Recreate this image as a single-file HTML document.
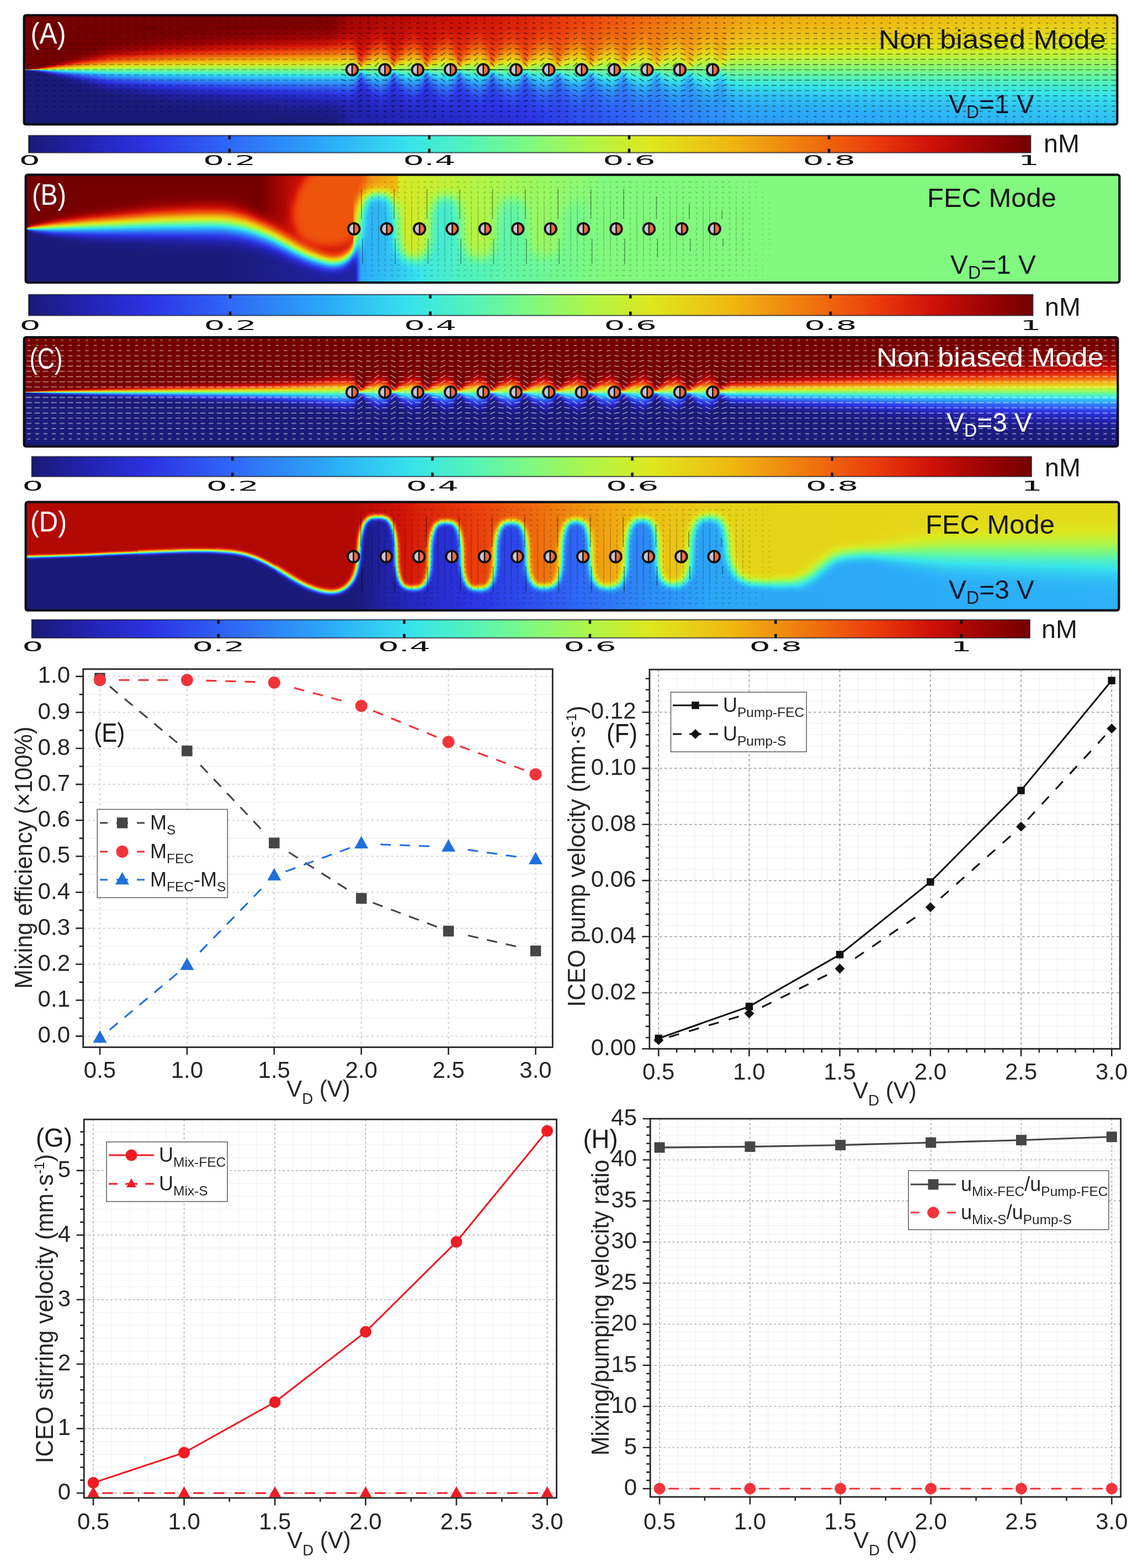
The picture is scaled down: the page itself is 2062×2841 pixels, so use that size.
<!DOCTYPE html>
<html lang="en"><head><meta charset="utf-8"><title>Figure</title>
<style>html,body{margin:0;padding:0;background:#fff}svg{display:block}text{font-family:"Liberation Sans",sans-serif}.dv{font-family:"DejaVu Sans","Liberation Sans",sans-serif}</style></head><body>
<svg width="2062" height="2841" viewBox="0 0 2062 2841">
<defs>
<filter id="jet" x="0" y="0" width="2062" height="1200" filterUnits="userSpaceOnUse" color-interpolation-filters="sRGB"><feComponentTransfer><feFuncR type="table" tableValues="0.102 0.115 0.128 0.141 0.152 0.162 0.173 0.176 0.18 0.184 0.188 0.185 0.182 0.179 0.176 0.173 0.184 0.196 0.208 0.22 0.256 0.293 0.329 0.387 0.444 0.502 0.565 0.627 0.69 0.75 0.81 0.871 0.888 0.906 0.924 0.941 0.941 0.941 0.941 0.941 0.936 0.931 0.925 0.889 0.852 0.816 0.74 0.665 0.593 0.524 0.455"/><feFuncG type="table" tableValues="0.102 0.115 0.128 0.141 0.162 0.183 0.204 0.255 0.306 0.357 0.408 0.461 0.515 0.568 0.621 0.675 0.729 0.784 0.839 0.894 0.915 0.936 0.957 0.965 0.973 0.98 0.975 0.97 0.965 0.946 0.928 0.91 0.863 0.816 0.769 0.722 0.655 0.588 0.522 0.455 0.387 0.319 0.251 0.191 0.131 0.071 0.049 0.027 0.013 0.006 0"/><feFuncB type="table" tableValues="0.471 0.549 0.627 0.706 0.769 0.831 0.894 0.912 0.929 0.947 0.965 0.966 0.968 0.969 0.971 0.973 0.961 0.949 0.937 0.925 0.858 0.79 0.722 0.648 0.575 0.502 0.429 0.356 0.282 0.227 0.173 0.118 0.106 0.094 0.082 0.071 0.067 0.063 0.059 0.055 0.052 0.05 0.047 0.042 0.037 0.031 0.025 0.019 0.013 0.006 0"/></feComponentTransfer></filter>
<linearGradient id="erf" x1="0" y1="0" x2="0" y2="1"><stop offset="0" stop-color="#ffffff"/><stop offset="0.0625" stop-color="#fefefe"/><stop offset="0.125" stop-color="#fdfdfd"/><stop offset="0.1875" stop-color="#fafafa"/><stop offset="0.25" stop-color="#f2f2f2"/><stop offset="0.3125" stop-color="#e3e3e3"/><stop offset="0.375" stop-color="#cacaca"/><stop offset="0.4375" stop-color="#a8a8a8"/><stop offset="0.5" stop-color="#808080"/><stop offset="0.5625" stop-color="#575757"/><stop offset="0.625" stop-color="#353535"/><stop offset="0.6875" stop-color="#1c1c1c"/><stop offset="0.75" stop-color="#0d0d0d"/><stop offset="0.8125" stop-color="#050505"/><stop offset="0.875" stop-color="#020202"/><stop offset="0.9375" stop-color="#010101"/><stop offset="1" stop-color="#000000"/></linearGradient>
<filter id="bx2" x="0" y="0" width="2062" height="1200" filterUnits="userSpaceOnUse" color-interpolation-filters="sRGB"><feGaussianBlur stdDeviation="2.5 0"/></filter>
<filter id="b4" x="0" y="0" width="2062" height="1200" filterUnits="userSpaceOnUse" color-interpolation-filters="sRGB"><feGaussianBlur stdDeviation="4"/></filter>
<filter id="b8" x="0" y="0" width="2062" height="1200" filterUnits="userSpaceOnUse" color-interpolation-filters="sRGB"><feGaussianBlur stdDeviation="8"/></filter>
<filter id="b20" x="0" y="0" width="2062" height="1200" filterUnits="userSpaceOnUse" color-interpolation-filters="sRGB"><feGaussianBlur stdDeviation="20"/></filter>
<clipPath id="cpA"><rect x="42" y="26" width="1984" height="201" rx="4"/></clipPath>
<linearGradient id="loA" gradientUnits="userSpaceOnUse" x1="42" x2="2026" y1="0" y2="0"><stop offset="0" stop-color="#000000"/><stop offset="0.2812" stop-color="#000000"/><stop offset="0.3014" stop-color="#0d0d0d"/><stop offset="0.4526" stop-color="#1c1c1c"/><stop offset="0.6593" stop-color="#454545"/><stop offset="1" stop-color="#525252"/></linearGradient>
<linearGradient id="hiA" gradientUnits="userSpaceOnUse" x1="42" x2="2026" y1="0" y2="0"><stop offset="0" stop-color="#ffffff"/><stop offset="0.2812" stop-color="#ffffff"/><stop offset="0.3014" stop-color="#f2f2f2"/><stop offset="0.4526" stop-color="#e3e3e3"/><stop offset="0.6593" stop-color="#bababa"/><stop offset="1" stop-color="#adadad"/></linearGradient>
<mask id="mA" maskUnits="userSpaceOnUse" x="32" y="16" width="2004" height="221"><rect x="32" y="16" width="2004" height="221" fill="#000"/><g filter="url(#bx2)"><path d="M34,16L34,127.2 h4L38,127.2 h4L42,127 h4L46,126.7 h4L50,126.2 h4L54,125.4 h4L58,124.6 h4L62,123.8 h4L66,123 h4L70,122.2 h4L74,120.6 h4L78,118.8 h4L82,117 h4L86,115.2 h4L90,113.4 h4L94,111.6 h4L98,109.8 h4L102,108 h4L106,106.2 h4L110,104.4 h4L114,102.6 h4L118,100.8 h4L122,99.1 h4L126,97.4 h4L130,95.6 h4L134,93.9 h4L138,92.2 h4L142,90.5 h4L146,88.7 h4L150,87 h4L154,85.3 h4L158,83.6 h4L162,81.8 h4L166,80.1 h4L170,78.4 h4L174,76.7 h4L178,74.9 h4L182,73.2 h4L186,71.5 h4L190,69.8 h4L194,68 h4L198,66.3 h4L202,65.5 h4L206,64.6 h4L210,63.8 h4L214,63 h4L218,62.2 h4L222,61.3 h4L226,60.5 h4L230,59.7 h4L234,58.8 h4L238,58 h4L242,57.2 h4L246,56.4 h4L250,55.5 h4L254,54.7 h4L258,53.9 h4L262,53.1 h4L266,52.2 h4L270,51.4 h4L274,50.6 h4L278,49.7 h4L282,48.9 h4L286,48.1 h4L290,47.3 h4L294,46.4 h4L298,45.6 h4L302,45 h4L306,44.5 h4L310,43.9 h4L314,43.4 h4L318,42.8 h4L322,42.3 h4L326,41.7 h4L330,41.2 h4L334,40.6 h4L338,40.1 h4L342,39.5 h4L346,39 h4L350,38.4 h4L354,37.9 h4L358,37.3 h4L362,36.8 h4L366,36.2 h4L370,35.7 h4L374,35.1 h4L378,34.6 h4L382,34 h4L386,33.5 h4L390,32.9 h4L394,32.4 h4L398,31.8 h4L402,31.3 h4L406,30.9 h4L410,30.4 h4L414,30 h4L418,29.5 h4L422,29 h4L426,28.6 h4L430,28.1 h4L434,27.7 h4L438,27.2 h4L442,26.7 h4L446,26.3 h4L450,25.8 h4L454,25.4 h4L458,24.9 h4L462,24.4 h4L466,24 h4L470,23.5 h4L474,23.1 h4L478,22.6 h4L482,22.1 h4L486,21.7 h4L490,21.2 h4L494,20.8 h4L498,20.3 h4L502,19.8 h4L506,19.4 h4L510,18.9 h4L514,18.5 h4L518,18 h4L522,18 h4L526,18 h4L530,18 h4L534,18 h4L538,18 h4L542,18 h4L546,18 h4L550,18 h4L554,18 h4L558,18 h4L562,18 h4L566,18 h4L570,18 h4L574,18 h4L578,18 h4L582,18 h4L586,18 h4L590,18 h4L594,18 h4L598,18 h4L602,18 h4L606,18 h4L610,18 h4L614,18 h4L618,18 h4L622,18 h4L626,18 h4L630,18 h4L634,18 h4L638,18 h4L642,18 h4L646,18 h4L650,18 h4L654,18 h4L658,18 h4L662,18 h4L666,18 h4L670,18 h4L674,18 h4L678,18 h4L682,18 h4L686,18 h4L690,18 h4L694,18 h4L698,18 h4L702,18 h4L706,18 h4L710,18 h4L714,18 h4L718,18 h4L722,18 h4L726,18 h4L730,18 h4L734,18 h4L738,18 h4L742,18 h4L746,18 h4L750,18 h4L754,18 h4L758,18 h4L762,18 h4L766,18 h4L770,18 h4L774,18 h4L778,18 h4L782,18 h4L786,18 h4L790,18 h4L794,18 h4L798,18 h4L802,18 h4L806,18 h4L810,18 h4L814,18 h4L818,18 h4L822,18 h4L826,18 h4L830,18 h4L834,18 h4L838,18 h4L842,18 h4L846,18 h4L850,18 h4L854,18 h4L858,18 h4L862,18 h4L866,18 h4L870,18 h4L874,18 h4L878,18 h4L882,18 h4L886,18 h4L890,18 h4L894,18 h4L898,18 h4L902,18 h4L906,18 h4L910,18 h4L914,18 h4L918,18 h4L922,18 h4L926,18 h4L930,18 h4L934,18 h4L938,18 h4L942,18 h4L946,18 h4L950,18 h4L954,18 h4L958,18 h4L962,18 h4L966,18 h4L970,18 h4L974,18 h4L978,18 h4L982,18 h4L986,18 h4L990,18 h4L994,18 h4L998,18 h4L1002,18 h4L1006,18 h4L1010,18 h4L1014,18 h4L1018,18 h4L1022,18 h4L1026,18 h4L1030,18 h4L1034,18 h4L1038,18 h4L1042,18 h4L1046,18 h4L1050,18 h4L1054,18 h4L1058,18 h4L1062,18 h4L1066,18 h4L1070,18 h4L1074,18 h4L1078,18 h4L1082,18 h4L1086,18 h4L1090,18 h4L1094,18 h4L1098,18 h4L1102,18 h4L1106,18 h4L1110,18 h4L1114,18 h4L1118,18 h4L1122,18 h4L1126,18 h4L1130,18 h4L1134,18 h4L1138,18 h4L1142,18 h4L1146,18 h4L1150,18 h4L1154,18 h4L1158,18 h4L1162,18 h4L1166,18 h4L1170,18 h4L1174,18 h4L1178,18 h4L1182,18 h4L1186,18 h4L1190,18 h4L1194,18 h4L1198,18 h4L1202,18 h4L1206,18 h4L1210,18 h4L1214,18 h4L1218,18 h4L1222,18 h4L1226,18 h4L1230,18 h4L1234,18 h4L1238,18 h4L1242,18 h4L1246,18 h4L1250,18 h4L1254,18 h4L1258,18 h4L1262,18 h4L1266,18 h4L1270,18 h4L1274,18 h4L1278,18 h4L1282,18 h4L1286,18 h4L1290,18 h4L1294,18 h4L1298,18 h4L1302,18 h4L1306,18 h4L1310,18 h4L1314,18 h4L1318,18 h4L1322,18 h4L1326,18 h4L1330,18 h4L1334,18 h4L1338,18 h4L1342,18 h4L1346,18 h4L1350,18 h4L1354,18 h4L1358,18 h4L1362,18 h4L1366,18 h4L1370,18 h4L1374,18 h4L1378,18 h4L1382,18 h4L1386,18 h4L1390,18 h4L1394,18 h4L1398,18 h4L1402,18 h4L1406,18 h4L1410,18 h4L1414,18 h4L1418,18 h4L1422,18 h4L1426,18 h4L1430,18 h4L1434,18 h4L1438,18 h4L1442,18 h4L1446,18 h4L1450,18 h4L1454,18 h4L1458,18 h4L1462,18 h4L1466,18 h4L1470,18 h4L1474,18 h4L1478,18 h4L1482,18 h4L1486,18 h4L1490,18 h4L1494,18 h4L1498,18 h4L1502,18 h4L1506,18 h4L1510,18 h4L1514,18 h4L1518,18 h4L1522,18 h4L1526,18 h4L1530,18 h4L1534,18 h4L1538,18 h4L1542,18 h4L1546,18 h4L1550,18 h4L1554,18 h4L1558,18 h4L1562,18 h4L1566,18 h4L1570,18 h4L1574,18 h4L1578,18 h4L1582,18 h4L1586,18 h4L1590,18 h4L1594,18 h4L1598,18 h4L1602,18 h4L1606,18 h4L1610,18 h4L1614,18 h4L1618,18 h4L1622,18 h4L1626,18 h4L1630,18 h4L1634,18 h4L1638,18 h4L1642,18 h4L1646,18 h4L1650,18 h4L1654,18 h4L1658,18 h4L1662,18 h4L1666,18 h4L1670,18 h4L1674,18 h4L1678,18 h4L1682,18 h4L1686,18 h4L1690,18 h4L1694,18 h4L1698,18 h4L1702,18 h4L1706,18 h4L1710,18 h4L1714,18 h4L1718,18 h4L1722,18 h4L1726,18 h4L1730,18 h4L1734,18 h4L1738,18 h4L1742,18 h4L1746,18 h4L1750,18 h4L1754,18 h4L1758,18 h4L1762,18 h4L1766,18 h4L1770,18 h4L1774,18 h4L1778,18 h4L1782,18 h4L1786,18 h4L1790,18 h4L1794,18 h4L1798,18 h4L1802,18 h4L1806,18 h4L1810,18 h4L1814,18 h4L1818,18 h4L1822,18 h4L1826,18 h4L1830,18 h4L1834,18 h4L1838,18 h4L1842,18 h4L1846,18 h4L1850,18 h4L1854,18 h4L1858,18 h4L1862,18 h4L1866,18 h4L1870,18 h4L1874,18 h4L1878,18 h4L1882,18 h4L1886,18 h4L1890,18 h4L1894,18 h4L1898,18 h4L1902,18 h4L1906,18 h4L1910,18 h4L1914,18 h4L1918,18 h4L1922,18 h4L1926,18 h4L1930,18 h4L1934,18 h4L1938,18 h4L1942,18 h4L1946,18 h4L1950,18 h4L1954,18 h4L1958,18 h4L1962,18 h4L1966,18 h4L1970,18 h4L1974,18 h4L1978,18 h4L1982,18 h4L1986,18 h4L1990,18 h4L1994,18 h4L1998,18 h4L2002,18 h4L2006,18 h4L2010,18 h4L2014,18 h4L2018,18 h4L2022,18 h4L2026,18 h4L2030,18 h4L2034,16Z" fill="#fff"/><g fill="url(#erf)"><rect x="34" y="125.2" width="4.3" height="2.3"/><rect x="38" y="125.2" width="4.3" height="2.3"/><rect x="42" y="125" width="4.3" height="2.9"/><rect x="46" y="124.7" width="4.3" height="3.4"/><rect x="50" y="124.2" width="4.3" height="4.5"/><rect x="54" y="123.4" width="4.3" height="6.1"/><rect x="58" y="122.6" width="4.3" height="7.7"/><rect x="62" y="121.8" width="4.3" height="9.3"/><rect x="66" y="121" width="4.3" height="10.9"/><rect x="70" y="120.2" width="4.3" height="12.5"/><rect x="74" y="118.6" width="4.3" height="15.6"/><rect x="78" y="116.8" width="4.3" height="19.2"/><rect x="82" y="115" width="4.3" height="22.8"/><rect x="86" y="113.2" width="4.3" height="26.4"/><rect x="90" y="111.4" width="4.3" height="30"/><rect x="94" y="109.6" width="4.3" height="33.6"/><rect x="98" y="107.8" width="4.3" height="37.2"/><rect x="102" y="106" width="4.3" height="40.8"/><rect x="106" y="104.2" width="4.3" height="44.4"/><rect x="110" y="102.4" width="4.3" height="48"/><rect x="114" y="100.6" width="4.3" height="51.6"/><rect x="118" y="98.8" width="4.3" height="55.2"/><rect x="122" y="97.1" width="4.3" height="58.6"/><rect x="126" y="95.4" width="4.3" height="62.1"/><rect x="130" y="93.6" width="4.3" height="65.5"/><rect x="134" y="91.9" width="4.3" height="69"/><rect x="138" y="90.2" width="4.3" height="72.4"/><rect x="142" y="88.5" width="4.3" height="75.9"/><rect x="146" y="86.7" width="4.3" height="79.3"/><rect x="150" y="85" width="4.3" height="82.8"/><rect x="154" y="83.3" width="4.3" height="86.2"/><rect x="158" y="81.6" width="4.3" height="89.7"/><rect x="162" y="79.8" width="4.3" height="93.1"/><rect x="166" y="78.1" width="4.3" height="96.6"/><rect x="170" y="76.4" width="4.3" height="100"/><rect x="174" y="74.7" width="4.3" height="103.5"/><rect x="178" y="72.9" width="4.3" height="106.9"/><rect x="182" y="71.2" width="4.3" height="110.4"/><rect x="186" y="69.5" width="4.3" height="113.8"/><rect x="190" y="67.8" width="4.3" height="117.3"/><rect x="194" y="66" width="4.3" height="120.7"/><rect x="198" y="64.3" width="4.3" height="124.2"/><rect x="202" y="63.5" width="4.3" height="125.9"/><rect x="206" y="62.6" width="4.3" height="127.5"/><rect x="210" y="61.8" width="4.3" height="129.2"/><rect x="214" y="61" width="4.3" height="130.8"/><rect x="218" y="60.2" width="4.3" height="132.5"/><rect x="222" y="59.3" width="4.3" height="134.1"/><rect x="226" y="58.5" width="4.3" height="135.8"/><rect x="230" y="57.7" width="4.3" height="137.4"/><rect x="234" y="56.8" width="4.3" height="139.1"/><rect x="238" y="56" width="4.3" height="140.8"/><rect x="242" y="55.2" width="4.3" height="142.4"/><rect x="246" y="54.4" width="4.3" height="144.1"/><rect x="250" y="53.5" width="4.3" height="145.7"/><rect x="254" y="52.7" width="4.3" height="147.4"/><rect x="258" y="51.9" width="4.3" height="149"/><rect x="262" y="51.1" width="4.3" height="150.7"/><rect x="266" y="50.2" width="4.3" height="152.4"/><rect x="270" y="49.4" width="4.3" height="154"/><rect x="274" y="48.6" width="4.3" height="155.7"/><rect x="278" y="47.7" width="4.3" height="157.3"/><rect x="282" y="46.9" width="4.3" height="159"/><rect x="286" y="46.1" width="4.3" height="160.6"/><rect x="290" y="45.3" width="4.3" height="162.3"/><rect x="294" y="44.4" width="4.3" height="163.9"/><rect x="298" y="43.6" width="4.3" height="165.6"/><rect x="302" y="43" width="4.3" height="166.7"/><rect x="306" y="42.5" width="4.3" height="167.8"/><rect x="310" y="41.9" width="4.3" height="168.9"/><rect x="314" y="41.4" width="4.3" height="170"/><rect x="318" y="40.8" width="4.3" height="171.1"/><rect x="322" y="40.3" width="4.3" height="172.2"/><rect x="326" y="39.7" width="4.3" height="173.3"/><rect x="330" y="39.2" width="4.3" height="174.4"/><rect x="334" y="38.6" width="4.3" height="175.5"/><rect x="338" y="38.1" width="4.3" height="176.6"/><rect x="342" y="37.5" width="4.3" height="177.7"/><rect x="346" y="37" width="4.3" height="178.8"/><rect x="350" y="36.4" width="4.3" height="180"/><rect x="354" y="35.9" width="4.3" height="181.1"/><rect x="358" y="35.3" width="4.3" height="182.2"/><rect x="362" y="34.8" width="4.3" height="183.3"/><rect x="366" y="34.2" width="4.3" height="184.4"/><rect x="370" y="33.7" width="4.3" height="185.5"/><rect x="374" y="33.1" width="4.3" height="186.6"/><rect x="378" y="32.6" width="4.3" height="187.7"/><rect x="382" y="32" width="4.3" height="188.8"/><rect x="386" y="31.5" width="4.3" height="189.9"/><rect x="390" y="30.9" width="4.3" height="191"/><rect x="394" y="30.4" width="4.3" height="192.1"/><rect x="398" y="29.8" width="4.3" height="193.2"/><rect x="402" y="29.3" width="4.3" height="194.1"/><rect x="406" y="28.9" width="4.3" height="195"/><rect x="410" y="28.4" width="4.3" height="196"/><rect x="414" y="28" width="4.3" height="196.9"/><rect x="418" y="27.5" width="4.3" height="197.8"/><rect x="422" y="27" width="4.3" height="198.7"/><rect x="426" y="26.6" width="4.3" height="199.6"/><rect x="430" y="26.1" width="4.3" height="200.6"/><rect x="434" y="25.7" width="4.3" height="201.5"/><rect x="438" y="25.2" width="4.3" height="202.4"/><rect x="442" y="24.7" width="4.3" height="203.3"/><rect x="446" y="24.3" width="4.3" height="204.2"/><rect x="450" y="23.8" width="4.3" height="205.2"/><rect x="454" y="23.4" width="4.3" height="206.1"/><rect x="458" y="22.9" width="4.3" height="207"/><rect x="462" y="22.4" width="4.3" height="207.9"/><rect x="466" y="22" width="4.3" height="208.8"/><rect x="470" y="21.5" width="4.3" height="209.8"/><rect x="474" y="21.1" width="4.3" height="210.7"/><rect x="478" y="20.6" width="4.3" height="211.6"/><rect x="482" y="20.1" width="4.3" height="212.5"/><rect x="486" y="19.7" width="4.3" height="213.4"/><rect x="490" y="19.2" width="4.3" height="214.4"/><rect x="494" y="18.8" width="4.3" height="215.3"/><rect x="498" y="18.3" width="4.3" height="216.2"/><rect x="502" y="17.8" width="4.3" height="217.1"/><rect x="506" y="17.4" width="4.3" height="218"/><rect x="510" y="16.9" width="4.3" height="219"/><rect x="514" y="16.5" width="4.3" height="219.9"/><rect x="518" y="16" width="4.3" height="220.8"/><rect x="522" y="15.5" width="4.3" height="221.7"/><rect x="526" y="15.1" width="4.3" height="222.6"/><rect x="530" y="14.6" width="4.3" height="223.6"/><rect x="534" y="14.2" width="4.3" height="224.5"/><rect x="538" y="13.7" width="4.3" height="225.4"/><rect x="542" y="13.2" width="4.3" height="226.3"/><rect x="546" y="12.8" width="4.3" height="227.2"/><rect x="550" y="12.3" width="4.3" height="228.2"/><rect x="554" y="11.9" width="4.3" height="229.1"/><rect x="558" y="11.4" width="4.3" height="230"/><rect x="562" y="10.9" width="4.3" height="230.9"/><rect x="566" y="10.5" width="4.3" height="231.8"/><rect x="570" y="10" width="4.3" height="232.8"/><rect x="574" y="9.6" width="4.3" height="233.7"/><rect x="578" y="9.1" width="4.3" height="234.6"/><rect x="582" y="8.6" width="4.3" height="235.5"/><rect x="586" y="8.2" width="4.3" height="236.4"/><rect x="590" y="7.7" width="4.3" height="237.4"/><rect x="594" y="7.3" width="4.3" height="238.3"/><rect x="598" y="6.8" width="4.3" height="239.2"/><rect x="602" y="6.5" width="4.3" height="239.9"/><rect x="606" y="6.1" width="4.3" height="240.6"/><rect x="610" y="5.8" width="4.3" height="241.3"/><rect x="614" y="5.4" width="4.3" height="241.9"/><rect x="618" y="5.1" width="4.3" height="242.6"/><rect x="622" y="4.7" width="4.3" height="243.3"/><rect x="626" y="4.4" width="4.3" height="244"/><rect x="630" y="4.1" width="4.3" height="244.7"/><rect x="634" y="3.7" width="4.3" height="245.4"/><rect x="638" y="3.4" width="4.3" height="246.1"/><rect x="642" y="3" width="4.3" height="246.8"/><rect x="646" y="2.7" width="4.3" height="247.4"/><rect x="650" y="2.3" width="4.3" height="248.1"/><rect x="654" y="2" width="4.3" height="248.8"/><rect x="658" y="1.6" width="4.3" height="249.5"/><rect x="662" y="1.3" width="4.3" height="250.2"/><rect x="666" y="1" width="4.3" height="250.9"/><rect x="670" y="0.6" width="4.3" height="251.6"/><rect x="674" y="0.3" width="4.3" height="252.3"/><rect x="678" y="-0.1" width="4.3" height="252.9"/><rect x="682" y="-0.4" width="4.3" height="253.6"/><rect x="686" y="-0.8" width="4.3" height="254.3"/><rect x="690" y="-1.1" width="4.3" height="255"/><rect x="694" y="-1.4" width="4.3" height="255.7"/><rect x="698" y="-1.8" width="4.3" height="256.4"/><rect x="702" y="-2.1" width="4.3" height="257.1"/><rect x="706" y="-2.5" width="4.3" height="257.7"/><rect x="710" y="-2.8" width="4.3" height="258.4"/><rect x="714" y="-3.2" width="4.3" height="259.1"/><rect x="718" y="-3.5" width="4.3" height="259.8"/><rect x="722" y="-3.8" width="4.3" height="260.5"/><rect x="726" y="-4.2" width="4.3" height="261.2"/><rect x="730" y="-4.5" width="4.3" height="261.9"/><rect x="734" y="-4.9" width="4.3" height="262.6"/><rect x="738" y="-5.2" width="4.3" height="263.2"/><rect x="742" y="-5.6" width="4.3" height="263.9"/><rect x="746" y="-5.9" width="4.3" height="264.6"/><rect x="750" y="-6.3" width="4.3" height="265.3"/><rect x="754" y="-6.6" width="4.3" height="266"/><rect x="758" y="-6.9" width="4.3" height="266.7"/><rect x="762" y="-7.3" width="4.3" height="267.4"/><rect x="766" y="-7.6" width="4.3" height="268.1"/><rect x="770" y="-8" width="4.3" height="268.7"/><rect x="774" y="-8.3" width="4.3" height="269.4"/><rect x="778" y="-8.7" width="4.3" height="270.1"/><rect x="782" y="-9" width="4.3" height="270.8"/><rect x="786" y="-9.3" width="4.3" height="271.5"/><rect x="790" y="-9.7" width="4.3" height="272.2"/><rect x="794" y="-10" width="4.3" height="272.9"/><rect x="798" y="-10.4" width="4.3" height="273.5"/><rect x="802" y="-10.7" width="4.3" height="274.2"/><rect x="806" y="-11.1" width="4.3" height="274.9"/><rect x="810" y="-11.4" width="4.3" height="275.6"/><rect x="814" y="-11.7" width="4.3" height="276.3"/><rect x="818" y="-12.1" width="4.3" height="277"/><rect x="822" y="-12.4" width="4.3" height="277.7"/><rect x="826" y="-12.8" width="4.3" height="278.4"/><rect x="830" y="-13.1" width="4.3" height="279"/><rect x="834" y="-13.5" width="4.3" height="279.7"/><rect x="838" y="-13.8" width="4.3" height="280.4"/><rect x="842" y="-14.2" width="4.3" height="281.1"/><rect x="846" y="-14.5" width="4.3" height="281.8"/><rect x="850" y="-14.8" width="4.3" height="282.5"/><rect x="854" y="-15.2" width="4.3" height="283.2"/><rect x="858" y="-15.5" width="4.3" height="283.9"/><rect x="862" y="-15.9" width="4.3" height="284.5"/><rect x="866" y="-16.2" width="4.3" height="285.2"/><rect x="870" y="-16.6" width="4.3" height="285.9"/><rect x="874" y="-16.9" width="4.3" height="286.6"/><rect x="878" y="-17.2" width="4.3" height="287.3"/><rect x="882" y="-17.6" width="4.3" height="288"/><rect x="886" y="-17.9" width="4.3" height="288.7"/><rect x="890" y="-18.3" width="4.3" height="289.3"/><rect x="894" y="-18.6" width="4.3" height="290"/><rect x="898" y="-19" width="4.3" height="290.7"/><rect x="902" y="-19.3" width="4.3" height="291.4"/><rect x="906" y="-19.6" width="4.3" height="292.1"/><rect x="910" y="-20" width="4.3" height="292.8"/><rect x="914" y="-20.3" width="4.3" height="293.5"/><rect x="918" y="-20.7" width="4.3" height="294.2"/><rect x="922" y="-21" width="4.3" height="294.8"/><rect x="926" y="-21.4" width="4.3" height="295.5"/><rect x="930" y="-21.7" width="4.3" height="296.2"/><rect x="934" y="-22.1" width="4.3" height="296.9"/><rect x="938" y="-22.4" width="4.3" height="297.6"/><rect x="942" y="-22.7" width="4.3" height="298.3"/><rect x="946" y="-23.1" width="4.3" height="299"/><rect x="950" y="-23.4" width="4.3" height="299.7"/><rect x="954" y="-23.8" width="4.3" height="300.3"/><rect x="958" y="-24.1" width="4.3" height="301"/><rect x="962" y="-24.5" width="4.3" height="301.7"/><rect x="966" y="-24.8" width="4.3" height="302.4"/><rect x="970" y="-25.1" width="4.3" height="303.1"/><rect x="974" y="-25.5" width="4.3" height="303.8"/><rect x="978" y="-25.8" width="4.3" height="304.5"/><rect x="982" y="-26.2" width="4.3" height="305.1"/><rect x="986" y="-26.5" width="4.3" height="305.8"/><rect x="990" y="-26.9" width="4.3" height="306.5"/><rect x="994" y="-27.2" width="4.3" height="307.2"/><rect x="998" y="-27.5" width="4.3" height="307.9"/><rect x="1002" y="-27.9" width="4.3" height="308.6"/><rect x="1006" y="-28.2" width="4.3" height="309.3"/><rect x="1010" y="-28.6" width="4.3" height="310"/><rect x="1014" y="-28.9" width="4.3" height="310.6"/><rect x="1018" y="-29.3" width="4.3" height="311.3"/><rect x="1022" y="-29.6" width="4.3" height="312"/><rect x="1026" y="-30" width="4.3" height="312.7"/><rect x="1030" y="-30.3" width="4.3" height="313.4"/><rect x="1034" y="-30.6" width="4.3" height="314.1"/><rect x="1038" y="-31" width="4.3" height="314.8"/><rect x="1042" y="-31.3" width="4.3" height="315.4"/><rect x="1046" y="-31.7" width="4.3" height="316.1"/><rect x="1050" y="-32" width="4.3" height="316.8"/><rect x="1054" y="-32.4" width="4.3" height="317.5"/><rect x="1058" y="-32.7" width="4.3" height="318.2"/><rect x="1062" y="-33" width="4.3" height="318.9"/><rect x="1066" y="-33.4" width="4.3" height="319.6"/><rect x="1070" y="-33.7" width="4.3" height="320.3"/><rect x="1074" y="-34.1" width="4.3" height="320.9"/><rect x="1078" y="-34.4" width="4.3" height="321.6"/><rect x="1082" y="-34.8" width="4.3" height="322.3"/><rect x="1086" y="-35.1" width="4.3" height="323"/><rect x="1090" y="-35.4" width="4.3" height="323.7"/><rect x="1094" y="-35.8" width="4.3" height="324.4"/><rect x="1098" y="-36.1" width="4.3" height="325.1"/><rect x="1102" y="-36.5" width="4.3" height="325.8"/><rect x="1106" y="-36.8" width="4.3" height="326.4"/><rect x="1110" y="-37.2" width="4.3" height="327.1"/><rect x="1114" y="-37.5" width="4.3" height="327.8"/><rect x="1118" y="-37.9" width="4.3" height="328.5"/><rect x="1122" y="-38.2" width="4.3" height="329.2"/><rect x="1126" y="-38.5" width="4.3" height="329.9"/><rect x="1130" y="-38.9" width="4.3" height="330.6"/><rect x="1134" y="-39.2" width="4.3" height="331.2"/><rect x="1138" y="-39.6" width="4.3" height="331.9"/><rect x="1142" y="-39.9" width="4.3" height="332.6"/><rect x="1146" y="-40.3" width="4.3" height="333.3"/><rect x="1150" y="-40.6" width="4.3" height="334"/><rect x="1154" y="-40.9" width="4.3" height="334.7"/><rect x="1158" y="-41.3" width="4.3" height="335.4"/><rect x="1162" y="-41.6" width="4.3" height="336.1"/><rect x="1166" y="-42" width="4.3" height="336.7"/><rect x="1170" y="-42.3" width="4.3" height="337.4"/><rect x="1174" y="-42.7" width="4.3" height="338.1"/><rect x="1178" y="-43" width="4.3" height="338.8"/><rect x="1182" y="-43.3" width="4.3" height="339.5"/><rect x="1186" y="-43.7" width="4.3" height="340.2"/><rect x="1190" y="-44" width="4.3" height="340.9"/><rect x="1194" y="-44.4" width="4.3" height="341.6"/><rect x="1198" y="-44.7" width="4.3" height="342.2"/><rect x="1202" y="-45.1" width="4.3" height="342.9"/><rect x="1206" y="-45.4" width="4.3" height="343.6"/><rect x="1210" y="-45.8" width="4.3" height="344.3"/><rect x="1214" y="-46.1" width="4.3" height="345"/><rect x="1218" y="-46.4" width="4.3" height="345.7"/><rect x="1222" y="-46.8" width="4.3" height="346.4"/><rect x="1226" y="-47.1" width="4.3" height="347"/><rect x="1230" y="-47.5" width="4.3" height="347.7"/><rect x="1234" y="-47.8" width="4.3" height="348.4"/><rect x="1238" y="-48.2" width="4.3" height="349.1"/><rect x="1242" y="-48.5" width="4.3" height="349.8"/><rect x="1246" y="-48.8" width="4.3" height="350.5"/><rect x="1250" y="-49.2" width="4.3" height="351.2"/><rect x="1254" y="-49.5" width="4.3" height="351.9"/><rect x="1258" y="-49.9" width="4.3" height="352.5"/><rect x="1262" y="-50.2" width="4.3" height="353.2"/><rect x="1266" y="-50.6" width="4.3" height="353.9"/><rect x="1270" y="-50.9" width="4.3" height="354.6"/><rect x="1274" y="-51.2" width="4.3" height="355.3"/><rect x="1278" y="-51.6" width="4.3" height="356"/><rect x="1282" y="-51.9" width="4.3" height="356.7"/><rect x="1286" y="-52.3" width="4.3" height="357.4"/><rect x="1290" y="-52.6" width="4.3" height="358"/><rect x="1294" y="-53" width="4.3" height="358.7"/><rect x="1298" y="-53.3" width="4.3" height="359.4"/><rect x="1302" y="-53.7" width="4.3" height="360.1"/><rect x="1306" y="-54" width="4.3" height="360.8"/><rect x="1310" y="-54.3" width="4.3" height="361.5"/><rect x="1314" y="-54.7" width="4.3" height="362.2"/><rect x="1318" y="-55" width="4.3" height="362.8"/><rect x="1322" y="-55.4" width="4.3" height="363.5"/><rect x="1326" y="-55.7" width="4.3" height="364.2"/><rect x="1330" y="-56.1" width="4.3" height="364.9"/><rect x="1334" y="-56.4" width="4.3" height="365.6"/><rect x="1338" y="-56.7" width="4.3" height="366.3"/><rect x="1342" y="-57.1" width="4.3" height="367"/><rect x="1346" y="-57.4" width="4.3" height="367.7"/><rect x="1350" y="-57.7" width="4.3" height="368.3"/><rect x="1354" y="-58" width="4.3" height="368.8"/><rect x="1358" y="-58.3" width="4.3" height="369.4"/><rect x="1362" y="-58.6" width="4.3" height="369.9"/><rect x="1366" y="-58.8" width="4.3" height="370.4"/><rect x="1370" y="-59.1" width="4.3" height="371"/><rect x="1374" y="-59.4" width="4.3" height="371.5"/><rect x="1378" y="-59.6" width="4.3" height="372.1"/><rect x="1382" y="-59.9" width="4.3" height="372.6"/><rect x="1386" y="-60.2" width="4.3" height="373.2"/><rect x="1390" y="-60.5" width="4.3" height="373.7"/><rect x="1394" y="-60.7" width="4.3" height="374.3"/><rect x="1398" y="-61" width="4.3" height="374.8"/><rect x="1402" y="-61.3" width="4.3" height="375.3"/><rect x="1406" y="-61.5" width="4.3" height="375.9"/><rect x="1410" y="-61.8" width="4.3" height="376.4"/><rect x="1414" y="-62.1" width="4.3" height="377"/><rect x="1418" y="-62.4" width="4.3" height="377.5"/><rect x="1422" y="-62.6" width="4.3" height="378.1"/><rect x="1426" y="-62.9" width="4.3" height="378.6"/><rect x="1430" y="-63.2" width="4.3" height="379.2"/><rect x="1434" y="-63.5" width="4.3" height="379.7"/><rect x="1438" y="-63.7" width="4.3" height="380.2"/><rect x="1442" y="-64" width="4.3" height="380.8"/><rect x="1446" y="-64.3" width="4.3" height="381.3"/><rect x="1450" y="-64.5" width="4.3" height="381.9"/><rect x="1454" y="-64.8" width="4.3" height="382.4"/><rect x="1458" y="-65.1" width="4.3" height="383"/><rect x="1462" y="-65.4" width="4.3" height="383.5"/><rect x="1466" y="-65.6" width="4.3" height="384.1"/><rect x="1470" y="-65.9" width="4.3" height="384.6"/><rect x="1474" y="-66.2" width="4.3" height="385.1"/><rect x="1478" y="-66.4" width="4.3" height="385.7"/><rect x="1482" y="-66.7" width="4.3" height="386.2"/><rect x="1486" y="-67" width="4.3" height="386.8"/><rect x="1490" y="-67.3" width="4.3" height="387.3"/><rect x="1494" y="-67.5" width="4.3" height="387.9"/><rect x="1498" y="-67.8" width="4.3" height="388.4"/><rect x="1502" y="-68.1" width="4.3" height="389"/><rect x="1506" y="-68.4" width="4.3" height="389.5"/><rect x="1510" y="-68.6" width="4.3" height="390"/><rect x="1514" y="-68.9" width="4.3" height="390.6"/><rect x="1518" y="-69.2" width="4.3" height="391.1"/><rect x="1522" y="-69.4" width="4.3" height="391.7"/><rect x="1526" y="-69.7" width="4.3" height="392.2"/><rect x="1530" y="-70" width="4.3" height="392.8"/><rect x="1534" y="-70.3" width="4.3" height="393.3"/><rect x="1538" y="-70.5" width="4.3" height="393.9"/><rect x="1542" y="-70.8" width="4.3" height="394.4"/><rect x="1546" y="-71.1" width="4.3" height="394.9"/><rect x="1550" y="-71.3" width="4.3" height="395.5"/><rect x="1554" y="-71.6" width="4.3" height="396"/><rect x="1558" y="-71.9" width="4.3" height="396.6"/><rect x="1562" y="-72.2" width="4.3" height="397.1"/><rect x="1566" y="-72.4" width="4.3" height="397.7"/><rect x="1570" y="-72.7" width="4.3" height="398.2"/><rect x="1574" y="-73" width="4.3" height="398.8"/><rect x="1578" y="-73.3" width="4.3" height="399.3"/><rect x="1582" y="-73.5" width="4.3" height="399.8"/><rect x="1586" y="-73.8" width="4.3" height="400.4"/><rect x="1590" y="-74.1" width="4.3" height="400.9"/><rect x="1594" y="-74.3" width="4.3" height="401.5"/><rect x="1598" y="-74.6" width="4.3" height="402"/><rect x="1602" y="-74.9" width="4.3" height="402.6"/><rect x="1606" y="-75.2" width="4.3" height="403.1"/><rect x="1610" y="-75.4" width="4.3" height="403.7"/><rect x="1614" y="-75.7" width="4.3" height="404.2"/><rect x="1618" y="-76" width="4.3" height="404.7"/><rect x="1622" y="-76.2" width="4.3" height="405.3"/><rect x="1626" y="-76.5" width="4.3" height="405.8"/><rect x="1630" y="-76.8" width="4.3" height="406.4"/><rect x="1634" y="-77.1" width="4.3" height="406.9"/><rect x="1638" y="-77.3" width="4.3" height="407.5"/><rect x="1642" y="-77.6" width="4.3" height="408"/><rect x="1646" y="-77.9" width="4.3" height="408.6"/><rect x="1650" y="-78.2" width="4.3" height="409.1"/><rect x="1654" y="-78.4" width="4.3" height="409.6"/><rect x="1658" y="-78.7" width="4.3" height="410.2"/><rect x="1662" y="-79" width="4.3" height="410.7"/><rect x="1666" y="-79.2" width="4.3" height="411.3"/><rect x="1670" y="-79.5" width="4.3" height="411.8"/><rect x="1674" y="-79.8" width="4.3" height="412.4"/><rect x="1678" y="-80.1" width="4.3" height="412.9"/><rect x="1682" y="-80.3" width="4.3" height="413.5"/><rect x="1686" y="-80.6" width="4.3" height="414"/><rect x="1690" y="-80.9" width="4.3" height="414.5"/><rect x="1694" y="-81.1" width="4.3" height="415.1"/><rect x="1698" y="-81.4" width="4.3" height="415.6"/><rect x="1702" y="-81.7" width="4.3" height="416.2"/><rect x="1706" y="-82" width="4.3" height="416.7"/><rect x="1710" y="-82.2" width="4.3" height="417.3"/><rect x="1714" y="-82.5" width="4.3" height="417.8"/><rect x="1718" y="-82.8" width="4.3" height="418.4"/><rect x="1722" y="-83" width="4.3" height="418.9"/><rect x="1726" y="-83.3" width="4.3" height="419.4"/><rect x="1730" y="-83.6" width="4.3" height="420"/><rect x="1734" y="-83.9" width="4.3" height="420.5"/><rect x="1738" y="-84.1" width="4.3" height="421.1"/><rect x="1742" y="-84.4" width="4.3" height="421.6"/><rect x="1746" y="-84.7" width="4.3" height="422.2"/><rect x="1750" y="-85" width="4.3" height="422.7"/><rect x="1754" y="-85.2" width="4.3" height="423.3"/><rect x="1758" y="-85.5" width="4.3" height="423.8"/><rect x="1762" y="-85.8" width="4.3" height="424.3"/><rect x="1766" y="-86" width="4.3" height="424.9"/><rect x="1770" y="-86.3" width="4.3" height="425.4"/><rect x="1774" y="-86.6" width="4.3" height="426"/><rect x="1778" y="-86.9" width="4.3" height="426.5"/><rect x="1782" y="-87.1" width="4.3" height="427.1"/><rect x="1786" y="-87.4" width="4.3" height="427.6"/><rect x="1790" y="-87.7" width="4.3" height="428.2"/><rect x="1794" y="-87.9" width="4.3" height="428.7"/><rect x="1798" y="-88.2" width="4.3" height="429.2"/><rect x="1802" y="-88.5" width="4.3" height="429.8"/><rect x="1806" y="-88.8" width="4.3" height="430.3"/><rect x="1810" y="-89" width="4.3" height="430.9"/><rect x="1814" y="-89.3" width="4.3" height="431.4"/><rect x="1818" y="-89.6" width="4.3" height="432"/><rect x="1822" y="-89.9" width="4.3" height="432.5"/><rect x="1826" y="-90.1" width="4.3" height="433.1"/><rect x="1830" y="-90.4" width="4.3" height="433.6"/><rect x="1834" y="-90.7" width="4.3" height="434.1"/><rect x="1838" y="-90.9" width="4.3" height="434.7"/><rect x="1842" y="-91.2" width="4.3" height="435.2"/><rect x="1846" y="-91.5" width="4.3" height="435.8"/><rect x="1850" y="-91.8" width="4.3" height="436.3"/><rect x="1854" y="-92" width="4.3" height="436.9"/><rect x="1858" y="-92.3" width="4.3" height="437.4"/><rect x="1862" y="-92.6" width="4.3" height="438"/><rect x="1866" y="-92.8" width="4.3" height="438.5"/><rect x="1870" y="-93.1" width="4.3" height="439"/><rect x="1874" y="-93.4" width="4.3" height="439.6"/><rect x="1878" y="-93.7" width="4.3" height="440.1"/><rect x="1882" y="-93.9" width="4.3" height="440.7"/><rect x="1886" y="-94.2" width="4.3" height="441.2"/><rect x="1890" y="-94.5" width="4.3" height="441.8"/><rect x="1894" y="-94.8" width="4.3" height="442.3"/><rect x="1898" y="-95" width="4.3" height="442.9"/><rect x="1902" y="-95.3" width="4.3" height="443.4"/><rect x="1906" y="-95.6" width="4.3" height="443.9"/><rect x="1910" y="-95.8" width="4.3" height="444.5"/><rect x="1914" y="-96.1" width="4.3" height="445"/><rect x="1918" y="-96.4" width="4.3" height="445.6"/><rect x="1922" y="-96.7" width="4.3" height="446.1"/><rect x="1926" y="-96.9" width="4.3" height="446.7"/><rect x="1930" y="-97.2" width="4.3" height="447.2"/><rect x="1934" y="-97.5" width="4.3" height="447.8"/><rect x="1938" y="-97.7" width="4.3" height="448.3"/><rect x="1942" y="-98" width="4.3" height="448.8"/><rect x="1946" y="-98.3" width="4.3" height="449.4"/><rect x="1950" y="-98.6" width="4.3" height="449.9"/><rect x="1954" y="-98.8" width="4.3" height="450.5"/><rect x="1958" y="-99.1" width="4.3" height="451"/><rect x="1962" y="-99.4" width="4.3" height="451.6"/><rect x="1966" y="-99.7" width="4.3" height="452.1"/><rect x="1970" y="-99.9" width="4.3" height="452.7"/><rect x="1974" y="-100.2" width="4.3" height="453.2"/><rect x="1978" y="-100.5" width="4.3" height="453.7"/><rect x="1982" y="-100.7" width="4.3" height="454.3"/><rect x="1986" y="-101" width="4.3" height="454.8"/><rect x="1990" y="-101.3" width="4.3" height="455.4"/><rect x="1994" y="-101.6" width="4.3" height="455.9"/><rect x="1998" y="-101.8" width="4.3" height="456.5"/><rect x="2002" y="-102.1" width="4.3" height="457"/><rect x="2006" y="-102.4" width="4.3" height="457.6"/><rect x="2010" y="-102.6" width="4.3" height="458.1"/><rect x="2014" y="-102.9" width="4.3" height="458.6"/><rect x="2018" y="-103.2" width="4.3" height="459.2"/><rect x="2022" y="-103.5" width="4.3" height="459.7"/><rect x="2026" y="-103.7" width="4.3" height="460.3"/><rect x="2030" y="-104" width="4.3" height="460.8"/></g><g opacity=".7"><rect x="590" y="16" width="1450" height="221" fill="#000"/><path d="M590,16L590,18 h3L593,18 h3L596,18 h3L599,18 h3L602,18 h3L605,18 h3L608,18 h3L611,18 h3L614,18 h3L617,18 h3L620,18 h3L623,18 h3L626,18 h3L629,18 h3L632,18 h3L635,21.1 h3L638,28 h3L641,38.8 h3L644,54 h3L647,74.6 h3L650,98.9 h3L653,104.7 h3L656,90.8 h3L659,79 h3L662,68.6 h3L665,59.3 h3L668,51 h3L671,43.8 h3L674,37.5 h3L677,32.4 h3L680,28.3 h3L683,25.3 h3L686,23.4 h3L689,22.6 h3L692,23.8 h3L695,28.5 h3L698,36.7 h3L701,48.2 h3L704,63 h3L707,81.1 h3L710,104.1 h3L713,101.6 h3L716,88.3 h3L719,76.8 h3L722,66.7 h3L725,57.6 h3L728,49.5 h3L731,42.4 h3L734,36.4 h3L737,31.5 h3L740,27.6 h3L743,24.8 h3L746,23.1 h3L749,22.6 h3L752,24.5 h3L755,29.9 h3L758,38.8 h3L761,50.9 h3L764,66.3 h3L767,85.2 h3L770,110.3 h3L773,98.7 h3L776,85.9 h3L779,74.7 h3L782,64.8 h3L785,55.9 h3L788,48 h3L791,41.1 h3L794,35.3 h3L797,30.6 h3L800,26.9 h3L803,24.4 h3L806,22.9 h3L809,22.7 h3L812,25.3 h3L815,31.4 h3L818,40.9 h3L821,53.8 h3L824,69.8 h3L827,89.5 h3L830,111.9 h3L833,96 h3L836,83.5 h3L839,72.6 h3L842,62.9 h3L845,54.2 h3L848,46.5 h3L851,39.9 h3L854,34.3 h3L857,29.8 h3L860,26.3 h3L863,24 h3L866,22.8 h3L869,22.9 h3L872,26.2 h3L875,33 h3L878,43.2 h3L881,56.7 h3L884,73.4 h3L887,94 h3L890,108 h3L893,93.3 h3L896,81.3 h3L899,70.6 h3L902,61.1 h3L905,52.6 h3L908,45.1 h3L911,38.7 h3L914,33.3 h3L917,29 h3L920,25.8 h3L923,23.7 h3L926,22.7 h3L929,23.3 h3L932,27.3 h3L935,34.8 h3L938,45.7 h3L941,59.8 h3L944,77.2 h3L947,98.9 h3L950,104.7 h3L953,90.8 h3L956,79 h3L959,68.6 h3L962,59.3 h3L965,51 h3L968,43.8 h3L971,37.5 h3L974,32.4 h3L977,28.3 h3L980,25.3 h3L983,23.4 h3L986,22.6 h3L989,23.8 h3L992,28.5 h3L995,36.7 h3L998,48.2 h3L1001,63 h3L1004,81.1 h3L1007,104.1 h3L1010,101.6 h3L1013,88.3 h3L1016,76.8 h3L1019,66.7 h3L1022,57.6 h3L1025,49.5 h3L1028,42.4 h3L1031,36.4 h3L1034,31.5 h3L1037,27.6 h3L1040,24.8 h3L1043,23.1 h3L1046,22.6 h3L1049,24.5 h3L1052,29.9 h3L1055,38.8 h3L1058,50.9 h3L1061,66.3 h3L1064,85.2 h3L1067,110.3 h3L1070,98.7 h3L1073,85.9 h3L1076,74.7 h3L1079,64.8 h3L1082,55.9 h3L1085,48 h3L1088,41.1 h3L1091,35.3 h3L1094,30.6 h3L1097,26.9 h3L1100,24.4 h3L1103,22.9 h3L1106,22.7 h3L1109,25.3 h3L1112,31.4 h3L1115,40.9 h3L1118,53.8 h3L1121,69.8 h3L1124,89.5 h3L1127,111.9 h3L1130,96 h3L1133,83.5 h3L1136,72.6 h3L1139,62.9 h3L1142,54.2 h3L1145,46.5 h3L1148,39.9 h3L1151,34.3 h3L1154,29.8 h3L1157,26.3 h3L1160,24 h3L1163,22.8 h3L1166,22.9 h3L1169,26.2 h3L1172,33 h3L1175,43.2 h3L1178,56.7 h3L1181,73.4 h3L1184,94 h3L1187,108 h3L1190,93.3 h3L1193,81.3 h3L1196,70.6 h3L1199,61.1 h3L1202,52.6 h3L1205,45.1 h3L1208,38.7 h3L1211,33.3 h3L1214,29 h3L1217,25.8 h3L1220,23.7 h3L1223,22.7 h3L1226,23.3 h3L1229,27.3 h3L1232,34.8 h3L1235,45.7 h3L1238,59.8 h3L1241,77.2 h3L1244,98.9 h3L1247,104.7 h3L1250,90.8 h3L1253,79 h3L1256,68.6 h3L1259,59.3 h3L1262,51 h3L1265,43.8 h3L1268,37.5 h3L1271,32.4 h3L1274,28.3 h3L1277,25.3 h3L1280,23.4 h3L1283,22.6 h3L1286,23.8 h3L1289,28.5 h3L1292,36.7 h3L1295,48.2 h3L1298,63 h3L1301,76.6 h3L1304,91 h3L1307,81.9 h3L1310,65.4 h3L1313,52.2 h3L1316,41.3 h3L1319,32.6 h3L1322,25.6 h3L1325,20.1 h3L1328,18 h3L1331,18 h3L1334,18 h3L1337,18 h3L1340,18 h3L1343,18 h3L1346,18 h3L1349,18 h3L1352,18 h3L1355,18 h3L1358,18 h3L1361,18 h3L1364,18 h3L1367,18 h3L1370,18 h3L1373,18 h3L1376,18 h3L1379,18 h3L1382,18 h3L1385,18 h3L1388,18 h3L1391,18 h3L1394,18 h3L1397,18 h3L1400,18 h3L1403,18 h3L1406,18 h3L1409,18 h3L1412,18 h3L1415,18 h3L1418,18 h3L1421,18 h3L1424,18 h3L1427,18 h3L1430,18 h3L1433,18 h3L1436,18 h3L1439,18 h3L1442,18 h3L1445,18 h3L1448,18 h3L1451,18 h3L1454,18 h3L1457,18 h3L1460,18 h3L1463,18 h3L1466,18 h3L1469,18 h3L1472,18 h3L1475,18 h3L1478,18 h3L1481,18 h3L1484,18 h3L1487,18 h3L1490,18 h3L1493,18 h3L1496,18 h3L1499,18 h3L1502,18 h3L1505,18 h3L1508,18 h3L1511,18 h3L1514,18 h3L1517,18 h3L1520,18 h3L1523,18 h3L1526,18 h3L1529,18 h3L1532,18 h3L1535,18 h3L1538,18 h3L1541,18 h3L1544,18 h3L1547,18 h3L1550,18 h3L1553,18 h3L1556,18 h3L1559,18 h3L1562,18 h3L1565,18 h3L1568,18 h3L1571,18 h3L1574,18 h3L1577,18 h3L1580,18 h3L1583,18 h3L1586,18 h3L1589,18 h3L1592,18 h3L1595,18 h3L1598,18 h3L1601,18 h3L1604,18 h3L1607,18 h3L1610,18 h3L1613,18 h3L1616,18 h3L1619,18 h3L1622,18 h3L1625,18 h3L1628,18 h3L1631,18 h3L1634,18 h3L1637,18 h3L1640,18 h3L1643,18 h3L1646,18 h3L1649,18 h3L1652,18 h3L1655,18 h3L1658,18 h3L1661,18 h3L1664,18 h3L1667,18 h3L1670,18 h3L1673,18 h3L1676,18 h3L1679,18 h3L1682,18 h3L1685,18 h3L1688,18 h3L1691,18 h3L1694,18 h3L1697,18 h3L1700,18 h3L1703,18 h3L1706,18 h3L1709,18 h3L1712,18 h3L1715,18 h3L1718,18 h3L1721,18 h3L1724,18 h3L1727,18 h3L1730,18 h3L1733,18 h3L1736,18 h3L1739,18 h3L1742,18 h3L1745,18 h3L1748,18 h3L1751,18 h3L1754,18 h3L1757,18 h3L1760,18 h3L1763,18 h3L1766,18 h3L1769,18 h3L1772,18 h3L1775,18 h3L1778,18 h3L1781,18 h3L1784,18 h3L1787,18 h3L1790,18 h3L1793,18 h3L1796,18 h3L1799,18 h3L1802,18 h3L1805,18 h3L1808,18 h3L1811,18 h3L1814,18 h3L1817,18 h3L1820,18 h3L1823,18 h3L1826,18 h3L1829,18 h3L1832,18 h3L1835,18 h3L1838,18 h3L1841,18 h3L1844,18 h3L1847,18 h3L1850,18 h3L1853,18 h3L1856,18 h3L1859,18 h3L1862,18 h3L1865,18 h3L1868,18 h3L1871,18 h3L1874,18 h3L1877,18 h3L1880,18 h3L1883,18 h3L1886,18 h3L1889,18 h3L1892,18 h3L1895,18 h3L1898,18 h3L1901,18 h3L1904,18 h3L1907,18 h3L1910,18 h3L1913,18 h3L1916,18 h3L1919,18 h3L1922,18 h3L1925,18 h3L1928,18 h3L1931,18 h3L1934,18 h3L1937,18 h3L1940,18 h3L1943,18 h3L1946,18 h3L1949,18 h3L1952,18 h3L1955,18 h3L1958,18 h3L1961,18 h3L1964,18 h3L1967,18 h3L1970,18 h3L1973,18 h3L1976,18 h3L1979,18 h3L1982,18 h3L1985,18 h3L1988,18 h3L1991,18 h3L1994,18 h3L1997,18 h3L2000,18 h3L2003,18 h3L2006,18 h3L2009,18 h3L2012,18 h3L2015,18 h3L2018,18 h3L2021,18 h3L2024,18 h3L2027,18 h3L2030,18 h3L2033,18 h3L2036,16Z" fill="#fff"/><g fill="url(#erf)"><rect x="590" y="7.8" width="3.3" height="237.2"/><rect x="593" y="7.4" width="3.3" height="237.9"/><rect x="596" y="7.1" width="3.3" height="238.6"/><rect x="599" y="6.8" width="3.3" height="239.2"/><rect x="602" y="6.8" width="3.3" height="239.2"/><rect x="605" y="6.8" width="3.3" height="239.2"/><rect x="608" y="6.8" width="3.3" height="239.2"/><rect x="611" y="9.1" width="3.3" height="234.7"/><rect x="614" y="10.9" width="3.3" height="231"/><rect x="617" y="12" width="3.3" height="228.8"/><rect x="620" y="12.6" width="3.3" height="227.6"/><rect x="623" y="13" width="3.3" height="226.9"/><rect x="626" y="13.3" width="3.3" height="226.2"/><rect x="629" y="13.9" width="3.3" height="225"/><rect x="632" y="15.3" width="3.3" height="222.2"/><rect x="635" y="19.1" width="3.3" height="214.7"/><rect x="638" y="26" width="3.3" height="200.8"/><rect x="641" y="36.8" width="3.3" height="179.3"/><rect x="644" y="52" width="3.3" height="148.7"/><rect x="647" y="72.6" width="3.3" height="107.5"/><rect x="650" y="96.9" width="3.3" height="59.1"/><rect x="653" y="102.7" width="3.3" height="47.5"/><rect x="656" y="88.8" width="3.3" height="75.3"/><rect x="659" y="77" width="3.3" height="98.8"/><rect x="662" y="66.6" width="3.3" height="119.6"/><rect x="665" y="57.3" width="3.3" height="138.2"/><rect x="668" y="49" width="3.3" height="154.8"/><rect x="671" y="41.8" width="3.3" height="169.3"/><rect x="674" y="35.5" width="3.3" height="181.7"/><rect x="677" y="30.4" width="3.3" height="192.1"/><rect x="680" y="26.3" width="3.3" height="200.3"/><rect x="683" y="23.3" width="3.3" height="206.3"/><rect x="686" y="21.4" width="3.3" height="210"/><rect x="689" y="20.6" width="3.3" height="211.6"/><rect x="692" y="21.8" width="3.3" height="209.2"/><rect x="695" y="26.5" width="3.3" height="199.7"/><rect x="698" y="34.7" width="3.3" height="183.4"/><rect x="701" y="46.2" width="3.3" height="160.3"/><rect x="704" y="61" width="3.3" height="130.8"/><rect x="707" y="79.1" width="3.3" height="94.5"/><rect x="710" y="102.1" width="3.3" height="48.5"/><rect x="713" y="99.6" width="3.3" height="53.6"/><rect x="716" y="86.3" width="3.3" height="80.2"/><rect x="719" y="74.8" width="3.3" height="103.1"/><rect x="722" y="64.7" width="3.3" height="123.5"/><rect x="725" y="55.6" width="3.3" height="141.7"/><rect x="728" y="47.5" width="3.3" height="157.8"/><rect x="731" y="40.4" width="3.3" height="171.9"/><rect x="734" y="34.4" width="3.3" height="184"/><rect x="737" y="29.5" width="3.3" height="193.9"/><rect x="740" y="25.6" width="3.3" height="201.7"/><rect x="743" y="22.8" width="3.3" height="207.2"/><rect x="746" y="21.1" width="3.3" height="210.5"/><rect x="749" y="20.6" width="3.3" height="211.6"/><rect x="752" y="22.5" width="3.3" height="207.8"/><rect x="755" y="27.9" width="3.3" height="197"/><rect x="758" y="36.8" width="3.3" height="179.3"/><rect x="761" y="48.9" width="3.3" height="154.9"/><rect x="764" y="64.3" width="3.3" height="124.1"/><rect x="767" y="83.2" width="3.3" height="86.4"/><rect x="770" y="108.3" width="3.3" height="36.3"/><rect x="773" y="96.7" width="3.3" height="59.4"/><rect x="776" y="83.9" width="3.3" height="85"/><rect x="779" y="72.7" width="3.3" height="107.4"/><rect x="782" y="62.8" width="3.3" height="127.3"/><rect x="785" y="53.9" width="3.3" height="145.1"/><rect x="788" y="46" width="3.3" height="160.8"/><rect x="791" y="39.1" width="3.3" height="174.5"/><rect x="794" y="33.3" width="3.3" height="186.1"/><rect x="797" y="28.6" width="3.3" height="195.6"/><rect x="800" y="24.9" width="3.3" height="202.9"/><rect x="803" y="22.4" width="3.3" height="208.1"/><rect x="806" y="20.9" width="3.3" height="210.9"/><rect x="809" y="20.7" width="3.3" height="211.4"/><rect x="812" y="23.3" width="3.3" height="206.2"/><rect x="815" y="29.4" width="3.3" height="194"/><rect x="818" y="38.9" width="3.3" height="174.9"/><rect x="821" y="51.8" width="3.3" height="149.3"/><rect x="824" y="67.8" width="3.3" height="117.2"/><rect x="827" y="87.5" width="3.3" height="77.8"/><rect x="830" y="109.9" width="3.3" height="33.1"/><rect x="833" y="94" width="3.3" height="64.9"/><rect x="836" y="81.5" width="3.3" height="89.7"/><rect x="839" y="70.6" width="3.3" height="111.5"/><rect x="842" y="60.9" width="3.3" height="131"/><rect x="845" y="52.2" width="3.3" height="148.4"/><rect x="848" y="44.5" width="3.3" height="163.7"/><rect x="851" y="37.9" width="3.3" height="177"/><rect x="854" y="32.3" width="3.3" height="188.2"/><rect x="857" y="27.8" width="3.3" height="197.3"/><rect x="860" y="24.3" width="3.3" height="204.1"/><rect x="863" y="22" width="3.3" height="208.8"/><rect x="866" y="20.8" width="3.3" height="211.2"/><rect x="869" y="20.9" width="3.3" height="210.9"/><rect x="872" y="24.2" width="3.3" height="204.3"/><rect x="875" y="31" width="3.3" height="190.7"/><rect x="878" y="41.2" width="3.3" height="170.3"/><rect x="881" y="54.7" width="3.3" height="143.4"/><rect x="884" y="71.4" width="3.3" height="109.9"/><rect x="887" y="92" width="3.3" height="68.7"/><rect x="890" y="106" width="3.3" height="40.8"/><rect x="893" y="91.3" width="3.3" height="70.2"/><rect x="896" y="79.3" width="3.3" height="94.3"/><rect x="899" y="68.6" width="3.3" height="115.6"/><rect x="902" y="59.1" width="3.3" height="134.7"/><rect x="905" y="50.6" width="3.3" height="151.6"/><rect x="908" y="43.1" width="3.3" height="166.5"/><rect x="911" y="36.7" width="3.3" height="179.4"/><rect x="914" y="31.3" width="3.3" height="190.2"/><rect x="917" y="27" width="3.3" height="198.8"/><rect x="920" y="23.8" width="3.3" height="205.3"/><rect x="923" y="21.7" width="3.3" height="209.5"/><rect x="926" y="20.7" width="3.3" height="211.4"/><rect x="929" y="21.3" width="3.3" height="210.2"/><rect x="932" y="25.3" width="3.3" height="202.2"/><rect x="935" y="32.8" width="3.3" height="187.2"/><rect x="938" y="43.7" width="3.3" height="165.5"/><rect x="941" y="57.8" width="3.3" height="137.2"/><rect x="944" y="75.2" width="3.3" height="102.4"/><rect x="947" y="96.9" width="3.3" height="59.1"/><rect x="950" y="102.7" width="3.3" height="47.5"/><rect x="953" y="88.8" width="3.3" height="75.3"/><rect x="956" y="77" width="3.3" height="98.8"/><rect x="959" y="66.6" width="3.3" height="119.6"/><rect x="962" y="57.3" width="3.3" height="138.2"/><rect x="965" y="49" width="3.3" height="154.8"/><rect x="968" y="41.8" width="3.3" height="169.3"/><rect x="971" y="35.5" width="3.3" height="181.7"/><rect x="974" y="30.4" width="3.3" height="192.1"/><rect x="977" y="26.3" width="3.3" height="200.3"/><rect x="980" y="23.3" width="3.3" height="206.3"/><rect x="983" y="21.4" width="3.3" height="210"/><rect x="986" y="20.6" width="3.3" height="211.6"/><rect x="989" y="21.8" width="3.3" height="209.2"/><rect x="992" y="26.5" width="3.3" height="199.7"/><rect x="995" y="34.7" width="3.3" height="183.4"/><rect x="998" y="46.2" width="3.3" height="160.3"/><rect x="1001" y="61" width="3.3" height="130.8"/><rect x="1004" y="79.1" width="3.3" height="94.5"/><rect x="1007" y="102.1" width="3.3" height="48.5"/><rect x="1010" y="99.6" width="3.3" height="53.6"/><rect x="1013" y="86.3" width="3.3" height="80.2"/><rect x="1016" y="74.8" width="3.3" height="103.1"/><rect x="1019" y="64.7" width="3.3" height="123.5"/><rect x="1022" y="55.6" width="3.3" height="141.7"/><rect x="1025" y="47.5" width="3.3" height="157.8"/><rect x="1028" y="40.4" width="3.3" height="171.9"/><rect x="1031" y="34.4" width="3.3" height="184"/><rect x="1034" y="29.5" width="3.3" height="193.9"/><rect x="1037" y="25.6" width="3.3" height="201.7"/><rect x="1040" y="22.8" width="3.3" height="207.2"/><rect x="1043" y="21.1" width="3.3" height="210.5"/><rect x="1046" y="20.6" width="3.3" height="211.6"/><rect x="1049" y="22.5" width="3.3" height="207.8"/><rect x="1052" y="27.9" width="3.3" height="197"/><rect x="1055" y="36.8" width="3.3" height="179.3"/><rect x="1058" y="48.9" width="3.3" height="154.9"/><rect x="1061" y="64.3" width="3.3" height="124.1"/><rect x="1064" y="83.2" width="3.3" height="86.4"/><rect x="1067" y="108.3" width="3.3" height="36.3"/><rect x="1070" y="96.7" width="3.3" height="59.4"/><rect x="1073" y="83.9" width="3.3" height="85"/><rect x="1076" y="72.7" width="3.3" height="107.4"/><rect x="1079" y="62.8" width="3.3" height="127.3"/><rect x="1082" y="53.9" width="3.3" height="145.1"/><rect x="1085" y="46" width="3.3" height="160.8"/><rect x="1088" y="39.1" width="3.3" height="174.5"/><rect x="1091" y="33.3" width="3.3" height="186.1"/><rect x="1094" y="28.6" width="3.3" height="195.6"/><rect x="1097" y="24.9" width="3.3" height="202.9"/><rect x="1100" y="22.4" width="3.3" height="208.1"/><rect x="1103" y="20.9" width="3.3" height="210.9"/><rect x="1106" y="20.7" width="3.3" height="211.4"/><rect x="1109" y="23.3" width="3.3" height="206.2"/><rect x="1112" y="29.4" width="3.3" height="194"/><rect x="1115" y="38.9" width="3.3" height="174.9"/><rect x="1118" y="51.8" width="3.3" height="149.3"/><rect x="1121" y="67.8" width="3.3" height="117.2"/><rect x="1124" y="87.5" width="3.3" height="77.8"/><rect x="1127" y="109.9" width="3.3" height="33.1"/><rect x="1130" y="94" width="3.3" height="64.9"/><rect x="1133" y="81.5" width="3.3" height="89.7"/><rect x="1136" y="70.6" width="3.3" height="111.5"/><rect x="1139" y="60.9" width="3.3" height="131"/><rect x="1142" y="52.2" width="3.3" height="148.4"/><rect x="1145" y="44.5" width="3.3" height="163.7"/><rect x="1148" y="37.9" width="3.3" height="177"/><rect x="1151" y="32.3" width="3.3" height="188.2"/><rect x="1154" y="27.8" width="3.3" height="197.3"/><rect x="1157" y="24.3" width="3.3" height="204.1"/><rect x="1160" y="22" width="3.3" height="208.8"/><rect x="1163" y="20.8" width="3.3" height="211.2"/><rect x="1166" y="20.9" width="3.3" height="210.9"/><rect x="1169" y="24.2" width="3.3" height="204.3"/><rect x="1172" y="31" width="3.3" height="190.7"/><rect x="1175" y="41.2" width="3.3" height="170.3"/><rect x="1178" y="54.7" width="3.3" height="143.4"/><rect x="1181" y="71.4" width="3.3" height="109.9"/><rect x="1184" y="92" width="3.3" height="68.7"/><rect x="1187" y="106" width="3.3" height="40.8"/><rect x="1190" y="91.3" width="3.3" height="70.2"/><rect x="1193" y="79.3" width="3.3" height="94.3"/><rect x="1196" y="68.6" width="3.3" height="115.6"/><rect x="1199" y="59.1" width="3.3" height="134.7"/><rect x="1202" y="50.6" width="3.3" height="151.6"/><rect x="1205" y="43.1" width="3.3" height="166.5"/><rect x="1208" y="36.7" width="3.3" height="179.4"/><rect x="1211" y="31.3" width="3.3" height="190.2"/><rect x="1214" y="27" width="3.3" height="198.8"/><rect x="1217" y="23.8" width="3.3" height="205.3"/><rect x="1220" y="21.7" width="3.3" height="209.5"/><rect x="1223" y="20.7" width="3.3" height="211.4"/><rect x="1226" y="21.3" width="3.3" height="210.2"/><rect x="1229" y="25.3" width="3.3" height="202.2"/><rect x="1232" y="32.8" width="3.3" height="187.2"/><rect x="1235" y="43.7" width="3.3" height="165.5"/><rect x="1238" y="57.8" width="3.3" height="137.2"/><rect x="1241" y="75.2" width="3.3" height="102.4"/><rect x="1244" y="96.9" width="3.3" height="59.1"/><rect x="1247" y="102.7" width="3.3" height="47.5"/><rect x="1250" y="88.8" width="3.3" height="75.3"/><rect x="1253" y="77" width="3.3" height="98.8"/><rect x="1256" y="66.6" width="3.3" height="119.6"/><rect x="1259" y="57.3" width="3.3" height="138.2"/><rect x="1262" y="49" width="3.3" height="154.8"/><rect x="1265" y="41.8" width="3.3" height="169.3"/><rect x="1268" y="35.5" width="3.3" height="181.7"/><rect x="1271" y="30.4" width="3.3" height="192.1"/><rect x="1274" y="26.3" width="3.3" height="200.3"/><rect x="1277" y="23.3" width="3.3" height="206.3"/><rect x="1280" y="21.4" width="3.3" height="210"/><rect x="1283" y="20.6" width="3.3" height="211.6"/><rect x="1286" y="21.8" width="3.3" height="209.2"/><rect x="1289" y="26.5" width="3.3" height="199.7"/><rect x="1292" y="34.7" width="3.3" height="183.4"/><rect x="1295" y="46.2" width="3.3" height="160.3"/><rect x="1298" y="61" width="3.3" height="130.8"/><rect x="1301" y="74.6" width="3.3" height="103.6"/><rect x="1304" y="89" width="3.3" height="74.7"/><rect x="1307" y="79.9" width="3.3" height="93"/><rect x="1310" y="63.4" width="3.3" height="125.9"/><rect x="1313" y="50.2" width="3.3" height="152.4"/><rect x="1316" y="39.3" width="3.3" height="174.1"/><rect x="1319" y="30.6" width="3.3" height="191.7"/><rect x="1322" y="23.6" width="3.3" height="205.6"/><rect x="1325" y="18.1" width="3.3" height="216.5"/><rect x="1328" y="14" width="3.3" height="224.7"/><rect x="1331" y="11" width="3.3" height="230.7"/><rect x="1334" y="8.9" width="3.3" height="235"/><rect x="1337" y="7.3" width="3.3" height="238.2"/><rect x="1340" y="6.6" width="3.3" height="239.6"/><rect x="1343" y="6.5" width="3.3" height="239.8"/><rect x="1346" y="6.4" width="3.3" height="240"/><rect x="1349" y="6.3" width="3.3" height="240.2"/><rect x="1352" y="6.2" width="3.3" height="240.4"/><rect x="1355" y="6.1" width="3.3" height="240.6"/><rect x="1358" y="6" width="3.3" height="240.8"/><rect x="1361" y="5.9" width="3.3" height="241"/><rect x="1364" y="5.8" width="3.3" height="241.2"/><rect x="1367" y="5.7" width="3.3" height="241.4"/><rect x="1370" y="5.6" width="3.3" height="241.6"/><rect x="1373" y="5.5" width="3.3" height="241.8"/><rect x="1376" y="5.4" width="3.3" height="242"/><rect x="1379" y="5.3" width="3.3" height="242.2"/><rect x="1382" y="5.2" width="3.3" height="242.4"/><rect x="1385" y="5.1" width="3.3" height="242.6"/><rect x="1388" y="5" width="3.3" height="242.8"/><rect x="1391" y="4.9" width="3.3" height="243"/><rect x="1394" y="4.8" width="3.3" height="243.2"/><rect x="1397" y="4.7" width="3.3" height="243.4"/><rect x="1400" y="4.6" width="3.3" height="243.6"/><rect x="1403" y="4.5" width="3.3" height="243.8"/><rect x="1406" y="4.4" width="3.3" height="244"/><rect x="1409" y="4.3" width="3.3" height="244.2"/><rect x="1412" y="4.2" width="3.3" height="244.4"/><rect x="1415" y="4.1" width="3.3" height="244.6"/><rect x="1418" y="4" width="3.3" height="244.8"/><rect x="1421" y="3.9" width="3.3" height="244.9"/><rect x="1424" y="3.8" width="3.3" height="245.1"/><rect x="1427" y="3.7" width="3.3" height="245.3"/><rect x="1430" y="3.6" width="3.3" height="245.5"/><rect x="1433" y="3.5" width="3.3" height="245.7"/><rect x="1436" y="3.4" width="3.3" height="245.9"/><rect x="1439" y="3.3" width="3.3" height="246.1"/><rect x="1442" y="3.2" width="3.3" height="246.3"/><rect x="1445" y="3.1" width="3.3" height="246.5"/><rect x="1448" y="3" width="3.3" height="246.7"/><rect x="1451" y="2.9" width="3.3" height="246.9"/><rect x="1454" y="2.8" width="3.3" height="247.1"/><rect x="1457" y="2.7" width="3.3" height="247.3"/><rect x="1460" y="2.6" width="3.3" height="247.5"/><rect x="1463" y="2.5" width="3.3" height="247.7"/><rect x="1466" y="2.4" width="3.3" height="247.9"/><rect x="1469" y="2.3" width="3.3" height="248.1"/><rect x="1472" y="2.2" width="3.3" height="248.3"/><rect x="1475" y="2.2" width="3.3" height="248.5"/><rect x="1478" y="2.1" width="3.3" height="248.7"/><rect x="1481" y="2" width="3.3" height="248.9"/><rect x="1484" y="1.9" width="3.3" height="249.1"/><rect x="1487" y="1.8" width="3.3" height="249.3"/><rect x="1490" y="1.7" width="3.3" height="249.5"/><rect x="1493" y="1.6" width="3.3" height="249.7"/><rect x="1496" y="1.5" width="3.3" height="249.9"/><rect x="1499" y="1.4" width="3.3" height="250.1"/><rect x="1502" y="1.3" width="3.3" height="250.3"/><rect x="1505" y="1.2" width="3.3" height="250.5"/><rect x="1508" y="1.1" width="3.3" height="250.7"/><rect x="1511" y="1" width="3.3" height="250.9"/><rect x="1514" y="0.9" width="3.3" height="251.1"/><rect x="1517" y="0.8" width="3.3" height="251.3"/><rect x="1520" y="0.7" width="3.3" height="251.5"/><rect x="1523" y="0.6" width="3.3" height="251.7"/><rect x="1526" y="0.5" width="3.3" height="251.8"/><rect x="1529" y="0.4" width="3.3" height="252"/><rect x="1532" y="0.3" width="3.3" height="252.2"/><rect x="1535" y="0.2" width="3.3" height="252.4"/><rect x="1538" y="0.1" width="3.3" height="252.6"/><rect x="1541" y="0" width="3.3" height="252.8"/><rect x="1544" y="-0.1" width="3.3" height="253"/><rect x="1547" y="-0.2" width="3.3" height="253.2"/><rect x="1550" y="-0.3" width="3.3" height="253.4"/><rect x="1553" y="-0.4" width="3.3" height="253.6"/><rect x="1556" y="-0.5" width="3.3" height="253.8"/><rect x="1559" y="-0.6" width="3.3" height="254"/><rect x="1562" y="-0.7" width="3.3" height="254.2"/><rect x="1565" y="-0.8" width="3.3" height="254.4"/><rect x="1568" y="-0.9" width="3.3" height="254.6"/><rect x="1571" y="-1" width="3.3" height="254.8"/><rect x="1574" y="-1.1" width="3.3" height="255"/><rect x="1577" y="-1.2" width="3.3" height="255.2"/><rect x="1580" y="-1.3" width="3.3" height="255.4"/><rect x="1583" y="-1.4" width="3.3" height="255.6"/><rect x="1586" y="-1.5" width="3.3" height="255.8"/><rect x="1589" y="-1.6" width="3.3" height="256"/><rect x="1592" y="-1.7" width="3.3" height="256.2"/><rect x="1595" y="-1.8" width="3.3" height="256.4"/><rect x="1598" y="-1.9" width="3.3" height="256.6"/><rect x="1601" y="-2" width="3.3" height="256.8"/><rect x="1604" y="-2.1" width="3.3" height="257"/><rect x="1607" y="-2.2" width="3.3" height="257.2"/><rect x="1610" y="-2.3" width="3.3" height="257.4"/><rect x="1613" y="-2.4" width="3.3" height="257.6"/><rect x="1616" y="-2.5" width="3.3" height="257.8"/><rect x="1619" y="-2.6" width="3.3" height="258"/><rect x="1622" y="-2.7" width="3.3" height="258.2"/><rect x="1625" y="-2.8" width="3.3" height="258.4"/><rect x="1628" y="-2.9" width="3.3" height="258.6"/><rect x="1631" y="-3" width="3.3" height="258.8"/><rect x="1634" y="-3.1" width="3.3" height="258.9"/><rect x="1637" y="-3.2" width="3.3" height="259.1"/><rect x="1640" y="-3.3" width="3.3" height="259.3"/><rect x="1643" y="-3.4" width="3.3" height="259.5"/><rect x="1646" y="-3.5" width="3.3" height="259.7"/><rect x="1649" y="-3.6" width="3.3" height="259.9"/><rect x="1652" y="-3.7" width="3.3" height="260.1"/><rect x="1655" y="-3.8" width="3.3" height="260.3"/><rect x="1658" y="-3.9" width="3.3" height="260.5"/><rect x="1661" y="-4" width="3.3" height="260.7"/><rect x="1664" y="-4.1" width="3.3" height="260.9"/><rect x="1667" y="-4.2" width="3.3" height="261.1"/><rect x="1670" y="-4.3" width="3.3" height="261.3"/><rect x="1673" y="-4.4" width="3.3" height="261.5"/><rect x="1676" y="-4.5" width="3.3" height="261.7"/><rect x="1679" y="-4.6" width="3.3" height="261.9"/><rect x="1682" y="-4.7" width="3.3" height="262.1"/><rect x="1685" y="-4.7" width="3.3" height="262.3"/><rect x="1688" y="-4.8" width="3.3" height="262.5"/><rect x="1691" y="-4.9" width="3.3" height="262.7"/><rect x="1694" y="-5" width="3.3" height="262.9"/><rect x="1697" y="-5.1" width="3.3" height="263.1"/><rect x="1700" y="-5.2" width="3.3" height="263.3"/><rect x="1703" y="-5.3" width="3.3" height="263.5"/><rect x="1706" y="-5.4" width="3.3" height="263.7"/><rect x="1709" y="-5.5" width="3.3" height="263.9"/><rect x="1712" y="-5.6" width="3.3" height="264.1"/><rect x="1715" y="-5.7" width="3.3" height="264.3"/><rect x="1718" y="-5.8" width="3.3" height="264.5"/><rect x="1721" y="-5.9" width="3.3" height="264.7"/><rect x="1724" y="-6" width="3.3" height="264.9"/><rect x="1727" y="-6.1" width="3.3" height="265.1"/><rect x="1730" y="-6.2" width="3.3" height="265.3"/><rect x="1733" y="-6.3" width="3.3" height="265.5"/><rect x="1736" y="-6.4" width="3.3" height="265.6"/><rect x="1739" y="-6.5" width="3.3" height="265.8"/><rect x="1742" y="-6.6" width="3.3" height="266"/><rect x="1745" y="-6.7" width="3.3" height="266.2"/><rect x="1748" y="-6.8" width="3.3" height="266.4"/><rect x="1751" y="-6.9" width="3.3" height="266.6"/><rect x="1754" y="-7" width="3.3" height="266.8"/><rect x="1757" y="-7.1" width="3.3" height="267"/><rect x="1760" y="-7.2" width="3.3" height="267.2"/><rect x="1763" y="-7.3" width="3.3" height="267.4"/><rect x="1766" y="-7.4" width="3.3" height="267.6"/><rect x="1769" y="-7.5" width="3.3" height="267.8"/><rect x="1772" y="-7.6" width="3.3" height="268"/><rect x="1775" y="-7.7" width="3.3" height="268.2"/><rect x="1778" y="-7.8" width="3.3" height="268.4"/><rect x="1781" y="-7.9" width="3.3" height="268.6"/><rect x="1784" y="-8" width="3.3" height="268.8"/><rect x="1787" y="-8.1" width="3.3" height="269"/><rect x="1790" y="-8.2" width="3.3" height="269.2"/><rect x="1793" y="-8.3" width="3.3" height="269.4"/><rect x="1796" y="-8.4" width="3.3" height="269.6"/><rect x="1799" y="-8.5" width="3.3" height="269.8"/><rect x="1802" y="-8.6" width="3.3" height="270"/><rect x="1805" y="-8.7" width="3.3" height="270.2"/><rect x="1808" y="-8.8" width="3.3" height="270.4"/><rect x="1811" y="-8.9" width="3.3" height="270.6"/><rect x="1814" y="-9" width="3.3" height="270.8"/><rect x="1817" y="-9.1" width="3.3" height="271"/><rect x="1820" y="-9.2" width="3.3" height="271.2"/><rect x="1823" y="-9.3" width="3.3" height="271.4"/><rect x="1826" y="-9.4" width="3.3" height="271.6"/><rect x="1829" y="-9.5" width="3.3" height="271.8"/><rect x="1832" y="-9.6" width="3.3" height="272"/><rect x="1835" y="-9.7" width="3.3" height="272.2"/><rect x="1838" y="-9.8" width="3.3" height="272.4"/><rect x="1841" y="-9.9" width="3.3" height="272.5"/><rect x="1844" y="-10" width="3.3" height="272.7"/><rect x="1847" y="-10.1" width="3.3" height="272.9"/><rect x="1850" y="-10.2" width="3.3" height="273.1"/><rect x="1853" y="-10.3" width="3.3" height="273.3"/><rect x="1856" y="-10.4" width="3.3" height="273.5"/><rect x="1859" y="-10.5" width="3.3" height="273.7"/><rect x="1862" y="-10.6" width="3.3" height="273.9"/><rect x="1865" y="-10.7" width="3.3" height="274.1"/><rect x="1868" y="-10.8" width="3.3" height="274.3"/><rect x="1871" y="-10.9" width="3.3" height="274.5"/><rect x="1874" y="-11" width="3.3" height="274.7"/><rect x="1877" y="-11.1" width="3.3" height="274.9"/><rect x="1880" y="-11.2" width="3.3" height="275.1"/><rect x="1883" y="-11.3" width="3.3" height="275.3"/><rect x="1886" y="-11.4" width="3.3" height="275.5"/><rect x="1889" y="-11.5" width="3.3" height="275.7"/><rect x="1892" y="-11.6" width="3.3" height="275.9"/><rect x="1895" y="-11.6" width="3.3" height="276.1"/><rect x="1898" y="-11.7" width="3.3" height="276.3"/><rect x="1901" y="-11.8" width="3.3" height="276.5"/><rect x="1904" y="-11.9" width="3.3" height="276.7"/><rect x="1907" y="-12" width="3.3" height="276.9"/><rect x="1910" y="-12.1" width="3.3" height="277.1"/><rect x="1913" y="-12.2" width="3.3" height="277.3"/><rect x="1916" y="-12.3" width="3.3" height="277.5"/><rect x="1919" y="-12.4" width="3.3" height="277.7"/><rect x="1922" y="-12.5" width="3.3" height="277.9"/><rect x="1925" y="-12.6" width="3.3" height="278.1"/><rect x="1928" y="-12.7" width="3.3" height="278.3"/><rect x="1931" y="-12.8" width="3.3" height="278.5"/><rect x="1934" y="-12.9" width="3.3" height="278.7"/><rect x="1937" y="-13" width="3.3" height="278.9"/><rect x="1940" y="-13.1" width="3.3" height="279.1"/><rect x="1943" y="-13.2" width="3.3" height="279.3"/><rect x="1946" y="-13.3" width="3.3" height="279.4"/><rect x="1949" y="-13.4" width="3.3" height="279.6"/><rect x="1952" y="-13.5" width="3.3" height="279.8"/><rect x="1955" y="-13.6" width="3.3" height="280"/><rect x="1958" y="-13.7" width="3.3" height="280.2"/><rect x="1961" y="-13.8" width="3.3" height="280.4"/><rect x="1964" y="-13.9" width="3.3" height="280.6"/><rect x="1967" y="-14" width="3.3" height="280.8"/><rect x="1970" y="-14.1" width="3.3" height="281"/><rect x="1973" y="-14.2" width="3.3" height="281.2"/><rect x="1976" y="-14.3" width="3.3" height="281.4"/><rect x="1979" y="-14.4" width="3.3" height="281.6"/><rect x="1982" y="-14.5" width="3.3" height="281.8"/><rect x="1985" y="-14.6" width="3.3" height="282"/><rect x="1988" y="-14.7" width="3.3" height="282.2"/><rect x="1991" y="-14.8" width="3.3" height="282.4"/><rect x="1994" y="-14.9" width="3.3" height="282.6"/><rect x="1997" y="-15" width="3.3" height="282.8"/><rect x="2000" y="-15.1" width="3.3" height="283"/><rect x="2003" y="-15.2" width="3.3" height="283.2"/><rect x="2006" y="-15.3" width="3.3" height="283.4"/><rect x="2009" y="-15.4" width="3.3" height="283.6"/><rect x="2012" y="-15.5" width="3.3" height="283.8"/><rect x="2015" y="-15.6" width="3.3" height="284"/><rect x="2018" y="-15.7" width="3.3" height="284.2"/><rect x="2021" y="-15.8" width="3.3" height="284.4"/><rect x="2024" y="-15.9" width="3.3" height="284.6"/><rect x="2027" y="-16" width="3.3" height="284.8"/><rect x="2030" y="-16.1" width="3.3" height="285"/><rect x="2033" y="-16.2" width="3.3" height="285.2"/></g></g></g></mask>
<pattern id="fpA" patternUnits="userSpaceOnUse" x="0" y="26" width="15" height="201"><path d="M6.5,6.2l2.1,0M5.5,15.6l3.9,0M4.9,25l5.3,0M4.3,34.5l6.4,0M3.9,43.9l7.3,0M3.5,53.3l8,0M3.2,62.7l8.5,0M3,72.1l9,0M2.9,81.6l9.3,0M2.8,91l9.4,0M2.8,100.4l9.5,0M2.8,109.8l9.4,0M2.9,119.2l9.3,0M3,128.7l9,0M3.2,138.1l8.5,0M3.5,147.5l8,0M3.9,156.9l7.3,0M4.3,166.3l6.4,0M4.9,175.8l5.3,0M5.5,185.2l3.9,0M6.5,194.6l2.1,0" stroke="#000" stroke-width="1.9" stroke-opacity=".42" fill="none"/></pattern>
<linearGradient id="cb245" gradientUnits="userSpaceOnUse" x1="52" x2="1867.5" y1="0" y2="0"><stop offset="0" stop-color="#000"/><stop offset="1" stop-color="#fff"/></linearGradient>
<clipPath id="cpC"><rect x="42" y="609.5" width="1985" height="201" rx="4"/></clipPath>
<linearGradient id="loC" gradientUnits="userSpaceOnUse" x1="42" x2="2027" y1="0" y2="0"><stop offset="0" stop-color="#000000"/><stop offset="1" stop-color="#000000"/></linearGradient>
<linearGradient id="hiC" gradientUnits="userSpaceOnUse" x1="42" x2="2027" y1="0" y2="0"><stop offset="0" stop-color="#ffffff"/><stop offset="1" stop-color="#ffffff"/></linearGradient>
<mask id="mC" maskUnits="userSpaceOnUse" x="32" y="599.5" width="2005" height="221.0"><rect x="32" y="599.5" width="2005" height="221.0" fill="#000"/><g filter="url(#bx2)"><path d="M34,599.5L34,711.5 h3L37,711.5 h3L40,711.3 h3L43,710.9 h3L46,710.6 h3L49,710.2 h3L52,709.9 h3L55,709.6 h3L58,709.2 h3L61,708.9 h3L64,708.5 h3L67,708.2 h3L70,707.8 h3L73,707.5 h3L76,707.1 h3L79,706.8 h3L82,706.4 h3L85,706.1 h3L88,705.8 h3L91,705.4 h3L94,705.1 h3L97,704.7 h3L100,704.4 h3L103,704.2 h3L106,704 h3L109,703.8 h3L112,703.6 h3L115,703.4 h3L118,703.2 h3L121,703 h3L124,702.8 h3L127,702.6 h3L130,702.4 h3L133,702.2 h3L136,702 h3L139,701.8 h3L142,701.5 h3L145,701.3 h3L148,701.1 h3L151,700.9 h3L154,700.7 h3L157,700.5 h3L160,700.3 h3L163,700.1 h3L166,699.9 h3L169,699.7 h3L172,699.5 h3L175,699.3 h3L178,699.1 h3L181,698.9 h3L184,698.7 h3L187,698.4 h3L190,698.2 h3L193,698 h3L196,697.8 h3L199,697.6 h3L202,697.4 h3L205,697.3 h3L208,697.1 h3L211,696.9 h3L214,696.8 h3L217,696.6 h3L220,696.4 h3L223,696.2 h3L226,696.1 h3L229,695.9 h3L232,695.7 h3L235,695.6 h3L238,695.4 h3L241,695.2 h3L244,695 h3L247,694.9 h3L250,694.7 h3L253,694.5 h3L256,694.3 h3L259,694.2 h3L262,694 h3L265,693.8 h3L268,693.7 h3L271,693.5 h3L274,693.3 h3L277,693.1 h3L280,693 h3L283,692.8 h3L286,692.6 h3L289,692.4 h3L292,692.3 h3L295,692.1 h3L298,691.9 h3L301,691.8 h3L304,691.6 h3L307,691.4 h3L310,691.2 h3L313,691.1 h3L316,690.9 h3L319,690.7 h3L322,690.5 h3L325,690.4 h3L328,690.2 h3L331,690 h3L334,689.9 h3L337,689.7 h3L340,689.5 h3L343,689.3 h3L346,689.2 h3L349,689 h3L352,688.8 h3L355,688.7 h3L358,688.5 h3L361,688.3 h3L364,688.1 h3L367,688 h3L370,687.8 h3L373,687.6 h3L376,687.4 h3L379,687.3 h3L382,687.1 h3L385,686.9 h3L388,686.8 h3L391,686.6 h3L394,686.4 h3L397,686.2 h3L400,686 h3L403,685.8 h3L406,685.5 h3L409,685.3 h3L412,685.1 h3L415,684.8 h3L418,684.6 h3L421,684.3 h3L424,684.1 h3L427,683.9 h3L430,683.6 h3L433,683.4 h3L436,683.1 h3L439,682.9 h3L442,682.6 h3L445,682.4 h3L448,682.2 h3L451,681.9 h3L454,681.7 h3L457,681.4 h3L460,681.2 h3L463,681 h3L466,680.7 h3L469,680.5 h3L472,680.2 h3L475,680 h3L478,679.8 h3L481,679.5 h3L484,679.3 h3L487,679 h3L490,678.8 h3L493,678.5 h3L496,678.3 h3L499,678 h3L502,677.6 h3L505,677.1 h3L508,676.6 h3L511,676.2 h3L514,675.7 h3L517,675.3 h3L520,674.8 h3L523,674.3 h3L526,673.9 h3L529,673.4 h3L532,673 h3L535,672.5 h3L538,672 h3L541,671.6 h3L544,671.1 h3L547,670.7 h3L550,670.2 h3L553,669.7 h3L556,669.3 h3L559,668.8 h3L562,668.1 h3L565,667.4 h3L568,666.7 h3L571,666 h3L574,665.3 h3L577,664.6 h3L580,664 h3L583,663.3 h3L586,662.6 h3L589,661.9 h3L592,661.2 h3L595,660.5 h3L598,659.8 h3L601,659.1 h3L604,658.4 h3L607,657.7 h3L610,657.1 h3L613,656.4 h3L616,656.3 h3L619,656.1 h3L622,656.2 h3L625,656.1 h3L628,656.1 h3L631,656.3 h3L634,657.4 h3L637,659.9 h3L640,664.4 h3L643,671.3 h3L646,680.8 h3L649,693.3 h3L652,703.5 h3L655,695.4 h3L658,689 h3L661,683.3 h3L664,678.2 h3L667,673.7 h3L670,669.7 h3L673,666.3 h3L676,663.4 h3L679,661 h3L682,659.3 h3L685,658.1 h3L688,657.5 h3L691,657.6 h3L694,659.5 h3L697,663.2 h3L700,668.7 h3L703,675.8 h3L706,684.7 h3L709,695.7 h3L712,701.6 h3L715,694.1 h3L718,687.8 h3L721,682.2 h3L724,677.3 h3L727,672.9 h3L730,669 h3L733,665.6 h3L736,662.9 h3L739,660.6 h3L742,659 h3L745,657.9 h3L748,657.4 h3L751,657.9 h3L754,660.1 h3L757,664.1 h3L760,670 h3L763,677.5 h3L766,686.7 h3L769,698.3 h3L772,699.9 h3L775,692.7 h3L778,686.6 h3L781,681.2 h3L784,676.4 h3L787,672 h3L790,668.3 h3L793,665 h3L796,662.4 h3L799,660.2 h3L802,658.7 h3L805,657.8 h3L808,657.4 h3L811,658.2 h3L814,660.7 h3L817,665.2 h3L820,671.3 h3L823,679.2 h3L826,688.8 h3L829,701.2 h3L832,698.4 h3L835,691.5 h3L838,685.5 h3L841,680.2 h3L844,675.5 h3L847,671.2 h3L850,667.6 h3L853,664.5 h3L856,661.9 h3L859,659.9 h3L862,658.5 h3L865,657.6 h3L868,657.4 h3L871,658.5 h3L874,661.5 h3L877,666.3 h3L880,672.8 h3L883,681 h3L886,691 h3L889,704.8 h3L892,696.9 h3L895,690.2 h3L898,684.4 h3L901,679.2 h3L904,674.6 h3L907,670.5 h3L910,666.9 h3L913,663.9 h3L916,661.4 h3L919,659.6 h3L922,658.3 h3L925,657.5 h3L928,657.5 h3L931,659 h3L934,662.3 h3L937,667.4 h3L940,674.3 h3L943,682.8 h3L946,693.3 h3L949,703.5 h3L952,695.4 h3L955,689 h3L958,683.3 h3L961,678.2 h3L964,673.7 h3L967,669.7 h3L970,666.3 h3L973,663.4 h3L976,661 h3L979,659.3 h3L982,658.1 h3L985,657.5 h3L988,657.6 h3L991,659.5 h3L994,663.2 h3L997,668.7 h3L1000,675.8 h3L1003,684.7 h3L1006,695.7 h3L1009,701.6 h3L1012,694.1 h3L1015,687.8 h3L1018,682.2 h3L1021,677.3 h3L1024,672.9 h3L1027,669 h3L1030,665.6 h3L1033,662.9 h3L1036,660.6 h3L1039,659 h3L1042,657.9 h3L1045,657.4 h3L1048,657.9 h3L1051,660.1 h3L1054,664.1 h3L1057,670 h3L1060,677.5 h3L1063,686.7 h3L1066,698.3 h3L1069,699.9 h3L1072,692.7 h3L1075,686.6 h3L1078,681.2 h3L1081,676.4 h3L1084,672 h3L1087,668.3 h3L1090,665 h3L1093,662.4 h3L1096,660.2 h3L1099,658.7 h3L1102,657.8 h3L1105,657.4 h3L1108,658.2 h3L1111,660.7 h3L1114,665.2 h3L1117,671.3 h3L1120,679.2 h3L1123,688.8 h3L1126,701.2 h3L1129,698.4 h3L1132,691.5 h3L1135,685.5 h3L1138,680.2 h3L1141,675.5 h3L1144,671.2 h3L1147,667.6 h3L1150,664.5 h3L1153,661.9 h3L1156,659.9 h3L1159,658.5 h3L1162,657.6 h3L1165,657.4 h3L1168,658.5 h3L1171,661.5 h3L1174,666.3 h3L1177,672.8 h3L1180,681 h3L1183,691 h3L1186,704.8 h3L1189,696.9 h3L1192,690.2 h3L1195,684.4 h3L1198,679.2 h3L1201,674.6 h3L1204,670.5 h3L1207,666.9 h3L1210,663.9 h3L1213,661.4 h3L1216,659.6 h3L1219,658.3 h3L1222,657.5 h3L1225,657.5 h3L1228,659 h3L1231,662.3 h3L1234,667.4 h3L1237,674.3 h3L1240,682.8 h3L1243,693.3 h3L1246,703.5 h3L1249,695.4 h3L1252,689 h3L1255,683.3 h3L1258,678.2 h3L1261,673.7 h3L1264,669.7 h3L1267,666.3 h3L1270,663.4 h3L1273,661 h3L1276,659.3 h3L1279,658.1 h3L1282,657.5 h3L1285,657.6 h3L1288,659.5 h3L1291,663.2 h3L1294,668.7 h3L1297,675.8 h3L1300,684.4 h3L1303,693.5 h3L1306,696.8 h3L1309,689.3 h3L1312,683.7 h3L1315,679.6 h3L1318,676.6 h3L1321,674.2 h3L1324,672.6 h3L1327,671.7 h3L1330,671.4 h3L1333,671.5 h3L1336,672 h3L1339,672.4 h3L1342,672 h3L1345,671.6 h3L1348,671.2 h3L1351,670.8 h3L1354,670.4 h3L1357,670 h3L1360,669.6 h3L1363,669.2 h3L1366,668.8 h3L1369,668.5 h3L1372,668.1 h3L1375,667.7 h3L1378,667.4 h3L1381,667 h3L1384,666.7 h3L1387,666.3 h3L1390,666 h3L1393,665.6 h3L1396,665.3 h3L1399,664.9 h3L1402,664.6 h3L1405,664.2 h3L1408,663.9 h3L1411,663.6 h3L1414,663.2 h3L1417,662.9 h3L1420,662.5 h3L1423,662.2 h3L1426,661.9 h3L1429,661.6 h3L1432,661.2 h3L1435,660.9 h3L1438,660.6 h3L1441,660.2 h3L1444,659.9 h3L1447,659.6 h3L1450,659.3 h3L1453,659 h3L1456,658.6 h3L1459,658.3 h3L1462,658 h3L1465,657.7 h3L1468,657.4 h3L1471,657.1 h3L1474,656.8 h3L1477,656.4 h3L1480,656.1 h3L1483,655.8 h3L1486,655.5 h3L1489,655.2 h3L1492,654.9 h3L1495,654.6 h3L1498,654.3 h3L1501,654 h3L1504,653.7 h3L1507,653.4 h3L1510,653.1 h3L1513,652.8 h3L1516,652.5 h3L1519,652.2 h3L1522,651.9 h3L1525,651.6 h3L1528,651.3 h3L1531,651 h3L1534,650.7 h3L1537,650.4 h3L1540,650.1 h3L1543,649.8 h3L1546,649.5 h3L1549,649.2 h3L1552,648.9 h3L1555,648.6 h3L1558,648.3 h3L1561,648 h3L1564,647.7 h3L1567,647.4 h3L1570,647.1 h3L1573,646.8 h3L1576,646.6 h3L1579,646.3 h3L1582,646 h3L1585,645.7 h3L1588,645.4 h3L1591,645.1 h3L1594,644.8 h3L1597,644.5 h3L1600,644.3 h3L1603,644 h3L1606,643.7 h3L1609,643.4 h3L1612,643.1 h3L1615,642.8 h3L1618,642.6 h3L1621,642.3 h3L1624,642 h3L1627,641.7 h3L1630,641.4 h3L1633,641.1 h3L1636,640.9 h3L1639,640.6 h3L1642,640.3 h3L1645,640 h3L1648,639.7 h3L1651,639.5 h3L1654,639.2 h3L1657,638.9 h3L1660,638.6 h3L1663,638.3 h3L1666,638.1 h3L1669,637.8 h3L1672,637.5 h3L1675,637.2 h3L1678,637 h3L1681,636.7 h3L1684,636.4 h3L1687,636.1 h3L1690,635.9 h3L1693,635.6 h3L1696,635.3 h3L1699,635 h3L1702,634.8 h3L1705,634.5 h3L1708,634.2 h3L1711,634 h3L1714,633.7 h3L1717,633.4 h3L1720,633.1 h3L1723,632.9 h3L1726,632.6 h3L1729,632.3 h3L1732,632.1 h3L1735,631.8 h3L1738,631.5 h3L1741,631.3 h3L1744,631 h3L1747,630.7 h3L1750,630.5 h3L1753,630.2 h3L1756,629.9 h3L1759,629.6 h3L1762,629.4 h3L1765,629.1 h3L1768,628.8 h3L1771,628.6 h3L1774,628.3 h3L1777,628 h3L1780,627.8 h3L1783,627.5 h3L1786,627.3 h3L1789,627 h3L1792,626.7 h3L1795,626.5 h3L1798,626.2 h3L1801,625.9 h3L1804,625.7 h3L1807,625.4 h3L1810,625.1 h3L1813,624.9 h3L1816,624.6 h3L1819,624.4 h3L1822,624.1 h3L1825,623.8 h3L1828,623.6 h3L1831,623.3 h3L1834,623 h3L1837,622.8 h3L1840,622.5 h3L1843,622.3 h3L1846,622 h3L1849,621.7 h3L1852,621.5 h3L1855,621.2 h3L1858,621 h3L1861,620.7 h3L1864,620.4 h3L1867,620.2 h3L1870,619.9 h3L1873,619.7 h3L1876,619.4 h3L1879,619.2 h3L1882,618.9 h3L1885,618.6 h3L1888,618.4 h3L1891,618.1 h3L1894,617.9 h3L1897,617.6 h3L1900,617.4 h3L1903,617.1 h3L1906,616.8 h3L1909,616.6 h3L1912,616.3 h3L1915,616.1 h3L1918,615.8 h3L1921,615.6 h3L1924,615.3 h3L1927,615.1 h3L1930,614.8 h3L1933,614.6 h3L1936,614.3 h3L1939,614 h3L1942,613.8 h3L1945,613.5 h3L1948,613.3 h3L1951,613 h3L1954,612.8 h3L1957,612.5 h3L1960,612.3 h3L1963,612 h3L1966,611.8 h3L1969,611.5 h3L1972,611.3 h3L1975,611 h3L1978,610.8 h3L1981,610.5 h3L1984,610.3 h3L1987,610 h3L1990,609.8 h3L1993,609.5 h3L1996,609.3 h3L1999,609 h3L2002,608.8 h3L2005,608.5 h3L2008,608.3 h3L2011,608 h3L2014,607.8 h3L2017,607.5 h3L2020,607.3 h3L2023,607 h3L2026,606.8 h3L2029,606.8 h3L2032,606.8 h3L2035,599.5Z" fill="#fff"/><g fill="url(#erf)"><rect x="34" y="709.5" width="3.3" height="2.3"/><rect x="37" y="709.5" width="3.3" height="2.3"/><rect x="40" y="709.3" width="3.3" height="2.6"/><rect x="43" y="708.9" width="3.3" height="3.3"/><rect x="46" y="708.6" width="3.3" height="4"/><rect x="49" y="708.2" width="3.3" height="4.7"/><rect x="52" y="707.9" width="3.3" height="5.4"/><rect x="55" y="707.6" width="3.3" height="6.1"/><rect x="58" y="707.2" width="3.3" height="6.8"/><rect x="61" y="706.9" width="3.3" height="7.5"/><rect x="64" y="706.5" width="3.3" height="8.2"/><rect x="67" y="706.2" width="3.3" height="8.9"/><rect x="70" y="705.8" width="3.3" height="9.5"/><rect x="73" y="705.5" width="3.3" height="10.2"/><rect x="76" y="705.1" width="3.3" height="10.9"/><rect x="79" y="704.8" width="3.3" height="11.6"/><rect x="82" y="704.4" width="3.3" height="12.3"/><rect x="85" y="704.1" width="3.3" height="13"/><rect x="88" y="703.8" width="3.3" height="13.7"/><rect x="91" y="703.4" width="3.3" height="14.4"/><rect x="94" y="703.1" width="3.3" height="15.1"/><rect x="97" y="702.7" width="3.3" height="15.8"/><rect x="100" y="702.4" width="3.3" height="16.3"/><rect x="103" y="702.2" width="3.3" height="16.7"/><rect x="106" y="702" width="3.3" height="17.1"/><rect x="109" y="701.8" width="3.3" height="17.5"/><rect x="112" y="701.6" width="3.3" height="18"/><rect x="115" y="701.4" width="3.3" height="18.4"/><rect x="118" y="701.2" width="3.3" height="18.8"/><rect x="121" y="701" width="3.3" height="19.2"/><rect x="124" y="700.8" width="3.3" height="19.6"/><rect x="127" y="700.6" width="3.3" height="20"/><rect x="130" y="700.4" width="3.3" height="20.4"/><rect x="133" y="700.2" width="3.3" height="20.9"/><rect x="136" y="700" width="3.3" height="21.3"/><rect x="139" y="699.8" width="3.3" height="21.7"/><rect x="142" y="699.5" width="3.3" height="22.1"/><rect x="145" y="699.3" width="3.3" height="22.5"/><rect x="148" y="699.1" width="3.3" height="22.9"/><rect x="151" y="698.9" width="3.3" height="23.3"/><rect x="154" y="698.7" width="3.3" height="23.8"/><rect x="157" y="698.5" width="3.3" height="24.2"/><rect x="160" y="698.3" width="3.3" height="24.6"/><rect x="163" y="698.1" width="3.3" height="25"/><rect x="166" y="697.9" width="3.3" height="25.4"/><rect x="169" y="697.7" width="3.3" height="25.8"/><rect x="172" y="697.5" width="3.3" height="26.2"/><rect x="175" y="697.3" width="3.3" height="26.7"/><rect x="178" y="697.1" width="3.3" height="27.1"/><rect x="181" y="696.9" width="3.3" height="27.5"/><rect x="184" y="696.7" width="3.3" height="27.9"/><rect x="187" y="696.4" width="3.3" height="28.3"/><rect x="190" y="696.2" width="3.3" height="28.7"/><rect x="193" y="696" width="3.3" height="29.1"/><rect x="196" y="695.8" width="3.3" height="29.6"/><rect x="199" y="695.6" width="3.3" height="30"/><rect x="202" y="695.4" width="3.3" height="30.3"/><rect x="205" y="695.3" width="3.3" height="30.6"/><rect x="208" y="695.1" width="3.3" height="31"/><rect x="211" y="694.9" width="3.3" height="31.3"/><rect x="214" y="694.8" width="3.3" height="31.7"/><rect x="217" y="694.6" width="3.3" height="32"/><rect x="220" y="694.4" width="3.3" height="32.4"/><rect x="223" y="694.2" width="3.3" height="32.7"/><rect x="226" y="694.1" width="3.3" height="33.1"/><rect x="229" y="693.9" width="3.3" height="33.4"/><rect x="232" y="693.7" width="3.3" height="33.8"/><rect x="235" y="693.6" width="3.3" height="34.1"/><rect x="238" y="693.4" width="3.3" height="34.4"/><rect x="241" y="693.2" width="3.3" height="34.8"/><rect x="244" y="693" width="3.3" height="35.1"/><rect x="247" y="692.9" width="3.3" height="35.5"/><rect x="250" y="692.7" width="3.3" height="35.8"/><rect x="253" y="692.5" width="3.3" height="36.2"/><rect x="256" y="692.3" width="3.3" height="36.5"/><rect x="259" y="692.2" width="3.3" height="36.9"/><rect x="262" y="692" width="3.3" height="37.2"/><rect x="265" y="691.8" width="3.3" height="37.5"/><rect x="268" y="691.7" width="3.3" height="37.9"/><rect x="271" y="691.5" width="3.3" height="38.2"/><rect x="274" y="691.3" width="3.3" height="38.6"/><rect x="277" y="691.1" width="3.3" height="38.9"/><rect x="280" y="691" width="3.3" height="39.3"/><rect x="283" y="690.8" width="3.3" height="39.6"/><rect x="286" y="690.6" width="3.3" height="40"/><rect x="289" y="690.4" width="3.3" height="40.3"/><rect x="292" y="690.3" width="3.3" height="40.7"/><rect x="295" y="690.1" width="3.3" height="41"/><rect x="298" y="689.9" width="3.3" height="41.3"/><rect x="301" y="689.8" width="3.3" height="41.7"/><rect x="304" y="689.6" width="3.3" height="42"/><rect x="307" y="689.4" width="3.3" height="42.4"/><rect x="310" y="689.2" width="3.3" height="42.7"/><rect x="313" y="689.1" width="3.3" height="43.1"/><rect x="316" y="688.9" width="3.3" height="43.4"/><rect x="319" y="688.7" width="3.3" height="43.8"/><rect x="322" y="688.5" width="3.3" height="44.1"/><rect x="325" y="688.4" width="3.3" height="44.4"/><rect x="328" y="688.2" width="3.3" height="44.8"/><rect x="331" y="688" width="3.3" height="45.1"/><rect x="334" y="687.9" width="3.3" height="45.5"/><rect x="337" y="687.7" width="3.3" height="45.8"/><rect x="340" y="687.5" width="3.3" height="46.2"/><rect x="343" y="687.3" width="3.3" height="46.5"/><rect x="346" y="687.2" width="3.3" height="46.9"/><rect x="349" y="687" width="3.3" height="47.2"/><rect x="352" y="686.8" width="3.3" height="47.6"/><rect x="355" y="686.7" width="3.3" height="47.9"/><rect x="358" y="686.5" width="3.3" height="48.2"/><rect x="361" y="686.3" width="3.3" height="48.6"/><rect x="364" y="686.1" width="3.3" height="48.9"/><rect x="367" y="686" width="3.3" height="49.3"/><rect x="370" y="685.8" width="3.3" height="49.6"/><rect x="373" y="685.6" width="3.3" height="50"/><rect x="376" y="685.4" width="3.3" height="50.3"/><rect x="379" y="685.3" width="3.3" height="50.7"/><rect x="382" y="685.1" width="3.3" height="51"/><rect x="385" y="684.9" width="3.3" height="51.3"/><rect x="388" y="684.8" width="3.3" height="51.7"/><rect x="391" y="684.6" width="3.3" height="52"/><rect x="394" y="684.4" width="3.3" height="52.4"/><rect x="397" y="684.2" width="3.3" height="52.7"/><rect x="400" y="684" width="3.3" height="53.1"/><rect x="403" y="683.8" width="3.3" height="53.6"/><rect x="406" y="683.5" width="3.3" height="54.1"/><rect x="409" y="683.3" width="3.3" height="54.6"/><rect x="412" y="683.1" width="3.3" height="55.1"/><rect x="415" y="682.8" width="3.3" height="55.6"/><rect x="418" y="682.6" width="3.3" height="56"/><rect x="421" y="682.3" width="3.3" height="56.5"/><rect x="424" y="682.1" width="3.3" height="57"/><rect x="427" y="681.9" width="3.3" height="57.5"/><rect x="430" y="681.6" width="3.3" height="58"/><rect x="433" y="681.4" width="3.3" height="58.5"/><rect x="436" y="681.1" width="3.3" height="58.9"/><rect x="439" y="680.9" width="3.3" height="59.4"/><rect x="442" y="680.6" width="3.3" height="59.9"/><rect x="445" y="680.4" width="3.3" height="60.4"/><rect x="448" y="680.2" width="3.3" height="60.9"/><rect x="451" y="679.9" width="3.3" height="61.4"/><rect x="454" y="679.7" width="3.3" height="61.8"/><rect x="457" y="679.4" width="3.3" height="62.3"/><rect x="460" y="679.2" width="3.3" height="62.8"/><rect x="463" y="679" width="3.3" height="63.3"/><rect x="466" y="678.7" width="3.3" height="63.8"/><rect x="469" y="678.5" width="3.3" height="64.3"/><rect x="472" y="678.2" width="3.3" height="64.7"/><rect x="475" y="678" width="3.3" height="65.2"/><rect x="478" y="677.8" width="3.3" height="65.7"/><rect x="481" y="677.5" width="3.3" height="66.2"/><rect x="484" y="677.3" width="3.3" height="66.7"/><rect x="487" y="677" width="3.3" height="67.1"/><rect x="490" y="676.8" width="3.3" height="67.6"/><rect x="493" y="676.5" width="3.3" height="68.1"/><rect x="496" y="676.3" width="3.3" height="68.6"/><rect x="499" y="676" width="3.3" height="69.2"/><rect x="502" y="675.6" width="3.3" height="70.1"/><rect x="505" y="675.1" width="3.3" height="71"/><rect x="508" y="674.6" width="3.3" height="71.9"/><rect x="511" y="674.2" width="3.3" height="72.8"/><rect x="514" y="673.7" width="3.3" height="73.8"/><rect x="517" y="673.3" width="3.3" height="74.7"/><rect x="520" y="672.8" width="3.3" height="75.6"/><rect x="523" y="672.3" width="3.3" height="76.5"/><rect x="526" y="671.9" width="3.3" height="77.4"/><rect x="529" y="671.4" width="3.3" height="78.4"/><rect x="532" y="671" width="3.3" height="79.3"/><rect x="535" y="670.5" width="3.3" height="80.2"/><rect x="538" y="670" width="3.3" height="81.1"/><rect x="541" y="669.6" width="3.3" height="82"/><rect x="544" y="669.1" width="3.3" height="83"/><rect x="547" y="668.7" width="3.3" height="83.9"/><rect x="550" y="668.2" width="3.3" height="84.8"/><rect x="553" y="667.7" width="3.3" height="85.7"/><rect x="556" y="667.3" width="3.3" height="86.6"/><rect x="559" y="666.8" width="3.3" height="87.6"/><rect x="562" y="666.1" width="3.3" height="89"/><rect x="565" y="665.4" width="3.3" height="90.4"/><rect x="568" y="664.7" width="3.3" height="91.8"/><rect x="571" y="664" width="3.3" height="93.1"/><rect x="574" y="663.3" width="3.3" height="94.5"/><rect x="577" y="662.6" width="3.3" height="95.9"/><rect x="580" y="662" width="3.3" height="97.3"/><rect x="583" y="661.3" width="3.3" height="98.7"/><rect x="586" y="660.6" width="3.3" height="100"/><rect x="589" y="659.9" width="3.3" height="101.4"/><rect x="592" y="659.2" width="3.3" height="102.8"/><rect x="595" y="658.5" width="3.3" height="104.2"/><rect x="598" y="657.8" width="3.3" height="105.6"/><rect x="601" y="657.1" width="3.3" height="106.9"/><rect x="604" y="656.4" width="3.3" height="108.3"/><rect x="607" y="655.7" width="3.3" height="109.7"/><rect x="610" y="655.1" width="3.3" height="111.1"/><rect x="613" y="654.4" width="3.3" height="112.5"/><rect x="616" y="654.3" width="3.3" height="112.7"/><rect x="619" y="654.1" width="3.3" height="113"/><rect x="622" y="654.2" width="3.3" height="112.8"/><rect x="625" y="654.1" width="3.3" height="112.9"/><rect x="628" y="654.1" width="3.3" height="113"/><rect x="631" y="654.3" width="3.3" height="112.6"/><rect x="634" y="655.4" width="3.3" height="110.5"/><rect x="637" y="657.9" width="3.3" height="105.3"/><rect x="640" y="662.4" width="3.3" height="96.3"/><rect x="643" y="669.3" width="3.3" height="82.7"/><rect x="646" y="678.8" width="3.3" height="63.5"/><rect x="649" y="691.3" width="3.3" height="38.6"/><rect x="652" y="701.5" width="3.3" height="18.1"/><rect x="655" y="693.4" width="3.3" height="34.3"/><rect x="658" y="687" width="3.3" height="47.2"/><rect x="661" y="681.3" width="3.3" height="58.6"/><rect x="664" y="676.2" width="3.3" height="68.7"/><rect x="667" y="671.7" width="3.3" height="77.8"/><rect x="670" y="667.7" width="3.3" height="85.8"/><rect x="673" y="664.3" width="3.3" height="92.7"/><rect x="676" y="661.4" width="3.3" height="98.5"/><rect x="679" y="659" width="3.3" height="103.1"/><rect x="682" y="657.3" width="3.3" height="106.7"/><rect x="685" y="656.1" width="3.3" height="109.1"/><rect x="688" y="655.5" width="3.3" height="110.2"/><rect x="691" y="655.6" width="3.3" height="109.9"/><rect x="694" y="657.5" width="3.3" height="106.2"/><rect x="697" y="661.2" width="3.3" height="98.8"/><rect x="700" y="666.7" width="3.3" height="87.9"/><rect x="703" y="673.8" width="3.3" height="73.5"/><rect x="706" y="682.7" width="3.3" height="55.7"/><rect x="709" y="693.7" width="3.3" height="33.7"/><rect x="712" y="699.6" width="3.3" height="21.9"/><rect x="715" y="692.1" width="3.3" height="37.1"/><rect x="718" y="685.8" width="3.3" height="49.6"/><rect x="721" y="680.2" width="3.3" height="60.7"/><rect x="724" y="675.3" width="3.3" height="70.6"/><rect x="727" y="670.9" width="3.3" height="79.5"/><rect x="730" y="667" width="3.3" height="87.2"/><rect x="733" y="663.6" width="3.3" height="93.9"/><rect x="736" y="660.9" width="3.3" height="99.5"/><rect x="739" y="658.6" width="3.3" height="103.9"/><rect x="742" y="657" width="3.3" height="107.3"/><rect x="745" y="655.9" width="3.3" height="109.4"/><rect x="748" y="655.4" width="3.3" height="110.3"/><rect x="751" y="655.9" width="3.3" height="109.5"/><rect x="754" y="658.1" width="3.3" height="105"/><rect x="757" y="662.1" width="3.3" height="96.9"/><rect x="760" y="668" width="3.3" height="85.3"/><rect x="763" y="675.5" width="3.3" height="70.2"/><rect x="766" y="684.7" width="3.3" height="51.7"/><rect x="769" y="696.3" width="3.3" height="28.5"/><rect x="772" y="697.9" width="3.3" height="25.3"/><rect x="775" y="690.7" width="3.3" height="39.7"/><rect x="778" y="684.6" width="3.3" height="51.9"/><rect x="781" y="679.2" width="3.3" height="62.8"/><rect x="784" y="674.4" width="3.3" height="72.5"/><rect x="787" y="670" width="3.3" height="81.1"/><rect x="790" y="666.3" width="3.3" height="88.7"/><rect x="793" y="663" width="3.3" height="95.1"/><rect x="796" y="660.4" width="3.3" height="100.5"/><rect x="799" y="658.2" width="3.3" height="104.7"/><rect x="802" y="656.7" width="3.3" height="107.8"/><rect x="805" y="655.8" width="3.3" height="109.7"/><rect x="808" y="655.4" width="3.3" height="110.4"/><rect x="811" y="656.2" width="3.3" height="108.9"/><rect x="814" y="658.7" width="3.3" height="103.7"/><rect x="817" y="663.2" width="3.3" height="94.9"/><rect x="820" y="669.3" width="3.3" height="82.6"/><rect x="823" y="677.2" width="3.3" height="66.8"/><rect x="826" y="686.8" width="3.3" height="47.5"/><rect x="829" y="699.2" width="3.3" height="22.8"/><rect x="832" y="696.4" width="3.3" height="28.5"/><rect x="835" y="689.5" width="3.3" height="42.3"/><rect x="838" y="683.5" width="3.3" height="54.2"/><rect x="841" y="678.2" width="3.3" height="64.8"/><rect x="844" y="673.5" width="3.3" height="74.3"/><rect x="847" y="669.2" width="3.3" height="82.7"/><rect x="850" y="665.6" width="3.3" height="90"/><rect x="853" y="662.5" width="3.3" height="96.3"/><rect x="856" y="659.9" width="3.3" height="101.4"/><rect x="859" y="657.9" width="3.3" height="105.4"/><rect x="862" y="656.5" width="3.3" height="108.2"/><rect x="865" y="655.6" width="3.3" height="109.9"/><rect x="868" y="655.4" width="3.3" height="110.4"/><rect x="871" y="656.5" width="3.3" height="108.2"/><rect x="874" y="659.5" width="3.3" height="102.2"/><rect x="877" y="664.3" width="3.3" height="92.7"/><rect x="880" y="670.8" width="3.3" height="79.7"/><rect x="883" y="679" width="3.3" height="63.3"/><rect x="886" y="689" width="3.3" height="43.2"/><rect x="889" y="702.8" width="3.3" height="15.7"/><rect x="892" y="694.9" width="3.3" height="31.5"/><rect x="895" y="688.2" width="3.3" height="44.8"/><rect x="898" y="682.4" width="3.3" height="56.4"/><rect x="901" y="677.2" width="3.3" height="66.8"/><rect x="904" y="672.6" width="3.3" height="76.1"/><rect x="907" y="668.5" width="3.3" height="84.3"/><rect x="910" y="664.9" width="3.3" height="91.4"/><rect x="913" y="661.9" width="3.3" height="97.4"/><rect x="916" y="659.4" width="3.3" height="102.3"/><rect x="919" y="657.6" width="3.3" height="106.1"/><rect x="922" y="656.3" width="3.3" height="108.7"/><rect x="925" y="655.5" width="3.3" height="110.1"/><rect x="928" y="655.5" width="3.3" height="110.2"/><rect x="931" y="657" width="3.3" height="107.3"/><rect x="934" y="660.3" width="3.3" height="100.6"/><rect x="937" y="665.4" width="3.3" height="90.4"/><rect x="940" y="672.3" width="3.3" height="76.7"/><rect x="943" y="680.8" width="3.3" height="59.6"/><rect x="946" y="691.3" width="3.3" height="38.6"/><rect x="949" y="701.5" width="3.3" height="18.1"/><rect x="952" y="693.4" width="3.3" height="34.3"/><rect x="955" y="687" width="3.3" height="47.2"/><rect x="958" y="681.3" width="3.3" height="58.6"/><rect x="961" y="676.2" width="3.3" height="68.7"/><rect x="964" y="671.7" width="3.3" height="77.8"/><rect x="967" y="667.7" width="3.3" height="85.8"/><rect x="970" y="664.3" width="3.3" height="92.7"/><rect x="973" y="661.4" width="3.3" height="98.5"/><rect x="976" y="659" width="3.3" height="103.1"/><rect x="979" y="657.3" width="3.3" height="106.7"/><rect x="982" y="656.1" width="3.3" height="109.1"/><rect x="985" y="655.5" width="3.3" height="110.2"/><rect x="988" y="655.6" width="3.3" height="109.9"/><rect x="991" y="657.5" width="3.3" height="106.2"/><rect x="994" y="661.2" width="3.3" height="98.8"/><rect x="997" y="666.7" width="3.3" height="87.9"/><rect x="1000" y="673.8" width="3.3" height="73.5"/><rect x="1003" y="682.7" width="3.3" height="55.7"/><rect x="1006" y="693.7" width="3.3" height="33.7"/><rect x="1009" y="699.6" width="3.3" height="21.9"/><rect x="1012" y="692.1" width="3.3" height="37.1"/><rect x="1015" y="685.8" width="3.3" height="49.6"/><rect x="1018" y="680.2" width="3.3" height="60.7"/><rect x="1021" y="675.3" width="3.3" height="70.6"/><rect x="1024" y="670.9" width="3.3" height="79.5"/><rect x="1027" y="667" width="3.3" height="87.2"/><rect x="1030" y="663.6" width="3.3" height="93.9"/><rect x="1033" y="660.9" width="3.3" height="99.5"/><rect x="1036" y="658.6" width="3.3" height="103.9"/><rect x="1039" y="657" width="3.3" height="107.3"/><rect x="1042" y="655.9" width="3.3" height="109.4"/><rect x="1045" y="655.4" width="3.3" height="110.3"/><rect x="1048" y="655.9" width="3.3" height="109.5"/><rect x="1051" y="658.1" width="3.3" height="105"/><rect x="1054" y="662.1" width="3.3" height="96.9"/><rect x="1057" y="668" width="3.3" height="85.3"/><rect x="1060" y="675.5" width="3.3" height="70.2"/><rect x="1063" y="684.7" width="3.3" height="51.7"/><rect x="1066" y="696.3" width="3.3" height="28.5"/><rect x="1069" y="697.9" width="3.3" height="25.3"/><rect x="1072" y="690.7" width="3.3" height="39.7"/><rect x="1075" y="684.6" width="3.3" height="51.9"/><rect x="1078" y="679.2" width="3.3" height="62.8"/><rect x="1081" y="674.4" width="3.3" height="72.5"/><rect x="1084" y="670" width="3.3" height="81.1"/><rect x="1087" y="666.3" width="3.3" height="88.7"/><rect x="1090" y="663" width="3.3" height="95.1"/><rect x="1093" y="660.4" width="3.3" height="100.5"/><rect x="1096" y="658.2" width="3.3" height="104.7"/><rect x="1099" y="656.7" width="3.3" height="107.8"/><rect x="1102" y="655.8" width="3.3" height="109.7"/><rect x="1105" y="655.4" width="3.3" height="110.4"/><rect x="1108" y="656.2" width="3.3" height="108.9"/><rect x="1111" y="658.7" width="3.3" height="103.7"/><rect x="1114" y="663.2" width="3.3" height="94.9"/><rect x="1117" y="669.3" width="3.3" height="82.6"/><rect x="1120" y="677.2" width="3.3" height="66.8"/><rect x="1123" y="686.8" width="3.3" height="47.5"/><rect x="1126" y="699.2" width="3.3" height="22.8"/><rect x="1129" y="696.4" width="3.3" height="28.5"/><rect x="1132" y="689.5" width="3.3" height="42.3"/><rect x="1135" y="683.5" width="3.3" height="54.2"/><rect x="1138" y="678.2" width="3.3" height="64.8"/><rect x="1141" y="673.5" width="3.3" height="74.3"/><rect x="1144" y="669.2" width="3.3" height="82.7"/><rect x="1147" y="665.6" width="3.3" height="90"/><rect x="1150" y="662.5" width="3.3" height="96.3"/><rect x="1153" y="659.9" width="3.3" height="101.4"/><rect x="1156" y="657.9" width="3.3" height="105.4"/><rect x="1159" y="656.5" width="3.3" height="108.2"/><rect x="1162" y="655.6" width="3.3" height="109.9"/><rect x="1165" y="655.4" width="3.3" height="110.4"/><rect x="1168" y="656.5" width="3.3" height="108.2"/><rect x="1171" y="659.5" width="3.3" height="102.2"/><rect x="1174" y="664.3" width="3.3" height="92.7"/><rect x="1177" y="670.8" width="3.3" height="79.7"/><rect x="1180" y="679" width="3.3" height="63.3"/><rect x="1183" y="689" width="3.3" height="43.2"/><rect x="1186" y="702.8" width="3.3" height="15.7"/><rect x="1189" y="694.9" width="3.3" height="31.5"/><rect x="1192" y="688.2" width="3.3" height="44.8"/><rect x="1195" y="682.4" width="3.3" height="56.4"/><rect x="1198" y="677.2" width="3.3" height="66.8"/><rect x="1201" y="672.6" width="3.3" height="76.1"/><rect x="1204" y="668.5" width="3.3" height="84.3"/><rect x="1207" y="664.9" width="3.3" height="91.4"/><rect x="1210" y="661.9" width="3.3" height="97.4"/><rect x="1213" y="659.4" width="3.3" height="102.3"/><rect x="1216" y="657.6" width="3.3" height="106.1"/><rect x="1219" y="656.3" width="3.3" height="108.7"/><rect x="1222" y="655.5" width="3.3" height="110.1"/><rect x="1225" y="655.5" width="3.3" height="110.2"/><rect x="1228" y="657" width="3.3" height="107.3"/><rect x="1231" y="660.3" width="3.3" height="100.6"/><rect x="1234" y="665.4" width="3.3" height="90.4"/><rect x="1237" y="672.3" width="3.3" height="76.7"/><rect x="1240" y="680.8" width="3.3" height="59.6"/><rect x="1243" y="691.3" width="3.3" height="38.6"/><rect x="1246" y="701.5" width="3.3" height="18.1"/><rect x="1249" y="693.4" width="3.3" height="34.3"/><rect x="1252" y="687" width="3.3" height="47.2"/><rect x="1255" y="681.3" width="3.3" height="58.6"/><rect x="1258" y="676.2" width="3.3" height="68.7"/><rect x="1261" y="671.7" width="3.3" height="77.8"/><rect x="1264" y="667.7" width="3.3" height="85.8"/><rect x="1267" y="664.3" width="3.3" height="92.7"/><rect x="1270" y="661.4" width="3.3" height="98.5"/><rect x="1273" y="659" width="3.3" height="103.1"/><rect x="1276" y="657.3" width="3.3" height="106.7"/><rect x="1279" y="656.1" width="3.3" height="109.1"/><rect x="1282" y="655.5" width="3.3" height="110.2"/><rect x="1285" y="655.6" width="3.3" height="109.9"/><rect x="1288" y="657.5" width="3.3" height="106.2"/><rect x="1291" y="661.2" width="3.3" height="98.8"/><rect x="1294" y="666.7" width="3.3" height="87.9"/><rect x="1297" y="673.8" width="3.3" height="73.5"/><rect x="1300" y="682.4" width="3.3" height="56.4"/><rect x="1303" y="691.5" width="3.3" height="38.2"/><rect x="1306" y="694.8" width="3.3" height="31.6"/><rect x="1309" y="687.3" width="3.3" height="46.6"/><rect x="1312" y="681.7" width="3.3" height="57.7"/><rect x="1315" y="677.6" width="3.3" height="66"/><rect x="1318" y="674.6" width="3.3" height="72.1"/><rect x="1321" y="672.2" width="3.3" height="76.8"/><rect x="1324" y="670.6" width="3.3" height="80"/><rect x="1327" y="669.7" width="3.3" height="81.7"/><rect x="1330" y="669.4" width="3.3" height="82.4"/><rect x="1333" y="669.5" width="3.3" height="82.1"/><rect x="1336" y="670" width="3.3" height="81.3"/><rect x="1339" y="670.4" width="3.3" height="80.4"/><rect x="1342" y="670" width="3.3" height="81.2"/><rect x="1345" y="669.6" width="3.3" height="82.1"/><rect x="1348" y="669.2" width="3.3" height="82.9"/><rect x="1351" y="668.8" width="3.3" height="83.7"/><rect x="1354" y="668.4" width="3.3" height="84.5"/><rect x="1357" y="668" width="3.3" height="85.2"/><rect x="1360" y="667.6" width="3.3" height="86"/><rect x="1363" y="667.2" width="3.3" height="86.8"/><rect x="1366" y="666.8" width="3.3" height="87.5"/><rect x="1369" y="666.5" width="3.3" height="88.2"/><rect x="1372" y="666.1" width="3.3" height="89"/><rect x="1375" y="665.7" width="3.3" height="89.7"/><rect x="1378" y="665.4" width="3.3" height="90.4"/><rect x="1381" y="665" width="3.3" height="91.2"/><rect x="1384" y="664.7" width="3.3" height="91.9"/><rect x="1387" y="664.3" width="3.3" height="92.6"/><rect x="1390" y="664" width="3.3" height="93.3"/><rect x="1393" y="663.6" width="3.3" height="94"/><rect x="1396" y="663.3" width="3.3" height="94.7"/><rect x="1399" y="662.9" width="3.3" height="95.4"/><rect x="1402" y="662.6" width="3.3" height="96.1"/><rect x="1405" y="662.2" width="3.3" height="96.7"/><rect x="1408" y="661.9" width="3.3" height="97.4"/><rect x="1411" y="661.6" width="3.3" height="98.1"/><rect x="1414" y="661.2" width="3.3" height="98.8"/><rect x="1417" y="660.9" width="3.3" height="99.4"/><rect x="1420" y="660.5" width="3.3" height="100.1"/><rect x="1423" y="660.2" width="3.3" height="100.8"/><rect x="1426" y="659.9" width="3.3" height="101.4"/><rect x="1429" y="659.6" width="3.3" height="102.1"/><rect x="1432" y="659.2" width="3.3" height="102.7"/><rect x="1435" y="658.9" width="3.3" height="103.4"/><rect x="1438" y="658.6" width="3.3" height="104.1"/><rect x="1441" y="658.2" width="3.3" height="104.7"/><rect x="1444" y="657.9" width="3.3" height="105.3"/><rect x="1447" y="657.6" width="3.3" height="106"/><rect x="1450" y="657.3" width="3.3" height="106.6"/><rect x="1453" y="657" width="3.3" height="107.3"/><rect x="1456" y="656.6" width="3.3" height="107.9"/><rect x="1459" y="656.3" width="3.3" height="108.5"/><rect x="1462" y="656" width="3.3" height="109.2"/><rect x="1465" y="655.7" width="3.3" height="109.8"/><rect x="1468" y="655.4" width="3.3" height="110.4"/><rect x="1471" y="655.1" width="3.3" height="111.1"/><rect x="1474" y="654.8" width="3.3" height="111.7"/><rect x="1477" y="654.4" width="3.3" height="112.3"/><rect x="1480" y="654.1" width="3.3" height="112.9"/><rect x="1483" y="653.8" width="3.3" height="113.6"/><rect x="1486" y="653.5" width="3.3" height="114.2"/><rect x="1489" y="653.2" width="3.3" height="114.8"/><rect x="1492" y="652.9" width="3.3" height="115.4"/><rect x="1495" y="652.6" width="3.3" height="116"/><rect x="1498" y="652.3" width="3.3" height="116.6"/><rect x="1501" y="652" width="3.3" height="117.2"/><rect x="1504" y="651.7" width="3.3" height="117.9"/><rect x="1507" y="651.4" width="3.3" height="118.5"/><rect x="1510" y="651.1" width="3.3" height="119.1"/><rect x="1513" y="650.8" width="3.3" height="119.7"/><rect x="1516" y="650.5" width="3.3" height="120.3"/><rect x="1519" y="650.2" width="3.3" height="120.9"/><rect x="1522" y="649.9" width="3.3" height="121.5"/><rect x="1525" y="649.6" width="3.3" height="122.1"/><rect x="1528" y="649.3" width="3.3" height="122.7"/><rect x="1531" y="649" width="3.3" height="123.3"/><rect x="1534" y="648.7" width="3.3" height="123.9"/><rect x="1537" y="648.4" width="3.3" height="124.5"/><rect x="1540" y="648.1" width="3.3" height="125.1"/><rect x="1543" y="647.8" width="3.3" height="125.6"/><rect x="1546" y="647.5" width="3.3" height="126.2"/><rect x="1549" y="647.2" width="3.3" height="126.8"/><rect x="1552" y="646.9" width="3.3" height="127.4"/><rect x="1555" y="646.6" width="3.3" height="128"/><rect x="1558" y="646.3" width="3.3" height="128.6"/><rect x="1561" y="646" width="3.3" height="129.2"/><rect x="1564" y="645.7" width="3.3" height="129.8"/><rect x="1567" y="645.4" width="3.3" height="130.3"/><rect x="1570" y="645.1" width="3.3" height="130.9"/><rect x="1573" y="644.8" width="3.3" height="131.5"/><rect x="1576" y="644.6" width="3.3" height="132.1"/><rect x="1579" y="644.3" width="3.3" height="132.7"/><rect x="1582" y="644" width="3.3" height="133.2"/><rect x="1585" y="643.7" width="3.3" height="133.8"/><rect x="1588" y="643.4" width="3.3" height="134.4"/><rect x="1591" y="643.1" width="3.3" height="135"/><rect x="1594" y="642.8" width="3.3" height="135.5"/><rect x="1597" y="642.5" width="3.3" height="136.1"/><rect x="1600" y="642.3" width="3.3" height="136.7"/><rect x="1603" y="642" width="3.3" height="137.3"/><rect x="1606" y="641.7" width="3.3" height="137.8"/><rect x="1609" y="641.4" width="3.3" height="138.4"/><rect x="1612" y="641.1" width="3.3" height="139"/><rect x="1615" y="640.8" width="3.3" height="139.5"/><rect x="1618" y="640.6" width="3.3" height="140.1"/><rect x="1621" y="640.3" width="3.3" height="140.7"/><rect x="1624" y="640" width="3.3" height="141.2"/><rect x="1627" y="639.7" width="3.3" height="141.8"/><rect x="1630" y="639.4" width="3.3" height="142.4"/><rect x="1633" y="639.1" width="3.3" height="142.9"/><rect x="1636" y="638.9" width="3.3" height="143.5"/><rect x="1639" y="638.6" width="3.3" height="144"/><rect x="1642" y="638.3" width="3.3" height="144.6"/><rect x="1645" y="638" width="3.3" height="145.2"/><rect x="1648" y="637.7" width="3.3" height="145.7"/><rect x="1651" y="637.5" width="3.3" height="146.3"/><rect x="1654" y="637.2" width="3.3" height="146.8"/><rect x="1657" y="636.9" width="3.3" height="147.4"/><rect x="1660" y="636.6" width="3.3" height="147.9"/><rect x="1663" y="636.3" width="3.3" height="148.5"/><rect x="1666" y="636.1" width="3.3" height="149.1"/><rect x="1669" y="635.8" width="3.3" height="149.6"/><rect x="1672" y="635.5" width="3.3" height="150.2"/><rect x="1675" y="635.2" width="3.3" height="150.7"/><rect x="1678" y="635" width="3.3" height="151.3"/><rect x="1681" y="634.7" width="3.3" height="151.8"/><rect x="1684" y="634.4" width="3.3" height="152.4"/><rect x="1687" y="634.1" width="3.3" height="152.9"/><rect x="1690" y="633.9" width="3.3" height="153.5"/><rect x="1693" y="633.6" width="3.3" height="154"/><rect x="1696" y="633.3" width="3.3" height="154.6"/><rect x="1699" y="633" width="3.3" height="155.1"/><rect x="1702" y="632.8" width="3.3" height="155.6"/><rect x="1705" y="632.5" width="3.3" height="156.2"/><rect x="1708" y="632.2" width="3.3" height="156.7"/><rect x="1711" y="632" width="3.3" height="157.3"/><rect x="1714" y="631.7" width="3.3" height="157.8"/><rect x="1717" y="631.4" width="3.3" height="158.4"/><rect x="1720" y="631.1" width="3.3" height="158.9"/><rect x="1723" y="630.9" width="3.3" height="159.5"/><rect x="1726" y="630.6" width="3.3" height="160"/><rect x="1729" y="630.3" width="3.3" height="160.5"/><rect x="1732" y="630.1" width="3.3" height="161.1"/><rect x="1735" y="629.8" width="3.3" height="161.6"/><rect x="1738" y="629.5" width="3.3" height="162.2"/><rect x="1741" y="629.3" width="3.3" height="162.7"/><rect x="1744" y="629" width="3.3" height="163.2"/><rect x="1747" y="628.7" width="3.3" height="163.8"/><rect x="1750" y="628.5" width="3.3" height="164.3"/><rect x="1753" y="628.2" width="3.3" height="164.8"/><rect x="1756" y="627.9" width="3.3" height="165.4"/><rect x="1759" y="627.6" width="3.3" height="165.9"/><rect x="1762" y="627.4" width="3.3" height="166.4"/><rect x="1765" y="627.1" width="3.3" height="167"/><rect x="1768" y="626.8" width="3.3" height="167.5"/><rect x="1771" y="626.6" width="3.3" height="168"/><rect x="1774" y="626.3" width="3.3" height="168.6"/><rect x="1777" y="626" width="3.3" height="169.1"/><rect x="1780" y="625.8" width="3.3" height="169.6"/><rect x="1783" y="625.5" width="3.3" height="170.2"/><rect x="1786" y="625.3" width="3.3" height="170.7"/><rect x="1789" y="625" width="3.3" height="171.2"/><rect x="1792" y="624.7" width="3.3" height="171.8"/><rect x="1795" y="624.5" width="3.3" height="172.3"/><rect x="1798" y="624.2" width="3.3" height="172.8"/><rect x="1801" y="623.9" width="3.3" height="173.3"/><rect x="1804" y="623.7" width="3.3" height="173.9"/><rect x="1807" y="623.4" width="3.3" height="174.4"/><rect x="1810" y="623.1" width="3.3" height="174.9"/><rect x="1813" y="622.9" width="3.3" height="175.4"/><rect x="1816" y="622.6" width="3.3" height="176"/><rect x="1819" y="622.4" width="3.3" height="176.5"/><rect x="1822" y="622.1" width="3.3" height="177"/><rect x="1825" y="621.8" width="3.3" height="177.5"/><rect x="1828" y="621.6" width="3.3" height="178.1"/><rect x="1831" y="621.3" width="3.3" height="178.6"/><rect x="1834" y="621" width="3.3" height="179.1"/><rect x="1837" y="620.8" width="3.3" height="179.6"/><rect x="1840" y="620.5" width="3.3" height="180.1"/><rect x="1843" y="620.3" width="3.3" height="180.7"/><rect x="1846" y="620" width="3.3" height="181.2"/><rect x="1849" y="619.7" width="3.3" height="181.7"/><rect x="1852" y="619.5" width="3.3" height="182.2"/><rect x="1855" y="619.2" width="3.3" height="182.7"/><rect x="1858" y="619" width="3.3" height="183.3"/><rect x="1861" y="618.7" width="3.3" height="183.8"/><rect x="1864" y="618.4" width="3.3" height="184.3"/><rect x="1867" y="618.2" width="3.3" height="184.8"/><rect x="1870" y="617.9" width="3.3" height="185.3"/><rect x="1873" y="617.7" width="3.3" height="185.9"/><rect x="1876" y="617.4" width="3.3" height="186.4"/><rect x="1879" y="617.2" width="3.3" height="186.9"/><rect x="1882" y="616.9" width="3.3" height="187.4"/><rect x="1885" y="616.6" width="3.3" height="187.9"/><rect x="1888" y="616.4" width="3.3" height="188.4"/><rect x="1891" y="616.1" width="3.3" height="188.9"/><rect x="1894" y="615.9" width="3.3" height="189.5"/><rect x="1897" y="615.6" width="3.3" height="190"/><rect x="1900" y="615.4" width="3.3" height="190.5"/><rect x="1903" y="615.1" width="3.3" height="191"/><rect x="1906" y="614.8" width="3.3" height="191.5"/><rect x="1909" y="614.6" width="3.3" height="192"/><rect x="1912" y="614.3" width="3.3" height="192.5"/><rect x="1915" y="614.1" width="3.3" height="193"/><rect x="1918" y="613.8" width="3.3" height="193.5"/><rect x="1921" y="613.6" width="3.3" height="194.1"/><rect x="1924" y="613.3" width="3.3" height="194.6"/><rect x="1927" y="613.1" width="3.3" height="195.1"/><rect x="1930" y="612.8" width="3.3" height="195.6"/><rect x="1933" y="612.6" width="3.3" height="196.1"/><rect x="1936" y="612.3" width="3.3" height="196.6"/><rect x="1939" y="612" width="3.3" height="197.1"/><rect x="1942" y="611.8" width="3.3" height="197.6"/><rect x="1945" y="611.5" width="3.3" height="198.1"/><rect x="1948" y="611.3" width="3.3" height="198.6"/><rect x="1951" y="611" width="3.3" height="199.1"/><rect x="1954" y="610.8" width="3.3" height="199.6"/><rect x="1957" y="610.5" width="3.3" height="200.1"/><rect x="1960" y="610.3" width="3.3" height="200.7"/><rect x="1963" y="610" width="3.3" height="201.2"/><rect x="1966" y="609.8" width="3.3" height="201.7"/><rect x="1969" y="609.5" width="3.3" height="202.2"/><rect x="1972" y="609.3" width="3.3" height="202.7"/><rect x="1975" y="609" width="3.3" height="203.2"/><rect x="1978" y="608.8" width="3.3" height="203.7"/><rect x="1981" y="608.5" width="3.3" height="204.2"/><rect x="1984" y="608.3" width="3.3" height="204.7"/><rect x="1987" y="608" width="3.3" height="205.2"/><rect x="1990" y="607.8" width="3.3" height="205.7"/><rect x="1993" y="607.5" width="3.3" height="206.2"/><rect x="1996" y="607.3" width="3.3" height="206.7"/><rect x="1999" y="607" width="3.3" height="207.2"/><rect x="2002" y="606.8" width="3.3" height="207.7"/><rect x="2005" y="606.5" width="3.3" height="208.2"/><rect x="2008" y="606.3" width="3.3" height="208.7"/><rect x="2011" y="606" width="3.3" height="209.2"/><rect x="2014" y="605.8" width="3.3" height="209.7"/><rect x="2017" y="605.5" width="3.3" height="210.2"/><rect x="2020" y="605.3" width="3.3" height="210.7"/><rect x="2023" y="605" width="3.3" height="211.2"/><rect x="2026" y="604.8" width="3.3" height="211.6"/><rect x="2029" y="604.8" width="3.3" height="211.6"/><rect x="2032" y="604.8" width="3.3" height="211.6"/></g></g></mask>
<pattern id="fpC" patternUnits="userSpaceOnUse" x="0" y="609.5" width="15" height="201"><path d="M5.6,6.9l3.7,0M4.8,16.3l5.5,0M4.1,25.7l6.7,0M3.6,35.2l7.7,0M3.2,44.6l8.5,0M2.9,54l9.1,0M2.7,63.4l9.6,0M2.5,72.8l10,0M2.4,82.3l10.3,0M2.3,91.7l10.4,0M2.3,110.5l10.4,0M2.4,119.9l10.3,0M2.5,129.4l10,0M2.7,138.8l9.6,0M2.9,148.2l9.1,0M3.2,157.6l8.5,0M3.6,167l7.7,0M4.1,176.5l6.7,0M4.8,185.9l5.5,0" stroke="#fff" stroke-width="1.8" stroke-opacity=".5" fill="none"/></pattern>
<linearGradient id="cb827" gradientUnits="userSpaceOnUse" x1="57.6" x2="1869" y1="0" y2="0"><stop offset="0" stop-color="#000"/><stop offset="1" stop-color="#fff"/></linearGradient>
<filter id="b7" x="0" y="0" width="2062" height="1200" filterUnits="userSpaceOnUse" color-interpolation-filters="sRGB"><feGaussianBlur stdDeviation="7"/></filter>
<filter id="b10" x="0" y="0" width="2062" height="1200" filterUnits="userSpaceOnUse" color-interpolation-filters="sRGB"><feGaussianBlur stdDeviation="10"/></filter>
<path id="ppD" d="M30,878L30,1009.6C41.7,1009.3 78.3,1008.3 100,1007.6C121.7,1006.9 140,1006.2 160,1005.4C180,1004.6 200,1003.7 220,1002.8C240,1001.9 256.7,1001 280,1000.2C303.3,999.4 336.5,997.9 360,998C383.5,998.1 404.2,998.6 421,1000.6C437.8,1002.6 447.7,1005.3 461,1010.3C474.3,1015.2 487.7,1022.9 501,1030.3C514.3,1037.7 529,1048.1 541,1054.4C553,1060.8 563,1065.3 573,1068.4C583,1071.5 593,1073.2 601,1073.2C609,1073.2 615,1071.5 621,1068.4C627,1065.3 632.9,1059.8 637,1054.4C641.1,1049.1 643.4,1042.7 645.5,1036.3C647.6,1029.9 648.6,1022.2 649.5,1016C650.4,1009.8 650.7,1004.9 651.2,999.1C651.7,993.3 651.8,986.8 652.4,981.1C653.1,975.5 653.9,970.1 655,965.4C656,960.7 657.2,956.4 658.6,952.9C660,949.4 661.6,946.6 663.2,944.3C664.9,942.1 666.8,940.6 668.7,939.4C670.6,938.3 672.7,937.8 674.8,937.4C676.9,937 679,937.1 681.2,937C683.4,936.9 685.6,936.9 687.8,937C690,937.1 692.1,937 694.2,937.4C696.3,937.8 698.4,938.3 700.3,939.4C702.2,940.6 704.1,942.1 705.8,944.3C707.4,946.6 709,949.4 710.4,952.9C711.8,956.4 713,960.7 714,965.4C715.1,970.1 715.9,975.5 716.6,981.1C717.2,986.8 717.6,993.3 717.8,999.1C718.1,1004.9 717.9,1010.8 718.1,1016C718.4,1021.3 718.7,1026 719.3,1030.5C719.9,1035 720.7,1039.4 721.6,1043.2C722.6,1047 723.7,1050.4 725,1053.2C726.2,1056 727.7,1058.3 729.2,1060.1C730.8,1061.9 732.5,1063.1 734.2,1064C736,1065 737.9,1065.3 739.8,1065.7C741.7,1066 743.7,1065.9 745.7,1066C747.7,1066 749.7,1066 751.7,1066C753.7,1065.9 755.7,1066 757.6,1065.7C759.5,1065.3 761.4,1065 763.2,1064C764.9,1063.1 766.6,1061.9 768.2,1060.1C769.7,1058.3 771.2,1056 772.4,1053.2C773.7,1050.4 774.8,1047 775.8,1043.2C776.7,1039.4 777.5,1035 778.1,1030.5C778.7,1026 779,1021.1 779.3,1016C779.5,1011 779.3,1005.5 779.5,1000.3C779.8,995.1 780.1,989.5 780.6,984.6C781.2,979.7 781.9,974.9 782.8,970.8C783.7,966.7 784.7,963 785.9,959.9C787.1,956.9 788.4,954.4 789.9,952.4C791.3,950.4 792.9,949.1 794.5,948.1C796.2,947.1 798,946.7 799.7,946.4C801.5,946 803.4,946.1 805.2,946C807.1,945.9 809,945.9 810.9,946C812.7,946.1 814.6,946 816.4,946.4C818.1,946.7 819.9,947.1 821.6,948.1C823.2,949.1 824.8,950.4 826.2,952.4C827.7,954.4 829,956.9 830.2,959.9C831.4,963 832.4,966.7 833.3,970.8C834.2,974.9 834.9,979.7 835.5,984.6C836,989.5 836.3,995 836.6,1000.3C836.8,1005.6 836.6,1011.1 836.8,1016.2C837.1,1021.3 837.4,1026.3 838,1030.9C838.6,1035.5 839.4,1039.9 840.3,1043.8C841.2,1047.6 842.4,1051.1 843.6,1054C844.9,1056.8 846.3,1059.2 847.9,1061C849.4,1062.9 851.1,1064.1 852.8,1065C854.6,1066 856.4,1066.3 858.3,1066.7C860.2,1067 862.2,1066.9 864.2,1067C866.2,1067 868.2,1067 870.2,1067C872.2,1066.9 874.2,1067 876.1,1066.7C878,1066.3 879.8,1066 881.6,1065C883.3,1064.1 885,1062.9 886.5,1061C888.1,1059.2 889.5,1056.8 890.8,1054C892,1051.1 893.2,1047.6 894.1,1043.8C895,1039.9 895.8,1035.5 896.4,1030.9C897,1026.3 897.3,1021.3 897.6,1016.2C897.8,1011.1 897.6,1005.6 897.8,1000.3C898.1,995 898.4,989.5 898.9,984.6C899.5,979.7 900.2,974.9 901.1,970.8C902,966.7 903,963 904.2,959.9C905.4,956.9 906.7,954.4 908.2,952.4C909.6,950.4 911.2,949.1 912.8,948.1C914.5,947.1 916.3,946.7 918,946.4C919.8,946 921.7,946.1 923.5,946C925.4,945.9 927.3,945.9 929.2,946C931,946.1 932.9,946 934.7,946.4C936.4,946.7 938.2,947.1 939.9,948.1C941.5,949.1 943.1,950.4 944.5,952.4C946,954.4 947.3,956.9 948.5,959.9C949.7,963 950.7,966.7 951.6,970.8C952.5,974.9 953.2,979.7 953.8,984.6C954.3,989.5 954.6,995.1 954.9,1000.3C955.1,1005.5 954.9,1010.9 955.2,1015.8C955.4,1020.7 955.8,1025.4 956.3,1029.7C956.9,1034.1 957.7,1038.3 958.7,1042C959.6,1045.6 960.8,1048.9 962.1,1051.6C963.4,1054.4 964.8,1056.6 966.4,1058.3C968,1060.1 969.7,1061.2 971.5,1062.1C973.3,1063 975.2,1063.4 977.1,1063.7C979.1,1064 981.1,1063.9 983.1,1064C985.2,1064 987.2,1064 989.3,1064C991.3,1063.9 993.3,1064 995.3,1063.7C997.2,1063.4 999.1,1063 1000.9,1062.1C1002.7,1061.2 1004.4,1060.1 1006,1058.3C1007.6,1056.6 1009,1054.4 1010.3,1051.6C1011.6,1048.9 1012.8,1045.6 1013.7,1042C1014.7,1038.3 1015.5,1034.1 1016.1,1029.7C1016.6,1025.4 1017,1020.7 1017.2,1015.8C1017.5,1010.8 1017.3,1005.3 1017.5,1000C1017.7,994.6 1018,988.8 1018.5,983.7C1019,978.6 1019.7,973.6 1020.5,969.4C1021.3,965.1 1022.3,961.2 1023.3,958.1C1024.4,954.9 1025.6,952.3 1027,950.2C1028.3,948.2 1029.7,946.8 1031.2,945.8C1032.7,944.8 1034.3,944.3 1036,944C1037.6,943.6 1039.3,943.7 1041,943.6C1042.7,943.5 1044.4,943.5 1046.1,943.6C1047.8,943.7 1049.5,943.6 1051.1,944C1052.8,944.3 1054.4,944.8 1055.9,945.8C1057.4,946.8 1058.8,948.2 1060.1,950.2C1061.5,952.3 1062.7,954.9 1063.8,958.1C1064.8,961.2 1065.8,965.1 1066.6,969.4C1067.4,973.6 1068.1,978.6 1068.6,983.7C1069.1,988.8 1069.4,994.6 1069.6,1000C1069.8,1005.3 1069.6,1010.8 1069.9,1015.8C1070.1,1020.7 1070.5,1025.4 1071.1,1029.7C1071.7,1034.1 1072.5,1038.3 1073.5,1042C1074.5,1045.6 1075.7,1048.9 1077.1,1051.6C1078.4,1054.4 1079.9,1056.6 1081.5,1058.3C1083.2,1060.1 1085,1061.2 1086.8,1062.1C1088.7,1063 1090.7,1063.4 1092.7,1063.7C1094.7,1064 1096.8,1063.9 1098.9,1064C1101,1064 1103.2,1064 1105.3,1064C1107.4,1063.9 1109.5,1064 1111.5,1063.7C1113.5,1063.4 1115.5,1063 1117.4,1062.1C1119.2,1061.2 1121,1060.1 1122.7,1058.3C1124.3,1056.6 1125.8,1054.4 1127.1,1051.6C1128.5,1048.9 1129.7,1045.6 1130.7,1042C1131.7,1038.3 1132.5,1034.1 1133.1,1029.7C1133.7,1025.4 1134.1,1020.8 1134.3,1015.8C1134.6,1010.8 1134.4,1005.2 1134.6,999.6C1134.9,994.1 1135.2,988 1135.7,982.7C1136.3,977.4 1137,972.2 1137.9,967.8C1138.8,963.3 1139.8,959.3 1141,956C1142.2,952.7 1143.5,950 1145,947.9C1146.4,945.8 1148,944.4 1149.6,943.3C1151.3,942.2 1153.1,941.8 1154.8,941.4C1156.6,941 1158.5,941.1 1160.3,941C1162.2,940.9 1164.1,940.9 1166,941C1167.8,941.1 1169.7,941 1171.5,941.4C1173.2,941.8 1175,942.2 1176.7,943.3C1178.3,944.4 1179.9,945.8 1181.3,947.9C1182.8,950 1184.1,952.7 1185.3,956C1186.5,959.3 1187.5,963.3 1188.4,967.8C1189.3,972.2 1190,977.4 1190.6,982.7C1191.1,988 1191.4,994.2 1191.7,999.6C1191.9,1005.1 1191.7,1010.4 1191.9,1015.1C1192.2,1019.8 1192.5,1023.9 1193.1,1027.8C1193.6,1031.8 1194.4,1035.6 1195.3,1039C1196.2,1042.3 1197.2,1045.3 1198.4,1047.8C1199.6,1050.2 1201,1052.2 1202.5,1053.8C1204,1055.4 1205.6,1056.5 1207.3,1057.3C1208.9,1058.1 1210.7,1058.4 1212.6,1058.7C1214.4,1059 1216.3,1058.9 1218.2,1059C1220.1,1059 1222,1059 1223.9,1059C1225.8,1058.9 1227.7,1059 1229.5,1058.7C1231.4,1058.4 1233.2,1058.1 1234.8,1057.3C1236.5,1056.5 1238.1,1055.4 1239.6,1053.8C1241.1,1052.2 1242.5,1050.2 1243.7,1047.8C1244.9,1045.3 1245.9,1042.3 1246.8,1039C1247.7,1035.6 1248.5,1031.8 1249,1027.8C1249.6,1023.9 1249.9,1019.9 1250.2,1015.1C1250.4,1010.3 1250.2,1004.8 1250.5,999.1C1250.7,993.4 1251.1,986.8 1251.8,981.1C1252.4,975.5 1253.3,970.1 1254.4,965.4C1255.4,960.7 1256.7,956.4 1258.2,952.9C1259.6,949.4 1261.2,946.6 1262.9,944.3C1264.7,942.1 1266.6,940.6 1268.6,939.4C1270.6,938.3 1272.7,937.8 1274.9,937.4C1277,937 1279.3,937.1 1281.5,937C1283.7,936.9 1286.1,936.9 1288.3,937C1290.5,937.1 1292.8,937 1294.9,937.4C1297.1,937.8 1299.2,938.3 1301.2,939.4C1303.2,940.6 1305.1,942.1 1306.9,944.3C1308.6,946.6 1310.2,949.4 1311.6,952.9C1313.1,956.4 1314.4,960.7 1315.4,965.4C1316.5,970.1 1317.4,975.5 1318,981.1C1318.7,986.8 1318.5,993 1319.3,999.1C1320.2,1005.3 1320.8,1011.4 1323,1018C1325.2,1024.6 1328.6,1033.6 1332.4,1039C1336.2,1044.4 1341.1,1047.8 1346,1050.5C1350.9,1053.2 1353,1054 1362,1055C1371,1056 1387.2,1056.5 1400,1056.5C1412.8,1056.5 1428.7,1056.4 1439,1055C1449.3,1053.6 1454.3,1052.2 1462,1048C1469.7,1043.8 1477.3,1036.1 1485,1030C1492.7,1023.9 1500.3,1015.8 1508,1011.5C1515.7,1007.2 1522.3,1006.1 1531,1004.5C1539.7,1002.9 1548.5,1002.6 1560,1002C1571.5,1001.4 1576.7,1001.2 1600,1001C1623.3,1000.8 1683.3,1001 1700,1001L1700,878Z"/>
<filter id="bzD0" x="0" y="0" width="2062" height="1200" filterUnits="userSpaceOnUse" color-interpolation-filters="sRGB"><feGaussianBlur stdDeviation="2.4"/></filter>
<clipPath id="czD0"><rect x="0" y="878" width="110" height="260"/></clipPath>
<filter id="bzD1" x="0" y="0" width="2062" height="1200" filterUnits="userSpaceOnUse" color-interpolation-filters="sRGB"><feGaussianBlur stdDeviation="2.6"/></filter>
<clipPath id="czD1"><rect x="110" y="878" width="70" height="260"/></clipPath>
<filter id="bzD2" x="0" y="0" width="2062" height="1200" filterUnits="userSpaceOnUse" color-interpolation-filters="sRGB"><feGaussianBlur stdDeviation="2.9"/></filter>
<clipPath id="czD2"><rect x="180" y="878" width="70" height="260"/></clipPath>
<filter id="bzD3" x="0" y="0" width="2062" height="1200" filterUnits="userSpaceOnUse" color-interpolation-filters="sRGB"><feGaussianBlur stdDeviation="3.1"/></filter>
<clipPath id="czD3"><rect x="250" y="878" width="70" height="260"/></clipPath>
<filter id="bzD4" x="0" y="0" width="2062" height="1200" filterUnits="userSpaceOnUse" color-interpolation-filters="sRGB"><feGaussianBlur stdDeviation="3.4"/></filter>
<clipPath id="czD4"><rect x="320" y="878" width="70" height="260"/></clipPath>
<filter id="bzD5" x="0" y="0" width="2062" height="1200" filterUnits="userSpaceOnUse" color-interpolation-filters="sRGB"><feGaussianBlur stdDeviation="3.6"/></filter>
<clipPath id="czD5"><rect x="390" y="878" width="60" height="260"/></clipPath>
<filter id="bzD6" x="0" y="0" width="2062" height="1200" filterUnits="userSpaceOnUse" color-interpolation-filters="sRGB"><feGaussianBlur stdDeviation="3.9"/></filter>
<clipPath id="czD6"><rect x="450" y="878" width="50" height="260"/></clipPath>
<filter id="bzD7" x="0" y="0" width="2062" height="1200" filterUnits="userSpaceOnUse" color-interpolation-filters="sRGB"><feGaussianBlur stdDeviation="4.2"/></filter>
<clipPath id="czD7"><rect x="500" y="878" width="60" height="260"/></clipPath>
<filter id="bzD8" x="0" y="0" width="2062" height="1200" filterUnits="userSpaceOnUse" color-interpolation-filters="sRGB"><feGaussianBlur stdDeviation="4.4"/></filter>
<clipPath id="czD8"><rect x="560" y="878" width="185" height="260"/></clipPath>
<filter id="bzD9" x="0" y="0" width="2062" height="1200" filterUnits="userSpaceOnUse" color-interpolation-filters="sRGB"><feGaussianBlur stdDeviation="4.9"/></filter>
<clipPath id="czD9"><rect x="745" y="878" width="119" height="260"/></clipPath>
<filter id="bzD10" x="0" y="0" width="2062" height="1200" filterUnits="userSpaceOnUse" color-interpolation-filters="sRGB"><feGaussianBlur stdDeviation="5.4"/></filter>
<clipPath id="czD10"><rect x="864" y="878" width="119" height="260"/></clipPath>
<filter id="bzD11" x="0" y="0" width="2062" height="1200" filterUnits="userSpaceOnUse" color-interpolation-filters="sRGB"><feGaussianBlur stdDeviation="5.9"/></filter>
<clipPath id="czD11"><rect x="983" y="878" width="119" height="260"/></clipPath>
<filter id="bzD12" x="0" y="0" width="2062" height="1200" filterUnits="userSpaceOnUse" color-interpolation-filters="sRGB"><feGaussianBlur stdDeviation="6.5"/></filter>
<clipPath id="czD12"><rect x="1102" y="878" width="119" height="260"/></clipPath>
<filter id="bzD13" x="0" y="0" width="2062" height="1200" filterUnits="userSpaceOnUse" color-interpolation-filters="sRGB"><feGaussianBlur stdDeviation="7.2"/></filter>
<clipPath id="czD13"><rect x="1221" y="878" width="141" height="260"/></clipPath>
<filter id="bzD14" x="0" y="0" width="2062" height="1200" filterUnits="userSpaceOnUse" color-interpolation-filters="sRGB"><feGaussianBlur stdDeviation="8"/></filter>
<clipPath id="czD14"><rect x="1362" y="878" width="38" height="260"/></clipPath>
<filter id="bzD15" x="0" y="0" width="2062" height="1200" filterUnits="userSpaceOnUse" color-interpolation-filters="sRGB"><feGaussianBlur stdDeviation="9"/></filter>
<clipPath id="czD15"><rect x="1400" y="878" width="40" height="260"/></clipPath>
<filter id="bzD16" x="0" y="0" width="2062" height="1200" filterUnits="userSpaceOnUse" color-interpolation-filters="sRGB"><feGaussianBlur stdDeviation="10.5"/></filter>
<clipPath id="czD16"><rect x="1440" y="878" width="140" height="260"/></clipPath>
<clipPath id="cpDr"><rect x="1580" y="878" width="500" height="260"/></clipPath>
<clipPath id="cpD"><rect x="45" y="908" width="1984" height="199.5" rx="4"/></clipPath>
<linearGradient id="loD" gradientUnits="userSpaceOnUse" x1="45" x2="2029" y1="0" y2="0"><stop offset="0" stop-color="#000000"/><stop offset="0.2999" stop-color="#000000"/><stop offset="0.3301" stop-color="#0d0d0d"/><stop offset="0.3856" stop-color="#1a1a1a"/><stop offset="0.4461" stop-color="#262626"/><stop offset="0.5066" stop-color="#333333"/><stop offset="0.567" stop-color="#404040"/><stop offset="0.6275" stop-color="#4a4a4a"/><stop offset="1" stop-color="#4f4f4f"/></linearGradient>
<linearGradient id="hiD" gradientUnits="userSpaceOnUse" x1="45" x2="2029" y1="0" y2="0"><stop offset="0" stop-color="#ededed"/><stop offset="0.2999" stop-color="#ededed"/><stop offset="0.3402" stop-color="#e6e6e6"/><stop offset="0.3604" stop-color="#e0e0e0"/><stop offset="0.4158" stop-color="#d6d6d6"/><stop offset="0.4763" stop-color="#c7c7c7"/><stop offset="0.5318" stop-color="#b8b8b8"/><stop offset="0.5922" stop-color="#adadad"/><stop offset="0.6477" stop-color="#a7a7a7"/><stop offset="1" stop-color="#a4a4a4"/></linearGradient>
<mask id="mD" maskUnits="userSpaceOnUse" x="35" y="898" width="2004" height="219.5"><rect x="35" y="898" width="2004" height="219.5" fill="#000"/><g clip-path="url(#czD0)"><g filter="url(#bzD0)"><use href="#ppD" fill="#fff"/></g></g><g clip-path="url(#czD1)"><g filter="url(#bzD1)"><use href="#ppD" fill="#fff"/></g></g><g clip-path="url(#czD2)"><g filter="url(#bzD2)"><use href="#ppD" fill="#fff"/></g></g><g clip-path="url(#czD3)"><g filter="url(#bzD3)"><use href="#ppD" fill="#fff"/></g></g><g clip-path="url(#czD4)"><g filter="url(#bzD4)"><use href="#ppD" fill="#fff"/></g></g><g clip-path="url(#czD5)"><g filter="url(#bzD5)"><use href="#ppD" fill="#fff"/></g></g><g clip-path="url(#czD6)"><g filter="url(#bzD6)"><use href="#ppD" fill="#fff"/></g></g><g clip-path="url(#czD7)"><g filter="url(#bzD7)"><use href="#ppD" fill="#fff"/></g></g><g clip-path="url(#czD8)"><g filter="url(#bzD8)"><use href="#ppD" fill="#fff"/></g></g><g clip-path="url(#czD9)"><g filter="url(#bzD9)"><use href="#ppD" fill="#fff"/></g></g><g clip-path="url(#czD10)"><g filter="url(#bzD10)"><use href="#ppD" fill="#fff"/></g></g><g clip-path="url(#czD11)"><g filter="url(#bzD11)"><use href="#ppD" fill="#fff"/></g></g><g clip-path="url(#czD12)"><g filter="url(#bzD12)"><use href="#ppD" fill="#fff"/></g></g><g clip-path="url(#czD13)"><g filter="url(#bzD13)"><use href="#ppD" fill="#fff"/></g></g><g clip-path="url(#czD14)"><g filter="url(#bzD14)"><use href="#ppD" fill="#fff"/></g></g><g clip-path="url(#czD15)"><g filter="url(#bzD15)"><use href="#ppD" fill="#fff"/></g></g><g clip-path="url(#czD16)"><g filter="url(#bzD16)"><use href="#ppD" fill="#fff"/></g></g><g clip-path="url(#cpDr)"><g filter="url(#bx2)"><path d="M1560,898L1560,969.6 h4L1564,969.6 h4L1568,969.6 h4L1572,969.6 h4L1576,969.6 h4L1580,968.9 h4L1584,967.6 h4L1588,966.4 h4L1592,965.1 h4L1596,963.8 h4L1600,962.5 h4L1604,961.2 h4L1608,960 h4L1612,958.7 h4L1616,957.4 h4L1620,956.1 h4L1624,954.9 h4L1628,953.6 h4L1632,952.3 h4L1636,951 h4L1640,949.7 h4L1644,948.5 h4L1648,947.2 h4L1652,945.9 h4L1656,944.6 h4L1660,943.3 h4L1664,942.1 h4L1668,940.8 h4L1672,939.5 h4L1676,938.2 h4L1680,937 h4L1684,935.7 h4L1688,934.4 h4L1692,933.1 h4L1696,931.8 h4L1700,930.6 h4L1704,929.3 h4L1708,928 h4L1712,926.7 h4L1716,925.4 h4L1720,924.7 h4L1724,924.5 h4L1728,924.2 h4L1732,924 h4L1736,923.8 h4L1740,923.5 h4L1744,923.3 h4L1748,923.1 h4L1752,922.8 h4L1756,922.6 h4L1760,922.4 h4L1764,922.1 h4L1768,921.9 h4L1772,921.7 h4L1776,921.4 h4L1780,921.2 h4L1784,921 h4L1788,920.7 h4L1792,920.5 h4L1796,920.3 h4L1800,920 h4L1804,919.8 h4L1808,919.6 h4L1812,919.3 h4L1816,919.1 h4L1820,918.9 h4L1824,918.7 h4L1828,918.4 h4L1832,918.2 h4L1836,918 h4L1840,917.7 h4L1844,917.5 h4L1848,917.3 h4L1852,917 h4L1856,916.8 h4L1860,916.6 h4L1864,916.3 h4L1868,916.1 h4L1872,915.9 h4L1876,915.6 h4L1880,915.4 h4L1884,915.2 h4L1888,914.9 h4L1892,914.7 h4L1896,914.5 h4L1900,914.2 h4L1904,914 h4L1908,913.8 h4L1912,913.5 h4L1916,913.3 h4L1920,913.1 h4L1924,912.8 h4L1928,912.6 h4L1932,912.4 h4L1936,912.1 h4L1940,911.9 h4L1944,911.7 h4L1948,911.4 h4L1952,911.2 h4L1956,911 h4L1960,910.8 h4L1964,910.5 h4L1968,910.3 h4L1972,910.1 h4L1976,909.8 h4L1980,909.6 h4L1984,909.4 h4L1988,909.1 h4L1992,908.9 h4L1996,908.7 h4L2000,908.4 h4L2004,908.2 h4L2008,908 h4L2012,907.7 h4L2016,907.5 h4L2020,907.3 h4L2024,907 h4L2028,906.9 h4L2032,906.9 h4L2036,906.9 h4L2040,898Z" fill="#fff"/><g fill="url(#erf)"><rect x="1560" y="967.6" width="4.3" height="68.1"/><rect x="1564" y="967.6" width="4.3" height="68.1"/><rect x="1568" y="967.6" width="4.3" height="68.1"/><rect x="1572" y="967.6" width="4.3" height="68.1"/><rect x="1576" y="967.6" width="4.3" height="68.1"/><rect x="1580" y="966.9" width="4.3" height="69.4"/><rect x="1584" y="965.6" width="4.3" height="72"/><rect x="1588" y="964.4" width="4.3" height="74.7"/><rect x="1592" y="963.1" width="4.3" height="77.3"/><rect x="1596" y="961.8" width="4.3" height="79.9"/><rect x="1600" y="960.5" width="4.3" height="82.5"/><rect x="1604" y="959.2" width="4.3" height="85.2"/><rect x="1608" y="958" width="4.3" height="87.8"/><rect x="1612" y="956.7" width="4.3" height="90.4"/><rect x="1616" y="955.4" width="4.3" height="93.1"/><rect x="1620" y="954.1" width="4.3" height="95.7"/><rect x="1624" y="952.9" width="4.3" height="98.3"/><rect x="1628" y="951.6" width="4.3" height="100.9"/><rect x="1632" y="950.3" width="4.3" height="103.6"/><rect x="1636" y="949" width="4.3" height="106.2"/><rect x="1640" y="947.7" width="4.3" height="108.8"/><rect x="1644" y="946.5" width="4.3" height="111.5"/><rect x="1648" y="945.2" width="4.3" height="114.1"/><rect x="1652" y="943.9" width="4.3" height="116.7"/><rect x="1656" y="942.6" width="4.3" height="119.3"/><rect x="1660" y="941.3" width="4.3" height="122"/><rect x="1664" y="940.1" width="4.3" height="124.6"/><rect x="1668" y="938.8" width="4.3" height="127.2"/><rect x="1672" y="937.5" width="4.3" height="129.9"/><rect x="1676" y="936.2" width="4.3" height="132.5"/><rect x="1680" y="935" width="4.3" height="135.1"/><rect x="1684" y="933.7" width="4.3" height="137.7"/><rect x="1688" y="932.4" width="4.3" height="140.4"/><rect x="1692" y="931.1" width="4.3" height="143"/><rect x="1696" y="929.8" width="4.3" height="145.6"/><rect x="1700" y="928.6" width="4.3" height="148.3"/><rect x="1704" y="927.3" width="4.3" height="150.9"/><rect x="1708" y="926" width="4.3" height="153.5"/><rect x="1712" y="924.7" width="4.3" height="156.1"/><rect x="1716" y="923.4" width="4.3" height="158.8"/><rect x="1720" y="922.7" width="4.3" height="160.3"/><rect x="1724" y="922.5" width="4.3" height="160.9"/><rect x="1728" y="922.2" width="4.3" height="161.4"/><rect x="1732" y="922" width="4.3" height="162"/><rect x="1736" y="921.8" width="4.3" height="162.5"/><rect x="1740" y="921.5" width="4.3" height="163"/><rect x="1744" y="921.3" width="4.3" height="163.6"/><rect x="1748" y="921.1" width="4.3" height="164.1"/><rect x="1752" y="920.8" width="4.3" height="164.6"/><rect x="1756" y="920.6" width="4.3" height="165.2"/><rect x="1760" y="920.4" width="4.3" height="165.7"/><rect x="1764" y="920.1" width="4.3" height="166.2"/><rect x="1768" y="919.9" width="4.3" height="166.8"/><rect x="1772" y="919.7" width="4.3" height="167.3"/><rect x="1776" y="919.4" width="4.3" height="167.9"/><rect x="1780" y="919.2" width="4.3" height="168.4"/><rect x="1784" y="919" width="4.3" height="168.9"/><rect x="1788" y="918.7" width="4.3" height="169.5"/><rect x="1792" y="918.5" width="4.3" height="170"/><rect x="1796" y="918.3" width="4.3" height="170.5"/><rect x="1800" y="918" width="4.3" height="171.1"/><rect x="1804" y="917.8" width="4.3" height="171.6"/><rect x="1808" y="917.6" width="4.3" height="172.1"/><rect x="1812" y="917.3" width="4.3" height="172.7"/><rect x="1816" y="917.1" width="4.3" height="173.2"/><rect x="1820" y="916.9" width="4.3" height="173.7"/><rect x="1824" y="916.7" width="4.3" height="174.3"/><rect x="1828" y="916.4" width="4.3" height="174.8"/><rect x="1832" y="916.2" width="4.3" height="175.4"/><rect x="1836" y="916" width="4.3" height="175.9"/><rect x="1840" y="915.7" width="4.3" height="176.4"/><rect x="1844" y="915.5" width="4.3" height="177"/><rect x="1848" y="915.3" width="4.3" height="177.5"/><rect x="1852" y="915" width="4.3" height="178"/><rect x="1856" y="914.8" width="4.3" height="178.6"/><rect x="1860" y="914.6" width="4.3" height="179.1"/><rect x="1864" y="914.3" width="4.3" height="179.6"/><rect x="1868" y="914.1" width="4.3" height="180.2"/><rect x="1872" y="913.9" width="4.3" height="180.7"/><rect x="1876" y="913.6" width="4.3" height="181.2"/><rect x="1880" y="913.4" width="4.3" height="181.8"/><rect x="1884" y="913.2" width="4.3" height="182.3"/><rect x="1888" y="912.9" width="4.3" height="182.9"/><rect x="1892" y="912.7" width="4.3" height="183.4"/><rect x="1896" y="912.5" width="4.3" height="183.9"/><rect x="1900" y="912.2" width="4.3" height="184.5"/><rect x="1904" y="912" width="4.3" height="185"/><rect x="1908" y="911.8" width="4.3" height="185.5"/><rect x="1912" y="911.5" width="4.3" height="186.1"/><rect x="1916" y="911.3" width="4.3" height="186.6"/><rect x="1920" y="911.1" width="4.3" height="187.1"/><rect x="1924" y="910.8" width="4.3" height="187.7"/><rect x="1928" y="910.6" width="4.3" height="188.2"/><rect x="1932" y="910.4" width="4.3" height="188.8"/><rect x="1936" y="910.1" width="4.3" height="189.3"/><rect x="1940" y="909.9" width="4.3" height="189.8"/><rect x="1944" y="909.7" width="4.3" height="190.4"/><rect x="1948" y="909.4" width="4.3" height="190.9"/><rect x="1952" y="909.2" width="4.3" height="191.4"/><rect x="1956" y="909" width="4.3" height="192"/><rect x="1960" y="908.8" width="4.3" height="192.5"/><rect x="1964" y="908.5" width="4.3" height="193"/><rect x="1968" y="908.3" width="4.3" height="193.6"/><rect x="1972" y="908.1" width="4.3" height="194.1"/><rect x="1976" y="907.8" width="4.3" height="194.6"/><rect x="1980" y="907.6" width="4.3" height="195.2"/><rect x="1984" y="907.4" width="4.3" height="195.7"/><rect x="1988" y="907.1" width="4.3" height="196.3"/><rect x="1992" y="906.9" width="4.3" height="196.8"/><rect x="1996" y="906.7" width="4.3" height="197.3"/><rect x="2000" y="906.4" width="4.3" height="197.9"/><rect x="2004" y="906.2" width="4.3" height="198.4"/><rect x="2008" y="906" width="4.3" height="198.9"/><rect x="2012" y="905.7" width="4.3" height="199.5"/><rect x="2016" y="905.5" width="4.3" height="200"/><rect x="2020" y="905.3" width="4.3" height="200.5"/><rect x="2024" y="905" width="4.3" height="201.1"/><rect x="2028" y="904.9" width="4.3" height="201.5"/><rect x="2032" y="904.9" width="4.3" height="201.5"/><rect x="2036" y="904.9" width="4.3" height="201.5"/></g></g></g></mask>
<linearGradient id="cb1123" gradientUnits="userSpaceOnUse" x1="57.6" x2="1866" y1="0" y2="0"><stop offset="0" stop-color="#000"/><stop offset="1" stop-color="#fff"/></linearGradient>
<path id="ppB" d="M30,285L30,415C41.7,414.6 78.3,413.3 100,412.5C121.7,411.7 140,410.8 160,410C180,409.2 199.9,408.3 220,407.5C240.1,406.7 257.1,405.7 280.6,405C304.1,404.3 337.4,403.2 360.8,403.4C384.2,403.6 404.3,403.9 421,406C437.7,408.1 447.7,411.3 461,416C474.3,420.7 487.7,427.3 501,434C514.3,440.7 527.7,449.7 541,456C554.3,462.3 569.7,468.7 581,472C592.3,475.3 601,476.7 609,476C617,475.3 623.7,472 629,468C634.3,464 637.8,458 641,452C644.2,446 646.3,439.6 648,432C649.7,424.4 650.4,413.1 651.2,406.1C651.9,399.1 651.8,395 652.5,389.9C653.2,384.8 654.1,379.9 655.1,375.6C656.2,371.4 657.5,367.6 658.9,364.4C660.4,361.2 662,358.6 663.8,356.6C665.6,354.6 667.5,353.2 669.5,352.2C671.5,351.2 673.7,350.7 675.8,350.4C678,350 680.3,350.1 682.6,350C684.8,349.9 687.2,349.9 689.4,350C691.7,350.1 694,350 696.2,350.4C698.3,350.7 700.5,351.2 702.5,352.2C704.5,353.2 706.4,354.6 708.2,356.6C710,358.6 711.6,361.2 713.1,364.4C714.5,367.6 715.8,371.4 716.9,375.6C717.9,379.9 718.8,384.8 719.5,389.9C720.2,395 720.6,400.8 720.8,406.1C721.1,411.5 720.9,416.9 721.1,421.9C721.4,426.8 721.7,431.4 722.3,435.8C722.8,440.2 723.6,444.4 724.5,448C725.4,451.7 726.5,454.9 727.7,457.7C728.9,460.4 730.3,462.6 731.8,464.3C733.3,466.1 734.9,467.2 736.6,468.1C738.3,469 740.1,469.4 741.9,469.7C743.8,470 745.7,469.9 747.6,470C749.5,470 751.5,470 753.4,470C755.3,469.9 757.2,470 759.1,469.7C760.9,469.4 762.7,469 764.4,468.1C766.1,467.2 767.7,466.1 769.2,464.3C770.7,462.6 772.1,460.4 773.3,457.7C774.5,454.9 775.6,451.7 776.5,448C777.4,444.4 778.2,440.2 778.7,435.8C779.3,431.4 779.6,426.7 779.9,421.9C780.1,417.1 779.9,411.9 780.1,406.9C780.4,402 780.7,396.8 781.2,392.2C781.8,387.6 782.5,383.1 783.4,379.3C784.3,375.4 785.4,371.9 786.6,369C787.8,366.2 789.1,363.8 790.6,362C792.1,360.2 793.7,358.9 795.3,358C797,357 798.8,356.7 800.6,356.3C802.4,356 804.3,356.1 806.2,356C808,356 810,356 811.8,356C813.7,356.1 815.6,356 817.4,356.3C819.2,356.7 821,357 822.7,358C824.3,358.9 825.9,360.2 827.4,362C828.9,363.8 830.2,366.2 831.4,369C832.6,371.9 833.7,375.4 834.6,379.3C835.5,383.1 836.2,387.6 836.8,392.2C837.3,396.8 837.6,402 837.9,406.9C838.1,411.8 837.9,416.9 838.1,421.6C838.4,426.3 838.7,430.8 839.3,435C839.9,439.2 840.7,443.3 841.7,446.8C842.6,450.3 843.8,453.5 845,456.1C846.3,458.7 847.8,460.9 849.3,462.5C850.9,464.2 852.6,465.3 854.4,466.2C856.2,467 858.1,467.4 860,467.7C861.9,468 864,467.9 866,468C868,468 870,468 872,468C874,467.9 876.1,468 878,467.7C879.9,467.4 881.8,467 883.6,466.2C885.4,465.3 887.1,464.2 888.7,462.5C890.2,460.9 891.7,458.7 893,456.1C894.2,453.5 895.4,450.3 896.3,446.8C897.3,443.3 898.1,439.2 898.7,435C899.3,430.8 899.6,426.2 899.9,421.6C900.1,417 899.9,412.1 900.1,407.4C900.4,402.8 900.7,398 901.2,393.7C901.8,389.4 902.5,385.3 903.4,381.7C904.3,378.1 905.4,374.8 906.6,372.2C907.8,369.5 909.1,367.3 910.6,365.6C912.1,363.9 913.7,362.7 915.3,361.9C917,361 918.8,360.6 920.6,360.3C922.4,360 924.3,360.1 926.2,360C928,360 930,360 931.8,360C933.7,360.1 935.6,360 937.4,360.3C939.2,360.6 941,361 942.7,361.9C944.3,362.7 945.9,363.9 947.4,365.6C948.9,367.3 950.2,369.5 951.4,372.2C952.6,374.8 953.7,378.1 954.6,381.7C955.5,385.3 956.2,389.4 956.8,393.7C957.3,398 957.6,402.8 957.9,407.4C958.1,412 957.9,416.8 958.1,421.2C958.4,425.6 958.7,429.9 959.3,433.9C959.9,437.9 960.6,441.7 961.5,445C962.5,448.3 963.6,451.3 964.8,453.8C966,456.2 967.5,458.3 969,459.8C970.5,461.4 972.1,462.5 973.9,463.3C975.6,464.1 977.4,464.4 979.3,464.7C981.2,465 983.1,464.9 985.1,465C987,465 989,465 990.9,465C992.9,464.9 994.8,465 996.7,464.7C998.6,464.4 1000.4,464.1 1002.1,463.3C1003.9,462.5 1005.5,461.4 1007,459.8C1008.5,458.3 1010,456.2 1011.2,453.8C1012.4,451.3 1013.5,448.3 1014.5,445C1015.4,441.7 1016.1,437.9 1016.7,433.9C1017.3,429.9 1017.6,425.5 1017.9,421.2C1018.1,416.9 1017.9,412.3 1018.1,408C1018.4,403.6 1018.7,399.2 1019.3,395.2C1019.9,391.3 1020.6,387.4 1021.5,384.1C1022.5,380.8 1023.6,377.8 1024.8,375.3C1026,372.8 1027.5,370.8 1029,369.2C1030.5,367.6 1032.1,366.5 1033.9,365.7C1035.6,364.9 1037.4,364.6 1039.3,364.3C1041.2,364 1043.1,364.1 1045.1,364C1047,364 1049,364 1050.9,364C1052.9,364.1 1054.8,364 1056.7,364.3C1058.6,364.6 1060.4,364.9 1062.1,365.7C1063.9,366.5 1065.5,367.6 1067,369.2C1068.5,370.8 1070,372.8 1071.2,375.3C1072.4,377.8 1073.5,380.8 1074.5,384.1C1075.4,387.4 1076.1,391.3 1076.7,395.2C1077.3,399.2 1075.6,404.7 1077.9,408C1080.1,411.2 1069.6,413.5 1090,414.6C1110.4,415.7 1181.7,414.6 1200,414.6L1200,285Z"/>
<filter id="bzB0" x="0" y="0" width="2062" height="1200" filterUnits="userSpaceOnUse" color-interpolation-filters="sRGB"><feGaussianBlur stdDeviation="9.5"/></filter>
<clipPath id="czB0"><rect x="640" y="285" width="660" height="260"/></clipPath>
<clipPath id="cpBl"><rect x="0" y="285" width="640" height="260"/></clipPath>
<clipPath id="cpB"><rect x="45" y="315" width="1985" height="198.6" rx="4"/></clipPath>
<linearGradient id="loB" gradientUnits="userSpaceOnUse" x1="45" x2="2030" y1="0" y2="0"><stop offset="0" stop-color="#000000"/><stop offset="0.1788" stop-color="#000000"/><stop offset="0.2796" stop-color="#0a0a0a"/><stop offset="0.3018" stop-color="#0d0d0d"/><stop offset="0.3068" stop-color="#4c4c4c"/><stop offset="0.3401" stop-color="#575757"/><stop offset="0.3703" stop-color="#666666"/><stop offset="0.4005" stop-color="#6e6e6e"/><stop offset="0.461" stop-color="#787878"/><stop offset="0.5315" stop-color="#808080"/><stop offset="1" stop-color="#808080"/></linearGradient>
<linearGradient id="hiB" gradientUnits="userSpaceOnUse" x1="45" x2="2030" y1="0" y2="0"><stop offset="0" stop-color="#ffffff"/><stop offset="0.2141" stop-color="#ffffff"/><stop offset="0.2418" stop-color="#ebebeb"/><stop offset="0.2997" stop-color="#e6e6e6"/><stop offset="0.3058" stop-color="#c2c2c2"/><stop offset="0.3395" stop-color="#b2b2b2"/><stop offset="0.3416" stop-color="#9c9c9c"/><stop offset="0.3602" stop-color="#999999"/><stop offset="0.4156" stop-color="#8f8f8f"/><stop offset="0.4761" stop-color="#878787"/><stop offset="0.5315" stop-color="#808080"/><stop offset="1" stop-color="#808080"/></linearGradient>
<mask id="mB" maskUnits="userSpaceOnUse" x="35" y="305" width="2005" height="218.60000000000002"><rect x="35" y="305" width="2005" height="218.60000000000002" fill="#000"/><g clip-path="url(#czB0)"><g filter="url(#bzB0)"><use href="#ppB" fill="#fff"/></g></g><g clip-path="url(#cpBl)"><g filter="url(#bx2)"><path d="M37,305L37,415.3 h4L41,415.2 h4L45,412.8 h4L49,409.5 h4L53,406.3 h4L57,403 h4L61,400.9 h4L65,399.2 h4L69,397.4 h4L73,395.6 h4L77,393.9 h4L81,392.1 h4L85,390.4 h4L89,388.6 h4L93,386.8 h4L97,385 h4L101,383.8 h4L105,382.7 h4L109,381.6 h4L113,380.5 h4L117,379.4 h4L121,378.4 h4L125,377.3 h4L129,376.2 h4L133,375.1 h4L137,374 h4L141,372.9 h4L145,371.8 h4L149,370.7 h4L153,369.7 h4L157,368.6 h4L161,367.7 h4L165,366.9 h4L169,366.2 h4L173,365.4 h4L177,364.6 h4L181,363.8 h4L185,363 h4L189,362.3 h4L193,361.5 h4L197,360.7 h4L201,359.9 h4L205,359.1 h4L209,358.4 h4L213,357.6 h4L217,356.8 h4L221,356 h4L225,355.2 h4L229,354.4 h4L233,353.6 h4L237,352.9 h4L241,352.1 h4L245,351.3 h4L249,350.5 h4L253,349.7 h4L257,348.9 h4L261,348.2 h4L265,347.4 h4L269,346.6 h4L273,345.9 h4L277,345.1 h4L281,344.6 h4L285,344.1 h4L289,343.6 h4L293,343.2 h4L297,342.7 h4L301,342.3 h4L305,341.8 h4L309,341.4 h4L313,341 h4L317,340.5 h4L321,340.1 h4L325,339.7 h4L329,339.3 h4L333,338.9 h4L337,338.5 h4L341,338.1 h4L345,337.7 h4L349,337.3 h4L353,336.9 h4L357,336.5 h4L361,336.4 h4L365,336.3 h4L369,336.3 h4L373,336.3 h4L377,336.3 h4L381,336.3 h4L385,336.4 h4L389,336.5 h4L393,336.7 h4L397,336.9 h4L401,337.1 h4L405,337.4 h4L409,337.8 h4L413,338.2 h4L417,338.7 h4L421,339.8 h4L425,341.2 h4L429,342.6 h4L433,344.1 h4L437,345.7 h4L441,347.3 h4L445,349.1 h4L449,350.9 h4L453,352.9 h4L457,354.9 h4L461,357.1 h4L465,359.5 h4L469,362 h4L473,364.6 h4L477,367.2 h4L481,370 h4L485,372.8 h4L489,375.6 h4L493,378.6 h4L497,381.6 h4L501,384.6 h4L505,387.8 h4L509,390.9 h4L513,394.1 h4L517,397.3 h4L521,400.4 h4L525,403.6 h4L529,406.7 h4L533,409.8 h4L537,412.8 h4L541,415.6 h4L545,418.3 h4L549,420.8 h4L553,423.2 h4L557,425.6 h4L561,427.9 h4L565,430.1 h4L569,432.2 h4L573,434.3 h4L577,436.2 h4L581,438 h4L585,439.4 h4L589,440.7 h4L593,441.8 h4L597,442.6 h4L601,443.2 h4L605,443.5 h4L609,443.2 h4L613,442.4 h4L617,441.1 h4L621,439.3 h4L625,436.9 h4L629,433.9 h4L633,429.8 h4L637,423.6 h4L641,414.5 h4L645,402.7 h4L649,389.5 h4L653,375.9 h4L657,362.6 h4L661,350.3 h4L665,305Z" fill="#fff"/><g fill="url(#erf)"><rect x="37" y="413.3" width="4.3" height="2.8"/><rect x="41" y="413.2" width="4.3" height="2.8"/><rect x="45" y="410.8" width="4.3" height="7.4"/><rect x="49" y="407.5" width="4.3" height="13.6"/><rect x="53" y="404.3" width="4.3" height="19.8"/><rect x="57" y="401" width="4.3" height="26"/><rect x="61" y="398.9" width="4.3" height="30"/><rect x="65" y="397.2" width="4.3" height="33.2"/><rect x="69" y="395.4" width="4.3" height="36.5"/><rect x="73" y="393.6" width="4.3" height="39.7"/><rect x="77" y="391.9" width="4.3" height="42.9"/><rect x="81" y="390.1" width="4.3" height="46.1"/><rect x="85" y="388.4" width="4.3" height="49.3"/><rect x="89" y="386.6" width="4.3" height="52.6"/><rect x="93" y="384.8" width="4.3" height="55.8"/><rect x="97" y="383" width="4.3" height="59"/><rect x="101" y="381.8" width="4.3" height="61.2"/><rect x="105" y="380.7" width="4.3" height="63"/><rect x="109" y="379.6" width="4.3" height="64.9"/><rect x="113" y="378.5" width="4.3" height="66.7"/><rect x="117" y="377.4" width="4.3" height="68.5"/><rect x="121" y="376.4" width="4.3" height="70.4"/><rect x="125" y="375.3" width="4.3" height="72.2"/><rect x="129" y="374.2" width="4.3" height="74.1"/><rect x="133" y="373.1" width="4.3" height="75.9"/><rect x="137" y="372" width="4.3" height="77.7"/><rect x="141" y="370.9" width="4.3" height="79.6"/><rect x="145" y="369.8" width="4.3" height="81.4"/><rect x="149" y="368.7" width="4.3" height="83.3"/><rect x="153" y="367.7" width="4.3" height="85.1"/><rect x="157" y="366.6" width="4.3" height="86.9"/><rect x="161" y="365.7" width="4.3" height="88.3"/><rect x="165" y="364.9" width="4.3" height="89.5"/><rect x="169" y="364.2" width="4.3" height="90.8"/><rect x="173" y="363.4" width="4.3" height="92"/><rect x="177" y="362.6" width="4.3" height="93.2"/><rect x="181" y="361.8" width="4.3" height="94.5"/><rect x="185" y="361" width="4.3" height="95.7"/><rect x="189" y="360.3" width="4.3" height="96.9"/><rect x="193" y="359.5" width="4.3" height="98.1"/><rect x="197" y="358.7" width="4.3" height="99.4"/><rect x="201" y="357.9" width="4.3" height="100.6"/><rect x="205" y="357.1" width="4.3" height="101.8"/><rect x="209" y="356.4" width="4.3" height="103"/><rect x="213" y="355.6" width="4.3" height="104.3"/><rect x="217" y="354.8" width="4.3" height="105.5"/><rect x="221" y="354" width="4.3" height="106.7"/><rect x="225" y="353.2" width="4.3" height="107.9"/><rect x="229" y="352.4" width="4.3" height="109.2"/><rect x="233" y="351.6" width="4.3" height="110.4"/><rect x="237" y="350.9" width="4.3" height="111.6"/><rect x="241" y="350.1" width="4.3" height="112.9"/><rect x="245" y="349.3" width="4.3" height="114.1"/><rect x="249" y="348.5" width="4.3" height="115.3"/><rect x="253" y="347.7" width="4.3" height="116.5"/><rect x="257" y="346.9" width="4.3" height="117.8"/><rect x="261" y="346.2" width="4.3" height="119"/><rect x="265" y="345.4" width="4.3" height="120.2"/><rect x="269" y="344.6" width="4.3" height="121.4"/><rect x="273" y="343.9" width="4.3" height="122.7"/><rect x="277" y="343.1" width="4.3" height="123.9"/><rect x="281" y="342.6" width="4.3" height="124.7"/><rect x="285" y="342.1" width="4.3" height="125.4"/><rect x="289" y="341.6" width="4.3" height="126.1"/><rect x="293" y="341.2" width="4.3" height="126.8"/><rect x="297" y="340.7" width="4.3" height="127.5"/><rect x="301" y="340.3" width="4.3" height="128.2"/><rect x="305" y="339.8" width="4.3" height="128.9"/><rect x="309" y="339.4" width="4.3" height="129.5"/><rect x="313" y="339" width="4.3" height="130.2"/><rect x="317" y="338.5" width="4.3" height="130.9"/><rect x="321" y="338.1" width="4.3" height="131.6"/><rect x="325" y="337.7" width="4.3" height="132.3"/><rect x="329" y="337.3" width="4.3" height="133"/><rect x="333" y="336.9" width="4.3" height="133.7"/><rect x="337" y="336.5" width="4.3" height="134.4"/><rect x="341" y="336.1" width="4.3" height="135.1"/><rect x="345" y="335.7" width="4.3" height="135.8"/><rect x="349" y="335.3" width="4.3" height="136.4"/><rect x="353" y="334.9" width="4.3" height="137.1"/><rect x="357" y="334.5" width="4.3" height="137.8"/><rect x="361" y="334.4" width="4.3" height="138"/><rect x="365" y="334.3" width="4.3" height="138"/><rect x="369" y="334.3" width="4.3" height="138"/><rect x="373" y="334.3" width="4.3" height="138"/><rect x="377" y="334.3" width="4.3" height="138"/><rect x="381" y="334.3" width="4.3" height="138"/><rect x="385" y="334.4" width="4.3" height="138"/><rect x="389" y="334.5" width="4.3" height="138"/><rect x="393" y="334.7" width="4.3" height="138"/><rect x="397" y="334.9" width="4.3" height="138"/><rect x="401" y="335.1" width="4.3" height="138"/><rect x="405" y="335.4" width="4.3" height="138"/><rect x="409" y="335.8" width="4.3" height="138"/><rect x="413" y="336.2" width="4.3" height="138"/><rect x="417" y="336.7" width="4.3" height="138"/><rect x="421" y="337.8" width="4.3" height="137"/><rect x="425" y="339.2" width="4.3" height="135.6"/><rect x="429" y="340.6" width="4.3" height="134.3"/><rect x="433" y="342.1" width="4.3" height="133"/><rect x="437" y="343.7" width="4.3" height="131.6"/><rect x="441" y="345.3" width="4.3" height="130.3"/><rect x="445" y="347.1" width="4.3" height="128.9"/><rect x="449" y="348.9" width="4.3" height="127.6"/><rect x="453" y="350.9" width="4.3" height="126.2"/><rect x="457" y="352.9" width="4.3" height="124.9"/><rect x="461" y="355.1" width="4.3" height="123.3"/><rect x="465" y="357.5" width="4.3" height="121.4"/><rect x="469" y="360" width="4.3" height="119.6"/><rect x="473" y="362.6" width="4.3" height="117.8"/><rect x="477" y="365.2" width="4.3" height="115.9"/><rect x="481" y="368" width="4.3" height="114.1"/><rect x="485" y="370.8" width="4.3" height="112.2"/><rect x="489" y="373.6" width="4.3" height="110.4"/><rect x="493" y="376.6" width="4.3" height="108.6"/><rect x="497" y="379.6" width="4.3" height="106.7"/><rect x="501" y="382.6" width="4.3" height="104.9"/><rect x="505" y="385.8" width="4.3" height="103"/><rect x="509" y="388.9" width="4.3" height="101.2"/><rect x="513" y="392.1" width="4.3" height="99.4"/><rect x="517" y="395.3" width="4.3" height="97.5"/><rect x="521" y="398.4" width="4.3" height="95.7"/><rect x="525" y="401.6" width="4.3" height="93.8"/><rect x="529" y="404.7" width="4.3" height="92"/><rect x="533" y="407.8" width="4.3" height="90.2"/><rect x="537" y="410.8" width="4.3" height="88.3"/><rect x="541" y="413.6" width="4.3" height="86.7"/><rect x="545" y="416.3" width="4.3" height="85.3"/><rect x="549" y="418.8" width="4.3" height="83.9"/><rect x="553" y="421.2" width="4.3" height="82.6"/><rect x="557" y="423.6" width="4.3" height="81.2"/><rect x="561" y="425.9" width="4.3" height="79.8"/><rect x="565" y="428.1" width="4.3" height="78.4"/><rect x="569" y="430.2" width="4.3" height="77"/><rect x="573" y="432.3" width="4.3" height="75.7"/><rect x="577" y="434.2" width="4.3" height="74.3"/><rect x="581" y="436" width="4.3" height="73.3"/><rect x="585" y="437.4" width="4.3" height="72.6"/><rect x="589" y="438.7" width="4.3" height="72"/><rect x="593" y="439.8" width="4.3" height="71.3"/><rect x="597" y="440.6" width="4.3" height="70.6"/><rect x="601" y="441.2" width="4.3" height="70"/><rect x="605" y="441.5" width="4.3" height="69.3"/><rect x="609" y="441.2" width="4.3" height="69"/><rect x="613" y="440.4" width="4.3" height="69"/><rect x="617" y="439.1" width="4.3" height="69"/><rect x="621" y="437.3" width="4.3" height="69"/><rect x="625" y="434.9" width="4.3" height="69"/><rect x="629" y="431.9" width="4.3" height="69"/><rect x="633" y="427.8" width="4.3" height="69"/><rect x="637" y="421.6" width="4.3" height="69"/><rect x="641" y="412.5" width="4.3" height="69"/><rect x="645" y="400.7" width="4.3" height="69"/><rect x="649" y="387.5" width="4.3" height="69"/><rect x="653" y="373.9" width="4.3" height="69"/><rect x="657" y="360.6" width="4.3" height="69"/><rect x="661" y="348.3" width="4.3" height="69"/></g></g></g></mask>
<linearGradient id="cb533" gradientUnits="userSpaceOnUse" x1="52" x2="1871.5" y1="0" y2="0"><stop offset="0" stop-color="#000"/><stop offset="1" stop-color="#fff"/></linearGradient>
</defs>
<g filter="url(#jet)"><g clip-path="url(#cpA)"><rect x="42" y="26" width="1984" height="201" fill="url(#loA)"/><g mask="url(#mA)"><rect x="42" y="26" width="1984" height="201" fill="url(#hiA)"/></g></g></g>
<g clip-path="url(#cpA)"><rect x="45" y="26" width="570" height="201" fill="url(#fpA)" opacity=".6"/><rect x="1335" y="26" width="690" height="201" fill="url(#fpA)"/><path d="M621.5,32.2l2.1,-0.1M620.5,41.7l3.9,-0.1M619.9,51.2l5.3,-0.2M619.3,60.6l6.4,-0.4M618.9,70.1l7.2,-0.5M618.5,79.7l7.9,-0.7M618.3,89.2l8.5,-1M618.1,98.8l8.9,-1.3M618,108.4l9.1,-1.8M617.9,118.1l9.2,-2.3M617.8,126.4l9.5,0M617.9,134.7l9.2,2.3M618,144.4l9.1,1.8M618.1,154l8.9,1.3M618.3,163.6l8.5,1M618.5,173.1l7.9,0.7M618.9,182.7l7.2,0.5M619.3,192.2l6.4,0.4M619.9,201.6l5.3,0.2M620.5,211.1l3.9,0.1M621.5,220.6l2.1,0.1M636.5,32.2l2.1,0M635.5,41.6l3.9,0M634.9,51.1l5.3,0M634.3,60.5l6.4,-0.1M633.9,69.9l7.3,-0.1M633.5,79.4l8,-0.1M633.2,88.8l8.5,-0.2M633,98.2l9,-0.2M632.9,107.7l9.3,-0.3M632.9,145.1l9.3,0.3M633,154.6l9,0.2M633.2,164l8.5,0.2M633.5,173.4l8,0.1M633.9,182.9l7.3,0.1M634.3,192.3l6.4,0.1M634.9,201.7l5.3,0M635.5,211.2l3.9,0M636.5,220.6l2.1,0M651.5,32.1l2,0.2M650.6,41.4l3.9,0.5M649.9,50.6l5.2,0.9M649.4,59.8l6.2,1.4M649,68.9l7,2M648.8,77.9l7.5,2.7M648.6,86.9l7.7,3.6M648.7,95.8l7.7,4.6M648.8,104.7l7.3,5.7M649.1,113.7l6.7,6.6M647.8,126.4l9.5,0M649.1,139.1l6.7,-6.6M648.8,148.1l7.3,-5.7M648.7,157l7.7,-4.6M648.6,165.9l7.7,-3.6M648.8,174.9l7.5,-2.7M649,183.9l7,-2M649.4,193l6.2,-1.4M649.9,202.2l5.2,-0.9M650.6,211.4l3.9,-0.5M651.5,220.7l2,-0.2M666.5,32.2l2.1,0M665.5,41.6l3.9,0M664.9,51l5.3,0M664.3,60.4l6.4,0M663.9,69.9l7.3,0M663.5,79.3l8,0.1M663.2,88.7l8.5,0.1M663,98.1l9,0.1M662.9,107.5l9.3,0.2M662.8,116.9l9.4,0.2M662.8,126.4l9.5,0M662.8,135.9l9.4,-0.2M662.9,145.3l9.3,-0.2M663,154.7l9,-0.1M663.2,164.1l8.5,-0.1M663.5,173.5l8,-0.1M663.9,182.9l7.3,0M664.3,192.4l6.4,0M664.9,201.8l5.3,0M665.5,211.2l3.9,0M666.5,220.6l2.1,0M681.5,32.3l2,-0.2M680.6,41.9l3.9,-0.5M679.9,51.5l5.2,-0.9M679.4,61.2l6.2,-1.4M679,70.9l7,-2M678.8,80.7l7.5,-2.7M678.6,90.5l7.7,-3.6M678.7,100.5l7.7,-4.6M678.8,110.4l7.3,-5.7M679.1,120.3l6.7,-6.6M677.8,126.4l9.5,0M679.1,132.5l6.7,6.6M678.8,142.4l7.3,5.7M678.7,152.3l7.7,4.6M678.6,162.3l7.7,3.6M678.8,172.1l7.5,2.7M679,181.9l7,2M679.4,191.6l6.2,1.4M679.9,201.3l5.2,0.9M680.6,210.9l3.9,0.5M681.5,220.5l2,0.2M696.5,32.2l2.1,0M695.5,41.6l3.9,0M694.9,51l5.3,0M694.3,60.5l6.4,0M693.9,69.9l7.3,0M693.5,79.3l8,0M693.2,88.7l8.5,0M693,98.1l9,0.1M692.9,107.5l9.3,0.1M692.9,145.3l9.3,-0.1M693,154.7l9,-0.1M693.2,164.1l8.5,0M693.5,173.5l8,0M693.9,182.9l7.3,0M694.3,192.3l6.4,0M694.9,201.8l5.3,0M695.5,211.2l3.9,0M696.5,220.6l2.1,0M711.5,32.1l2,0.2M710.6,41.4l3.9,0.5M709.9,50.6l5.2,0.9M709.4,59.8l6.2,1.4M709,68.9l7,2M708.8,77.9l7.5,2.7M708.6,86.9l7.7,3.6M708.7,95.8l7.7,4.6M708.8,104.7l7.3,5.7M709.1,113.7l6.7,6.6M707.8,126.4l9.5,0M709.1,139.1l6.7,-6.6M708.8,148.1l7.3,-5.7M708.7,157l7.7,-4.6M708.6,165.9l7.7,-3.6M708.8,174.9l7.5,-2.7M709,183.9l7,-2M709.4,193l6.2,-1.4M709.9,202.2l5.2,-0.9M710.6,211.4l3.9,-0.5M711.5,220.7l2,-0.2M726.5,32.2l2.1,0M725.5,41.6l3.9,0M724.9,51.1l5.3,0M724.3,60.5l6.4,-0.1M723.9,69.9l7.3,-0.1M723.5,79.4l8,-0.1M723.2,88.8l8.5,-0.2M723,98.3l9,-0.2M722.9,107.7l9.3,-0.3M722.8,117.2l9.4,-0.4M722.8,126.4l9.5,0M722.8,135.6l9.4,0.4M722.9,145.1l9.3,0.3M723,154.5l9,0.2M723.2,164l8.5,0.2M723.5,173.4l8,0.1M723.9,182.9l7.3,0.1M724.3,192.3l6.4,0.1M724.9,201.7l5.3,0M725.5,211.2l3.9,0M726.5,220.6l2.1,0M741.5,32.3l2,-0.2M740.6,41.9l3.9,-0.5M739.9,51.5l5.2,-0.9M739.4,61.2l6.2,-1.4M739,70.9l7,-2M738.8,80.7l7.5,-2.7M738.6,90.5l7.7,-3.6M738.7,100.5l7.7,-4.6M738.8,110.4l7.3,-5.7M739.1,120.3l6.7,-6.6M737.8,126.4l9.5,0M739.1,132.5l6.7,6.6M738.8,142.4l7.3,5.7M738.7,152.3l7.7,4.6M738.6,162.3l7.7,3.6M738.8,172.1l7.5,2.7M739,181.9l7,2M739.4,191.6l6.2,1.4M739.9,201.3l5.2,0.9M740.6,210.9l3.9,0.5M741.5,220.5l2,0.2M756.5,32.2l2.1,0M755.5,41.6l3.9,0M754.9,51l5.3,0.1M754.3,60.4l6.4,0.1M753.9,69.8l7.3,0.2M753.5,79.2l8,0.2M753.2,88.6l8.5,0.3M753,97.9l9,0.4M752.9,107.3l9.2,0.5M752.9,145.5l9.2,-0.5M753,154.9l9,-0.4M753.2,164.2l8.5,-0.3M753.5,173.6l8,-0.2M753.9,183l7.3,-0.2M754.3,192.4l6.4,-0.1M754.9,201.8l5.3,-0.1M755.5,211.2l3.9,0M756.5,220.6l2.1,0M771.5,32.1l2,0.2M770.6,41.4l3.9,0.5M769.9,50.6l5.2,0.9M769.4,59.8l6.2,1.4M769,68.9l7,2M768.8,77.9l7.5,2.7M768.6,86.9l7.7,3.6M768.7,95.8l7.7,4.6M768.8,104.7l7.3,5.7M769.1,113.7l6.7,6.6M767.8,126.4l9.5,0M769.1,139.1l6.7,-6.6M768.8,148.1l7.3,-5.7M768.7,157l7.7,-4.6M768.6,165.9l7.7,-3.6M768.8,174.9l7.5,-2.7M769,183.9l7,-2M769.4,193l6.2,-1.4M769.9,202.2l5.2,-0.9M770.6,211.4l3.9,-0.5M771.5,220.7l2,-0.2M786.5,32.2l2.1,0M785.5,41.6l3.9,-0.1M784.9,51.1l5.3,-0.1M784.3,60.5l6.4,-0.2M783.9,70l7.3,-0.2M783.5,79.5l8,-0.3M783.2,88.9l8.5,-0.4M783,98.4l8.9,-0.6M782.9,107.9l9.2,-0.8M782.8,117.5l9.4,-1M782.8,126.4l9.5,0M782.8,135.3l9.4,1M782.9,144.9l9.2,0.8M783,154.4l8.9,0.6M783.2,163.9l8.5,0.4M783.5,173.3l8,0.3M783.9,182.8l7.3,0.2M784.3,192.3l6.4,0.2M784.9,201.7l5.3,0.1M785.5,211.2l3.9,0.1M786.5,220.6l2.1,0M801.5,32.3l2,-0.2M800.6,41.9l3.9,-0.5M799.9,51.5l5.2,-0.9M799.4,61.2l6.2,-1.4M799,70.9l7,-2M798.8,80.7l7.5,-2.7M798.6,90.5l7.7,-3.6M798.7,100.4l7.7,-4.6M798.8,110.4l7.3,-5.6M799.1,120.3l6.7,-6.6M799.1,132.5l6.7,6.6M798.8,142.4l7.3,5.6M798.7,152.4l7.7,4.6M798.6,162.3l7.7,3.6M798.8,172.1l7.5,2.7M799,181.9l7,2M799.4,191.6l6.2,1.4M799.9,201.3l5.2,0.9M800.6,210.9l3.9,0.5M801.5,220.5l2,0.2M816.5,32.2l2.1,0M815.5,41.6l3.9,0.1M814.9,51l5.3,0.1M814.3,60.4l6.4,0.2M813.9,69.7l7.3,0.3M813.5,79.1l8,0.4M813.2,88.4l8.5,0.5M813,97.8l8.9,0.7M812.9,107.1l9.2,1M812.9,145.7l9.2,-1M813,155l8.9,-0.7M813.2,164.4l8.5,-0.5M813.5,173.7l8,-0.4M813.9,183.1l7.3,-0.3M814.3,192.4l6.4,-0.2M814.9,201.8l5.3,-0.1M815.5,211.2l3.9,-0.1M816.5,220.6l2.1,0M831.5,32.1l2,0.2M830.6,41.4l3.9,0.5M829.9,50.6l5.2,0.9M829.4,59.8l6.2,1.4M829,68.9l7,2M828.8,77.9l7.5,2.7M828.6,86.9l7.7,3.6M828.7,95.8l7.7,4.6M828.8,104.7l7.4,5.6M829.1,113.7l6.7,6.6M827.8,126.4l9.5,0M829.1,139.1l6.7,-6.6M828.8,148.1l7.4,-5.6M828.7,157l7.7,-4.6M828.6,165.9l7.7,-3.6M828.8,174.9l7.5,-2.7M829,183.9l7,-2M829.4,193l6.2,-1.4M829.9,202.2l5.2,-0.9M830.6,211.4l3.9,-0.5M831.5,220.7l2,-0.2M846.5,32.2l2.1,0M845.5,41.7l3.9,-0.1M844.9,51.1l5.3,-0.2M844.3,60.6l6.4,-0.2M843.9,70.1l7.2,-0.4M843.5,79.5l8,-0.5M843.2,89.1l8.5,-0.7M843,98.6l8.9,-0.9M842.9,108.2l9.2,-1.2M842.8,117.8l9.3,-1.6M842.8,126.4l9.5,0M842.8,135l9.3,1.6M842.9,144.6l9.2,1.2M843,154.2l8.9,0.9M843.2,163.7l8.5,0.7M843.5,173.3l8,0.5M843.9,182.7l7.2,0.4M844.3,192.2l6.4,0.2M844.9,201.7l5.3,0.2M845.5,211.1l3.9,0.1M846.5,220.6l2.1,0M861.5,32.3l2,-0.2M860.6,41.9l3.9,-0.5M859.9,51.5l5.2,-0.9M859.4,61.1l6.2,-1.4M859,70.9l7,-2M858.8,80.7l7.5,-2.7M858.6,90.5l7.7,-3.6M858.6,100.4l7.7,-4.6M858.8,110.4l7.4,-5.6M859.1,120.3l6.8,-6.6M859.1,132.5l6.8,6.6M858.8,142.4l7.4,5.6M858.6,152.4l7.7,4.6M858.6,162.3l7.7,3.6M858.8,172.1l7.5,2.7M859,181.9l7,2M859.4,191.7l6.2,1.4M859.9,201.3l5.2,0.9M860.6,210.9l3.9,0.5M861.5,220.5l2,0.2M876.5,32.2l2.1,0M875.5,41.6l3.9,0.1M874.9,50.9l5.3,0.2M874.3,60.3l6.4,0.3M873.9,69.7l7.2,0.4M873.5,79l7.9,0.6M873.3,88.3l8.5,0.8M873.1,97.6l8.9,1.1M872.9,106.9l9.2,1.4M872.9,145.9l9.2,-1.4M873.1,155.2l8.9,-1.1M873.3,164.5l8.5,-0.8M873.5,173.8l7.9,-0.6M873.9,183.1l7.2,-0.4M874.3,192.5l6.4,-0.3M874.9,201.9l5.3,-0.2M875.5,211.2l3.9,-0.1M876.5,220.6l2.1,0M891.5,32.1l2,0.2M890.6,41.4l3.9,0.5M889.9,50.6l5.2,0.9M889.4,59.8l6.2,1.4M889,68.9l7,2M888.7,78l7.5,2.7M888.6,86.9l7.8,3.6M888.6,95.9l7.7,4.5M888.8,104.8l7.4,5.6M889.1,113.7l6.8,6.6M887.8,126.4l9.5,0M889.1,139.1l6.8,-6.6M888.8,148l7.4,-5.6M888.6,156.9l7.7,-4.5M888.6,165.9l7.8,-3.6M888.7,174.8l7.5,-2.7M889,183.9l7,-2M889.4,193l6.2,-1.4M889.9,202.2l5.2,-0.9M890.6,211.4l3.9,-0.5M891.5,220.7l2,-0.2M906.5,32.2l2.1,-0.1M905.5,41.7l3.9,-0.1M904.9,51.1l5.3,-0.2M904.3,60.6l6.4,-0.3M903.9,70.1l7.2,-0.5M903.5,79.6l7.9,-0.7M903.3,89.2l8.5,-0.9M903.1,98.8l8.9,-1.2M902.9,108.4l9.1,-1.6M902.9,118l9.2,-2.1M902.8,126.4l9.5,0M902.9,134.8l9.2,2.1M902.9,144.4l9.1,1.6M903.1,154l8.9,1.2M903.3,163.6l8.5,0.9M903.5,173.2l7.9,0.7M903.9,182.7l7.2,0.5M904.3,192.2l6.4,0.3M904.9,201.7l5.3,0.2M905.5,211.1l3.9,0.1M906.5,220.6l2.1,0.1M921.5,32.3l2,-0.2M920.6,41.9l3.9,-0.5M919.9,51.5l5.2,-0.9M919.4,61.1l6.2,-1.4M919,70.9l7,-1.9M918.7,80.6l7.5,-2.7M918.6,90.5l7.8,-3.5M918.6,100.4l7.7,-4.5M918.8,110.3l7.4,-5.6M919.1,120.2l6.8,-6.5M919.1,132.6l6.8,6.5M918.8,142.5l7.4,5.6M918.6,152.4l7.7,4.5M918.6,162.3l7.8,3.5M918.7,172.2l7.5,2.7M919,181.9l7,1.9M919.4,191.7l6.2,1.4M919.9,201.3l5.2,0.9M920.6,210.9l3.9,0.5M921.5,220.5l2,0.2M936.5,32.2l2.1,0.1M935.5,41.6l3.9,0.1M934.9,50.9l5.3,0.2M934.3,60.3l6.4,0.4M933.9,69.6l7.2,0.5M933.5,78.9l7.9,0.8M933.3,88.2l8.5,1M933.1,97.4l8.9,1.4M933,106.6l9.1,1.8M933,146.2l9.1,-1.8M933.1,155.4l8.9,-1.4M933.3,164.6l8.5,-1M933.5,173.9l7.9,-0.8M933.9,183.2l7.2,-0.5M934.3,192.5l6.4,-0.4M934.9,201.9l5.3,-0.2M935.5,211.2l3.9,-0.1M936.5,220.6l2.1,-0.1M951.5,32.1l2,0.2M950.6,41.4l3.9,0.5M949.9,50.6l5.2,0.9M949.4,59.8l6.2,1.3M949,68.9l7,1.9M948.7,78l7.5,2.7M948.6,87l7.8,3.5M948.6,95.9l7.8,4.5M948.8,104.8l7.4,5.5M949.1,113.7l6.8,6.5M947.8,126.4l9.5,0M949.1,139.1l6.8,-6.5M948.8,148l7.4,-5.5M948.6,156.9l7.8,-4.5M948.6,165.8l7.8,-3.5M948.7,174.8l7.5,-2.7M949,183.9l7,-1.9M949.4,193l6.2,-1.3M949.9,202.2l5.2,-0.9M950.6,211.4l3.9,-0.5M951.5,220.7l2,-0.2M966.5,32.2l2.1,-0.1M965.5,41.7l3.9,-0.2M964.9,51.2l5.3,-0.3M964.3,60.7l6.4,-0.4M963.9,70.2l7.2,-0.6M963.5,79.7l7.9,-0.9M963.3,89.3l8.5,-1.2M963.1,98.9l8.8,-1.6M963,108.6l9,-2M963,118.3l9.1,-2.6M962.8,126.4l9.5,0M963,134.5l9.1,2.6M963,144.2l9,2M963.1,153.9l8.8,1.6M963.3,163.5l8.5,1.2M963.5,173.1l7.9,0.9M963.9,182.6l7.2,0.6M964.3,192.1l6.4,0.4M964.9,201.6l5.3,0.3M965.5,211.1l3.9,0.2M966.5,220.6l2.1,0.1M981.5,32.3l2,-0.2M980.6,41.9l3.9,-0.5M979.9,51.5l5.2,-0.9M979.4,61.1l6.2,-1.3M979,70.8l7,-1.9M978.7,80.6l7.5,-2.6M978.6,90.5l7.8,-3.5M978.6,100.4l7.8,-4.5M978.8,110.3l7.5,-5.5M979.1,120.2l6.9,-6.5M979.1,132.6l6.9,6.5M978.8,142.5l7.5,5.5M978.6,152.4l7.8,4.5M978.6,162.3l7.8,3.5M978.7,172.2l7.5,2.6M979,182l7,1.9M979.4,191.7l6.2,1.3M979.9,201.3l5.2,0.9M980.6,210.9l3.9,0.5M981.5,220.5l2,0.2M996.5,32.2l2.1,0.1M995.5,41.5l3.9,0.2M994.9,50.9l5.3,0.3M994.3,60.2l6.4,0.5M993.9,69.5l7.2,0.7M993.5,78.8l7.9,0.9M993.3,88.1l8.4,1.3M993.1,97.3l8.8,1.7M993,106.4l9,2.2M993,146.4l9,-2.2M993.1,155.5l8.8,-1.7M993.3,164.7l8.4,-1.3M993.5,174l7.9,-0.9M993.9,183.3l7.2,-0.7M994.3,192.6l6.4,-0.5M994.9,201.9l5.3,-0.3M995.5,211.3l3.9,-0.2M996.5,220.6l2.1,-0.1M1011.5,32.1l2,0.2M1010.6,41.4l3.9,0.5M1009.9,50.6l5.2,0.9M1009.4,59.8l6.2,1.3M1009,68.9l7,1.9M1008.7,78l7.5,2.6M1008.6,87l7.8,3.5M1008.6,95.9l7.8,4.4M1008.8,104.8l7.5,5.5M1009,113.8l6.9,6.4M1007.8,126.4l9.5,0M1009,139l6.9,-6.4M1008.8,148l7.5,-5.5M1008.6,156.9l7.8,-4.4M1008.6,165.8l7.8,-3.5M1008.7,174.8l7.5,-2.6M1009,183.9l7,-1.9M1009.4,193l6.2,-1.3M1009.9,202.2l5.2,-0.9M1010.6,211.4l3.9,-0.5M1011.5,220.7l2,-0.2M1026.5,32.2l2.1,-0.1M1025.5,41.7l3.9,-0.2M1024.9,51.2l5.3,-0.3M1024.3,60.7l6.4,-0.5M1023.9,70.2l7.2,-0.7M1023.5,79.8l7.9,-1M1023.3,89.4l8.4,-1.4M1023.1,99.1l8.8,-1.9M1023,108.8l8.9,-2.4M1023,118.5l8.9,-3.1M1022.8,126.4l9.5,0M1023,134.3l8.9,3.1M1023,144l8.9,2.4M1023.1,153.7l8.8,1.9M1023.3,163.4l8.4,1.4M1023.5,173l7.9,1M1023.9,182.6l7.2,0.7M1024.3,192.1l6.4,0.5M1024.9,201.6l5.3,0.3M1025.5,211.1l3.9,0.2M1026.5,220.6l2.1,0.1M1041.5,32.3l2.1,-0.2M1040.6,41.9l3.9,-0.5M1039.9,51.5l5.2,-0.8M1039.4,61.1l6.2,-1.3M1039,70.8l7,-1.9M1038.7,80.6l7.5,-2.6M1038.6,90.4l7.8,-3.4M1038.6,100.3l7.8,-4.4M1038.7,110.3l7.5,-5.4M1039,120.2l6.9,-6.4M1039,132.6l6.9,6.4M1038.7,142.5l7.5,5.4M1038.6,152.5l7.8,4.4M1038.6,162.4l7.8,3.4M1038.7,172.2l7.5,2.6M1039,182l7,1.9M1039.4,191.7l6.2,1.3M1039.9,201.3l5.2,0.8M1040.6,210.9l3.9,0.5M1041.5,220.5l2.1,0.2M1056.5,32.2l2.1,0.1M1055.5,41.5l3.9,0.2M1054.9,50.9l5.3,0.4M1054.3,60.2l6.3,0.5M1053.9,69.5l7.2,0.8M1053.6,78.7l7.9,1.1M1053.3,88l8.4,1.5M1053.1,97.1l8.7,2M1053.1,106.2l8.9,2.6M1053.1,146.6l8.9,-2.6M1053.1,155.7l8.7,-2M1053.3,164.8l8.4,-1.5M1053.6,174.1l7.9,-1.1M1053.9,183.3l7.2,-0.8M1054.3,192.6l6.3,-0.5M1054.9,201.9l5.3,-0.4M1055.5,211.3l3.9,-0.2M1056.5,220.6l2.1,-0.1M1071.5,32.1l2.1,0.2M1070.6,41.4l3.9,0.5M1069.9,50.6l5.2,0.8M1069.4,59.8l6.2,1.3M1069,69l7,1.8M1068.7,78l7.6,2.5M1068.6,87l7.8,3.4M1068.6,96l7.8,4.3M1068.7,104.9l7.6,5.4M1069,113.8l7,6.4M1067.8,126.4l9.5,0M1069,139l7,-6.4M1068.7,147.9l7.6,-5.4M1068.6,156.8l7.8,-4.3M1068.6,165.8l7.8,-3.4M1068.7,174.8l7.6,-2.5M1069,183.8l7,-1.8M1069.4,193l6.2,-1.3M1069.9,202.2l5.2,-0.8M1070.6,211.4l3.9,-0.5M1071.5,220.7l2.1,-0.2M1086.5,32.2l2.1,-0.1M1085.5,41.7l3.9,-0.2M1084.9,51.2l5.3,-0.4M1084.3,60.8l6.3,-0.6M1083.9,70.3l7.2,-0.8M1083.6,79.9l7.9,-1.2M1083.3,89.5l8.4,-1.6M1083.2,99.2l8.7,-2.2M1083.1,109l8.8,-2.8M1083.1,118.8l8.7,-3.6M1082.8,126.4l9.5,0M1083.1,134l8.7,3.6M1083.1,143.8l8.8,2.8M1083.2,153.6l8.7,2.2M1083.3,163.3l8.4,1.6M1083.6,172.9l7.9,1.2M1083.9,182.5l7.2,0.8M1084.3,192l6.3,0.6M1084.9,201.6l5.3,0.4M1085.5,211.1l3.9,0.2M1086.5,220.6l2.1,0.1M1101.5,32.3l2.1,-0.2M1100.6,41.9l3.9,-0.5M1099.9,51.5l5.2,-0.8M1099.4,61.1l6.2,-1.3M1099,70.8l7,-1.8M1098.7,80.6l7.6,-2.5M1098.6,90.4l7.9,-3.3M1098.6,100.3l7.9,-4.3M1098.7,110.2l7.6,-5.3M1099,120.1l7,-6.3M1099,132.7l7,6.3M1098.7,142.6l7.6,5.3M1098.6,152.5l7.9,4.3M1098.6,162.4l7.9,3.3M1098.7,172.2l7.6,2.5M1099,182l7,1.8M1099.4,191.7l6.2,1.3M1099.9,201.3l5.2,0.8M1100.6,210.9l3.9,0.5M1101.5,220.5l2.1,0.2M1116.5,32.2l2.1,0.1M1115.5,41.5l3.9,0.2M1114.9,50.8l5.3,0.4M1114.3,60.1l6.3,0.6M1113.9,69.4l7.2,0.9M1113.6,78.7l7.9,1.3M1113.3,87.9l8.4,1.7M1113.2,97l8.7,2.3M1113.1,106.1l8.8,3M1113.1,146.7l8.8,-3M1113.2,155.8l8.7,-2.3M1113.3,164.9l8.4,-1.7M1113.6,174.1l7.9,-1.3M1113.9,183.4l7.2,-0.9M1114.3,192.7l6.3,-0.6M1114.9,202l5.3,-0.4M1115.5,211.3l3.9,-0.2M1116.5,220.6l2.1,-0.1M1131.5,32.1l2.1,0.2M1130.6,41.4l3.9,0.5M1129.9,50.6l5.2,0.8M1129.4,59.8l6.2,1.2M1129,69l7,1.8M1128.7,78.1l7.6,2.5M1128.6,87.1l7.9,3.3M1128.6,96l7.9,4.2M1128.7,104.9l7.6,5.3M1129,113.9l7.1,6.2M1127.8,126.4l9.5,0M1129,138.9l7.1,-6.2M1128.7,147.9l7.6,-5.3M1128.6,156.8l7.9,-4.2M1128.6,165.7l7.9,-3.3M1128.7,174.7l7.6,-2.5M1129,183.8l7,-1.8M1129.4,193l6.2,-1.2M1129.9,202.2l5.2,-0.8M1130.6,211.4l3.9,-0.5M1131.5,220.7l2.1,-0.2M1146.5,32.3l2.1,-0.1M1145.5,41.7l3.9,-0.2M1144.9,51.3l5.3,-0.4M1144.3,60.8l6.3,-0.7M1143.9,70.4l7.2,-1M1143.6,80l7.9,-1.3M1143.3,89.6l8.3,-1.8M1143.2,99.4l8.6,-2.4M1143.1,109.1l8.7,-3.1M1143.2,119l8.6,-4M1142.8,126.4l9.5,0M1143.2,133.8l8.6,4M1143.1,143.7l8.7,3.1M1143.2,153.4l8.6,2.4M1143.3,163.2l8.3,1.8M1143.6,172.8l7.9,1.3M1143.9,182.4l7.2,1M1144.3,192l6.3,0.7M1144.9,201.5l5.3,0.4M1145.5,211.1l3.9,0.2M1146.5,220.5l2.1,0.1M1161.5,32.3l2.1,-0.2M1160.6,41.9l3.9,-0.5M1159.9,51.4l5.2,-0.8M1159.4,61.1l6.3,-1.2M1159,70.8l7,-1.8M1158.7,80.5l7.6,-2.4M1158.6,90.3l7.9,-3.3M1158.5,100.2l7.9,-4.2M1158.7,110.2l7.7,-5.2M1158.9,120.1l7.1,-6.2M1158.9,132.7l7.1,6.2M1158.7,142.6l7.7,5.2M1158.5,152.6l7.9,4.2M1158.6,162.5l7.9,3.3M1158.7,172.3l7.6,2.4M1159,182l7,1.8M1159.4,191.7l6.3,1.2M1159.9,201.4l5.2,0.8M1160.6,210.9l3.9,0.5M1161.5,220.5l2.1,0.2M1176.5,32.1l2.1,0.1M1175.5,41.5l3.9,0.3M1174.9,50.8l5.3,0.5M1174.3,60.1l6.3,0.7M1173.9,69.4l7.2,1M1173.6,78.6l7.8,1.4M1173.3,87.8l8.3,1.9M1173.2,96.9l8.6,2.6M1173.2,105.9l8.6,3.3M1173.2,146.9l8.6,-3.3M1173.2,155.9l8.6,-2.6M1173.3,165l8.3,-1.9M1173.6,174.2l7.8,-1.4M1173.9,183.4l7.2,-1M1174.3,192.7l6.3,-0.7M1174.9,202l5.3,-0.5M1175.5,211.3l3.9,-0.3M1176.5,220.7l2.1,-0.1M1191.5,32.1l2.1,0.2M1190.6,41.4l3.9,0.5M1189.9,50.6l5.2,0.8M1189.4,59.9l6.3,1.2M1189,69l7,1.7M1188.7,78.1l7.6,2.4M1188.5,87.1l7.9,3.2M1188.5,96.1l8,4.1M1188.6,105l7.7,5.1M1188.9,113.9l7.2,6.1M1187.8,126.4l9.5,0M1188.9,138.9l7.2,-6.1M1188.6,147.8l7.7,-5.1M1188.5,156.7l8,-4.1M1188.5,165.7l7.9,-3.2M1188.7,174.7l7.6,-2.4M1189,183.8l7,-1.7M1189.4,192.9l6.3,-1.2M1189.9,202.2l5.2,-0.8M1190.6,211.4l3.9,-0.5M1191.5,220.7l2.1,-0.2M1206.5,32.3l2.1,-0.1M1205.6,41.8l3.9,-0.3M1204.9,51.3l5.3,-0.5M1204.3,60.8l6.3,-0.7M1203.9,70.4l7.2,-1.1M1203.6,80.1l7.8,-1.5M1203.4,89.7l8.3,-2M1203.2,99.5l8.5,-2.7M1203.2,109.3l8.6,-3.5M1203.3,119.2l8.4,-4.3M1202.8,126.4l9.5,0M1203.3,133.6l8.4,4.3M1203.2,143.5l8.6,3.5M1203.2,153.3l8.5,2.7M1203.4,163.1l8.3,2M1203.6,172.7l7.8,1.5M1203.9,182.4l7.2,1.1M1204.3,192l6.3,0.7M1204.9,201.5l5.3,0.5M1205.6,211l3.9,0.3M1206.5,220.5l2.1,0.1M1221.5,32.3l2.1,-0.2M1220.6,41.8l3.9,-0.4M1219.9,51.4l5.2,-0.8M1219.4,61.1l6.3,-1.2M1219,70.7l7.1,-1.7M1218.7,80.5l7.6,-2.4M1218.5,90.3l7.9,-3.2M1218.5,100.2l8,-4.1M1218.6,110.1l7.8,-5.1M1218.9,120l7.2,-6.1M1218.9,132.8l7.2,6.1M1218.6,142.7l7.8,5.1M1218.5,152.6l8,4.1M1218.5,162.5l7.9,3.2M1218.7,172.3l7.6,2.4M1219,182.1l7.1,1.7M1219.4,191.7l6.3,1.2M1219.9,201.4l5.2,0.8M1220.6,211l3.9,0.4M1221.5,220.5l2.1,0.2M1236.5,32.1l2.1,0.1M1235.6,41.5l3.9,0.3M1234.9,50.8l5.3,0.5M1234.3,60.1l6.3,0.8M1233.9,69.3l7.2,1.1M1233.6,78.5l7.8,1.6M1233.4,87.7l8.3,2.1M1233.2,96.7l8.5,2.8M1233.2,105.7l8.5,3.6M1233.2,147.1l8.5,-3.6M1233.2,156.1l8.5,-2.8M1233.4,165.1l8.3,-2.1M1233.6,174.3l7.8,-1.6M1233.9,183.5l7.2,-1.1M1234.3,192.7l6.3,-0.8M1234.9,202l5.3,-0.5M1235.6,211.3l3.9,-0.3M1236.5,220.7l2.1,-0.1M1251.5,32.1l2.1,0.2M1250.6,41.4l3.9,0.4M1249.9,50.7l5.2,0.8M1249.4,59.9l6.3,1.2M1249,69l7.1,1.7M1248.7,78.1l7.6,2.3M1248.5,87.2l8,3.1M1248.5,96.1l8,4M1248.6,105.1l7.8,5M1248.8,114l7.3,6M1247.8,126.4l9.5,0M1248.8,138.8l7.3,-6M1248.6,147.7l7.8,-5M1248.5,156.7l8,-4M1248.5,165.6l8,-3.1M1248.7,174.7l7.6,-2.3M1249,183.8l7.1,-1.7M1249.4,192.9l6.3,-1.2M1249.9,202.1l5.2,-0.8M1250.6,211.4l3.9,-0.4M1251.5,220.7l2.1,-0.2M1266.5,32.3l2.1,-0.1M1265.6,41.8l3.9,-0.3M1264.9,51.3l5.3,-0.5M1264.3,60.9l6.3,-0.8M1263.9,70.5l7.2,-1.2M1263.6,80.1l7.8,-1.6M1263.4,89.8l8.2,-2.2M1263.3,99.6l8.5,-2.9M1263.3,109.4l8.5,-3.8M1263.4,119.3l8.2,-4.7M1262.8,126.4l9.5,0M1263.4,133.5l8.2,4.7M1263.3,143.4l8.5,3.8M1263.3,153.2l8.5,2.9M1263.4,163l8.2,2.2M1263.6,172.7l7.8,1.6M1263.9,182.3l7.2,1.2M1264.3,191.9l6.3,0.8M1264.9,201.5l5.3,0.5M1265.6,211l3.9,0.3M1266.5,220.5l2.1,0.1M1281.5,32.3l2.1,-0.2M1280.6,41.8l3.9,-0.4M1279.9,51.4l5.2,-0.7M1279.4,61l6.3,-1.1M1279,70.7l7.1,-1.6M1278.7,80.4l7.6,-2.3M1278.5,90.2l8,-3M1278.5,100.1l8.1,-3.9M1278.6,110l7.9,-4.9M1278.8,119.9l7.4,-5.9M1278.8,132.9l7.4,5.9M1278.6,142.8l7.9,4.9M1278.5,152.7l8.1,3.9M1278.5,162.6l8,3M1278.7,172.4l7.6,2.3M1279,182.1l7.1,1.6M1279.4,191.8l6.3,1.1M1279.9,201.4l5.2,0.7M1280.6,211l3.9,0.4M1281.5,220.5l2.1,0.2M1296.5,32.1l2.1,0.1M1295.6,41.5l3.9,0.3M1294.9,50.8l5.3,0.5M1294.3,60.1l6.3,0.8M1293.9,69.3l7.2,1.2M1293.6,78.5l7.8,1.6M1293.4,87.6l8.2,2.2M1293.3,96.7l8.5,2.9M1293.3,105.7l8.5,3.7M1293.3,147.1l8.5,-3.7M1293.3,156.1l8.5,-2.9M1293.4,165.2l8.2,-2.2M1293.6,174.3l7.8,-1.6M1293.9,183.5l7.2,-1.2M1294.3,192.7l6.3,-0.8M1294.9,202l5.3,-0.5M1295.6,211.3l3.9,-0.3M1296.5,220.7l2.1,-0.1M1311.5,32.2l2.1,0.1M1310.5,41.5l3.9,0.2M1309.9,50.8l5.3,0.4M1309.3,60.1l6.3,0.6M1308.9,69.4l7.2,0.9M1308.6,78.7l7.9,1.3M1308.3,87.8l8.4,1.7M1308.2,97l8.7,2.3M1308.1,106.1l8.8,3M1308.2,115.1l8.6,3.8M1307.8,126.4l9.5,0M1308.2,137.7l8.6,-3.8M1308.1,146.7l8.8,-3M1308.2,155.8l8.7,-2.3M1308.3,165l8.4,-1.7M1308.6,174.1l7.9,-1.3M1308.9,183.4l7.2,-0.9M1309.3,192.7l6.3,-0.6M1309.9,202l5.3,-0.4M1310.5,211.3l3.9,-0.2M1311.5,220.6l2.1,-0.1M1326.5,32.2l2.1,0M1325.5,41.7l3.9,-0.1M1324.9,51.1l5.3,-0.1M1324.3,60.5l6.4,-0.2M1323.9,70l7.3,-0.2M1323.5,79.5l8,-0.3M1323.2,89l8.5,-0.5M1323,98.5l8.9,-0.6M1322.9,108l9.2,-0.8M1322.8,117.5l9.4,-1.1M1322.8,126.4l9.5,0M1322.8,135.3l9.4,1.1M1322.9,144.8l9.2,0.8M1323,154.3l8.9,0.6M1323.2,163.8l8.5,0.5M1323.5,173.3l8,0.3M1323.9,182.8l7.3,0.2M1324.3,192.3l6.4,0.2M1324.9,201.7l5.3,0.1M1325.5,211.1l3.9,0.1M1326.5,220.6l2.1,0" stroke="#000" stroke-width="1.9" stroke-opacity=".5" fill="none"/><path d="M650,126.4H1292" stroke="#000" stroke-width="1.8" stroke-opacity=".55" stroke-dasharray="36 23.4"/></g>
<path d="M638,115.9a10.5,10.5 0 0 0 0,21z" fill="#c9c3d2"/><path d="M638,115.9a10.5,10.5 0 0 1 0,21z" fill="#ef6a3c"/><circle cx="638" cy="126.4" r="10.3" fill="none" stroke="#111" stroke-width="3.8"/><path d="M638,115.9v21" stroke="#111" stroke-width="2.6"/><path d="M697.4,115.9a10.5,10.5 0 0 0 0,21z" fill="#c9c3d2"/><path d="M697.4,115.9a10.5,10.5 0 0 1 0,21z" fill="#ef6a3c"/><circle cx="697.4" cy="126.4" r="10.3" fill="none" stroke="#111" stroke-width="3.8"/><path d="M697.4,115.9v21" stroke="#111" stroke-width="2.6"/><path d="M756.8,115.9a10.5,10.5 0 0 0 0,21z" fill="#c9c3d2"/><path d="M756.8,115.9a10.5,10.5 0 0 1 0,21z" fill="#ef6a3c"/><circle cx="756.8" cy="126.4" r="10.3" fill="none" stroke="#111" stroke-width="3.8"/><path d="M756.8,115.9v21" stroke="#111" stroke-width="2.6"/><path d="M816.2,115.9a10.5,10.5 0 0 0 0,21z" fill="#c9c3d2"/><path d="M816.2,115.9a10.5,10.5 0 0 1 0,21z" fill="#ef6a3c"/><circle cx="816.2" cy="126.4" r="10.3" fill="none" stroke="#111" stroke-width="3.8"/><path d="M816.2,115.9v21" stroke="#111" stroke-width="2.6"/><path d="M875.6,115.9a10.5,10.5 0 0 0 0,21z" fill="#c9c3d2"/><path d="M875.6,115.9a10.5,10.5 0 0 1 0,21z" fill="#ef6a3c"/><circle cx="875.6" cy="126.4" r="10.3" fill="none" stroke="#111" stroke-width="3.8"/><path d="M875.6,115.9v21" stroke="#111" stroke-width="2.6"/><path d="M935,115.9a10.5,10.5 0 0 0 0,21z" fill="#c9c3d2"/><path d="M935,115.9a10.5,10.5 0 0 1 0,21z" fill="#ef6a3c"/><circle cx="935" cy="126.4" r="10.3" fill="none" stroke="#111" stroke-width="3.8"/><path d="M935,115.9v21" stroke="#111" stroke-width="2.6"/><path d="M994.4,115.9a10.5,10.5 0 0 0 0,21z" fill="#c9c3d2"/><path d="M994.4,115.9a10.5,10.5 0 0 1 0,21z" fill="#ef6a3c"/><circle cx="994.4" cy="126.4" r="10.3" fill="none" stroke="#111" stroke-width="3.8"/><path d="M994.4,115.9v21" stroke="#111" stroke-width="2.6"/><path d="M1053.8,115.9a10.5,10.5 0 0 0 0,21z" fill="#c9c3d2"/><path d="M1053.8,115.9a10.5,10.5 0 0 1 0,21z" fill="#ef6a3c"/><circle cx="1053.8" cy="126.4" r="10.3" fill="none" stroke="#111" stroke-width="3.8"/><path d="M1053.8,115.9v21" stroke="#111" stroke-width="2.6"/><path d="M1113.2,115.9a10.5,10.5 0 0 0 0,21z" fill="#c9c3d2"/><path d="M1113.2,115.9a10.5,10.5 0 0 1 0,21z" fill="#ef6a3c"/><circle cx="1113.2" cy="126.4" r="10.3" fill="none" stroke="#111" stroke-width="3.8"/><path d="M1113.2,115.9v21" stroke="#111" stroke-width="2.6"/><path d="M1172.6,115.9a10.5,10.5 0 0 0 0,21z" fill="#c9c3d2"/><path d="M1172.6,115.9a10.5,10.5 0 0 1 0,21z" fill="#ef6a3c"/><circle cx="1172.6" cy="126.4" r="10.3" fill="none" stroke="#111" stroke-width="3.8"/><path d="M1172.6,115.9v21" stroke="#111" stroke-width="2.6"/><path d="M1232,115.9a10.5,10.5 0 0 0 0,21z" fill="#c9c3d2"/><path d="M1232,115.9a10.5,10.5 0 0 1 0,21z" fill="#ef6a3c"/><circle cx="1232" cy="126.4" r="10.3" fill="none" stroke="#111" stroke-width="3.8"/><path d="M1232,115.9v21" stroke="#111" stroke-width="2.6"/><path d="M1291.4,115.9a10.5,10.5 0 0 0 0,21z" fill="#c9c3d2"/><path d="M1291.4,115.9a10.5,10.5 0 0 1 0,21z" fill="#ef6a3c"/><circle cx="1291.4" cy="126.4" r="10.3" fill="none" stroke="#111" stroke-width="3.8"/><path d="M1291.4,115.9v21" stroke="#111" stroke-width="2.6"/>
<rect x="43.6" y="27.6" width="1980.8" height="197.8" rx="4" fill="none" stroke="#0c0c14" stroke-width="4.2"/>
<text x="55.5" y="78.5" font-size="53" fill="#fff" textLength="64" lengthAdjust="spacingAndGlyphs">(A)</text>
<text x="1592" y="88" font-size="49" fill="#161616" textLength="412" lengthAdjust="spacingAndGlyphs">Non biased Mode</text>
<text x="1719" y="204.5" font-size="49" fill="#10182c" textLength="155" lengthAdjust="spacingAndGlyphs">V<tspan font-size="33" dy="9">D</tspan><tspan dy="-9">=1 V</tspan></text>
<g filter="url(#jet)"><rect x="52" y="245.6" width="1815.5" height="31" fill="url(#cb245)"/></g>
<rect x="52" y="245.6" width="1815.5" height="31" fill="none" stroke="#1a1a2a" stroke-opacity=".75" stroke-width="2"/>
<text class="dv" transform="translate(53.7,298.5) scale(2.45,1)" font-size="24.5" text-anchor="middle" fill="#111">0</text>
<text class="dv" transform="translate(415.8,298.5) scale(2.45,1)" font-size="24.5" text-anchor="middle" fill="#111">0.2</text>
<text class="dv" transform="translate(777.9,298.5) scale(2.45,1)" font-size="24.5" text-anchor="middle" fill="#111">0.4</text>
<text class="dv" transform="translate(1140,298.5) scale(2.45,1)" font-size="24.5" text-anchor="middle" fill="#111">0.6</text>
<text class="dv" transform="translate(1502.1,298.5) scale(2.45,1)" font-size="24.5" text-anchor="middle" fill="#111">0.8</text>
<text class="dv" transform="translate(1864.2,298.5) scale(2.45,1)" font-size="24.5" text-anchor="middle" fill="#111">1</text>
<path d="M415.8,245.6v7M415.8,276.6v-7M777.9,245.6v7M777.9,276.6v-7M1140,245.6v7M1140,276.6v-7M1502.1,245.6v7M1502.1,276.6v-7" stroke="#0a1410" stroke-width="4.6" fill="none"/>
<text x="1891" y="276.3" font-size="46" fill="#1a1a1a" textLength="65" lengthAdjust="spacingAndGlyphs">nM</text>
<g filter="url(#jet)"><g clip-path="url(#cpC)"><rect x="42" y="609.5" width="1985" height="201.0" fill="url(#loC)"/><g mask="url(#mC)"><rect x="42" y="609.5" width="1985" height="201.0" fill="url(#hiC)"/></g></g></g>
<g clip-path="url(#cpC)"><rect x="45" y="609.5" width="570" height="201" fill="url(#fpC)"/><rect x="1335" y="609.5" width="690" height="201" fill="url(#fpC)"/><path d="M620.6,616.5l3.7,-0.1M619.8,625.9l5.4,-0.2M619.1,635.4l6.7,-0.3M618.7,644.9l7.7,-0.5M618.3,654.4l8.5,-0.7M617.9,663.9l9.1,-0.9M617.7,673.5l9.6,-1.1M617.5,683.1l9.9,-1.5M617.4,692.7l10.1,-1.8M617.4,702.3l10.2,-2.3M617.2,710.6l10.5,0M617.4,718.9l10.2,2.3M617.4,728.5l10.1,1.8M617.5,738.1l9.9,1.5M617.7,747.7l9.6,1.1M617.9,757.3l9.1,0.9M618.3,766.8l8.5,0.7M618.7,776.3l7.7,0.5M619.1,785.8l6.7,0.3M619.8,795.3l5.4,0.2M635.6,616.4l3.7,0M634.8,625.8l5.5,0M634.1,635.3l6.7,-0.1M633.6,644.7l7.7,-0.1M633.2,654.1l8.5,-0.1M632.9,663.6l9.1,-0.1M632.7,673l9.6,-0.2M632.5,682.5l10,-0.2M632.4,691.9l10.3,-0.3M632.4,729.3l10.3,0.3M632.5,738.7l10,0.2M632.7,748.2l9.6,0.2M632.9,757.6l9.1,0.1M633.2,767.1l8.5,0.1M633.6,776.5l7.7,0.1M634.1,785.9l6.7,0.1M634.8,795.4l5.5,0M650.6,616.1l3.7,0.5M649.8,625.4l5.4,0.9M649.2,634.6l6.6,1.4M648.8,643.7l7.5,1.9M648.4,652.8l8.1,2.5M648.2,661.9l8.5,3.3M648.1,670.8l8.7,4.1M648.2,679.8l8.6,5.1M648.3,688.7l8.3,6M648.6,697.7l7.8,7M647.2,710.6l10.5,0M648.6,723.5l7.8,-7M648.3,732.5l8.3,-6M648.2,741.4l8.6,-5.1M648.1,750.4l8.7,-4.1M648.2,759.3l8.5,-3.3M648.4,768.4l8.1,-2.5M648.8,777.5l7.5,-1.9M649.2,786.6l6.6,-1.4M649.8,795.8l5.4,-0.9M665.6,616.4l3.7,0M664.8,625.8l5.5,0M664.1,635.2l6.7,0M663.6,644.6l7.7,0M663.2,654.1l8.5,0.1M662.9,663.5l9.1,0.1M662.7,672.9l9.6,0.1M662.5,682.3l10,0.1M662.4,691.7l10.3,0.2M662.3,701.1l10.4,0.2M662.2,710.6l10.5,0M662.3,720.1l10.4,-0.2M662.4,729.5l10.3,-0.2M662.5,738.9l10,-0.1M662.7,748.3l9.6,-0.1M662.9,757.7l9.1,-0.1M663.2,767.1l8.5,-0.1M663.6,776.6l7.7,0M664.1,786l6.7,0M664.8,795.4l5.5,0M680.6,616.7l3.7,-0.5M679.8,626.3l5.4,-0.9M679.2,635.9l6.6,-1.4M678.8,645.6l7.5,-1.9M678.4,655.4l8.1,-2.5M678.2,665.1l8.5,-3.3M678.1,675l8.7,-4.1M678.2,684.9l8.6,-5.1M678.3,694.8l8.3,-6M678.6,704.7l7.8,-7M677.2,710.6l10.5,0M678.6,716.5l7.8,7M678.3,726.4l8.3,6M678.2,736.3l8.6,5.1M678.1,746.2l8.7,4.1M678.2,756.1l8.5,3.3M678.4,765.8l8.1,2.5M678.8,775.6l7.5,1.9M679.2,785.3l6.6,1.4M679.8,794.9l5.4,0.9M695.6,616.4l3.7,0M694.8,625.8l5.5,0M694.1,635.2l6.7,0M693.6,644.6l7.7,0M693.2,654.1l8.5,0M692.9,663.5l9.1,0M692.7,672.9l9.6,0M692.5,682.3l10,0.1M692.4,691.7l10.3,0.1M692.4,729.5l10.3,-0.1M692.5,738.9l10,-0.1M692.7,748.3l9.6,0M692.9,757.7l9.1,0M693.2,767.1l8.5,0M693.6,776.6l7.7,0M694.1,786l6.7,0M694.8,795.4l5.5,0M710.6,616.1l3.7,0.5M709.8,625.4l5.4,0.9M709.2,634.6l6.6,1.4M708.8,643.7l7.5,1.9M708.4,652.8l8.1,2.5M708.2,661.9l8.5,3.3M708.1,670.8l8.7,4.1M708.2,679.8l8.6,5.1M708.3,688.7l8.3,6M708.6,697.7l7.8,7M707.2,710.6l10.5,0M708.6,723.5l7.8,-7M708.3,732.5l8.3,-6M708.2,741.4l8.6,-5.1M708.1,750.4l8.7,-4.1M708.2,759.3l8.5,-3.3M708.4,768.4l8.1,-2.5M708.8,777.5l7.5,-1.9M709.2,786.6l6.6,-1.4M709.8,795.8l5.4,-0.9M725.6,616.4l3.7,0M724.8,625.8l5.5,0M724.1,635.3l6.7,-0.1M723.6,644.7l7.7,-0.1M723.2,654.1l8.5,-0.1M722.9,663.6l9.1,-0.1M722.7,673l9.6,-0.2M722.5,682.5l10,-0.2M722.4,691.9l10.3,-0.3M722.3,701.4l10.4,-0.4M722.2,710.6l10.5,0M722.3,719.8l10.4,0.4M722.4,729.3l10.3,0.3M722.5,738.7l10,0.2M722.7,748.2l9.6,0.2M722.9,757.6l9.1,0.1M723.2,767.1l8.5,0.1M723.6,776.5l7.7,0.1M724.1,785.9l6.7,0.1M724.8,795.4l5.5,0M740.6,616.7l3.7,-0.5M739.8,626.3l5.4,-0.9M739.2,635.9l6.6,-1.4M738.8,645.6l7.5,-1.9M738.4,655.4l8.1,-2.5M738.2,665.1l8.5,-3.3M738.1,675l8.7,-4.1M738.2,684.9l8.7,-5.1M738.3,694.8l8.3,-6M738.6,704.7l7.8,-6.9M737.2,710.6l10.5,0M738.6,716.5l7.8,6.9M738.3,726.4l8.3,6M738.2,736.3l8.7,5.1M738.1,746.2l8.7,4.1M738.2,756.1l8.5,3.3M738.4,765.8l8.1,2.5M738.8,775.6l7.5,1.9M739.2,785.3l6.6,1.4M739.8,794.9l5.4,0.9M755.6,616.4l3.7,0M754.8,625.8l5.5,0.1M754.1,635.2l6.7,0.1M753.6,644.6l7.7,0.1M753.2,654l8.5,0.2M752.9,663.4l9.1,0.3M752.7,672.8l9.6,0.3M752.5,682.1l10,0.4M752.4,691.5l10.3,0.6M752.4,729.7l10.3,-0.6M752.5,739.1l10,-0.4M752.7,748.4l9.6,-0.3M752.9,757.8l9.1,-0.3M753.2,767.2l8.5,-0.2M753.6,776.6l7.7,-0.1M754.1,786l6.7,-0.1M754.8,795.4l5.5,-0.1M770.6,616.1l3.7,0.5M769.8,625.4l5.4,0.9M769.2,634.6l6.6,1.4M768.8,643.7l7.5,1.9M768.4,652.8l8.1,2.5M768.2,661.9l8.5,3.3M768.1,670.9l8.7,4.1M768.2,679.8l8.7,5.1M768.3,688.8l8.3,6M768.6,697.7l7.8,6.9M767.2,710.6l10.5,0M768.6,723.5l7.8,-6.9M768.3,732.4l8.3,-6M768.2,741.4l8.7,-5.1M768.1,750.3l8.7,-4.1M768.2,759.3l8.5,-3.3M768.4,768.4l8.1,-2.5M768.8,777.5l7.5,-1.9M769.2,786.6l6.6,-1.4M769.8,795.8l5.4,-0.9M785.6,616.4l3.7,-0.1M784.8,625.9l5.5,-0.1M784.1,635.3l6.7,-0.1M783.6,644.8l7.7,-0.2M783.2,654.2l8.5,-0.3M782.9,663.7l9.1,-0.4M782.7,673.2l9.6,-0.5M782.5,682.7l10,-0.6M782.4,692.2l10.3,-0.8M782.3,701.7l10.4,-1M782.2,710.6l10.5,0M782.3,719.5l10.4,1M782.4,729l10.3,0.8M782.5,738.5l10,0.6M782.7,748l9.6,0.5M782.9,757.5l9.1,0.4M783.2,767l8.5,0.3M783.6,776.4l7.7,0.2M784.1,785.9l6.7,0.1M784.8,795.3l5.5,0.1M800.6,616.6l3.7,-0.5M799.8,626.3l5.4,-0.9M799.2,635.9l6.6,-1.3M798.8,645.6l7.5,-1.9M798.4,655.3l8.1,-2.5M798.2,665.1l8.5,-3.3M798.1,675l8.7,-4.1M798.2,684.9l8.7,-5M798.3,694.8l8.4,-6M798.6,704.6l7.8,-6.9M798.6,716.6l7.8,6.9M798.3,726.4l8.4,6M798.2,736.3l8.7,5M798.1,746.2l8.7,4.1M798.2,756.1l8.5,3.3M798.4,765.9l8.1,2.5M798.8,775.6l7.5,1.9M799.2,785.3l6.6,1.3M799.8,794.9l5.4,0.9M815.6,616.4l3.7,0.1M814.8,625.8l5.5,0.1M814.1,635.1l6.7,0.2M813.6,644.5l7.7,0.3M813.2,653.9l8.5,0.4M812.9,663.3l9.1,0.5M812.7,672.6l9.6,0.6M812.5,681.9l10,0.8M812.4,691.3l10.2,1M812.4,729.9l10.2,-1M812.5,739.3l10,-0.8M812.7,748.6l9.6,-0.6M812.9,757.9l9.1,-0.5M813.2,767.3l8.5,-0.4M813.6,776.7l7.7,-0.3M814.1,786.1l6.7,-0.2M814.8,795.4l5.5,-0.1M830.6,616.2l3.7,0.5M829.8,625.4l5.4,0.9M829.2,634.6l6.6,1.3M828.8,643.7l7.5,1.9M828.4,652.8l8.1,2.5M828.2,661.9l8.5,3.3M828.1,670.9l8.7,4.1M828.2,679.8l8.7,5M828.3,688.8l8.4,6M828.6,697.7l7.8,6.9M827.2,710.6l10.5,0M828.6,723.5l7.8,-6.9M828.3,732.4l8.4,-6M828.2,741.4l8.7,-5M828.1,750.3l8.7,-4.1M828.2,759.3l8.5,-3.3M828.4,768.4l8.1,-2.5M828.8,777.5l7.5,-1.9M829.2,786.6l6.6,-1.3M829.8,795.8l5.4,-0.9M845.6,616.4l3.7,-0.1M844.8,625.9l5.5,-0.2M844.1,635.4l6.7,-0.2M843.6,644.8l7.7,-0.3M843.3,654.3l8.5,-0.4M842.9,663.8l9.1,-0.6M842.7,673.3l9.6,-0.8M842.5,682.8l10,-1M842.4,692.4l10.2,-1.2M842.3,702l10.3,-1.6M842.2,710.6l10.5,0M842.3,719.2l10.3,1.6M842.4,728.8l10.2,1.2M842.5,738.4l10,1M842.7,747.9l9.6,0.8M842.9,757.4l9.1,0.6M843.3,766.9l8.5,0.4M843.6,776.4l7.7,0.3M844.1,785.8l6.7,0.2M844.8,795.3l5.5,0.2M860.6,616.6l3.7,-0.5M859.8,626.3l5.4,-0.9M859.2,635.9l6.6,-1.3M858.8,645.6l7.5,-1.9M858.4,655.3l8.1,-2.5M858.2,665.1l8.6,-3.2M858.1,675l8.7,-4.1M858.2,684.8l8.7,-5M858.3,694.7l8.4,-6M858.6,704.6l7.9,-6.9M858.6,716.6l7.9,6.9M858.3,726.5l8.4,6M858.2,736.4l8.7,5M858.1,746.2l8.7,4.1M858.2,756.1l8.6,3.2M858.4,765.9l8.1,2.5M858.8,775.6l7.5,1.9M859.2,785.3l6.6,1.3M859.8,794.9l5.4,0.9M875.6,616.3l3.7,0.1M874.8,625.7l5.4,0.2M874.1,635.1l6.7,0.3M873.6,644.5l7.7,0.4M873.3,653.8l8.5,0.5M872.9,663.1l9.1,0.7M872.7,672.5l9.6,0.9M872.5,681.8l10,1.2M872.4,691l10.2,1.5M872.4,730.2l10.2,-1.5M872.5,739.4l10,-1.2M872.7,748.7l9.6,-0.9M872.9,758.1l9.1,-0.7M873.3,767.4l8.5,-0.5M873.6,776.7l7.7,-0.4M874.1,786.1l6.7,-0.3M874.8,795.5l5.4,-0.2M890.6,616.2l3.7,0.5M889.8,625.4l5.4,0.9M889.2,634.6l6.6,1.3M888.8,643.7l7.5,1.9M888.4,652.8l8.1,2.5M888.2,661.9l8.6,3.2M888.1,670.9l8.8,4.1M888.2,679.8l8.7,5M888.3,688.8l8.4,5.9M888.6,697.7l7.9,6.9M887.2,710.6l10.5,0M888.6,723.5l7.9,-6.9M888.3,732.4l8.4,-5.9M888.2,741.4l8.7,-5M888.1,750.3l8.8,-4.1M888.2,759.3l8.6,-3.2M888.4,768.4l8.1,-2.5M888.8,777.5l7.5,-1.9M889.2,786.6l6.6,-1.3M889.8,795.8l5.4,-0.9M905.6,616.5l3.7,-0.1M904.8,625.9l5.4,-0.2M904.1,635.4l6.7,-0.3M903.7,644.9l7.7,-0.5M903.3,654.4l8.5,-0.6M902.9,663.9l9.1,-0.8M902.7,673.4l9.6,-1.1M902.5,683l9.9,-1.3M902.4,692.6l10.2,-1.7M902.4,702.2l10.2,-2.1M902.2,710.6l10.5,0M902.4,719l10.2,2.1M902.4,728.6l10.2,1.7M902.5,738.2l9.9,1.3M902.7,747.8l9.6,1.1M902.9,757.3l9.1,0.8M903.3,766.8l8.5,0.6M903.7,776.3l7.7,0.5M904.1,785.8l6.7,0.3M904.8,795.3l5.4,0.2M920.6,616.6l3.7,-0.5M919.8,626.3l5.4,-0.9M919.2,635.9l6.6,-1.3M918.8,645.6l7.5,-1.8M918.4,655.3l8.1,-2.5M918.2,665.1l8.6,-3.2M918.1,674.9l8.8,-4M918.1,684.8l8.7,-5M918.3,694.7l8.4,-5.9M918.5,704.6l7.9,-6.8M918.5,716.6l7.9,6.8M918.3,726.5l8.4,5.9M918.1,736.4l8.7,5M918.1,746.3l8.8,4M918.2,756.1l8.6,3.2M918.4,765.9l8.1,2.5M918.8,775.6l7.5,1.8M919.2,785.3l6.6,1.3M919.8,794.9l5.4,0.9M935.6,616.3l3.7,0.1M934.8,625.7l5.4,0.2M934.1,635.1l6.7,0.4M933.7,644.4l7.7,0.5M933.3,653.7l8.5,0.7M932.9,663l9.1,0.9M932.7,672.3l9.6,1.2M932.5,681.6l9.9,1.5M932.4,690.8l10.1,1.9M932.4,730.4l10.1,-1.9M932.5,739.6l9.9,-1.5M932.7,748.9l9.6,-1.2M932.9,758.2l9.1,-0.9M933.3,767.5l8.5,-0.7M933.7,776.8l7.7,-0.5M934.1,786.1l6.7,-0.4M934.8,795.5l5.4,-0.2M950.6,616.2l3.7,0.5M949.8,625.4l5.4,0.9M949.2,634.6l6.6,1.3M948.8,643.7l7.5,1.8M948.4,652.9l8.1,2.5M948.2,661.9l8.6,3.2M948.1,670.9l8.8,4M948.1,679.9l8.7,4.9M948.3,688.8l8.4,5.9M948.5,697.8l7.9,6.8M947.2,710.6l10.5,0M948.5,723.4l7.9,-6.8M948.3,732.4l8.4,-5.9M948.1,741.3l8.7,-4.9M948.1,750.3l8.8,-4M948.2,759.3l8.6,-3.2M948.4,768.3l8.1,-2.5M948.8,777.5l7.5,-1.8M949.2,786.6l6.6,-1.3M949.8,795.8l5.4,-0.9M965.6,616.5l3.7,-0.1M964.8,626l5.4,-0.3M964.1,635.4l6.7,-0.4M963.7,644.9l7.7,-0.6M963.3,654.5l8.5,-0.8M963,664l9.1,-1M962.7,673.6l9.6,-1.3M962.6,683.2l9.9,-1.7M962.5,692.8l10.1,-2.1M962.4,702.5l10.1,-2.6M962.2,710.6l10.5,0M962.4,718.7l10.1,2.6M962.5,728.4l10.1,2.1M962.6,738l9.9,1.7M962.7,747.6l9.6,1.3M963,757.2l9.1,1M963.3,766.7l8.5,0.8M963.7,776.3l7.7,0.6M964.1,785.8l6.7,0.4M964.8,795.2l5.4,0.3M980.6,616.6l3.7,-0.5M979.8,626.2l5.4,-0.9M979.2,635.9l6.6,-1.3M978.8,645.6l7.5,-1.8M978.4,655.3l8.2,-2.4M978.2,665.1l8.6,-3.2M978.1,674.9l8.8,-4M978.1,684.8l8.8,-4.9M978.3,694.7l8.5,-5.8M978.5,704.6l8,-6.8M978.5,716.6l8,6.8M978.3,726.5l8.5,5.8M978.1,736.4l8.8,4.9M978.1,746.3l8.8,4M978.2,756.1l8.6,3.2M978.4,765.9l8.2,2.4M978.8,775.6l7.5,1.8M979.2,785.3l6.6,1.3M979.8,795l5.4,0.9M995.6,616.3l3.7,0.2M994.8,625.7l5.4,0.3M994.1,635l6.7,0.4M993.7,644.3l7.7,0.6M993.3,653.7l8.5,0.9M993,662.9l9.1,1.1M992.7,672.2l9.5,1.5M992.6,681.4l9.9,1.9M992.5,690.6l10,2.3M992.5,730.6l10,-2.3M992.6,739.8l9.9,-1.9M992.7,749l9.5,-1.5M993,758.3l9.1,-1.1M993.3,767.5l8.5,-0.9M993.7,776.9l7.7,-0.6M994.1,786.2l6.7,-0.4M994.8,795.5l5.4,-0.3M1010.6,616.2l3.7,0.5M1009.8,625.4l5.4,0.8M1009.2,634.6l6.6,1.3M1008.7,643.8l7.5,1.8M1008.4,652.9l8.2,2.4M1008.2,661.9l8.6,3.1M1008.1,670.9l8.8,3.9M1008.1,679.9l8.8,4.9M1008.2,688.9l8.5,5.8M1008.5,697.8l8,6.7M1007.2,710.6l10.5,0M1008.5,723.4l8,-6.7M1008.2,732.3l8.5,-5.8M1008.1,741.3l8.8,-4.9M1008.1,750.3l8.8,-3.9M1008.2,759.3l8.6,-3.1M1008.4,768.3l8.2,-2.4M1008.7,777.4l7.5,-1.8M1009.2,786.6l6.6,-1.3M1009.8,795.8l5.4,-0.8M1025.6,616.5l3.7,-0.2M1024.8,626l5.4,-0.3M1024.2,635.5l6.7,-0.5M1023.7,645l7.7,-0.7M1023.3,654.5l8.5,-0.9M1023,664.1l9.1,-1.2M1022.7,673.7l9.5,-1.6M1022.6,683.4l9.8,-2M1022.5,693l10,-2.5M1022.5,702.7l10,-3.1M1022.2,710.6l10.5,0M1022.5,718.5l10,3.1M1022.5,728.2l10,2.5M1022.6,737.8l9.8,2M1022.7,747.5l9.5,1.6M1023,757.1l9.1,1.2M1023.3,766.7l8.5,0.9M1023.7,776.2l7.7,0.7M1024.2,785.7l6.7,0.5M1024.8,795.2l5.4,0.3M1040.6,616.6l3.7,-0.5M1039.8,626.2l5.4,-0.8M1039.2,635.9l6.6,-1.3M1038.7,645.5l7.5,-1.8M1038.4,655.3l8.2,-2.4M1038.2,665l8.6,-3.1M1038.1,674.9l8.8,-3.9M1038.1,684.7l8.8,-4.8M1038.2,694.6l8.5,-5.7M1038.5,704.5l8,-6.7M1038.5,716.7l8,6.7M1038.2,726.6l8.5,5.7M1038.1,736.5l8.8,4.8M1038.1,746.3l8.8,3.9M1038.2,756.2l8.6,3.1M1038.4,765.9l8.2,2.4M1038.7,775.7l7.5,1.8M1039.2,785.3l6.6,1.3M1039.8,795l5.4,0.8M1055.6,616.3l3.7,0.2M1054.8,625.6l5.4,0.3M1054.2,635l6.7,0.5M1053.7,644.3l7.7,0.7M1053.3,653.6l8.5,1M1053,662.8l9.1,1.3M1052.8,672.1l9.5,1.7M1052.6,681.2l9.8,2.2M1052.5,690.4l9.9,2.7M1052.5,730.8l9.9,-2.7M1052.6,740l9.8,-2.2M1052.8,749.1l9.5,-1.7M1053,758.4l9.1,-1.3M1053.3,767.6l8.5,-1M1053.7,776.9l7.7,-0.7M1054.2,786.2l6.7,-0.5M1054.8,795.6l5.4,-0.3M1070.6,616.2l3.7,0.5M1069.8,625.4l5.4,0.8M1069.2,634.6l6.6,1.2M1068.7,643.8l7.5,1.8M1068.4,652.9l8.2,2.4M1068.2,662l8.6,3.1M1068.1,671l8.8,3.9M1068.1,680l8.8,4.8M1068.2,688.9l8.6,5.7M1068.5,697.9l8.1,6.6M1067.2,710.6l10.5,0M1068.5,723.3l8.1,-6.6M1068.2,732.3l8.6,-5.7M1068.1,741.2l8.8,-4.8M1068.1,750.2l8.8,-3.9M1068.2,759.2l8.6,-3.1M1068.4,768.3l8.2,-2.4M1068.7,777.4l7.5,-1.8M1069.2,786.6l6.6,-1.2M1069.8,795.8l5.4,-0.8M1085.6,616.5l3.7,-0.2M1084.8,626l5.4,-0.4M1084.2,635.5l6.7,-0.6M1083.7,645.1l7.7,-0.8M1083.3,654.6l8.4,-1.1M1083,664.2l9,-1.4M1082.8,673.8l9.5,-1.9M1082.6,683.5l9.7,-2.3M1082.6,693.2l9.9,-2.9M1082.6,703l9.8,-3.6M1082.2,710.6l10.5,0M1082.6,718.2l9.8,3.6M1082.6,728l9.9,2.9M1082.6,737.7l9.7,2.3M1082.8,747.4l9.5,1.9M1083,757l9,1.4M1083.3,766.6l8.4,1.1M1083.7,776.1l7.7,0.8M1084.2,785.7l6.7,0.6M1084.8,795.2l5.4,0.4M1100.6,616.6l3.7,-0.5M1099.8,626.2l5.4,-0.8M1099.2,635.9l6.6,-1.2M1098.7,645.5l7.5,-1.7M1098.4,655.2l8.2,-2.3M1098.2,665l8.6,-3M1098.1,674.8l8.9,-3.8M1098.1,684.7l8.9,-4.7M1098.2,694.6l8.6,-5.6M1098.4,704.5l8.1,-6.6M1098.4,716.7l8.1,6.6M1098.2,726.6l8.6,5.6M1098.1,736.5l8.9,4.7M1098.1,746.4l8.9,3.8M1098.2,756.2l8.6,3M1098.4,766l8.2,2.3M1098.7,775.7l7.5,1.7M1099.2,785.3l6.6,1.2M1099.8,795l5.4,0.8M1115.6,616.3l3.7,0.2M1114.8,625.6l5.4,0.4M1114.2,634.9l6.7,0.6M1113.7,644.2l7.7,0.9M1113.3,653.5l8.4,1.2M1113,662.7l9,1.5M1112.8,671.9l9.4,2M1112.6,681.1l9.7,2.5M1112.6,690.2l9.8,3.1M1112.6,731l9.8,-3.1M1112.6,740.1l9.7,-2.5M1112.8,749.3l9.4,-2M1113,758.5l9,-1.5M1113.3,767.7l8.4,-1.2M1113.7,777l7.7,-0.9M1114.2,786.3l6.7,-0.6M1114.8,795.6l5.4,-0.4M1130.6,616.2l3.7,0.4M1129.8,625.4l5.4,0.8M1129.2,634.6l6.6,1.2M1128.7,643.8l7.5,1.7M1128.4,652.9l8.2,2.3M1128.2,662l8.7,3M1128.1,671l8.9,3.8M1128.1,680l8.9,4.6M1128.2,689l8.6,5.6M1128.4,697.9l8.2,6.5M1127.2,710.6l10.5,0M1128.4,723.3l8.2,-6.5M1128.2,732.2l8.6,-5.6M1128.1,741.2l8.9,-4.6M1128.1,750.2l8.9,-3.8M1128.2,759.2l8.7,-3M1128.4,768.3l8.2,-2.3M1128.7,777.4l7.5,-1.7M1129.2,786.6l6.6,-1.2M1129.8,795.8l5.4,-0.8M1145.6,616.5l3.7,-0.2M1144.8,626l5.4,-0.4M1144.2,635.6l6.7,-0.6M1143.7,645.1l7.7,-0.9M1143.3,654.7l8.4,-1.2M1143,664.3l9,-1.6M1142.8,674l9.4,-2.1M1142.7,683.7l9.7,-2.7M1142.6,693.4l9.7,-3.3M1142.7,703.2l9.6,-4M1142.2,710.6l10.5,0M1142.7,718l9.6,4M1142.6,727.8l9.7,3.3M1142.7,737.5l9.7,2.7M1142.8,747.2l9.4,2.1M1143,756.9l9,1.6M1143.3,766.5l8.4,1.2M1143.7,776.1l7.7,0.9M1144.2,785.6l6.7,0.6M1144.8,795.2l5.4,0.4M1160.6,616.6l3.7,-0.4M1159.8,626.2l5.4,-0.8M1159.2,635.8l6.6,-1.2M1158.7,645.5l7.5,-1.7M1158.4,655.2l8.2,-2.3M1158.2,665l8.7,-2.9M1158,674.8l8.9,-3.7M1158,684.6l8.9,-4.6M1158.2,694.5l8.7,-5.5M1158.4,704.4l8.2,-6.4M1158.4,716.8l8.2,6.4M1158.2,726.7l8.7,5.5M1158,736.6l8.9,4.6M1158,746.4l8.9,3.7M1158.2,756.2l8.7,2.9M1158.4,766l8.2,2.3M1158.7,775.7l7.5,1.7M1159.2,785.4l6.6,1.2M1159.8,795l5.4,0.8M1175.6,616.3l3.7,0.3M1174.8,625.6l5.4,0.5M1174.2,634.9l6.7,0.7M1173.7,644.2l7.7,1M1173.3,653.4l8.4,1.3M1173,662.6l9,1.7M1172.8,671.8l9.4,2.2M1172.7,680.9l9.6,2.8M1172.7,690l9.7,3.5M1172.7,731.2l9.7,-3.5M1172.7,740.3l9.6,-2.8M1172.8,749.4l9.4,-2.2M1173,758.6l9,-1.7M1173.3,767.8l8.4,-1.3M1173.7,777l7.7,-1M1174.2,786.3l6.7,-0.7M1174.8,795.6l5.4,-0.5M1190.6,616.2l3.7,0.4M1189.8,625.4l5.4,0.8M1189.2,634.7l6.6,1.2M1188.7,643.8l7.5,1.6M1188.4,653l8.2,2.2M1188.2,662.1l8.7,2.9M1188,671.1l8.9,3.7M1188,680.1l9,4.5M1188.1,689l8.7,5.4M1188.4,698l8.3,6.4M1187.2,710.6l10.5,0M1188.4,723.2l8.3,-6.4M1188.1,732.2l8.7,-5.4M1188,741.1l9,-4.5M1188,750.1l8.9,-3.7M1188.2,759.1l8.7,-2.9M1188.4,768.2l8.2,-2.2M1188.7,777.4l7.5,-1.6M1189.2,786.5l6.6,-1.2M1189.8,795.8l5.4,-0.8M1205.6,616.5l3.7,-0.3M1204.8,626.1l5.4,-0.5M1204.2,635.6l6.7,-0.7M1203.7,645.2l7.6,-1M1203.3,654.8l8.4,-1.4M1203,664.4l9,-1.8M1202.8,674.1l9.4,-2.3M1202.7,683.8l9.6,-2.9M1202.7,693.6l9.6,-3.6M1202.8,703.4l9.5,-4.4M1202.2,710.6l10.5,0M1202.8,717.8l9.5,4.4M1202.7,727.6l9.6,3.6M1202.7,737.4l9.6,2.9M1202.8,747.1l9.4,2.3M1203,756.8l9,1.8M1203.3,766.4l8.4,1.4M1203.7,776l7.6,1M1204.2,785.6l6.7,0.7M1204.8,795.1l5.4,0.5M1220.6,616.6l3.7,-0.4M1219.8,626.2l5.4,-0.8M1219.2,635.8l6.6,-1.2M1218.7,645.5l7.5,-1.6M1218.4,655.2l8.2,-2.2M1218.2,664.9l8.7,-2.8M1218,674.7l9,-3.6M1218,684.6l9,-4.5M1218.1,694.4l8.8,-5.4M1218.3,704.3l8.3,-6.3M1218.3,716.9l8.3,6.3M1218.1,726.8l8.8,5.4M1218,736.6l9,4.5M1218,746.5l9,3.6M1218.2,756.3l8.7,2.8M1218.4,766l8.2,2.2M1218.7,775.7l7.5,1.6M1219.2,785.4l6.6,1.2M1219.8,795l5.4,0.8M1235.6,616.3l3.7,0.3M1234.8,625.6l5.4,0.5M1234.2,634.9l6.7,0.8M1233.7,644.1l7.6,1.1M1233.3,653.4l8.4,1.4M1233,662.6l8.9,1.9M1232.8,671.7l9.3,2.4M1232.7,680.8l9.5,3.1M1232.7,689.9l9.6,3.8M1232.7,731.3l9.6,-3.8M1232.7,740.4l9.5,-3.1M1232.8,749.5l9.3,-2.4M1233,758.6l8.9,-1.9M1233.3,767.8l8.4,-1.4M1233.7,777.1l7.6,-1.1M1234.2,786.3l6.7,-0.8M1234.8,795.6l5.4,-0.5M1250.6,616.2l3.7,0.4M1249.8,625.4l5.4,0.7M1249.2,634.7l6.6,1.1M1248.7,643.9l7.5,1.6M1248.4,653l8.2,2.1M1248.1,662.1l8.7,2.8M1248,671.2l9,3.5M1248,680.2l9,4.4M1248.1,689.1l8.8,5.3M1248.3,698.1l8.4,6.2M1247.2,710.6l10.5,0M1248.3,723.1l8.4,-6.2M1248.1,732.1l8.8,-5.3M1248,741l9,-4.4M1248,750l9,-3.5M1248.1,759.1l8.7,-2.8M1248.4,768.2l8.2,-2.1M1248.7,777.3l7.5,-1.6M1249.2,786.5l6.6,-1.1M1249.8,795.8l5.4,-0.7M1265.6,616.5l3.7,-0.3M1264.8,626.1l5.4,-0.5M1264.2,635.6l6.7,-0.8M1263.7,645.2l7.6,-1.1M1263.3,654.8l8.4,-1.5M1263,664.5l8.9,-2M1262.8,674.2l9.3,-2.6M1262.8,683.9l9.5,-3.2M1262.7,693.7l9.5,-4M1262.9,703.6l9.3,-4.8M1262.2,710.6l10.5,0M1262.9,717.6l9.3,4.8M1262.7,727.5l9.5,4M1262.8,737.3l9.5,3.2M1262.8,747l9.3,2.6M1263,756.7l8.9,2M1263.3,766.4l8.4,1.5M1263.7,776l7.6,1.1M1264.2,785.6l6.7,0.8M1264.8,795.1l5.4,0.5M1280.6,616.6l3.7,-0.4M1279.8,626.2l5.4,-0.7M1279.2,635.8l6.6,-1.1M1278.7,645.4l7.6,-1.6M1278.4,655.1l8.3,-2.1M1278.1,664.9l8.7,-2.7M1278,674.7l9,-3.5M1278,684.5l9.1,-4.3M1278.1,694.4l8.9,-5.2M1278.3,704.2l8.5,-6.1M1278.3,717l8.5,6.1M1278.1,726.8l8.9,5.2M1278,736.7l9.1,4.3M1278,746.5l9,3.5M1278.1,756.3l8.7,2.7M1278.4,766.1l8.3,2.1M1278.7,775.8l7.6,1.6M1279.2,785.4l6.6,1.1M1279.8,795l5.4,0.7M1295.6,616.3l3.7,0.3M1294.8,625.6l5.4,0.5M1294.2,634.9l6.7,0.8M1293.7,644.1l7.6,1.1M1293.3,653.3l8.4,1.5M1293,662.5l8.9,1.9M1292.8,671.7l9.3,2.5M1292.7,680.8l9.5,3.2M1292.7,689.8l9.5,3.9M1292.7,731.4l9.5,-3.9M1292.7,740.4l9.5,-3.2M1292.8,749.5l9.3,-2.5M1293,758.7l8.9,-1.9M1293.3,767.9l8.4,-1.5M1293.7,777.1l7.6,-1.1M1294.2,786.3l6.7,-0.8M1294.8,795.6l5.4,-0.5M1310.6,616.3l3.7,0.2M1309.8,625.6l5.4,0.4M1309.2,634.9l6.7,0.6M1308.7,644.2l7.7,0.9M1308.3,653.5l8.4,1.2M1308,662.7l9,1.5M1307.8,671.9l9.4,2M1307.6,681.1l9.7,2.5M1307.6,690.2l9.8,3.1M1307.6,699.3l9.7,3.8M1307.2,710.6l10.5,0M1307.6,721.9l9.7,-3.8M1307.6,731l9.8,-3.1M1307.6,740.1l9.7,-2.5M1307.8,749.3l9.4,-2M1308,758.5l9,-1.5M1308.3,767.7l8.4,-1.2M1308.7,777l7.7,-0.9M1309.2,786.3l6.7,-0.6M1309.8,795.6l5.4,-0.4M1325.6,616.4l3.7,-0.1M1324.8,625.9l5.5,-0.1M1324.1,635.3l6.7,-0.2M1323.6,644.8l7.7,-0.2M1323.2,654.2l8.5,-0.3M1322.9,663.7l9.1,-0.4M1322.7,673.2l9.6,-0.5M1322.5,682.7l10,-0.7M1322.4,692.2l10.3,-0.9M1322.3,701.7l10.4,-1.1M1322.2,710.6l10.5,0M1322.3,719.5l10.4,1.1M1322.4,729l10.3,0.9M1322.5,738.5l10,0.7M1322.7,748l9.6,0.5M1322.9,757.5l9.1,0.4M1323.2,767l8.5,0.3M1323.6,776.4l7.7,0.2M1324.1,785.9l6.7,0.2M1324.8,795.3l5.5,0.1" stroke="#fff" stroke-width="1.8" stroke-opacity=".5" fill="none"/></g>
<path d="M638,700.1a10.5,10.5 0 0 0 0,21z" fill="#c9c3d2"/><path d="M638,700.1a10.5,10.5 0 0 1 0,21z" fill="#ef6a3c"/><circle cx="638" cy="710.6" r="10.3" fill="none" stroke="#111" stroke-width="3.8"/><path d="M638,700.1v21" stroke="#111" stroke-width="2.6"/><path d="M697.4,700.1a10.5,10.5 0 0 0 0,21z" fill="#c9c3d2"/><path d="M697.4,700.1a10.5,10.5 0 0 1 0,21z" fill="#ef6a3c"/><circle cx="697.4" cy="710.6" r="10.3" fill="none" stroke="#111" stroke-width="3.8"/><path d="M697.4,700.1v21" stroke="#111" stroke-width="2.6"/><path d="M756.8,700.1a10.5,10.5 0 0 0 0,21z" fill="#c9c3d2"/><path d="M756.8,700.1a10.5,10.5 0 0 1 0,21z" fill="#ef6a3c"/><circle cx="756.8" cy="710.6" r="10.3" fill="none" stroke="#111" stroke-width="3.8"/><path d="M756.8,700.1v21" stroke="#111" stroke-width="2.6"/><path d="M816.2,700.1a10.5,10.5 0 0 0 0,21z" fill="#c9c3d2"/><path d="M816.2,700.1a10.5,10.5 0 0 1 0,21z" fill="#ef6a3c"/><circle cx="816.2" cy="710.6" r="10.3" fill="none" stroke="#111" stroke-width="3.8"/><path d="M816.2,700.1v21" stroke="#111" stroke-width="2.6"/><path d="M875.6,700.1a10.5,10.5 0 0 0 0,21z" fill="#c9c3d2"/><path d="M875.6,700.1a10.5,10.5 0 0 1 0,21z" fill="#ef6a3c"/><circle cx="875.6" cy="710.6" r="10.3" fill="none" stroke="#111" stroke-width="3.8"/><path d="M875.6,700.1v21" stroke="#111" stroke-width="2.6"/><path d="M935,700.1a10.5,10.5 0 0 0 0,21z" fill="#c9c3d2"/><path d="M935,700.1a10.5,10.5 0 0 1 0,21z" fill="#ef6a3c"/><circle cx="935" cy="710.6" r="10.3" fill="none" stroke="#111" stroke-width="3.8"/><path d="M935,700.1v21" stroke="#111" stroke-width="2.6"/><path d="M994.4,700.1a10.5,10.5 0 0 0 0,21z" fill="#c9c3d2"/><path d="M994.4,700.1a10.5,10.5 0 0 1 0,21z" fill="#ef6a3c"/><circle cx="994.4" cy="710.6" r="10.3" fill="none" stroke="#111" stroke-width="3.8"/><path d="M994.4,700.1v21" stroke="#111" stroke-width="2.6"/><path d="M1053.8,700.1a10.5,10.5 0 0 0 0,21z" fill="#c9c3d2"/><path d="M1053.8,700.1a10.5,10.5 0 0 1 0,21z" fill="#ef6a3c"/><circle cx="1053.8" cy="710.6" r="10.3" fill="none" stroke="#111" stroke-width="3.8"/><path d="M1053.8,700.1v21" stroke="#111" stroke-width="2.6"/><path d="M1113.2,700.1a10.5,10.5 0 0 0 0,21z" fill="#c9c3d2"/><path d="M1113.2,700.1a10.5,10.5 0 0 1 0,21z" fill="#ef6a3c"/><circle cx="1113.2" cy="710.6" r="10.3" fill="none" stroke="#111" stroke-width="3.8"/><path d="M1113.2,700.1v21" stroke="#111" stroke-width="2.6"/><path d="M1172.6,700.1a10.5,10.5 0 0 0 0,21z" fill="#c9c3d2"/><path d="M1172.6,700.1a10.5,10.5 0 0 1 0,21z" fill="#ef6a3c"/><circle cx="1172.6" cy="710.6" r="10.3" fill="none" stroke="#111" stroke-width="3.8"/><path d="M1172.6,700.1v21" stroke="#111" stroke-width="2.6"/><path d="M1232,700.1a10.5,10.5 0 0 0 0,21z" fill="#c9c3d2"/><path d="M1232,700.1a10.5,10.5 0 0 1 0,21z" fill="#ef6a3c"/><circle cx="1232" cy="710.6" r="10.3" fill="none" stroke="#111" stroke-width="3.8"/><path d="M1232,700.1v21" stroke="#111" stroke-width="2.6"/><path d="M1291.4,700.1a10.5,10.5 0 0 0 0,21z" fill="#c9c3d2"/><path d="M1291.4,700.1a10.5,10.5 0 0 1 0,21z" fill="#ef6a3c"/><circle cx="1291.4" cy="710.6" r="10.3" fill="none" stroke="#111" stroke-width="3.8"/><path d="M1291.4,700.1v21" stroke="#111" stroke-width="2.6"/>
<rect x="43.6" y="611.1" width="1981.8" height="197.8" rx="4" fill="none" stroke="#0c0c14" stroke-width="4.2"/>
<text x="53.4" y="667.5" font-size="53" fill="#fff" textLength="60" lengthAdjust="spacingAndGlyphs">(C)</text>
<text x="1588" y="664" font-size="49" fill="#fff" textLength="412" lengthAdjust="spacingAndGlyphs">Non biased Mode</text>
<text x="1715" y="782" font-size="49" fill="#fff" textLength="155" lengthAdjust="spacingAndGlyphs">V<tspan font-size="33" dy="9">D</tspan><tspan dy="-9">=3 V</tspan></text>
<g filter="url(#jet)"><rect x="57.6" y="827.4" width="1811.4" height="36" fill="url(#cb827)"/></g>
<rect x="57.6" y="827.4" width="1811.4" height="36" fill="none" stroke="#1a1a2a" stroke-opacity=".75" stroke-width="2"/>
<text class="dv" transform="translate(59.3,888.5) scale(2.45,1)" font-size="24.5" text-anchor="middle" fill="#111">0</text>
<text class="dv" transform="translate(421.4,888.5) scale(2.45,1)" font-size="24.5" text-anchor="middle" fill="#111">0.2</text>
<text class="dv" transform="translate(783.5,888.5) scale(2.45,1)" font-size="24.5" text-anchor="middle" fill="#111">0.4</text>
<text class="dv" transform="translate(1145.6,888.5) scale(2.45,1)" font-size="24.5" text-anchor="middle" fill="#111">0.6</text>
<text class="dv" transform="translate(1507.7,888.5) scale(2.45,1)" font-size="24.5" text-anchor="middle" fill="#111">0.8</text>
<text class="dv" transform="translate(1869.8,888.5) scale(2.45,1)" font-size="24.5" text-anchor="middle" fill="#111">1</text>
<path d="M421.4,827.4v7M421.4,863.4v-7M783.5,827.4v7M783.5,863.4v-7M1145.6,827.4v7M1145.6,863.4v-7M1507.7,827.4v7M1507.7,863.4v-7" stroke="#0a1410" stroke-width="4.6" fill="none"/>
<text x="1893" y="863.4" font-size="46" fill="#1a1a1a" textLength="65" lengthAdjust="spacingAndGlyphs">nM</text>
<g filter="url(#jet)"><g clip-path="url(#cpD)"><rect x="45" y="908" width="1984" height="199.5" fill="url(#loD)"/><g mask="url(#mD)"><rect x="45" y="908" width="1984" height="199.5" fill="url(#hiD)"/></g></g></g>
<g clip-path="url(#cpD)"><path d="M663.3,924l-2.6,-0.5M663.2,933.5l-2.5,-0.8M663.1,943.1l-2.3,-1.1M663,952.6l-2.1,-1.3M662.9,962.2l-1.8,-1.6M662.7,971.7l-1.5,-1.8M662.6,981.2l-1.1,-1.9M662.4,990.7l-0.8,-2M662.2,1000.1l-0.4,-2.1M662,1009.6l0,-2.1M661.8,1019l0.4,-2.1M661.6,1028.4l0.8,-2M661.4,1037.7l1.1,-1.9M661.3,1047.1l1.5,-1.8M661.1,1056.4l1.8,-1.6M661,1065.7l2.1,-1.3M660.9,1075l2.3,-1.1M660.8,1084.3l2.5,-0.8M660.7,1093.5l2.6,-0.5M675.4,924.8l-2.8,-2.1M675.4,934.9l-2.7,-3.4M675.3,944.9l-2.5,-4.6M675.1,954.9l-2.3,-5.8M675,964.8l-2,-6.7M674.8,974.6l-1.6,-7.6M674.6,984.4l-1.3,-8.2M674.4,994l-0.9,-8.7M674.2,1003.6l-0.4,-9M674,1013.1l0,-9.1M673.8,1022.4l0.4,-9M673.6,1031.7l0.9,-8.7M673.4,1040.9l1.3,-8.2M673.2,1050l1.6,-7.6M673,1059l2,-6.7M672.9,1067.9l2.3,-5.8M672.7,1076.8l2.5,-4.6M672.6,1085.6l2.7,-3.4M672.6,1094.3l2.8,-2.1M685.7,925l0.6,-2.6M685.7,935.2l0.6,-4.1M685.7,945.3l0.5,-5.6M685.8,955.4l0.5,-6.9M685.8,965.4l0.4,-8.1M685.8,975.4l0.4,-9.1M685.9,985.2l0.3,-9.9M685.9,994.9l0.2,-10.5M686,1004.5l0.1,-10.8M686,1014l0,-10.9M686,1023.3l-0.1,-10.8M686.1,1032.6l-0.2,-10.5M686.1,1041.7l-0.3,-9.9M686.2,1050.7l-0.4,-9.1M686.2,1059.6l-0.4,-8.1M686.2,1068.5l-0.5,-6.9M686.3,1077.2l-0.5,-5.6M686.3,1085.9l-0.6,-4.1M686.3,1094.6l-0.6,-2.6M696,924.7l3.9,-1.9M696.1,934.7l3.8,-3.1M696.3,944.6l3.5,-4.1M696.4,954.5l3.2,-5.1M696.6,964.4l2.7,-6M696.9,974.2l2.3,-6.8M697.1,983.9l1.7,-7.4M697.4,993.6l1.2,-7.8M697.7,1003.1l0.6,-8.1M698,1012.6l0,-8.2M698.3,1022l-0.6,-8.1M698.6,1031.2l-1.2,-7.8M698.9,1040.4l-1.7,-7.4M699.1,1049.6l-2.3,-6.8M699.4,1058.6l-2.7,-6M699.6,1067.6l-3.2,-5.1M699.7,1076.5l-3.5,-4.1M699.9,1085.4l-3.8,-3.1M700,1094.2l-3.9,-1.9M707.1,924l5.8,-0.5M707.3,933.6l5.5,-0.8M707.4,943.1l5.1,-1.1M707.7,952.7l4.6,-1.4M708,962.2l4,-1.7M708.3,971.7l3.3,-1.9M708.7,981.3l2.5,-2M709.1,990.7l1.7,-2.1M709.6,1000.2l0.9,-2.2M710,1009.6l0,-2.2M710.4,1019l-0.9,-2.2M710.9,1028.4l-1.7,-2.1M711.3,1037.8l-2.5,-2M711.7,1047.1l-3.3,-1.9M712,1056.4l-4,-1.7M712.3,1065.7l-4.6,-1.4M712.6,1075l-5.1,-1.1M712.7,1084.3l-5.5,-0.8M712.9,1093.5l-5.8,-0.5M719.3,923.2l5.4,1.1M719.4,932.3l5.1,1.7M719.6,941.4l4.7,2.3M719.9,950.6l4.3,2.9M720.1,959.7l3.7,3.3M720.5,968.9l3.1,3.8M720.8,978.2l2.4,4.1M721.2,987.5l1.6,4.3M721.6,996.8l0.8,4.5M722,1006.2l0,4.5M722.4,1015.7l-0.8,4.5M722.8,1025.2l-1.6,4.3M723.2,1034.7l-2.4,4.1M723.5,1044.3l-3.1,3.8M723.9,1053.9l-3.7,3.3M724.1,1063.6l-4.3,2.9M724.4,1073.3l-4.7,2.3M724.6,1083l-5.1,1.7M724.7,1092.7l-5.4,1.1M732.6,922.6l2.9,2.2M732.6,931.3l2.8,3.6M732.7,940.1l2.6,4.9M732.8,949l2.3,6M733,957.9l2,7.1M733.2,966.9l1.7,7.9M733.4,975.9l1.3,8.6M733.6,985.1l0.9,9.2M733.8,994.3l0.4,9.5M734,1003.7l0,9.6M734.2,1013.2l-0.4,9.5M734.4,1022.8l-0.9,9.2M734.6,1032.4l-1.3,8.6M734.8,1042.2l-1.7,7.9M735,1052.1l-2,7.1M735.2,1062l-2.3,6M735.3,1072l-2.6,4.9M735.4,1082.1l-2.8,3.6M735.4,1092.2l-2.9,2.2M746.3,922.4l-0.7,2.6M746.3,931.1l-0.6,4.1M746.3,939.8l-0.6,5.5M746.3,948.5l-0.5,6.9M746.2,957.4l-0.5,8.1M746.2,966.3l-0.4,9.1M746.2,975.3l-0.3,9.9M746.1,984.4l-0.2,10.4M746.1,993.7l-0.1,10.8M746,1003l0,10.9M745.9,1012.5l0.1,10.8M745.9,1022.1l0.2,10.4M745.8,1031.8l0.3,9.9M745.8,1041.7l0.4,9.1M745.8,1051.6l0.5,8.1M745.7,1061.6l0.5,6.9M745.7,1071.7l0.6,5.5M745.7,1081.8l0.6,4.1M745.7,1092l0.7,2.6M760,922.8l-4,1.9M759.9,931.6l-3.8,3M759.8,940.5l-3.5,4.1M759.6,949.4l-3.2,5.1M759.4,958.4l-2.8,6M759.1,967.5l-2.3,6.7M758.9,976.6l-1.8,7.3M758.6,985.8l-1.2,7.7M758.3,995.1l-0.6,8M758,1004.5l0,8.1M757.7,1013.9l0.6,8M757.4,1023.5l1.2,7.7M757.1,1033.1l1.8,7.3M756.9,1042.8l2.3,6.7M756.6,1052.6l2.8,6M756.4,1062.5l3.2,5.1M756.2,1072.4l3.5,4.1M756.1,1082.3l3.8,3M756,1092.3l4,1.9M772.9,923.5l-5.8,0.5M772.8,932.7l-5.5,0.8M772.6,942l-5.1,1.1M772.3,951.3l-4.6,1.3M772,960.6l-4,1.6M771.7,969.9l-3.3,1.8M771.3,979.3l-2.6,1.9M770.9,988.6l-1.7,2M770.4,998l-0.9,2.1M770,1007.4l0,2.1M769.6,1016.9l0.9,2.1M769.1,1026.3l1.7,2M768.7,1035.8l2.6,1.9M768.3,1045.3l3.3,1.8M768,1054.8l4,1.6M767.7,1064.4l4.6,1.3M767.4,1073.9l5.1,1.1M767.2,1083.5l5.5,0.8M767.1,1093l5.8,0.5M784.7,924.3l-5.3,-1.1M784.5,934l-5.1,-1.7M784.4,943.7l-4.7,-2.4M784.1,953.4l-4.3,-2.9M783.9,963.1l-3.7,-3.4M783.5,972.7l-3.1,-3.9M783.2,982.3l-2.4,-4.2M782.8,991.9l-1.6,-4.4M782.4,1001.4l-0.8,-4.6M782,1010.8l0,-4.6M781.6,1020.2l0.8,-4.6M781.2,1029.6l1.6,-4.4M780.8,1038.9l2.4,-4.2M780.5,1048.1l3.1,-3.9M780.1,1057.3l3.7,-3.4M779.9,1066.5l4.3,-2.9M779.6,1075.6l4.7,-2.4M779.5,1084.7l5.1,-1.7M779.3,1093.8l5.3,-1.1M795.4,924.8l-2.8,-2.2M795.4,934.9l-2.7,-3.6M795.3,945l-2.5,-4.9M795.1,955l-2.3,-6.1M795,965l-2,-7.1M794.8,974.8l-1.6,-8M794.6,984.6l-1.3,-8.7M794.4,994.3l-0.9,-9.2M794.2,1003.8l-0.4,-9.5M794,1013.3l0,-9.6M793.8,1022.7l0.4,-9.5M793.6,1031.9l0.9,-9.2M793.4,1041.1l1.3,-8.7M793.2,1050.2l1.6,-8M793,1059.2l2,-7.1M792.9,1068.1l2.3,-6.1M792.7,1076.9l2.5,-4.9M792.6,1085.7l2.7,-3.6M792.6,1094.4l2.8,-2.2M805.6,925l0.7,-2.5M805.6,935.2l0.7,-4.1M805.7,945.3l0.7,-5.5M805.7,955.4l0.6,-6.9M805.7,965.4l0.5,-8M805.8,975.3l0.4,-9M805.8,985.2l0.3,-9.8M805.9,994.9l0.2,-10.4M805.9,1004.5l0.1,-10.8M806,1014l0,-10.9M806.1,1023.3l-0.1,-10.8M806.1,1032.6l-0.2,-10.4M806.2,1041.7l-0.3,-9.8M806.2,1050.7l-0.4,-9M806.3,1059.6l-0.5,-8M806.3,1068.5l-0.6,-6.9M806.3,1077.2l-0.7,-5.5M806.4,1085.9l-0.7,-4.1M806.4,1094.6l-0.7,-2.5M816,924.7l4,-1.9M816.1,934.6l3.9,-3M816.2,944.6l3.6,-4.1M816.4,954.5l3.2,-5M816.6,964.3l2.8,-5.9M816.8,974.1l2.3,-6.6M817.1,983.9l1.8,-7.2M817.4,993.5l1.2,-7.7M817.7,1003l0.6,-7.9M818,1012.5l0,-8M818.3,1021.9l-0.6,-7.9M818.6,1031.2l-1.2,-7.7M818.9,1040.4l-1.8,-7.2M819.2,1049.5l-2.3,-6.6M819.4,1058.5l-2.8,-5.9M819.6,1067.5l-3.2,-5M819.8,1076.5l-3.6,-4.1M819.9,1085.4l-3.9,-3M820,1094.2l-4,-1.9M827.1,924l5.8,-0.5M827.2,933.5l5.5,-0.8M827.4,943.1l5.1,-1M827.7,952.6l4.6,-1.3M828,962.1l4,-1.5M828.3,971.7l3.3,-1.7M828.7,981.1l2.6,-1.8M829.1,990.6l1.7,-1.9M829.6,1000.1l0.9,-2M830,1009.5l0,-2M830.4,1018.9l-0.9,-2M830.9,1028.3l-1.7,-1.9M831.3,1037.7l-2.6,-1.8M831.7,1047l-3.3,-1.7M832,1056.3l-4,-1.5M832.3,1065.7l-4.6,-1.3M832.6,1075l-5.1,-1M832.8,1084.2l-5.5,-0.8M832.9,1093.5l-5.8,-0.5M839.3,923.2l5.3,1.1M839.5,932.3l5.1,1.8M839.6,941.4l4.7,2.4M839.9,950.5l4.2,3M840.2,959.6l3.7,3.5M840.5,968.9l3.1,3.9M840.8,978.1l2.3,4.3M841.2,987.4l1.6,4.5M841.6,996.7l0.8,4.7M842,1006.1l0,4.8M842.4,1015.6l-0.8,4.7M842.8,1025.1l-1.6,4.5M843.2,1034.6l-2.3,4.3M843.5,1044.2l-3.1,3.9M843.8,1053.8l-3.7,3.5M844.1,1063.5l-4.2,3M844.4,1073.2l-4.7,2.4M844.5,1083l-5.1,1.8M844.7,1092.7l-5.3,1.1M852.6,922.6l2.8,2.3M852.7,931.3l2.7,3.6M852.8,940.1l2.5,4.9M852.9,948.9l2.2,6.1M853,957.8l1.9,7.1M853.2,966.8l1.6,8M853.4,975.9l1.2,8.7M853.6,985l0.8,9.3M853.8,994.3l0.4,9.6M854,1003.7l0,9.7M854.2,1013.1l-0.4,9.6M854.4,1022.7l-0.8,9.3M854.6,1032.4l-1.2,8.7M854.8,1042.2l-1.6,8M855,1052l-1.9,7.1M855.1,1062l-2.2,6.1M855.2,1072l-2.5,4.9M855.3,1082l-2.7,3.6M855.4,1092.1l-2.8,2.3M866.4,922.4l-0.8,2.5M866.4,931.1l-0.8,4.1M866.4,939.8l-0.7,5.5M866.3,948.6l-0.6,6.9M866.3,957.4l-0.6,8M866.2,966.3l-0.5,9M866.2,975.3l-0.4,9.8M866.1,984.4l-0.2,10.4M866.1,993.7l-0.1,10.8M866,1003.1l0,10.9M865.9,1012.5l0.1,10.8M865.9,1022.1l0.2,10.4M865.8,1031.8l0.4,9.8M865.8,1041.7l0.5,9M865.7,1051.6l0.6,8M865.7,1061.6l0.6,6.9M865.6,1071.7l0.7,5.5M865.6,1081.8l0.8,4.1M865.6,1092l0.8,2.5M880,922.8l-4.1,1.8M879.9,931.7l-3.9,3M879.8,940.5l-3.6,4M879.6,949.5l-3.3,5M879.4,958.5l-2.8,5.8M879.2,967.5l-2.3,6.6M878.9,976.7l-1.8,7.1M878.6,985.9l-1.2,7.6M878.3,995.2l-0.6,7.8M878,1004.5l0,7.9M877.7,1014l0.6,7.8M877.4,1023.6l1.2,7.6M877.1,1033.2l1.8,7.1M876.8,1042.9l2.3,6.6M876.6,1052.7l2.8,5.8M876.4,1062.5l3.3,5M876.2,1072.4l3.6,4M876.1,1082.4l3.9,3M876,1092.4l4.1,1.8M892.9,923.5l-5.8,0.4M892.8,932.8l-5.5,0.7M892.6,942.1l-5.1,1M892.3,951.4l-4.6,1.2M892,960.7l-4,1.4M891.7,970l-3.3,1.6M891.3,979.4l-2.6,1.7M890.9,988.8l-1.7,1.8M890.4,998.1l-0.9,1.9M890,1007.6l0,1.9M889.6,1017l0.9,1.9M889.1,1026.4l1.7,1.8M888.7,1035.9l2.6,1.7M888.3,1045.4l3.3,1.6M888,1054.9l4,1.4M887.7,1064.4l4.6,1.2M887.4,1074l5.1,1M887.2,1083.5l5.5,0.7M887.1,1093.1l5.8,0.4M904.6,924.3l-5.3,-1.1M904.5,934l-5,-1.8M904.3,943.8l-4.7,-2.5M904.1,953.5l-4.2,-3.1M903.8,963.2l-3.7,-3.6M903.5,972.8l-3,-4M903.2,982.4l-2.3,-4.4M902.8,992l-1.6,-4.6M902.4,1001.5l-0.8,-4.8M902,1010.9l0,-4.9M901.6,1020.3l0.8,-4.8M901.2,1029.7l1.6,-4.6M900.8,1039l2.3,-4.4M900.5,1048.2l3,-4M900.2,1057.4l3.7,-3.6M899.9,1066.5l4.2,-3.1M899.7,1075.7l4.7,-2.5M899.5,1084.8l5,-1.8M899.4,1093.8l5.3,-1.1M915.4,924.9l-2.7,-2.3M915.3,935l-2.6,-3.6M915.2,945l-2.4,-4.9M915.1,955l-2.2,-6.1M914.9,965l-1.9,-7.2M914.8,974.9l-1.6,-8.1M914.6,984.6l-1.2,-8.8M914.4,994.3l-0.8,-9.3M914.2,1003.9l-0.4,-9.6M914,1013.4l0,-9.7M913.8,1022.7l0.4,-9.6M913.6,1032l0.8,-9.3M913.4,1041.2l1.2,-8.8M913.2,1050.2l1.6,-8.1M913.1,1059.2l1.9,-7.2M912.9,1068.1l2.2,-6.1M912.8,1076.9l2.4,-4.9M912.7,1085.7l2.6,-3.6M912.6,1094.4l2.7,-2.3M925.6,925l0.9,-2.5M925.6,935.2l0.8,-4.1M925.6,945.3l0.8,-5.5M925.7,955.4l0.7,-6.8M925.7,965.4l0.6,-8M925.8,975.3l0.5,-9M925.8,985.2l0.4,-9.8M925.9,994.9l0.3,-10.4M925.9,1004.5l0.1,-10.8M926,1013.9l0,-10.9M926.1,1023.3l-0.1,-10.8M926.1,1032.5l-0.3,-10.4M926.2,1041.7l-0.4,-9.8M926.2,1050.7l-0.5,-9M926.3,1059.6l-0.6,-8M926.3,1068.4l-0.7,-6.8M926.4,1077.2l-0.8,-5.5M926.4,1085.9l-0.8,-4.1M926.4,1094.6l-0.9,-2.5M935.9,924.6l4.1,-1.8M936,934.6l3.9,-2.9M936.2,944.5l3.7,-4M936.4,954.4l3.3,-4.9M936.6,964.3l2.9,-5.8M936.8,974.1l2.4,-6.5M937.1,983.8l1.8,-7.1M937.4,993.4l1.2,-7.5M937.7,1003l0.6,-7.8M938,1012.4l0,-7.8M938.3,1021.8l-0.6,-7.8M938.6,1031.1l-1.2,-7.5M938.9,1040.3l-1.8,-7.1M939.2,1049.4l-2.4,-6.5M939.4,1058.5l-2.9,-5.8M939.6,1067.5l-3.3,-4.9M939.8,1076.4l-3.7,-4M940,1085.3l-3.9,-2.9M940.1,1094.2l-4.1,-1.8M947.1,923.9l5.8,-0.4M947.2,933.5l5.5,-0.7M947.4,943l5.1,-0.9M947.7,952.5l4.6,-1.1M948,962.1l4,-1.3M948.3,971.6l3.3,-1.5M948.7,981l2.6,-1.6M949.1,990.5l1.7,-1.7M949.6,1000l0.9,-1.8M950,1009.4l0,-1.8M950.4,1018.8l-0.9,-1.8M950.9,1028.2l-1.7,-1.7M951.3,1037.6l-2.6,-1.6M951.7,1046.9l-3.3,-1.5M952,1056.3l-4,-1.3M952.3,1065.6l-4.6,-1.1M952.6,1074.9l-5.1,-0.9M952.8,1084.2l-5.5,-0.7M952.9,1093.5l-5.8,-0.4M959.4,923.1l5.3,1.2M959.5,932.2l5,1.9M959.7,941.3l4.7,2.5M959.9,950.4l4.2,3.1M960.2,959.6l3.6,3.7M960.5,968.8l3,4.1M960.8,978l2.3,4.5M961.2,987.3l1.6,4.7M961.6,996.6l0.8,4.9M962,1006l0,5M962.4,1015.5l-0.8,4.9M962.8,1025l-1.6,4.7M963.2,1034.5l-2.3,4.5M963.5,1044.1l-3,4.1M963.8,1053.8l-3.6,3.7M964.1,1063.5l-4.2,3.1M964.3,1073.2l-4.7,2.5M964.5,1082.9l-5,1.9M964.6,1092.7l-5.3,1.2M972.7,922.6l2.7,2.3M972.7,931.3l2.6,3.7M972.8,940.1l2.4,5M972.9,948.9l2.1,6.2M973.1,957.8l1.9,7.2M973.2,966.8l1.5,8.1M973.4,975.8l1.2,8.8M973.6,985l0.8,9.4M973.8,994.2l0.4,9.7M974,1003.6l0,9.8M974.2,1013.1l-0.4,9.7M974.4,1022.7l-0.8,9.4M974.6,1032.3l-1.2,8.8M974.8,1042.1l-1.5,8.1M974.9,1052l-1.9,7.2M975.1,1061.9l-2.1,6.2M975.2,1072l-2.4,5M975.3,1082l-2.6,3.7M975.3,1092.1l-2.7,2.3M986.5,922.5l-0.9,2.5M986.4,931.1l-0.9,4.1M986.4,939.8l-0.8,5.5M986.4,948.6l-0.7,6.8M986.3,957.4l-0.6,8M986.3,966.3l-0.5,9M986.2,975.3l-0.4,9.8M986.1,984.5l-0.3,10.4M986.1,993.7l-0.1,10.7M986,1003.1l0,10.9M985.9,1012.5l0.1,10.7M985.9,1022.1l0.3,10.4M985.8,1031.9l0.4,9.8M985.7,1041.7l0.5,9M985.7,1051.6l0.6,8M985.6,1061.6l0.7,6.8M985.6,1071.7l0.8,5.5M985.6,1081.8l0.9,4.1M985.5,1092l0.9,2.5M1000.1,922.8l-4.2,1.8M1000,931.7l-4,2.9M999.8,940.6l-3.7,3.9M999.7,949.5l-3.3,4.9M999.4,958.5l-2.9,5.7M999.2,967.6l-2.4,6.4M998.9,976.7l-1.8,7M998.6,986l-1.3,7.4M998.3,995.2l-0.6,7.7M998,1004.6l0,7.8M997.7,1014.1l0.6,7.7M997.4,1023.6l1.3,7.4M997.1,1033.3l1.8,7M996.8,1043l2.4,6.4M996.6,1052.7l2.9,5.7M996.3,1062.6l3.3,4.9M996.2,1072.5l3.7,3.9M996,1082.4l4,2.9M995.9,1092.4l4.2,1.8M1012.9,923.5l-5.8,0.4M1012.8,932.8l-5.5,0.6M1012.6,942.1l-5.2,0.8M1012.3,951.5l-4.6,1.1M1012,960.8l-4,1.2M1011.7,970.1l-3.3,1.4M1011.3,979.5l-2.6,1.5M1010.9,988.9l-1.7,1.6M1010.4,998.3l-0.9,1.7M1010,1007.7l0,1.7M1009.6,1017.1l0.9,1.7M1009.1,1026.5l1.7,1.6M1008.7,1036l2.6,1.5M1008.3,1045.5l3.3,1.4M1008,1055l4,1.2M1007.7,1064.5l4.6,1.1M1007.4,1074l5.2,0.8M1007.2,1083.5l5.5,0.6M1007.1,1093.1l5.8,0.4M1024.6,924.3l-5.2,-1.2M1024.5,934.1l-5,-1.9M1024.3,943.8l-4.6,-2.6M1024.1,953.6l-4.2,-3.2M1023.8,963.3l-3.6,-3.7M1023.5,972.9l-3,-4.2M1023.2,982.5l-2.3,-4.6M1022.8,992.1l-1.6,-4.8M1022.4,1001.6l-0.8,-5M1022,1011l0,-5.1M1021.6,1020.4l0.8,-5M1021.2,1029.8l1.6,-4.8M1020.8,1039l2.3,-4.6M1020.5,1048.3l3,-4.2M1020.2,1057.5l3.6,-3.7M1019.9,1066.6l4.2,-3.2M1019.7,1075.7l4.6,-2.6M1019.5,1084.8l5,-1.9M1019.4,1093.9l5.2,-1.2M1035.3,924.9l-2.6,-2.3M1035.3,935l-2.5,-3.7M1035.2,945.1l-2.3,-5M1035,955.1l-2.1,-6.2M1034.9,965l-1.8,-7.3M1034.8,974.9l-1.5,-8.2M1034.6,984.7l-1.2,-8.9M1034.4,994.4l-0.8,-9.4M1034.2,1003.9l-0.4,-9.7M1034,1013.4l0,-9.8M1033.8,1022.8l0.4,-9.7M1033.6,1032l0.8,-9.4M1033.4,1041.2l1.2,-8.9M1033.2,1050.3l1.5,-8.2M1033.1,1059.2l1.8,-7.3M1033,1068.1l2.1,-6.2M1032.8,1076.9l2.3,-5M1032.7,1085.7l2.5,-3.7M1032.7,1094.4l2.6,-2.3M1045.5,925l1,-2.5M1045.5,935.2l0.9,-4.1M1045.6,945.3l0.9,-5.5M1045.6,955.4l0.8,-6.8M1045.7,965.4l0.7,-8M1045.7,975.3l0.6,-9M1045.8,985.1l0.4,-9.8M1045.9,994.8l0.3,-10.4M1045.9,1004.4l0.1,-10.7M1046,1013.9l0,-10.8M1046.1,1023.3l-0.1,-10.7M1046.1,1032.5l-0.3,-10.4M1046.2,1041.7l-0.4,-9.8M1046.3,1050.7l-0.6,-9M1046.3,1059.6l-0.7,-8M1046.4,1068.4l-0.8,-6.8M1046.4,1077.2l-0.9,-5.5M1046.5,1085.9l-0.9,-4.1M1046.5,1094.5l-1,-2.5M1055.9,924.6l4.2,-1.8M1056,934.6l4,-2.9M1056.1,944.5l3.7,-3.9M1056.3,954.4l3.4,-4.8M1056.5,964.2l2.9,-5.7M1056.8,974l2.4,-6.4M1057.1,983.7l1.9,-6.9M1057.4,993.3l1.3,-7.3M1057.7,1002.9l0.6,-7.6M1058,1012.3l0,-7.7M1058.3,1021.7l-0.6,-7.6M1058.6,1031l-1.3,-7.3M1058.9,1040.2l-1.9,-6.9M1059.2,1049.4l-2.4,-6.4M1059.5,1058.4l-2.9,-5.7M1059.7,1067.4l-3.4,-4.8M1059.9,1076.4l-3.7,-3.9M1060,1085.3l-4,-2.9M1060.1,1094.2l-4.2,-1.8M1067.1,923.9l5.8,-0.4M1067.2,933.4l5.6,-0.6M1067.4,943l5.2,-0.8M1067.7,952.5l4.7,-1M1068,962l4,-1.1M1068.3,971.5l3.3,-1.3M1068.7,980.9l2.6,-1.4M1069.1,990.4l1.8,-1.5M1069.6,999.8l0.9,-1.5M1070,1009.3l0,-1.6M1070.4,1018.7l-0.9,-1.5M1070.9,1028.1l-1.8,-1.5M1071.3,1037.5l-2.6,-1.4M1071.7,1046.8l-3.3,-1.3M1072,1056.2l-4,-1.1M1072.3,1065.5l-4.7,-1M1072.6,1074.8l-5.2,-0.8M1072.8,1084.2l-5.6,-0.6M1072.9,1093.5l-5.8,-0.4M1079.4,923.1l5.2,1.2M1079.5,932.2l5,1.9M1079.7,941.2l4.6,2.6M1079.9,950.4l4.2,3.2M1080.2,959.5l3.6,3.8M1080.5,968.7l3,4.3M1080.9,977.9l2.3,4.7M1081.2,987.2l1.6,4.9M1081.6,996.5l0.8,5.1M1082,1005.9l0,5.2M1082.4,1015.4l-0.8,5.1M1082.8,1024.9l-1.6,4.9M1083.1,1034.4l-2.3,4.7M1083.5,1044l-3,4.3M1083.8,1053.7l-3.6,3.8M1084.1,1063.4l-4.2,3.2M1084.3,1073.1l-4.6,2.6M1084.5,1082.9l-5,1.9M1084.6,1092.7l-5.2,1.2M1092.7,922.6l2.6,2.3M1092.8,931.3l2.4,3.7M1092.9,940l2.3,5M1093,948.9l2.1,6.2M1093.1,957.8l1.8,7.3M1093.3,966.7l1.5,8.2M1093.4,975.8l1.1,8.9M1093.6,984.9l0.8,9.5M1093.8,994.2l0.4,9.8M1094,1003.6l0,9.9M1094.2,1013l-0.4,9.8M1094.4,1022.6l-0.8,9.5M1094.6,1032.3l-1.1,8.9M1094.7,1042.1l-1.5,8.2M1094.9,1052l-1.8,7.3M1095,1061.9l-2.1,6.2M1095.1,1071.9l-2.3,5M1095.2,1082l-2.4,3.7M1095.3,1092.1l-2.6,2.3M1106.5,922.5l-1,2.5M1106.5,931.1l-1,4.1M1106.5,939.8l-0.9,5.5M1106.4,948.6l-0.8,6.8M1106.4,957.4l-0.7,8M1106.3,966.3l-0.6,9M1106.2,975.4l-0.5,9.8M1106.2,984.5l-0.3,10.4M1106.1,993.7l-0.2,10.7M1106,1003.1l0,10.8M1105.9,1012.6l0.2,10.7M1105.8,1022.2l0.3,10.4M1105.8,1031.9l0.5,9.8M1105.7,1041.7l0.6,9M1105.6,1051.6l0.7,8M1105.6,1061.6l0.8,6.8M1105.5,1071.7l0.9,5.5M1105.5,1081.8l1,4.1M1105.5,1092l1,2.5M1120.1,922.8l-4.3,1.8M1120,931.7l-4.1,2.8M1119.9,940.6l-3.8,3.9M1119.7,949.6l-3.4,4.8M1119.5,958.6l-3,5.6M1119.2,967.7l-2.4,6.3M1118.9,976.8l-1.9,6.9M1118.6,986l-1.3,7.3M1118.3,995.3l-0.6,7.5M1118,1004.7l0,7.6M1117.7,1014.2l0.6,7.5M1117.4,1023.7l1.3,7.3M1117.1,1033.3l1.9,6.9M1116.8,1043l2.4,6.3M1116.5,1052.8l3,5.6M1116.3,1062.6l3.4,4.8M1116.1,1072.5l3.8,3.9M1116,1082.4l4.1,2.8M1115.9,1092.4l4.3,1.8M1132.9,923.6l-5.8,0.3M1132.8,932.9l-5.6,0.5M1132.6,942.2l-5.2,0.7M1132.3,951.5l-4.7,0.9M1132,960.9l-4.1,1.1M1131.7,970.2l-3.4,1.2M1131.3,979.6l-2.6,1.3M1130.9,989l-1.8,1.4M1130.4,998.4l-0.9,1.4M1129.6,1017.2l0.9,1.4M1129.1,1026.7l1.8,1.4M1128.7,1036.1l2.6,1.3M1128.3,1045.6l3.4,1.2M1128,1055.1l4.1,1.1M1127.7,1064.6l4.7,0.9M1127.4,1074.1l5.2,0.7M1127.2,1083.6l5.6,0.5M1127.1,1093.1l5.8,0.3M1144.6,924.3l-5.2,-1.2M1144.5,934.1l-4.9,-2M1144.3,943.9l-4.6,-2.7M1144.1,953.6l-4.1,-3.3M1143.8,963.3l-3.6,-3.9M1143.5,973l-3,-4.4M1143.1,982.6l-2.3,-4.8M1142.8,992.2l-1.6,-5M1142.4,1001.7l-0.8,-5.2M1142,1011.1l0,-5.3M1141.6,1020.5l0.8,-5.2M1141.2,1029.9l1.6,-5M1140.9,1039.1l2.3,-4.8M1140.5,1048.4l3,-4.4M1140.2,1057.5l3.6,-3.9M1139.9,1066.7l4.1,-3.3M1139.7,1075.8l4.6,-2.7M1139.5,1084.8l4.9,-2M1139.4,1093.9l5.2,-1.2M1155.3,924.9l-2.5,-2.3M1155.2,935l-2.4,-3.7M1155.1,945.1l-2.2,-5M1155,955.1l-2,-6.3M1154.9,965.1l-1.7,-7.3M1154.7,974.9l-1.4,-8.2M1154.6,984.7l-1.1,-9M1154.4,994.4l-0.8,-9.5M1154.2,1004l-0.4,-9.8M1154,1013.5l0,-9.9M1153.8,1022.8l0.4,-9.8M1153.6,1032.1l0.8,-9.5M1153.4,1041.2l1.1,-9M1153.3,1050.3l1.4,-8.2M1153.1,1059.3l1.7,-7.3M1153,1068.1l2,-6.3M1152.9,1077l2.2,-5M1152.8,1085.7l2.4,-3.7M1152.7,1094.4l2.5,-2.3M1165.4,925l1.1,-2.5M1165.5,935.2l1.1,-4M1165.5,945.3l1,-5.5M1165.6,955.4l0.9,-6.8M1165.6,965.4l0.8,-8M1165.7,975.3l0.6,-9M1165.8,985.1l0.5,-9.8M1165.8,994.8l0.3,-10.3M1165.9,1004.4l0.2,-10.7M1166,1013.9l0,-10.8M1166.1,1023.3l-0.2,-10.7M1166.2,1032.5l-0.3,-10.3M1166.2,1041.6l-0.5,-9.8M1166.3,1050.7l-0.6,-9M1166.4,1059.6l-0.8,-8M1166.4,1068.4l-0.9,-6.8M1166.5,1077.2l-1,-5.5M1166.5,1085.9l-1.1,-4M1166.6,1094.5l-1.1,-2.5M1175.9,924.6l4.3,-1.8M1176,934.5l4.1,-2.8M1176.1,944.5l3.8,-3.8M1176.3,954.3l3.4,-4.7M1176.5,964.2l3,-5.5M1176.8,973.9l2.5,-6.2M1177,983.6l1.9,-6.8M1177.4,993.3l1.3,-7.2M1177.7,1002.8l0.7,-7.4M1178,1012.3l0,-7.5M1178.3,1021.6l-0.7,-7.4M1178.6,1030.9l-1.3,-7.2M1179,1040.1l-1.9,-6.8M1179.2,1049.3l-2.5,-6.2M1179.5,1058.4l-3,-5.5M1179.7,1067.4l-3.4,-4.7M1179.9,1076.3l-3.8,-3.8M1180,1085.3l-4.1,-2.8M1180.1,1094.2l-4.3,-1.8M1187.1,923.9l5.8,-0.3M1187.2,933.4l5.6,-0.5M1187.4,942.9l5.2,-0.7M1187.7,952.4l4.7,-0.8M1188,961.9l4.1,-1M1188.3,971.4l3.4,-1.1M1188.7,980.8l2.6,-1.2M1189.1,990.3l1.8,-1.3M1189.6,999.7l0.9,-1.3M1190.4,1018.6l-0.9,-1.3M1190.9,1028l-1.8,-1.3M1191.3,1037.4l-2.6,-1.2M1191.7,1046.7l-3.4,-1.1M1192,1056.1l-4.1,-1M1192.3,1065.4l-4.7,-0.8M1192.6,1074.8l-5.2,-0.7M1192.8,1084.1l-5.6,-0.5M1192.9,1093.4l-5.8,-0.3M1199.4,923.1l5.1,1.3M1199.6,932.1l4.9,2M1199.7,941.2l4.6,2.7M1199.9,950.3l4.1,3.4M1200.2,959.4l3.6,4M1200.5,968.6l3,4.4M1200.9,977.8l2.3,4.8M1201.2,987.1l1.5,5.1M1201.6,996.4l0.8,5.3M1202,1005.8l0,5.4M1202.4,1015.3l-0.8,5.3M1202.8,1024.8l-1.5,5.1M1203.1,1034.3l-2.3,4.8M1203.5,1044l-3,4.4M1203.8,1053.6l-3.6,4M1204.1,1063.3l-4.1,3.4M1204.3,1073.1l-4.6,2.7M1204.4,1082.9l-4.9,2M1204.6,1092.7l-5.1,1.3M1212.8,922.6l2.5,2.3M1212.8,931.3l2.3,3.7M1212.9,940l2.2,5.1M1213,948.8l2,6.3M1213.1,957.7l1.7,7.4M1213.3,966.7l1.4,8.3M1213.5,975.7l1.1,9M1213.6,984.9l0.7,9.6M1213.8,994.1l0.4,9.9M1214,1003.5l0,10M1214.2,1013l-0.4,9.9M1214.4,1022.6l-0.7,9.6M1214.5,1032.2l-1.1,9M1214.7,1042l-1.4,8.3M1214.9,1051.9l-1.7,7.4M1215,1061.9l-2,6.3M1215.1,1071.9l-2.2,5.1M1215.2,1082l-2.3,3.7M1215.2,1092.1l-2.5,2.3M1226.6,922.5l-1.2,2.5M1226.6,931.1l-1.1,4M1226.5,939.8l-1,5.5M1226.5,948.6l-0.9,6.8M1226.4,957.4l-0.8,7.9M1226.3,966.4l-0.7,8.9M1226.3,975.4l-0.5,9.7M1226.2,984.5l-0.4,10.3M1226.1,993.7l-0.2,10.7M1226,1003.1l0,10.8M1225.9,1012.6l0.2,10.7M1225.8,1022.2l0.4,10.3M1225.7,1031.9l0.5,9.7M1225.7,1041.7l0.7,8.9M1225.6,1051.6l0.8,7.9M1225.5,1061.6l0.9,6.8M1225.5,1071.7l1,5.5M1225.4,1081.8l1.1,4M1225.4,1092l1.2,2.5M1240.2,922.9l-4.3,1.7M1240.1,931.7l-4.1,2.8M1239.9,940.7l-3.8,3.8M1239.7,949.6l-3.5,4.7M1239.5,958.7l-3,5.5M1239.2,967.7l-2.5,6.2M1239,976.9l-1.9,6.7M1238.7,986.1l-1.3,7.1M1238.3,995.4l-0.7,7.3M1238,1004.8l0,7.4M1237.7,1014.2l0.7,7.3M1237.3,1023.8l1.3,7.1M1237,1033.4l1.9,6.7M1236.8,1043.1l2.5,6.2M1236.5,1052.9l3,5.5M1236.3,1062.7l3.5,4.7M1236.1,1072.6l3.8,3.8M1235.9,1082.5l4.1,2.8M1235.8,1092.4l4.3,1.7M1252.9,923.6l-5.8,0.3M1252.8,932.9l-5.6,0.5M1252.6,942.3l-5.2,0.6M1252.3,951.6l-4.7,0.8M1252,961l-4.1,0.9M1251.7,970.3l-3.4,1M1251.3,979.7l-2.6,1.1M1250.9,989.1l-1.8,1.2M1249.1,1026.8l1.8,1.2M1248.7,1036.2l2.6,1.1M1248.3,1045.7l3.4,1M1248,1055.2l4.1,0.9M1247.7,1064.6l4.7,0.8M1247.4,1074.1l5.2,0.6M1247.2,1083.6l5.6,0.5M1247.1,1093.1l5.8,0.3M1264.6,924.4l-5.1,-1.3M1264.4,934.2l-4.9,-2M1264.3,943.9l-4.5,-2.8M1264,953.7l-4.1,-3.4M1263.8,963.4l-3.5,-4M1263.5,973.1l-2.9,-4.5M1263.1,982.7l-2.3,-4.9M1262.8,992.3l-1.5,-5.2M1262.4,1001.8l-0.8,-5.4M1262,1011.2l0,-5.5M1261.6,1020.6l0.8,-5.4M1261.2,1030l1.5,-5.2M1260.9,1039.2l2.3,-4.9M1260.5,1048.4l2.9,-4.5M1260.2,1057.6l3.5,-4M1260,1066.7l4.1,-3.4M1259.7,1075.8l4.5,-2.8M1259.6,1084.9l4.9,-2M1259.4,1093.9l5.1,-1.3M1275.2,924.9l-2.4,-2.3M1275.1,935l-2.3,-3.8M1275.1,945.1l-2.1,-5.1M1275,955.1l-1.9,-6.3M1274.8,965.1l-1.7,-7.4M1274.7,975l-1.4,-8.3M1274.5,984.8l-1.1,-9.1M1274.4,994.5l-0.7,-9.6M1274.2,1004l-0.4,-9.9M1274,1013.5l0,-10M1273.8,1022.9l0.4,-9.9M1273.6,1032.1l0.7,-9.6M1273.5,1041.3l1.1,-9.1M1273.3,1050.3l1.4,-8.3M1273.2,1059.3l1.7,-7.4M1273,1068.2l1.9,-6.3M1272.9,1077l2.1,-5.1M1272.9,1085.7l2.3,-3.8M1272.8,1094.5l2.4,-2.3M1285.4,925l1.2,-2.5M1285.4,935.2l1.2,-4M1285.5,945.3l1.1,-5.5M1285.5,955.4l1,-6.8M1285.6,965.4l0.9,-7.9M1285.6,975.3l0.7,-8.9M1285.7,985.1l0.5,-9.7M1285.8,994.8l0.4,-10.3M1285.9,1004.4l0.2,-10.6M1286,1013.9l0,-10.8M1286.1,1023.2l-0.2,-10.6M1286.2,1032.5l-0.4,-10.3M1286.3,1041.6l-0.5,-9.7M1286.4,1050.6l-0.7,-8.9M1286.4,1059.6l-0.9,-7.9M1286.5,1068.4l-1,-6.8M1286.5,1077.2l-1.1,-5.5M1286.6,1085.9l-1.2,-4M1286.6,1094.5l-1.2,-2.5M1295.8,924.6l4.4,-1.7M1295.9,934.5l4.2,-2.7M1296.1,944.4l3.9,-3.7M1296.2,954.3l3.5,-4.6M1296.5,964.1l3,-5.4M1296.7,973.9l2.5,-6.1M1297,983.6l1.9,-6.6M1297.3,993.2l1.3,-7M1297.7,1002.7l0.7,-7.3M1298,1012.2l0,-7.3M1298.3,1021.5l-0.7,-7.3M1298.7,1030.8l-1.3,-7M1299,1040.1l-1.9,-6.6M1299.3,1049.2l-2.5,-6.1M1299.5,1058.3l-3,-5.4M1299.8,1067.3l-3.5,-4.6M1299.9,1076.3l-3.9,-3.7M1300.1,1085.2l-4.2,-2.7M1300.2,1094.1l-4.4,-1.7M1307.1,923.8l5.9,-0.3M1307.2,933.3l5.6,-0.4M1307.4,942.8l5.2,-0.6M1307.7,952.3l4.7,-0.7M1308,961.8l4.1,-0.8M1308.3,971.3l3.4,-0.9M1308.7,980.7l2.6,-1M1309.1,990.2l1.8,-1M1310.9,1027.9l-1.8,-1M1311.3,1037.3l-2.6,-1M1311.7,1046.6l-3.4,-0.9M1312,1056l-4.1,-0.8M1312.3,1065.4l-4.7,-0.7M1312.6,1074.7l-5.2,-0.6M1312.8,1084.1l-5.6,-0.4M1312.9,1093.4l-5.9,-0.3M1319.7,923.1l4.5,1.2M1319.8,932.2l4.3,1.9M1320,941.3l4,2.5M1320.2,950.4l3.6,3.1M1320.4,959.6l3.1,3.7M1320.7,968.8l2.6,4.1M1321,978l2,4.5M1321.3,987.3l1.4,4.7M1321.7,996.6l0.7,4.9M1322,1006l0,5M1322.3,1015.5l-0.7,4.9M1322.7,1025l-1.4,4.7M1323,1034.5l-2,4.5M1323.3,1044.1l-2.6,4.1M1323.6,1053.8l-3.1,3.7M1323.8,1063.5l-3.6,3.1M1324,1073.2l-4,2.5M1324.2,1082.9l-4.3,1.9M1324.3,1092.7l-4.5,1.2M1333.1,922.8l1.8,1.8M1333.1,931.7l1.7,3M1333.2,940.6l1.6,4M1333.3,949.5l1.5,5M1333.4,958.5l1.3,5.8M1333.5,967.6l1.1,6.5M1333.6,976.7l0.8,7.1M1333.7,985.9l0.6,7.5M1333.9,995.2l0.3,7.8M1334,1004.6l0,7.9M1334.1,1014l-0.3,7.8M1334.3,1023.6l-0.6,7.5M1334.4,1033.2l-0.8,7.1M1334.5,1042.9l-1.1,6.5M1334.6,1052.7l-1.3,5.8M1334.7,1062.5l-1.5,5M1334.8,1072.4l-1.6,4M1334.9,1082.4l-1.7,3M1334.9,1092.4l-1.8,1.8M1346.4,922.9l-0.9,1.7M1346.4,931.8l-0.8,2.7M1346.4,940.7l-0.8,3.7M1346.3,949.7l-0.7,4.5M1346.3,958.7l-0.6,5.3M1346.2,967.8l-0.5,6M1346.2,977l-0.4,6.5M1346.1,986.2l-0.3,6.9M1346.1,995.5l-0.1,7.1M1346,1004.9l0,7.2M1345.9,1014.3l0.1,7.1M1345.9,1023.9l0.3,6.9M1345.8,1033.5l0.4,6.5M1345.8,1043.2l0.5,6M1345.7,1052.9l0.6,5.3M1345.7,1062.7l0.7,4.5M1345.6,1072.6l0.8,3.7M1345.6,1082.5l0.8,2.7M1345.6,1092.4l0.9,1.7M1359.2,923.2l-2.5,1M1359.2,932.4l-2.4,1.5M1359.1,941.5l-2.2,2.1M1359,950.7l-2,2.6M1358.9,959.9l-1.7,3M1358.7,969.1l-1.4,3.4M1358.6,978.4l-1.1,3.7M1358.4,987.7l-0.7,3.9M1358.2,997.1l-0.4,4M1358,1006.5l0,4.1M1357.8,1015.9l0.4,4M1357.6,1025.4l0.7,3.9M1357.4,1034.9l1.1,3.7M1357.3,1044.5l1.4,3.4M1357.1,1054.1l1.7,3M1357,1063.7l2,2.6M1356.9,1073.4l2.2,2.1M1356.8,1083.1l2.4,1.5M1356.8,1092.8l2.5,1M1371.3,923.7l-2.7,0.1M1371.3,933.1l-2.5,0.2M1371.2,942.4l-2.4,0.2M1371.1,951.8l-2.1,0.3M1370.9,961.2l-1.9,0.3M1370.8,970.6l-1.5,0.4M1369.2,1046l1.5,0.4M1369.1,1055.4l1.9,0.3M1368.9,1064.9l2.1,0.3M1368.8,1074.3l2.4,0.2M1368.7,1083.8l2.5,0.2M1368.7,1093.2l2.7,0.1M1382.9,923.9l-1.7,-0.5M1382.8,933.5l-1.7,-0.7M1382.8,943.1l-1.5,-1M1382.7,952.6l-1.4,-1.2M1382.6,962.1l-1.2,-1.4M1382.5,971.6l-1,-1.6M1382.4,981.1l-0.8,-1.8M1382.3,990.6l-0.5,-1.9M1382.1,1000l-0.3,-1.9M1382,1009.5l0,-2M1381.9,1018.9l0.3,-1.9M1381.7,1028.3l0.5,-1.9M1381.6,1037.6l0.8,-1.8M1381.5,1047l1,-1.6M1381.4,1056.3l1.2,-1.4M1381.3,1065.6l1.4,-1.2M1381.2,1074.9l1.5,-1M1381.2,1084.2l1.7,-0.7M1381.1,1093.5l1.7,-0.5M1394.2,952.7l-0.4,-1.5M1394.2,962.3l-0.4,-1.8M1394.2,971.8l-0.3,-2M1394.1,981.3l-0.2,-2.2M1394.1,990.8l-0.2,-2.3M1394,1000.3l-0.1,-2.4M1394,1009.7l0,-2.4M1394,1019.1l0.1,-2.4M1393.9,1028.5l0.2,-2.3M1393.9,1037.8l0.2,-2.2M1393.8,1047.2l0.3,-2M1393.8,1056.5l0.4,-1.8M1393.8,1065.8l0.4,-1.5" stroke="#000" stroke-width="1.8" stroke-opacity=".2" fill="none"/><path d="M653.9,990.5V936.5M655.9,1026.5V1072.5M713.3,990.5V936.5M715.3,1026.5V1072.5M772.7,990.5V936.5M774.7,1026.5V1072.5M832.1,990.5V936.5M834.1,1026.5V1072.5M891.5,990.5V936.5M893.5,1026.5V1072.5M950.9,990.5V936.5M952.9,1026.5V1072.5M1010.3,990.5V936.5M1012.3,1026.5V1072.5M1069.7,990.5V936.5M1071.7,1026.5V1072.5M1129.1,990.5V936.5M1131.1,1026.5V1072.5M1188.5,990.5V950M1190.5,1026.5V1061M1247.9,990.5V963.5M1249.9,1026.5V1049.5M1307.3,990.5V974.3M1309.3,1026.5V1040.3" stroke="#000" stroke-width="1.7" stroke-opacity=".4" fill="none"/></g>
<path d="M640.4,998a10.5,10.5 0 0 0 0,21z" fill="#c9c3d2"/><path d="M640.4,998a10.5,10.5 0 0 1 0,21z" fill="#ef6a3c"/><circle cx="640.4" cy="1008.5" r="10.3" fill="none" stroke="#111" stroke-width="3.8"/><path d="M640.4,998v21" stroke="#111" stroke-width="2.6"/><path d="M699.8,998a10.5,10.5 0 0 0 0,21z" fill="#c9c3d2"/><path d="M699.8,998a10.5,10.5 0 0 1 0,21z" fill="#ef6a3c"/><circle cx="699.8" cy="1008.5" r="10.3" fill="none" stroke="#111" stroke-width="3.8"/><path d="M699.8,998v21" stroke="#111" stroke-width="2.6"/><path d="M759.2,998a10.5,10.5 0 0 0 0,21z" fill="#c9c3d2"/><path d="M759.2,998a10.5,10.5 0 0 1 0,21z" fill="#ef6a3c"/><circle cx="759.2" cy="1008.5" r="10.3" fill="none" stroke="#111" stroke-width="3.8"/><path d="M759.2,998v21" stroke="#111" stroke-width="2.6"/><path d="M818.6,998a10.5,10.5 0 0 0 0,21z" fill="#c9c3d2"/><path d="M818.6,998a10.5,10.5 0 0 1 0,21z" fill="#ef6a3c"/><circle cx="818.6" cy="1008.5" r="10.3" fill="none" stroke="#111" stroke-width="3.8"/><path d="M818.6,998v21" stroke="#111" stroke-width="2.6"/><path d="M878,998a10.5,10.5 0 0 0 0,21z" fill="#c9c3d2"/><path d="M878,998a10.5,10.5 0 0 1 0,21z" fill="#ef6a3c"/><circle cx="878" cy="1008.5" r="10.3" fill="none" stroke="#111" stroke-width="3.8"/><path d="M878,998v21" stroke="#111" stroke-width="2.6"/><path d="M937.4,998a10.5,10.5 0 0 0 0,21z" fill="#c9c3d2"/><path d="M937.4,998a10.5,10.5 0 0 1 0,21z" fill="#ef6a3c"/><circle cx="937.4" cy="1008.5" r="10.3" fill="none" stroke="#111" stroke-width="3.8"/><path d="M937.4,998v21" stroke="#111" stroke-width="2.6"/><path d="M996.8,998a10.5,10.5 0 0 0 0,21z" fill="#c9c3d2"/><path d="M996.8,998a10.5,10.5 0 0 1 0,21z" fill="#ef6a3c"/><circle cx="996.8" cy="1008.5" r="10.3" fill="none" stroke="#111" stroke-width="3.8"/><path d="M996.8,998v21" stroke="#111" stroke-width="2.6"/><path d="M1056.2,998a10.5,10.5 0 0 0 0,21z" fill="#c9c3d2"/><path d="M1056.2,998a10.5,10.5 0 0 1 0,21z" fill="#ef6a3c"/><circle cx="1056.2" cy="1008.5" r="10.3" fill="none" stroke="#111" stroke-width="3.8"/><path d="M1056.2,998v21" stroke="#111" stroke-width="2.6"/><path d="M1115.6,998a10.5,10.5 0 0 0 0,21z" fill="#c9c3d2"/><path d="M1115.6,998a10.5,10.5 0 0 1 0,21z" fill="#ef6a3c"/><circle cx="1115.6" cy="1008.5" r="10.3" fill="none" stroke="#111" stroke-width="3.8"/><path d="M1115.6,998v21" stroke="#111" stroke-width="2.6"/><path d="M1175,998a10.5,10.5 0 0 0 0,21z" fill="#c9c3d2"/><path d="M1175,998a10.5,10.5 0 0 1 0,21z" fill="#ef6a3c"/><circle cx="1175" cy="1008.5" r="10.3" fill="none" stroke="#111" stroke-width="3.8"/><path d="M1175,998v21" stroke="#111" stroke-width="2.6"/><path d="M1234.4,998a10.5,10.5 0 0 0 0,21z" fill="#c9c3d2"/><path d="M1234.4,998a10.5,10.5 0 0 1 0,21z" fill="#ef6a3c"/><circle cx="1234.4" cy="1008.5" r="10.3" fill="none" stroke="#111" stroke-width="3.8"/><path d="M1234.4,998v21" stroke="#111" stroke-width="2.6"/><path d="M1293.8,998a10.5,10.5 0 0 0 0,21z" fill="#c9c3d2"/><path d="M1293.8,998a10.5,10.5 0 0 1 0,21z" fill="#ef6a3c"/><circle cx="1293.8" cy="1008.5" r="10.3" fill="none" stroke="#111" stroke-width="3.8"/><path d="M1293.8,998v21" stroke="#111" stroke-width="2.6"/>
<rect x="46.6" y="909.6" width="1980.8" height="196.3" rx="4" fill="none" stroke="#0c0c14" stroke-width="4.2"/>
<text x="55" y="963" font-size="51" fill="#fff" textLength="66" lengthAdjust="spacingAndGlyphs">(D)</text>
<text x="1677" y="967" font-size="49" fill="#161616" textLength="234" lengthAdjust="spacingAndGlyphs">FEC Mode</text>
<text x="1719" y="1085" font-size="49" fill="#10182c" textLength="155" lengthAdjust="spacingAndGlyphs">V<tspan font-size="33" dy="9">D</tspan><tspan dy="-9">=3 V</tspan></text>
<g filter="url(#jet)"><rect x="57.6" y="1123" width="1808.4" height="32.8" fill="url(#cb1123)"/></g>
<rect x="57.6" y="1123" width="1808.4" height="32.8" fill="none" stroke="#1a1a2a" stroke-opacity=".75" stroke-width="2"/>
<text class="dv" transform="translate(59.4,1180) scale(2.45,1)" font-size="24.5" text-anchor="middle" fill="#111">0</text>
<text class="dv" transform="translate(395.9,1180) scale(2.45,1)" font-size="24.5" text-anchor="middle" fill="#111">0.2</text>
<text class="dv" transform="translate(732.4,1180) scale(2.45,1)" font-size="24.5" text-anchor="middle" fill="#111">0.4</text>
<text class="dv" transform="translate(1068.9,1180) scale(2.45,1)" font-size="24.5" text-anchor="middle" fill="#111">0.6</text>
<text class="dv" transform="translate(1405.4,1180) scale(2.45,1)" font-size="24.5" text-anchor="middle" fill="#111">0.8</text>
<text class="dv" transform="translate(1741.9,1180) scale(2.45,1)" font-size="24.5" text-anchor="middle" fill="#111">1</text>
<path d="M395.9,1123v7M395.9,1155.8v-7M732.4,1123v7M732.4,1155.8v-7M1068.9,1123v7M1068.9,1155.8v-7M1405.4,1123v7M1405.4,1155.8v-7M1741.9,1123v7M1741.9,1155.8v-7" stroke="#0a1410" stroke-width="4.6" fill="none"/>
<text x="1887" y="1155.8" font-size="46" fill="#1a1a1a" textLength="65" lengthAdjust="spacingAndGlyphs">nM</text>
<g filter="url(#jet)"><g clip-path="url(#cpB)"><rect x="45" y="315" width="1985" height="198.60000000000002" fill="url(#loB)"/><g mask="url(#mB)"><rect x="45" y="315" width="1985" height="198.60000000000002" fill="url(#hiB)"/><g filter="url(#b7)"><path d="M574,295L574,295C569.3,301.7 553,322.2 546,335C539,347.8 534.5,361.2 532,372C529.5,382.8 529.3,391.2 531,400C532.7,408.8 536.3,418.3 542,425C547.7,431.7 556.3,436.5 565,440C573.7,443.5 584.5,445.7 594,446C603.5,446.3 614.3,444.7 622,442C629.7,439.3 635.3,435.3 640,430C644.7,424.7 647.8,418.3 650,410C652.2,401.7 652,390 653,380C654,370 654.5,359.2 656,350C657.5,340.8 660,334.2 662,325C664,315.8 667,300 668,295Z" fill="#d0d0d0"/></g></g></g></g>
<g clip-path="url(#cpB)"><path d="M663.2,330l-2.5,-0.3M663.2,339.5l-2.3,-0.5M663.1,349l-2.2,-0.7M663,358.5l-2,-0.9M662.9,368l-1.7,-1.1M662.7,377.5l-1.4,-1.2M662.5,387l-1.1,-1.3M662.4,396.4l-0.7,-1.4M661.6,434.1l0.7,-1.4M661.5,443.5l1.1,-1.3M661.3,452.9l1.4,-1.2M661.1,462.2l1.7,-1.1M661,471.6l2,-0.9M660.9,480.9l2.2,-0.7M660.8,490.2l2.3,-0.5M660.8,499.5l2.5,-0.3M675.5,330.7l-3,-1.8M675.5,340.7l-2.9,-2.9M675.4,350.6l-2.7,-3.9M675.2,360.5l-2.4,-4.8M675.1,370.3l-2.1,-5.7M674.9,380.1l-1.8,-6.4M674.7,389.8l-1.4,-7M674.5,399.5l-0.9,-7.4M674.2,409l-0.5,-7.7M674,418.5l0,-7.7M673.8,427.8l0.5,-7.7M673.5,437.1l0.9,-7.4M673.3,446.3l1.4,-7M673.1,455.5l1.8,-6.4M672.9,464.5l2.1,-5.7M672.8,473.5l2.4,-4.8M672.6,482.5l2.7,-3.9M672.5,491.4l2.9,-2.9M672.5,500.3l3,-1.8M686,331l0,-2.3M686,341.1l0,-3.7M686,351.2l0,-5M686,361.2l0,-6.3M686,371.2l0,-7.4M686,381.1l0,-8.3M686,390.8l0,-9M686,400.5l0,-9.6M686,410.1l0,-9.9M686,419.6l0,-10M686,429l0,-9.9M686,438.2l0,-9.6M686,447.4l0,-9M686,456.4l0,-8.3M686,465.4l0,-7.4M686,474.3l0,-6.3M686,483.1l0,-5M686,491.8l0,-3.7M686,500.5l0,-2.3M696.4,330.7l3.2,-1.8M696.5,340.7l3,-3M696.6,350.7l2.8,-4.1M696.7,360.6l2.5,-5M696.9,370.5l2.2,-5.9M697.1,380.3l1.8,-6.7M697.3,390l1.4,-7.3M697.5,399.6l1,-7.7M697.8,409.2l0.5,-8M698,418.6l0,-8.1M698.2,428l-0.5,-8M698.5,437.3l-1,-7.7M698.7,446.5l-1.4,-7.3M698.9,455.6l-1.8,-6.7M699.1,464.7l-2.2,-5.9M699.3,473.6l-2.5,-5M699.4,482.6l-2.8,-4.1M699.5,491.4l-3,-3M699.6,500.3l-3.2,-1.8M707.4,330.2l5.1,-0.7M707.6,339.8l4.9,-1.1M707.7,349.4l4.5,-1.5M708,359l4.1,-1.9M708.2,368.6l3.6,-2.2M708.5,378.2l2.9,-2.5M708.9,387.7l2.3,-2.7M709.2,397.2l1.5,-2.9M709.6,406.7l0.8,-3M710,416.1l0,-3M710.4,425.5l-0.8,-3M710.8,434.9l-1.5,-2.9M711.1,444.2l-2.3,-2.7M711.5,453.5l-2.9,-2.5M711.8,462.8l-3.6,-2.2M712,472.1l-4.1,-1.9M712.3,481.3l-4.5,-1.5M712.4,490.5l-4.9,-1.1M712.6,499.7l-5.1,-0.7M719.5,329.5l5.1,0.7M719.6,338.6l4.8,1.2M719.8,347.8l4.5,1.6M720,357.1l4.1,2M720.2,366.3l3.5,2.4M720.5,375.6l2.9,2.7M720.9,384.9l2.2,2.9M721.2,394.2l1.5,3.1M721.6,403.6l0.8,3.2M722,413l0,3.2M722.4,422.4l-0.8,3.2M722.8,431.9l-1.5,3.1M723.1,441.4l-2.2,2.9M723.5,450.9l-2.9,2.7M723.8,460.5l-3.5,2.4M724,470.1l-4.1,2M724.2,479.7l-4.5,1.6M724.4,489.4l-4.8,1.2M724.5,499l-5.1,0.7M732.5,328.9l3.1,1.9M732.5,337.7l2.9,3M732.6,346.6l2.7,4.1M732.8,355.5l2.4,5.1M732.9,364.5l2.1,6M733.1,373.5l1.8,6.8M733.3,382.6l1.4,7.4M733.5,391.8l0.9,7.9M733.8,401.1l0.5,8.1M734,410.5l0,8.2M734.2,420l-0.5,8.1M734.5,429.5l-0.9,7.9M734.7,439.2l-1.4,7.4M734.9,448.9l-1.8,6.8M735.1,458.7l-2.1,6M735.2,468.5l-2.4,5.1M735.4,478.5l-2.7,4.1M735.5,488.4l-2.9,3M735.5,498.4l-3.1,1.9M746.1,328.7l-0.1,2.3M746.1,337.4l-0.1,3.7M746.1,346.1l-0.1,5M746.1,354.9l-0.1,6.3M746,363.8l-0.1,7.3M746,372.8l-0.1,8.3M746,381.8l-0.1,9M746,391l0,9.6M746,400.2l0,9.9M746,409.6l0,10M746,419.1l0,9.9M746,428.7l0,9.6M746,438.4l0.1,9M746,448.1l0.1,8.3M746,458l0.1,7.3M745.9,468l0.1,6.3M745.9,478l0.1,5M745.9,488.1l0.1,3.7M745.9,498.2l0.1,2.3M759.6,328.9l-3.3,1.8M759.6,337.8l-3.1,2.9M759.5,346.7l-2.9,4M759.3,355.6l-2.6,4.9M759.1,364.6l-2.3,5.8M758.9,373.7l-1.9,6.5M758.7,382.8l-1.5,7.1M758.5,392l-1,7.6M758.3,401.3l-0.5,7.8M758,410.7l0,7.9M757.7,420.1l0.5,7.8M757.5,429.7l1,7.6M757.3,439.3l1.5,7.1M757.1,449l1.9,6.5M756.9,458.8l2.3,5.8M756.7,468.6l2.6,4.9M756.5,478.6l2.9,4M756.4,488.5l3.1,2.9M756.4,498.5l3.3,1.8M772.6,329.5l-5.2,0.6M772.5,338.7l-4.9,1M772.3,348l-4.6,1.4M772.1,357.2l-4.1,1.7M771.8,366.5l-3.6,2M771.5,375.8l-3,2.3M771.1,385.1l-2.3,2.5M770.8,394.5l-1.6,2.6M770.4,403.8l-0.8,2.7M770,413.2l0,2.7M769.6,422.7l0.8,2.7M769.2,432.1l1.6,2.6M768.9,441.6l2.3,2.5M768.5,451.1l3,2.3M768.2,460.7l3.6,2M767.9,470.3l4.1,1.7M767.7,479.9l4.6,1.4M767.5,489.5l4.9,1M767.4,499.1l5.2,0.6M784.5,330.2l-5,-0.8M784.4,339.9l-4.8,-1.3M784.2,349.5l-4.5,-1.8M784,359.2l-4,-2.2M783.7,368.8l-3.5,-2.6M783.4,378.4l-2.9,-2.9M783.1,387.9l-2.2,-3.1M782.8,397.4l-1.5,-3.3M782.4,406.9l-0.8,-3.5M782,416.3l0,-3.5M781.6,425.7l0.8,-3.5M781.2,435.1l1.5,-3.3M780.9,444.4l2.2,-3.1M780.6,453.7l2.9,-2.9M780.3,463l3.5,-2.6M780,472.2l4,-2.2M779.8,481.4l4.5,-1.8M779.6,490.6l4.8,-1.3M779.5,499.8l5,-0.8M795.5,330.8l-2.9,-1.9M795.4,340.8l-2.8,-3.1M795.3,350.8l-2.6,-4.2M795.2,360.7l-2.4,-5.2M795,370.6l-2,-6.1M794.8,380.4l-1.7,-6.9M794.7,390.1l-1.3,-7.5M794.4,399.8l-0.9,-8M794.2,409.3l-0.4,-8.3M794,418.8l0,-8.4M793.8,428.2l0.4,-8.3M793.6,437.4l0.9,-8M793.3,446.6l1.3,-7.5M793.2,455.7l1.7,-6.9M793,464.8l2,-6.1M792.8,473.7l2.4,-5.2M792.7,482.6l2.6,-4.2M792.6,491.5l2.8,-3.1M792.5,500.3l2.9,-1.9M805.9,331l0.3,-2.3M805.9,341.1l0.3,-3.7M805.9,351.2l0.3,-5M805.9,361.2l0.2,-6.3M805.9,371.2l0.2,-7.3M805.9,381.1l0.2,-8.3M805.9,390.8l0.1,-9M806,400.5l0.1,-9.5M806,410.1l0,-9.9M806,419.6l0,-10M806,429l0,-9.9M806,438.2l-0.1,-9.5M806.1,447.4l-0.1,-9M806.1,456.4l-0.2,-8.3M806.1,465.4l-0.2,-7.3M806.1,474.2l-0.2,-6.3M806.1,483.1l-0.3,-5M806.1,491.8l-0.3,-3.7M806.1,500.5l-0.3,-2.3M816.3,330.7l3.4,-1.8M816.4,340.7l3.2,-2.9M816.5,350.6l3,-3.9M816.6,360.5l2.7,-4.8M816.8,370.3l2.4,-5.7M817,380.1l2,-6.4M817.2,389.8l1.5,-7M817.5,399.5l1,-7.4M817.7,409l0.5,-7.6M818,418.5l0,-7.7M818.3,427.8l-0.5,-7.6M818.5,437.1l-1,-7.4M818.8,446.3l-1.5,-7M819,455.5l-2,-6.4M819.2,464.5l-2.4,-5.7M819.4,473.5l-2.7,-4.8M819.5,482.5l-3,-3.9M819.6,491.4l-3.2,-2.9M819.7,500.3l-3.4,-1.8M827.4,330.1l5.2,-0.6M827.5,339.7l5,-0.9M827.7,349.3l4.6,-1.2M827.9,358.9l4.2,-1.6M828.2,368.4l3.6,-1.8M828.5,377.9l3,-2.1M828.8,387.5l2.3,-2.2M829.2,396.9l1.6,-2.4M829.6,406.4l0.8,-2.5M830,415.8l0,-2.5M830.4,425.2l-0.8,-2.5M830.8,434.6l-1.6,-2.4M831.2,444l-2.3,-2.2M831.5,453.3l-3,-2.1M831.8,462.6l-3.6,-1.8M832.1,471.9l-4.2,-1.6M832.3,481.2l-4.6,-1.2M832.5,490.4l-5,-0.9M832.6,499.7l-5.2,-0.6M839.5,329.4l5,0.9M839.6,338.5l4.7,1.4M839.8,347.7l4.4,1.9M840,356.9l4,2.3M840.3,366.1l3.5,2.7M840.6,375.4l2.9,3.1M840.9,384.7l2.2,3.4M841.3,394l1.5,3.6M841.6,403.3l0.8,3.7M842,412.7l0,3.7M842.4,422.2l-0.8,3.7M842.7,431.7l-1.5,3.6M843.1,441.2l-2.2,3.4M843.4,450.7l-2.9,3.1M843.7,460.3l-3.5,2.7M844,470l-4,2.3M844.2,479.6l-4.4,1.9M844.4,489.3l-4.7,1.4M844.5,499l-5,0.9M852.6,328.9l2.8,1.9M852.7,337.7l2.7,3.1M852.7,346.5l2.5,4.3M852.9,355.4l2.3,5.3M853,364.4l2,6.2M853.2,373.4l1.6,7M853.4,382.5l1.3,7.7M853.6,391.7l0.9,8.1M853.8,401l0.4,8.4M854,410.3l0,8.5M854.2,419.8l-0.4,8.4M854.4,429.4l-0.9,8.1M854.6,439l-1.3,7.7M854.8,448.8l-1.6,7M855,458.6l-2,6.2M855.1,468.5l-2.3,5.3M855.3,478.4l-2.5,4.3M855.3,488.4l-2.7,3.1M855.4,498.4l-2.8,1.9M866.2,328.7l-0.4,2.3M866.2,337.4l-0.4,3.7M866.2,346.2l-0.4,5M866.2,355l-0.3,6.2M866.1,363.8l-0.3,7.3M866.1,372.8l-0.2,8.2M866.1,381.8l-0.2,9M866.1,391l-0.1,9.5M866,400.3l-0.1,9.9M866,409.6l0,10M866,419.1l0.1,9.9M865.9,428.7l0.1,9.5M865.9,438.4l0.2,9M865.9,448.2l0.2,8.2M865.9,458l0.3,7.3M865.8,468l0.3,6.2M865.8,478l0.4,5M865.8,488.1l0.4,3.7M865.8,498.2l0.4,2.3M879.8,329l-3.5,1.7M879.7,337.8l-3.3,2.8M879.6,346.8l-3.1,3.8M879.4,355.7l-2.8,4.7M879.2,364.7l-2.4,5.6M879,373.8l-2,6.3M878.8,382.9l-1.6,6.8M878.5,392.1l-1.1,7.2M878.3,401.4l-0.5,7.5M878,410.8l0,7.6M877.7,420.3l0.5,7.5M877.5,429.8l1.1,7.2M877.2,439.4l1.6,6.8M877,449.1l2,6.3M876.8,458.9l2.4,5.6M876.6,468.8l2.8,4.7M876.4,478.6l3.1,3.8M876.3,488.6l3.3,2.8M876.2,498.5l3.5,1.7M892.6,329.6l-5.2,0.5M892.5,338.8l-5,0.8M892.3,348.1l-4.6,1.1M892.1,357.4l-4.2,1.4M891.8,366.7l-3.6,1.6M891.5,376l-3,1.8M891.2,385.3l-2.3,2M890.8,394.7l-1.6,2.1M890.4,404.1l-0.8,2.2M890,413.5l0,2.2M889.6,422.9l0.8,2.2M889.2,432.4l1.6,2.1M888.8,441.9l2.3,2M888.5,451.4l3,1.8M888.2,460.9l3.6,1.6M887.9,470.4l4.2,1.4M887.7,480l4.6,1.1M887.5,489.5l5,0.8M887.4,499.1l5.2,0.5M904.5,330.3l-4.9,-0.9M904.3,340l-4.7,-1.5M904.2,349.7l-4.4,-2M904,359.3l-3.9,-2.5M903.7,369l-3.4,-2.9M903.4,378.6l-2.8,-3.3M903.1,388.1l-2.2,-3.6M902.7,397.7l-1.5,-3.8M902.4,407.1l-0.7,-3.9M902,416.6l0,-4M901.6,426l0.7,-3.9M901.3,435.3l1.5,-3.8M900.9,444.7l2.2,-3.6M900.6,453.9l2.8,-3.3M900.3,463.2l3.4,-2.9M900,472.4l3.9,-2.5M899.8,481.5l4.4,-2M899.7,490.7l4.7,-1.5M899.5,499.8l4.9,-0.9M915.3,330.8l-2.7,-2M915.3,340.8l-2.6,-3.2M915.2,350.8l-2.4,-4.3M915.1,360.8l-2.2,-5.4M914.9,370.7l-1.9,-6.3M914.8,380.5l-1.6,-7.1M914.6,390.2l-1.2,-7.8M914.4,399.9l-0.8,-8.3M914.2,409.5l-0.4,-8.5M914,418.9l0,-8.6M913.8,428.3l0.4,-8.5M913.6,437.6l0.8,-8.3M913.4,446.8l1.2,-7.8M913.2,455.9l1.6,-7.1M913.1,464.9l1.9,-6.3M912.9,473.8l2.2,-5.4M912.8,482.7l2.4,-4.3M912.7,491.6l2.6,-3.2M912.7,500.4l2.7,-2M925.7,331l0.6,-2.3M925.7,341.1l0.5,-3.7M925.7,351.2l0.5,-5M925.8,361.2l0.5,-6.2M925.8,371.2l0.4,-7.3M925.8,381l0.3,-8.2M925.9,390.8l0.3,-9M925.9,400.5l0.2,-9.5M926,410.1l0.1,-9.8M926,419.6l0,-9.9M926,428.9l-0.1,-9.8M926.1,438.2l-0.2,-9.5M926.1,447.3l-0.3,-9M926.2,456.4l-0.3,-8.2M926.2,465.4l-0.4,-7.3M926.2,474.2l-0.5,-6.2M926.3,483l-0.5,-5M926.3,491.8l-0.5,-3.7M926.3,500.5l-0.6,-2.3M936.2,330.7l3.6,-1.7M936.3,340.6l3.4,-2.7M936.4,350.5l3.2,-3.7M936.6,360.4l2.9,-4.6M936.7,370.2l2.5,-5.4M937,380l2.1,-6.1M937.2,389.7l1.6,-6.7M937.5,399.3l1.1,-7.1M937.7,408.8l0.6,-7.3M938,418.3l0,-7.4M938.3,427.7l-0.6,-7.3M938.5,437l-1.1,-7.1M938.8,446.2l-1.6,-6.7M939,455.3l-2.1,-6.1M939.3,464.4l-2.5,-5.4M939.4,473.4l-2.9,-4.6M939.6,482.4l-3.2,-3.7M939.7,491.3l-3.4,-2.7M939.8,500.2l-3.6,-1.7M947.4,330l5.3,-0.4M947.5,339.6l5,-0.7M947.7,349.2l4.7,-1M947.9,358.7l4.2,-1.2M948.2,368.2l3.7,-1.4M948.5,377.7l3,-1.6M948.8,387.2l2.3,-1.8M949.2,396.7l1.6,-1.9M949.6,406.2l0.8,-1.9M950,415.6l0,-2M950.4,425l-0.8,-1.9M950.8,434.4l-1.6,-1.9M951.2,443.7l-2.3,-1.8M951.5,453.1l-3,-1.6M951.8,462.4l-3.7,-1.4M952.1,471.7l-4.2,-1.2M952.3,481l-4.7,-1M952.5,490.3l-5,-0.7M952.6,499.6l-5.3,-0.4M959.6,329.3l4.9,1M959.7,338.5l4.6,1.6M959.8,347.6l4.3,2.1M960.1,356.8l3.9,2.6M960.3,365.9l3.4,3.1M960.6,375.2l2.8,3.5M960.9,384.4l2.2,3.8M961.3,393.7l1.5,4M961.6,403.1l0.7,4.2M962,412.5l0,4.2M962.4,421.9l-0.7,4.2M962.7,431.4l-1.5,4M963.1,441l-2.2,3.8M963.4,450.5l-2.8,3.5M963.7,460.1l-3.4,3.1M963.9,469.8l-3.9,2.6M964.2,479.5l-4.3,2.1M964.3,489.2l-4.6,1.6M964.4,498.9l-4.9,1M972.7,328.8l2.6,2M972.8,337.6l2.5,3.2M972.9,346.5l2.3,4.4M973,355.3l2.1,5.5M973.1,364.3l1.8,6.4M973.3,373.3l1.5,7.3M973.4,382.4l1.1,7.9M973.6,391.6l0.8,8.4M973.8,400.8l0.4,8.7M974,410.2l0,8.8M974.2,419.7l-0.4,8.7M974.4,429.2l-0.8,8.4M974.6,438.9l-1.1,7.9M974.7,448.7l-1.5,7.3M974.9,458.5l-1.8,6.4M975,468.4l-2.1,5.5M975.1,478.3l-2.3,4.4M975.2,488.3l-2.5,3.2M975.3,498.4l-2.6,2M986.4,328.7l-0.7,2.3M986.3,337.4l-0.7,3.7M986.3,346.2l-0.6,5M986.3,355l-0.6,6.2M986.2,363.9l-0.5,7.3M986.2,372.8l-0.4,8.2M986.2,381.9l-0.3,8.9M986.1,391l-0.2,9.5M986.1,400.3l-0.1,9.8M986,409.6l0,9.9M985.9,419.1l0.1,9.8M985.9,428.7l0.2,9.5M985.8,438.4l0.3,8.9M985.8,448.2l0.4,8.2M985.8,458.1l0.5,7.3M985.7,468l0.6,6.2M985.7,478l0.6,5M985.7,488.1l0.7,3.7M985.6,498.3l0.7,2.3M999.9,329l-3.7,1.6M999.8,337.9l-3.5,2.7M999.6,346.8l-3.3,3.6M999.5,355.8l-3,4.5M999.3,364.9l-2.6,5.3M999.1,373.9l-2.1,6M998.8,383.1l-1.6,6.5M998.6,392.3l-1.1,6.9M998.3,401.6l-0.6,7.1M998,411l0,7.2M997.7,420.5l0.6,7.1M997.4,430l1.1,6.9M997.2,439.6l1.6,6.5M996.9,449.3l2.1,6M996.7,459.1l2.6,5.3M996.5,468.9l3,4.5M996.4,478.7l3.3,3.6M996.2,488.6l3.5,2.7M996.1,498.6l3.7,1.6M1012.6,329.6l-5.3,0.4M1012.5,338.9l-5,0.6M1012.3,348.2l-4.7,0.9M1012.1,357.5l-4.2,1.1M1011.8,366.9l-3.7,1.3M1011.5,376.2l-3,1.4M1011.2,385.6l-2.3,1.5M1010.8,394.9l-1.6,1.6M1010.4,404.3l-0.8,1.7M1010,413.7l0,1.7M1009.6,423.2l0.8,1.7M1009.2,432.6l1.6,1.6M1008.8,442.1l2.3,1.5M1008.5,451.6l3,1.4M1008.2,461.1l3.7,1.3M1007.9,470.6l4.2,1.1M1007.7,480.1l4.7,0.9M1007.5,489.6l5,0.6M1007.4,499.2l5.3,0.4M1024.4,330.3l-4.8,-1M1024.3,340.1l-4.6,-1.6M1024.1,349.8l-4.3,-2.2M1023.9,359.5l-3.8,-2.8M1023.7,369.1l-3.3,-3.3M1023.4,378.8l-2.8,-3.7M1023.1,388.3l-2.1,-4M1022.7,397.9l-1.4,-4.3M1022.4,407.4l-0.7,-4.4M1022,416.8l0,-4.5M1021.6,426.2l0.7,-4.4M1021.3,435.6l1.4,-4.3M1020.9,444.9l2.1,-4M1020.6,454.1l2.8,-3.7M1020.3,463.3l3.3,-3.3M1020.1,472.5l3.8,-2.8M1019.9,481.7l4.3,-2.2M1019.7,490.8l4.6,-1.6M1019.6,499.9l4.8,-1M1035.2,330.8l-2.5,-2M1035.2,340.9l-2.3,-3.3M1035.1,350.9l-2.2,-4.5M1035,360.9l-2,-5.6M1034.9,370.8l-1.7,-6.5M1034.7,380.6l-1.4,-7.4M1034.5,390.3l-1.1,-8M1034.4,400l-0.7,-8.5M1034.2,409.6l-0.4,-8.8M1034,419l0,-8.9M1033.8,428.4l0.4,-8.8M1033.6,437.7l0.7,-8.5M1033.5,446.9l1.1,-8M1033.3,456l1.4,-7.4M1033.1,465l1.7,-6.5M1033,473.9l2,-5.6M1032.9,482.8l2.2,-4.5M1032.8,491.6l2.3,-3.3M1032.8,500.4l2.5,-2M1045.6,330.9l0.8,-2.2M1045.6,341.1l0.8,-3.7M1045.6,351.1l0.7,-5M1045.7,361.2l0.7,-6.2M1045.7,371.1l0.6,-7.3M1045.8,381l0.5,-8.2M1045.8,390.8l0.4,-8.9M1045.9,400.5l0.3,-9.4M1045.9,410.1l0.1,-9.8M1046,419.5l0,-9.9M1046.1,428.9l-0.1,-9.8M1046.1,438.2l-0.3,-9.4M1046.2,447.3l-0.4,-8.9M1046.2,456.4l-0.5,-8.2M1046.3,465.3l-0.6,-7.3M1046.3,474.2l-0.7,-6.2M1046.4,483l-0.7,-5M1046.4,491.8l-0.8,-3.7M1046.4,500.5l-0.8,-2.2M1056.1,330.6l3.8,-1.6M1056.2,340.5l3.6,-2.6M1056.3,350.4l3.4,-3.5M1056.5,360.3l3.1,-4.4M1056.7,370.1l2.7,-5.2M1056.9,379.8l2.2,-5.8M1057.2,389.5l1.7,-6.3M1057.4,399.1l1.1,-6.7M1057.7,408.7l0.6,-6.9M1058,418.1l0,-7M1058.3,427.5l-0.6,-6.9M1058.6,436.8l-1.1,-6.7M1058.8,446l-1.7,-6.3M1059.1,455.2l-2.2,-5.8M1059.3,464.3l-2.7,-5.2M1059.5,473.3l-3.1,-4.4M1059.7,482.3l-3.4,-3.5M1059.8,491.3l-3.6,-2.6M1059.9,500.2l-3.8,-1.6M1067.4,330l5.3,-0.3M1067.5,339.5l5.1,-0.5M1067.6,349l4.7,-0.7M1067.9,358.5l4.2,-0.9M1068.2,368l3.7,-1.1M1068.5,377.5l3.1,-1.2M1068.8,387l2.4,-1.3M1069.2,396.5l1.6,-1.4M1069.6,405.9l0.8,-1.4M1070.4,424.7l-0.8,-1.4M1070.8,434.1l-1.6,-1.4M1071.2,443.5l-2.4,-1.3M1071.5,452.9l-3.1,-1.2M1071.8,462.2l-3.7,-1.1M1072.1,471.6l-4.2,-0.9M1072.4,480.9l-4.7,-0.7M1072.5,490.2l-5.1,-0.5M1072.6,499.5l-5.3,-0.3M1079.6,329.3l4.7,1.1M1079.7,338.4l4.5,1.7M1079.9,347.5l4.2,2.4M1080.1,356.6l3.8,2.9M1080.4,365.8l3.3,3.4M1080.6,375l2.7,3.9M1081,384.2l2.1,4.2M1081.3,393.5l1.4,4.5M1081.6,402.9l0.7,4.6M1082,412.3l0,4.7M1082.4,421.7l-0.7,4.6M1082.7,431.2l-1.4,4.5M1083,440.7l-2.1,4.2M1083.4,450.3l-2.7,3.9M1083.6,460l-3.3,3.4M1083.9,469.7l-3.8,2.9M1084.1,479.4l-4.2,2.4M1084.3,489.1l-4.5,1.7M1084.4,498.8l-4.7,1.1M1092.8,328.8l2.3,2.1M1092.9,337.6l2.2,3.3M1093,346.4l2.1,4.5M1093.1,355.3l1.9,5.6M1093.2,364.2l1.6,6.6M1093.3,373.2l1.3,7.5M1093.5,382.3l1,8.1M1093.6,391.5l0.7,8.6M1093.8,400.7l0.4,8.9M1094,410.1l0,9M1094.2,419.6l-0.4,8.9M1094.4,429.1l-0.7,8.6M1094.5,438.8l-1,8.1M1094.7,448.6l-1.3,7.5M1094.8,458.4l-1.6,6.6M1094.9,468.3l-1.9,5.6M1095,478.3l-2.1,4.5M1095.1,488.3l-2.2,3.3M1095.2,498.4l-2.3,2.1M1106.5,328.7l-1,2.2M1106.5,337.4l-0.9,3.6M1106.4,346.2l-0.9,4.9M1106.4,355l-0.8,6.2M1106.3,363.9l-0.7,7.2M1106.3,372.9l-0.6,8.1M1106.2,381.9l-0.4,8.9M1106.1,391.1l-0.3,9.4M1106.1,400.3l-0.2,9.7M1106,409.7l0,9.8M1105.9,419.2l0.2,9.7M1105.9,428.7l0.3,9.4M1105.8,438.4l0.4,8.9M1105.7,448.2l0.6,8.1M1105.7,458.1l0.7,7.2M1105.6,468l0.8,6.2M1105.6,478.1l0.9,4.9M1105.5,488.1l0.9,3.6M1105.5,498.3l1,2.2M1120,329l-3.9,1.6M1119.9,338l-3.7,2.5M1119.7,346.9l-3.5,3.4M1119.6,355.9l-3.1,4.3M1119.4,365l-2.7,5M1119.1,374.1l-2.3,5.7M1118.9,383.3l-1.7,6.2M1118.6,392.5l-1.2,6.5M1118.3,401.8l-0.6,6.8M1118,411.2l0,6.8M1117.7,420.6l0.6,6.8M1117.4,430.2l1.2,6.5M1117.1,439.8l1.7,6.2M1116.9,449.5l2.3,5.7M1116.6,459.2l2.7,5M1116.4,469l3.1,4.3M1116.3,478.8l3.5,3.4M1116.1,488.7l3.7,2.5M1116,498.6l3.9,1.6M1132.7,329.7l-5.3,0.3M1132.5,339l-5.1,0.4M1132.4,348.4l-4.7,0.6M1132.1,357.7l-4.3,0.7M1131.9,367.1l-3.7,0.9M1131.5,376.4l-3.1,1M1131.2,385.8l-2.4,1.1M1130.8,395.2l-1.6,1.1M1129.2,432.9l1.6,1.1M1128.8,442.3l2.4,1.1M1128.5,451.8l3.1,1M1128.1,461.3l3.7,0.9M1127.9,470.7l4.3,0.7M1127.6,480.2l4.7,0.6M1127.5,489.7l5.1,0.4M1127.3,499.2l5.3,0.3M1144.3,330.4l-4.7,-1.1M1144.2,340.2l-4.4,-1.8M1144.1,349.9l-4.1,-2.5M1143.9,359.6l-3.7,-3.1M1143.6,369.3l-3.2,-3.6M1143.3,379l-2.7,-4.1M1143,388.6l-2.1,-4.4M1142.7,398.1l-1.4,-4.7M1142.4,407.6l-0.7,-4.9M1142,417.1l0,-4.9M1141.6,426.5l0.7,-4.9M1141.3,435.8l1.4,-4.7M1141,445.1l2.1,-4.4M1140.7,454.3l2.7,-4.1M1140.4,463.5l3.2,-3.6M1140.1,472.7l3.7,-3.1M1139.9,481.8l4.1,-2.5M1139.8,490.9l4.4,-1.8M1139.7,499.9l4.7,-1.1M1155.1,330.9l-2.2,-2.1M1155,340.9l-2.1,-3.4M1155,351l-1.9,-4.6M1154.9,360.9l-1.8,-5.7M1154.8,370.9l-1.5,-6.7M1154.6,380.7l-1.3,-7.5M1154.5,390.5l-1,-8.2M1154.3,400.1l-0.7,-8.7M1154.2,409.7l-0.3,-9M1154,419.2l0,-9.1M1153.8,428.5l0.3,-9M1153.7,437.8l0.7,-8.7M1153.5,447l1,-8.2M1153.4,456.1l1.3,-7.5M1153.2,465.1l1.5,-6.7M1153.1,474l1.8,-5.7M1153,482.8l1.9,-4.6M1153,491.6l2.1,-3.4M1152.9,500.4l2.2,-2.1M1165.4,330.9l1.1,-2.2M1165.5,341l1.1,-3.6M1165.5,351.1l1,-4.9M1165.6,361.1l0.9,-6.1M1165.6,371.1l0.8,-7.2M1165.7,381l0.6,-8.1M1165.8,390.7l0.5,-8.8M1165.8,400.4l0.3,-9.3M1165.9,410l0.2,-9.7M1166,419.5l0,-9.8M1166.1,428.9l-0.2,-9.7M1166.2,438.1l-0.3,-9.3M1166.2,447.3l-0.5,-8.8M1166.3,456.3l-0.6,-8.1M1166.4,465.3l-0.8,-7.2M1166.4,474.2l-0.9,-6.1M1166.5,483l-1,-4.9M1166.5,491.8l-1.1,-3.6M1166.6,500.5l-1.1,-2.2M1176,330.6l4,-1.5M1176.1,340.5l3.8,-2.5M1176.2,350.3l3.6,-3.3M1176.4,360.2l3.2,-4.2M1176.6,369.9l2.8,-4.9M1176.8,379.7l2.3,-5.5M1177.1,389.3l1.8,-6M1177.4,398.9l1.2,-6.3M1177.7,408.5l0.6,-6.6M1178,417.9l0,-6.6M1178.3,427.3l-0.6,-6.6M1178.6,436.6l-1.2,-6.3M1178.9,445.9l-1.8,-6M1179.2,455l-2.3,-5.5M1179.4,464.1l-2.8,-4.9M1179.6,473.2l-3.2,-4.2M1179.8,482.2l-3.6,-3.3M1179.9,491.2l-3.8,-2.5M1180,500.1l-4,-1.5M1187.3,329.9l5.3,-0.2M1187.5,339.4l5.1,-0.3M1187.6,348.9l4.7,-0.5M1187.9,358.4l4.3,-0.6M1188.1,367.8l3.7,-0.7M1188.5,377.3l3.1,-0.8M1188.8,386.8l2.4,-0.8M1189.2,396.2l1.6,-0.9M1190.8,433.9l-1.6,-0.9M1191.2,443.3l-2.4,-0.8M1191.5,452.7l-3.1,-0.8M1191.9,462l-3.7,-0.7M1192.1,471.4l-4.3,-0.6M1192.4,480.8l-4.7,-0.5M1192.5,490.1l-5.1,-0.3M1192.7,499.5l-5.3,-0.2M1199.7,329.2l4.6,1.2M1199.8,338.3l4.4,1.9M1200,347.4l4.1,2.6M1200.2,356.5l3.7,3.2M1200.4,365.6l3.2,3.8M1200.7,374.8l2.6,4.3M1201,384l2,4.6M1201.3,393.3l1.4,4.9M1201.7,402.6l0.7,5.1M1202,412l0,5.2M1202.3,421.5l-0.7,5.1M1202.7,431l-1.4,4.9M1203,440.5l-2,4.6M1203.3,450.1l-2.6,4.3M1203.6,459.8l-3.2,3.8M1203.8,469.5l-3.7,3.2M1204,479.2l-4.1,2.6M1204.2,489l-4.4,1.9M1204.3,498.8l-4.6,1.2M1213,328.8l2.1,2.1M1213,337.5l2,3.4M1213.1,346.3l1.8,4.6M1213.2,355.2l1.7,5.8M1213.3,364.1l1.4,6.8M1213.4,373.1l1.2,7.6M1213.5,382.2l0.9,8.3M1213.7,391.4l0.6,8.8M1213.8,400.6l0.3,9.1M1214,410l0,9.2M1214.2,419.5l-0.3,9.1M1214.3,429l-0.6,8.8M1214.5,438.7l-0.9,8.3M1214.6,448.5l-1.2,7.6M1214.7,458.3l-1.4,6.8M1214.8,468.2l-1.7,5.8M1214.9,478.2l-1.8,4.6M1215,488.3l-2,3.4M1215,498.3l-2.1,2.1M1226.6,328.7l-1.3,2.2M1226.6,337.4l-1.2,3.6M1226.6,346.2l-1.1,4.9M1226.5,355l-1,6.1M1226.4,363.9l-0.9,7.1M1226.4,372.9l-0.7,8M1226.3,382l-0.6,8.8M1226.2,391.1l-0.4,9.3M1226.1,400.4l-0.2,9.6M1226,409.7l0,9.7M1225.9,419.2l0.2,9.6M1225.8,428.8l0.4,9.3M1225.7,438.5l0.6,8.8M1225.6,448.3l0.7,8M1225.6,458.1l0.9,7.1M1225.5,468.1l1,6.1M1225.4,478.1l1.1,4.9M1225.4,488.2l1.2,3.6M1225.4,498.3l1.3,2.2M1240,329.1l-4.1,1.5M1240,338l-3.9,2.4M1239.8,347l-3.6,3.2M1239.6,356.1l-3.3,4M1239.4,365.1l-2.9,4.7M1239.2,374.3l-2.4,5.3M1238.9,383.4l-1.8,5.8M1238.6,392.7l-1.2,6.2M1238.3,402l-0.6,6.4M1238,411.4l0,6.4M1237.7,420.8l0.6,6.4M1237.4,430.4l1.2,6.2M1237.1,440l1.8,5.8M1236.8,449.6l2.4,5.3M1236.6,459.3l2.9,4.7M1236.4,469.1l3.3,4M1236.2,478.9l3.6,3.2M1236,488.8l3.9,2.4M1236,498.6l4.1,1.5M1252.7,329.7l-5.3,0.2M1252.5,339.1l-5.1,0.2M1252.4,348.5l-4.7,0.3M1252.1,357.9l-4.3,0.4M1251.9,367.3l-3.7,0.5M1251.5,376.6l-3.1,0.5M1251.2,386l-2.4,0.6M1250.8,395.4l-1.6,0.6M1249.2,433.1l1.6,0.6M1248.8,442.6l2.4,0.6M1248.5,452l3.1,0.5M1248.1,461.5l3.7,0.5M1247.9,470.9l4.3,0.4M1247.6,480.4l4.7,0.3M1247.5,489.8l5.1,0.2M1247.3,499.3l5.3,0.2M1264.3,330.4l-4.5,-1.2M1264.2,340.2l-4.3,-2M1264,350l-4,-2.7M1263.8,359.8l-3.6,-3.4M1263.6,369.5l-3.1,-4M1263.3,379.1l-2.6,-4.4M1263,388.8l-2,-4.8M1262.7,398.3l-1.4,-5.1M1262.3,407.8l-0.7,-5.3M1262,417.3l0,-5.4M1261.7,426.7l0.7,-5.3M1261.3,436l1.4,-5.1M1261,445.3l2,-4.8M1260.7,454.5l2.6,-4.4M1260.4,463.7l3.1,-4M1260.2,472.8l3.6,-3.4M1260,481.9l4,-2.7M1259.8,491l4.3,-2M1259.7,500l4.5,-1.2M1275,330.9l-1.9,-2.1M1274.9,341l-1.8,-3.4M1274.9,351l-1.7,-4.7M1274.8,361l-1.5,-5.8M1274.7,370.9l-1.3,-6.9M1274.6,380.8l-1.1,-7.7M1274.4,390.5l-0.9,-8.4M1274.3,400.2l-0.6,-8.9M1274.1,409.8l-0.3,-9.2M1274,419.3l0,-9.3M1273.9,428.6l0.3,-9.2M1273.7,437.9l0.6,-8.9M1273.6,447.1l0.9,-8.4M1273.4,456.1l1.1,-7.7M1273.3,465.1l1.3,-6.9M1273.2,474l1.5,-5.8M1273.1,482.9l1.7,-4.7M1273.1,491.7l1.8,-3.4M1273,500.4l1.9,-2.1M1285.3,330.9l1.4,-2.2M1285.3,341l1.3,-3.6M1285.4,351.1l1.2,-4.9M1285.4,361.1l1.1,-6M1285.5,371l1,-7.1M1285.6,380.9l0.8,-8M1285.7,390.7l0.6,-8.7M1285.8,400.4l0.4,-9.2M1285.9,410l0.2,-9.5M1286,419.4l0,-9.7M1286.1,428.8l-0.2,-9.5M1286.2,438.1l-0.4,-9.2M1286.3,447.2l-0.6,-8.7M1286.4,456.3l-0.8,-8M1286.5,465.2l-1,-7.1M1286.6,474.1l-1.1,-6M1286.6,483l-1.2,-4.9M1286.7,491.7l-1.3,-3.6M1286.7,500.5l-1.4,-2.2M1295.9,330.5l4.2,-1.4M1296,340.4l4,-2.3M1296.1,350.2l3.7,-3.1M1296.3,360l3.4,-3.9M1296.5,369.8l2.9,-4.6M1296.8,379.5l2.4,-5.2M1297.1,389.2l1.9,-5.6M1297.4,398.7l1.3,-6M1297.7,408.3l0.6,-6.2M1298,417.7l0,-6.2M1298.3,427.1l-0.6,-6.2M1298.6,436.4l-1.3,-6M1298.9,445.7l-1.9,-5.6M1299.2,454.9l-2.4,-5.2M1299.5,464l-2.9,-4.6M1299.7,473.1l-3.4,-3.9M1299.9,482.1l-3.7,-3.1M1300,491.1l-4,-2.3M1300.1,500.1l-4.2,-1.4M1307.3,329.9l5.4,-0.1M1307.4,339.3l5.1,-0.1M1307.6,348.8l4.7,-0.2M1307.9,358.2l4.3,-0.2M1308.1,367.6l3.7,-0.3M1308.5,377.1l3.1,-0.3M1308.8,386.5l2.4,-0.4M1309.2,395.9l1.6,-0.4M1310.8,433.6l-1.6,-0.4M1311.2,443l-2.4,-0.4M1311.5,452.4l-3.1,-0.3M1311.9,461.8l-3.7,-0.3M1312.1,471.2l-4.3,-0.2M1312.4,480.6l-4.7,-0.2M1312.6,490l-5.1,-0.1M1312.7,499.4l-5.4,-0.1M1320,329.3l4,1.1M1320.1,338.3l3.8,1.8M1320.2,347.4l3.5,2.5M1320.4,356.5l3.2,3.1M1320.6,365.7l2.8,3.7M1320.9,374.9l2.3,4.1M1321.1,384.1l1.8,4.5M1321.4,393.4l1.2,4.8M1321.7,402.7l0.6,4.9M1322,412.1l0,5M1322.3,421.6l-0.6,4.9M1322.6,431.1l-1.2,4.8M1322.9,440.6l-1.8,4.5M1323.1,450.2l-2.3,4.1M1323.4,459.9l-2.8,3.7M1323.6,469.6l-3.2,3.1M1323.8,479.3l-3.5,2.5M1323.9,489l-3.8,1.8M1324,498.8l-4,1.1M1333.3,329l1.4,1.7M1333.3,337.9l1.3,2.7M1333.4,346.8l1.3,3.7M1333.4,355.8l1.1,4.6M1333.5,364.8l1,5.4M1333.6,373.9l0.8,6.1M1333.7,383l0.6,6.6M1333.8,392.2l0.4,7M1333.9,401.5l0.2,7.3M1334,410.9l0,7.4M1334.1,420.4l-0.2,7.3M1334.2,429.9l-0.4,7M1334.3,439.5l-0.6,6.6M1334.4,449.2l-0.8,6.1M1334.5,459l-1,5.4M1334.6,468.8l-1.1,4.6M1334.6,478.7l-1.3,3.7M1334.7,488.6l-1.3,2.7M1334.7,498.5l-1.4,1.7M1346.5,329.1l-1,1.5M1346.5,338l-1,2.4M1346.5,347l-0.9,3.2M1346.4,356.1l-0.8,4M1346.4,365.1l-0.7,4.7M1346.3,374.3l-0.6,5.3M1346.2,383.4l-0.5,5.8M1346.2,392.7l-0.3,6.2M1346.1,402l-0.2,6.4M1346,411.4l0,6.4M1345.9,420.8l0.2,6.4M1345.8,430.4l0.3,6.2M1345.8,440l0.5,5.8M1345.7,449.6l0.6,5.3M1345.6,459.3l0.7,4.7M1345.6,469.1l0.8,4M1345.5,478.9l0.9,3.2M1345.5,488.8l1,2.4M1345.5,498.6l1,1.5M1359.2,329.4l-2.4,0.8M1359.1,338.6l-2.3,1.3M1359.1,347.8l-2.1,1.7M1359,357l-1.9,2.1M1358.8,366.3l-1.7,2.5M1358.7,375.5l-1.4,2.8M1358.5,384.8l-1.1,3.1M1358.4,394.1l-0.7,3.2M1358.2,403.5l-0.4,3.4M1358,412.9l0,3.4M1357.8,422.3l0.4,3.4M1357.6,431.8l0.7,3.2M1357.5,441.3l1.1,3.1M1357.3,450.9l1.4,2.8M1357.2,460.5l1.7,2.5M1357,470.1l1.9,2.1M1356.9,479.7l2.1,1.7M1356.9,489.3l2.3,1.3M1356.8,499l2.4,0.8M1371.2,329.8l-2.4,0M1371.2,339.2l-2.3,0M1371.1,348.6l-2.2,0M1371,358.1l-1.9,0M1370.8,367.5l-1.7,0M1369.2,461.7l1.7,0M1369,471.1l1.9,0M1368.9,480.5l2.2,0M1368.8,489.9l2.3,0M1368.8,499.4l2.4,0M1382.8,330l-1.5,-0.5M1382.7,339.6l-1.4,-0.7M1382.7,349.2l-1.3,-1M1382.6,358.7l-1.2,-1.3M1382.5,368.2l-1,-1.5M1382.4,377.8l-0.9,-1.7M1382.3,387.2l-0.7,-1.8M1382.2,396.7l-0.5,-1.9M1382.1,406.2l-0.2,-2M1382,415.6l0,-2M1381.9,425l0.2,-2M1381.8,434.4l0.5,-1.9M1381.7,443.8l0.7,-1.8M1381.6,453.1l0.9,-1.7M1381.5,462.4l1,-1.5M1381.4,471.7l1.2,-1.3M1381.3,481l1.3,-1M1381.3,490.3l1.4,-0.7M1381.2,499.6l1.5,-0.5M1394.1,368.3l-0.3,-1.7M1394.1,377.8l-0.2,-1.9M1394.1,387.4l-0.2,-2M1394.1,396.8l-0.1,-2.1M1394,406.3l-0.1,-2.2M1394,415.7l0,-2.2M1394,425.1l0.1,-2.2M1393.9,434.5l0.1,-2.1M1393.9,443.9l0.2,-2M1393.9,453.2l0.2,-1.9M1393.9,462.5l0.3,-1.7" stroke="#000" stroke-width="1.7" stroke-opacity=".2" fill="none"/><path d="M654.8,396.6V342.6M656.8,432.6V478.6M714.2,396.6V342.6M716.2,432.6V478.6M773.6,396.6V342.6M775.6,432.6V478.6M833,396.6V342.6M835,432.6V478.6M892.4,396.6V342.6M894.4,432.6V478.6M951.8,396.6V342.6M953.8,432.6V478.6M1011.2,396.6V342.6M1013.2,432.6V478.6M1070.6,396.6V342.6M1072.6,432.6V478.6M1130,396.6V342.6M1132,432.6V478.6M1189.4,396.6V356.1M1191.4,432.6V467.1M1248.8,396.6V369.6M1250.8,432.6V455.6M1308.2,396.6V380.4M1310.2,432.6V446.4" stroke="#000" stroke-width="1.6" stroke-opacity=".38" fill="none"/></g>
<path d="M641.3,404.1a10.5,10.5 0 0 0 0,21z" fill="#c9c3d2"/><path d="M641.3,404.1a10.5,10.5 0 0 1 0,21z" fill="#ef6a3c"/><circle cx="641.3" cy="414.6" r="10.3" fill="none" stroke="#111" stroke-width="3.8"/><path d="M641.3,404.1v21" stroke="#111" stroke-width="2.6"/><path d="M700.7,404.1a10.5,10.5 0 0 0 0,21z" fill="#c9c3d2"/><path d="M700.7,404.1a10.5,10.5 0 0 1 0,21z" fill="#ef6a3c"/><circle cx="700.7" cy="414.6" r="10.3" fill="none" stroke="#111" stroke-width="3.8"/><path d="M700.7,404.1v21" stroke="#111" stroke-width="2.6"/><path d="M760.1,404.1a10.5,10.5 0 0 0 0,21z" fill="#c9c3d2"/><path d="M760.1,404.1a10.5,10.5 0 0 1 0,21z" fill="#ef6a3c"/><circle cx="760.1" cy="414.6" r="10.3" fill="none" stroke="#111" stroke-width="3.8"/><path d="M760.1,404.1v21" stroke="#111" stroke-width="2.6"/><path d="M819.5,404.1a10.5,10.5 0 0 0 0,21z" fill="#c9c3d2"/><path d="M819.5,404.1a10.5,10.5 0 0 1 0,21z" fill="#ef6a3c"/><circle cx="819.5" cy="414.6" r="10.3" fill="none" stroke="#111" stroke-width="3.8"/><path d="M819.5,404.1v21" stroke="#111" stroke-width="2.6"/><path d="M878.9,404.1a10.5,10.5 0 0 0 0,21z" fill="#c9c3d2"/><path d="M878.9,404.1a10.5,10.5 0 0 1 0,21z" fill="#ef6a3c"/><circle cx="878.9" cy="414.6" r="10.3" fill="none" stroke="#111" stroke-width="3.8"/><path d="M878.9,404.1v21" stroke="#111" stroke-width="2.6"/><path d="M938.3,404.1a10.5,10.5 0 0 0 0,21z" fill="#c9c3d2"/><path d="M938.3,404.1a10.5,10.5 0 0 1 0,21z" fill="#ef6a3c"/><circle cx="938.3" cy="414.6" r="10.3" fill="none" stroke="#111" stroke-width="3.8"/><path d="M938.3,404.1v21" stroke="#111" stroke-width="2.6"/><path d="M997.7,404.1a10.5,10.5 0 0 0 0,21z" fill="#c9c3d2"/><path d="M997.7,404.1a10.5,10.5 0 0 1 0,21z" fill="#ef6a3c"/><circle cx="997.7" cy="414.6" r="10.3" fill="none" stroke="#111" stroke-width="3.8"/><path d="M997.7,404.1v21" stroke="#111" stroke-width="2.6"/><path d="M1057.1,404.1a10.5,10.5 0 0 0 0,21z" fill="#c9c3d2"/><path d="M1057.1,404.1a10.5,10.5 0 0 1 0,21z" fill="#ef6a3c"/><circle cx="1057.1" cy="414.6" r="10.3" fill="none" stroke="#111" stroke-width="3.8"/><path d="M1057.1,404.1v21" stroke="#111" stroke-width="2.6"/><path d="M1116.5,404.1a10.5,10.5 0 0 0 0,21z" fill="#c9c3d2"/><path d="M1116.5,404.1a10.5,10.5 0 0 1 0,21z" fill="#ef6a3c"/><circle cx="1116.5" cy="414.6" r="10.3" fill="none" stroke="#111" stroke-width="3.8"/><path d="M1116.5,404.1v21" stroke="#111" stroke-width="2.6"/><path d="M1175.9,404.1a10.5,10.5 0 0 0 0,21z" fill="#c9c3d2"/><path d="M1175.9,404.1a10.5,10.5 0 0 1 0,21z" fill="#ef6a3c"/><circle cx="1175.9" cy="414.6" r="10.3" fill="none" stroke="#111" stroke-width="3.8"/><path d="M1175.9,404.1v21" stroke="#111" stroke-width="2.6"/><path d="M1235.3,404.1a10.5,10.5 0 0 0 0,21z" fill="#c9c3d2"/><path d="M1235.3,404.1a10.5,10.5 0 0 1 0,21z" fill="#ef6a3c"/><circle cx="1235.3" cy="414.6" r="10.3" fill="none" stroke="#111" stroke-width="3.8"/><path d="M1235.3,404.1v21" stroke="#111" stroke-width="2.6"/><path d="M1294.7,404.1a10.5,10.5 0 0 0 0,21z" fill="#c9c3d2"/><path d="M1294.7,404.1a10.5,10.5 0 0 1 0,21z" fill="#ef6a3c"/><circle cx="1294.7" cy="414.6" r="10.3" fill="none" stroke="#111" stroke-width="3.8"/><path d="M1294.7,404.1v21" stroke="#111" stroke-width="2.6"/>
<rect x="46.6" y="316.6" width="1981.8" height="195.4" rx="4" fill="none" stroke="#0c0c14" stroke-width="4.2"/>
<text x="58" y="370.5" font-size="53" fill="#fff" textLength="62" lengthAdjust="spacingAndGlyphs">(B)</text>
<text x="1680" y="375" font-size="49" fill="#161616" textLength="234" lengthAdjust="spacingAndGlyphs">FEC Mode</text>
<text x="1722" y="496" font-size="49" fill="#10182c" textLength="155" lengthAdjust="spacingAndGlyphs">V<tspan font-size="33" dy="9">D</tspan><tspan dy="-9">=1 V</tspan></text>
<g filter="url(#jet)"><rect x="52" y="533.8" width="1819.5" height="37.8" fill="url(#cb533)"/></g>
<rect x="52" y="533.8" width="1819.5" height="37.8" fill="none" stroke="#1a1a2a" stroke-opacity=".75" stroke-width="2"/>
<text class="dv" transform="translate(54.5,598) scale(2.45,1)" font-size="24.5" text-anchor="middle" fill="#111">0</text>
<text class="dv" transform="translate(417.1,598) scale(2.45,1)" font-size="24.5" text-anchor="middle" fill="#111">0.2</text>
<text class="dv" transform="translate(779.7,598) scale(2.45,1)" font-size="24.5" text-anchor="middle" fill="#111">0.4</text>
<text class="dv" transform="translate(1142.3,598) scale(2.45,1)" font-size="24.5" text-anchor="middle" fill="#111">0.6</text>
<text class="dv" transform="translate(1504.9,598) scale(2.45,1)" font-size="24.5" text-anchor="middle" fill="#111">0.8</text>
<text class="dv" transform="translate(1867.5,598) scale(2.45,1)" font-size="24.5" text-anchor="middle" fill="#111">1</text>
<path d="M417.1,533.8v7M417.1,571.6v-7M779.7,533.8v7M779.7,571.6v-7M1142.3,533.8v7M1142.3,571.6v-7M1504.9,533.8v7M1504.9,571.6v-7" stroke="#0a1410" stroke-width="4.6" fill="none"/>
<text x="1893" y="571.6" font-size="46" fill="#1a1a1a" textLength="65" lengthAdjust="spacingAndGlyphs">nM</text>
<g><rect x="150.7" y="1212.3" width="850.6" height="685.1" fill="#fff"/>
<path d="M150.7,1844.8H1001.3M150.7,1779.6H1001.3M150.7,1714.5H1001.3M150.7,1649.3H1001.3M150.7,1584.1H1001.3M150.7,1518.9H1001.3M150.7,1453.7H1001.3M150.7,1388.5H1001.3M150.7,1323.4H1001.3M150.7,1258.2H1001.3" stroke="#f1f1f1" stroke-width="1.6" fill="none" />
<path d="M181,1212.3V1897.4M338.9,1212.3V1897.4M496.8,1212.3V1897.4M654.7,1212.3V1897.4M812.6,1212.3V1897.4M970.5,1212.3V1897.4M150.7,1877.4H1001.3M150.7,1812.2H1001.3M150.7,1747H1001.3M150.7,1681.9H1001.3M150.7,1616.7H1001.3M150.7,1551.5H1001.3M150.7,1486.3H1001.3M150.7,1421.1H1001.3M150.7,1356H1001.3M150.7,1290.8H1001.3M150.7,1225.6H1001.3" stroke="#d2d2d2" stroke-width="2" fill="none" stroke-dasharray="4 5"/>
<path d="M198.9,1243.8l14.6,12.2M225.8,1266.2l14.6,12.2M252.7,1288.6l14.6,12.2M279.5,1311l14.6,12.2M306.4,1333.4l14.6,12.2M363.2,1386.2l13.1,13.8M387.3,1411.6l13.1,13.8M411.3,1437.1l13.1,13.8M435.4,1462.5l13.1,13.8M459.4,1487.9l13.1,13.8M523.4,1544.3l16,10.2M553,1563.1l16,10.2M582.5,1581.9l16,10.2M612,1600.6l16,10.2M675.6,1635.6l17.8,6.7M708.4,1647.9l17.8,6.7M741.1,1660.2l17.8,6.7M773.9,1672.5l17.8,6.7M848.2,1695.1l18.5,4.2M882.3,1702.9l18.5,4.2M916.4,1710.6l18.5,4.2" fill="none" stroke="#454545" stroke-width="3.1"/>
<path d="M215.4,1232.1l19,0M250.4,1232.1l19,0M285.4,1232.1l19,0M373.4,1233.1l19,0.5M408.4,1234.1l19,0.5M443.3,1235.1l19,0.5M532.8,1246.3l18.4,4.9M566.6,1255.4l18.4,4.9M600.4,1264.5l18.4,4.9M676.3,1288l17.6,7.2M708.7,1301.3l17.6,7.2M741,1314.7l17.6,7.2M773.4,1328l17.6,7.2M833.4,1352l17.8,6.6M866.2,1364.2l17.8,6.6M899,1376.3l17.8,6.6M931.9,1388.5l17.8,6.6" fill="none" stroke="#f0343a" stroke-width="3.1"/>
<path d="M198.9,1865.7l14.6,-12.2M225.8,1843.3l14.6,-12.2M252.7,1820.9l14.6,-12.2M279.5,1798.5l14.6,-12.2M306.4,1776.1l14.6,-12.2M362.4,1724.8l13.2,-13.6M386.8,1699.7l13.2,-13.6M411.2,1674.7l13.2,-13.6M435.6,1649.6l13.2,-13.6M460,1624.5l13.2,-13.6M517.6,1579.1l17.8,-6.6M550.4,1567l17.8,-6.6M583.3,1554.9l17.8,-6.6M616.1,1542.9l17.8,-6.6M689.2,1530l19,0.7M724.2,1531.3l19,0.7M759.1,1532.6l19,0.7M847.5,1539.6l18.8,2.7M882.1,1544.6l18.8,2.7M916.8,1549.6l18.8,2.7" fill="none" stroke="#1f6fdc" stroke-width="3.1"/>
<rect x="171.2" y="1219.1" width="19.5" height="19.5" fill="#454545"/>
<rect x="329.1" y="1350.8" width="19.5" height="19.5" fill="#454545"/>
<rect x="487.1" y="1517.6" width="19.5" height="19.5" fill="#454545"/>
<rect x="645" y="1618" width="19.5" height="19.5" fill="#454545"/>
<rect x="802.9" y="1677.3" width="19.5" height="19.5" fill="#454545"/>
<rect x="960.8" y="1713.2" width="19.5" height="19.5" fill="#454545"/>
<circle cx="181" cy="1232.1" r="11" fill="#f0343a"/>
<circle cx="338.9" cy="1232.1" r="11" fill="#f0343a"/>
<circle cx="496.8" cy="1236.7" r="11" fill="#f0343a"/>
<circle cx="654.7" cy="1279" r="11" fill="#f0343a"/>
<circle cx="812.6" cy="1344.2" r="11" fill="#f0343a"/>
<circle cx="970.5" cy="1402.9" r="11" fill="#f0343a"/>
<path d="M181,1866.7L193.5,1889.2L168.5,1889.2Z" fill="#1f6fdc"/>
<path d="M338.9,1735L351.4,1757.5L326.4,1757.5Z" fill="#1f6fdc"/>
<path d="M496.8,1572.7L509.3,1595.2L484.3,1595.2Z" fill="#1f6fdc"/>
<path d="M654.7,1514.7L667.2,1537.2L642.2,1537.2Z" fill="#1f6fdc"/>
<path d="M812.6,1520.6L825.1,1543.1L800.1,1543.1Z" fill="#1f6fdc"/>
<path d="M970.5,1543.4L983,1565.9L958,1565.9Z" fill="#1f6fdc"/>
<rect x="150.7" y="1212.3" width="850.6" height="685.1" fill="none" stroke="#262626" stroke-width="2.8"/>
<path d="M181,1897.4v13.5M338.9,1897.4v13.5M496.8,1897.4v13.5M654.7,1897.4v13.5M812.6,1897.4v13.5M970.5,1897.4v13.5M150.7,1877.4h-13.5M150.7,1812.2h-13.5M150.7,1747h-13.5M150.7,1681.9h-13.5M150.7,1616.7h-13.5M150.7,1551.5h-13.5M150.7,1486.3h-13.5M150.7,1421.1h-13.5M150.7,1356h-13.5M150.7,1290.8h-13.5M150.7,1225.6h-13.5M150.7,1844.8h-7M150.7,1779.6h-7M150.7,1714.5h-7M150.7,1649.3h-7M150.7,1584.1h-7M150.7,1518.9h-7M150.7,1453.7h-7M150.7,1388.5h-7M150.7,1323.4h-7M150.7,1258.2h-7" stroke="#262626" stroke-width="2.6" fill="none"/>
<text x="181" y="1952.7" font-size="42" text-anchor="middle" fill="#262626">0.5</text>
<text x="338.9" y="1952.7" font-size="42" text-anchor="middle" fill="#262626">1.0</text>
<text x="496.8" y="1952.7" font-size="42" text-anchor="middle" fill="#262626">1.5</text>
<text x="654.7" y="1952.7" font-size="42" text-anchor="middle" fill="#262626">2.0</text>
<text x="812.6" y="1952.7" font-size="42" text-anchor="middle" fill="#262626">2.5</text>
<text x="970.5" y="1952.7" font-size="42" text-anchor="middle" fill="#262626">3.0</text>
<text x="127" y="1889.2" font-size="42" text-anchor="end" fill="#262626">0.0</text>
<text x="127" y="1824" font-size="42" text-anchor="end" fill="#262626">0.1</text>
<text x="127" y="1758.8" font-size="42" text-anchor="end" fill="#262626">0.2</text>
<text x="127" y="1693.7" font-size="42" text-anchor="end" fill="#262626">0.3</text>
<text x="127" y="1628.5" font-size="42" text-anchor="end" fill="#262626">0.4</text>
<text x="127" y="1563.3" font-size="42" text-anchor="end" fill="#262626">0.5</text>
<text x="127" y="1498.1" font-size="42" text-anchor="end" fill="#262626">0.6</text>
<text x="127" y="1432.9" font-size="42" text-anchor="end" fill="#262626">0.7</text>
<text x="127" y="1367.8" font-size="42" text-anchor="end" fill="#262626">0.8</text>
<text x="127" y="1302.6" font-size="42" text-anchor="end" fill="#262626">0.9</text>
<text x="127" y="1237.4" font-size="42" text-anchor="end" fill="#262626">1.0</text>
<text x="577" y="1987" font-size="42" text-anchor="middle" fill="#262626">V<tspan font-size="27.7" dy="13">D</tspan><tspan dy="-13"> (V)</tspan></text>
<text transform="translate(58.3,1791.4) rotate(-90)" font-size="44" fill="#262626" textLength="475" lengthAdjust="spacingAndGlyphs">Mixing efficiency (×100%)</text>
<text x="170.2" y="1343.6" font-size="49" fill="#1a1a1a" textLength="56" lengthAdjust="spacingAndGlyphs">(E)</text>
<rect x="176.3" y="1466.5" width="236" height="159.9" fill="#fff" stroke="#666" stroke-width="1.6"/>
<path d="M181,1491H262" stroke="#454545" stroke-width="3.1" stroke-dasharray="14 16 21 16 14" fill="none"/>
<rect x="211.8" y="1481.2" width="19.5" height="19.5" fill="#454545"/>
<text x="272" y="1503" font-size="36" fill="#262626">M<tspan font-size="24.5" dy="9">S</tspan><tspan dy="-9" font-size="1">&#8203;</tspan></text>
<path d="M181,1543H262" stroke="#f0343a" stroke-width="3.1" stroke-dasharray="14 16 21 16 14" fill="none"/>
<circle cx="221.5" cy="1543" r="11" fill="#f0343a"/>
<text x="272" y="1555" font-size="36" fill="#262626">M<tspan font-size="24.5" dy="9">FEC</tspan><tspan dy="-9" font-size="1">&#8203;</tspan></text>
<path d="M181,1594H262" stroke="#1f6fdc" stroke-width="3.1" stroke-dasharray="14 16 21 16 14" fill="none"/>
<path d="M221.5,1580L234,1602.5L209,1602.5Z" fill="#1f6fdc"/>
<text x="272" y="1606" font-size="36" fill="#262626">M<tspan font-size="24.5" dy="9">FEC</tspan><tspan dy="-9" font-size="1">&#8203;</tspan>-M<tspan font-size="24.5" dy="9">S</tspan><tspan dy="-9" font-size="1">&#8203;</tspan></text></g>
<g><rect x="1176.9" y="1213.1" width="852.5" height="687.2" fill="#fff"/>
<path d="M1226.1,1213.1V1900.3M1259,1213.1V1900.3M1291.8,1213.1V1900.3M1324.7,1213.1V1900.3M1390.3,1213.1V1900.3M1423.2,1213.1V1900.3M1456,1213.1V1900.3M1488.9,1213.1V1900.3M1554.5,1213.1V1900.3M1587.4,1213.1V1900.3M1620.2,1213.1V1900.3M1653.1,1213.1V1900.3M1718.7,1213.1V1900.3M1751.6,1213.1V1900.3M1784.4,1213.1V1900.3M1817.3,1213.1V1900.3M1882.9,1213.1V1900.3M1915.8,1213.1V1900.3M1948.6,1213.1V1900.3M1981.5,1213.1V1900.3M1176.9,1880H2029.4M1176.9,1859.6H2029.4M1176.9,1839.3H2029.4M1176.9,1819H2029.4M1176.9,1778.3H2029.4M1176.9,1758H2029.4M1176.9,1737.7H2029.4M1176.9,1717.4H2029.4M1176.9,1676.7H2029.4M1176.9,1656.4H2029.4M1176.9,1636.1H2029.4M1176.9,1615.7H2029.4M1176.9,1575.1H2029.4M1176.9,1554.7H2029.4M1176.9,1534.4H2029.4M1176.9,1514.1H2029.4M1176.9,1473.4H2029.4M1176.9,1453.1H2029.4M1176.9,1432.8H2029.4M1176.9,1412.5H2029.4M1176.9,1371.8H2029.4M1176.9,1351.5H2029.4M1176.9,1331.2H2029.4M1176.9,1310.8H2029.4M1176.9,1270.2H2029.4M1176.9,1249.8H2029.4M1176.9,1229.5H2029.4" stroke="#efefef" stroke-width="1.2" fill="none" />
<path d="M1193.3,1213.1V1900.3M1357.5,1213.1V1900.3M1521.7,1213.1V1900.3M1685.9,1213.1V1900.3M1850.1,1213.1V1900.3M2014.3,1213.1V1900.3M1176.9,1798.7H2029.4M1176.9,1697H2029.4M1176.9,1595.4H2029.4M1176.9,1493.8H2029.4M1176.9,1392.1H2029.4M1176.9,1290.5H2029.4" stroke="#9c9c9c" stroke-width="1.5" fill="none" stroke-dasharray="5 4"/>
<polyline points="1193.3,1881.5 1357.5,1823.6 1521.7,1729.6 1685.9,1597.9 1850.1,1432.3 2014.3,1233.1" fill="none" stroke="#111" stroke-width="3.1"/>
<path d="M1212.3,1879l18.2,-5.4M1248.3,1868.4l18.2,-5.4M1284.3,1857.8l18.2,-5.4M1320.3,1847.2l18.2,-5.4M1380.7,1824.8l17,-8.4M1414.3,1808.2l17,-8.4M1447.9,1791.5l17,-8.4M1481.5,1774.9l17,-8.4M1549.4,1736.2l15.7,-10.7M1580.4,1715.2l15.7,-10.7M1611.5,1694.1l15.7,-10.7M1642.5,1673.1l15.7,-10.7M1704.8,1626.9l14.2,-12.6M1732.9,1602l14.2,-12.6M1760.9,1577.1l14.2,-12.6M1788.9,1552.2l14.2,-12.6M1817,1527.3l14.2,-12.6M1862.2,1484.8l12.9,-14M1887.6,1457.2l12.9,-14M1913,1429.7l12.9,-14M1938.5,1402.1l12.9,-14M1963.9,1374.6l12.9,-14M1989.3,1347l12.9,-14" fill="none" stroke="#111" stroke-width="3.1"/>
<rect x="1186.5" y="1874.7" width="13.5" height="13.5" fill="#111"/>
<rect x="1350.8" y="1816.8" width="13.5" height="13.5" fill="#111"/>
<rect x="1515" y="1722.8" width="13.5" height="13.5" fill="#111"/>
<rect x="1679.1" y="1591.2" width="13.5" height="13.5" fill="#111"/>
<rect x="1843.3" y="1425.5" width="13.5" height="13.5" fill="#111"/>
<rect x="2007.5" y="1226.3" width="13.5" height="13.5" fill="#111"/>
<path d="M1193.3,1875.5L1202.3,1884.5L1193.3,1893.5L1184.3,1884.5Z" fill="#111"/>
<path d="M1357.5,1827.3L1366.5,1836.3L1357.5,1845.3L1348.5,1836.3Z" fill="#111"/>
<path d="M1521.7,1746L1530.7,1755L1521.7,1764L1512.7,1755Z" fill="#111"/>
<path d="M1685.9,1634.7L1694.9,1643.7L1685.9,1652.7L1676.9,1643.7Z" fill="#111"/>
<path d="M1850.1,1488.8L1859.1,1497.8L1850.1,1506.8L1841.1,1497.8Z" fill="#111"/>
<path d="M2014.3,1311L2023.3,1320L2014.3,1329L2005.3,1320Z" fill="#111"/>
<rect x="1176.9" y="1213.1" width="852.5" height="687.2" fill="none" stroke="#262626" stroke-width="2.8"/>
<path d="M1193.3,1900.3v13.5M1357.5,1900.3v13.5M1521.7,1900.3v13.5M1685.9,1900.3v13.5M1850.1,1900.3v13.5M2014.3,1900.3v13.5M1176.9,1900.3h-13.5M1176.9,1798.7h-13.5M1176.9,1697h-13.5M1176.9,1595.4h-13.5M1176.9,1493.8h-13.5M1176.9,1392.1h-13.5M1176.9,1290.5h-13.5M1226.1,1900.3v7M1259,1900.3v7M1291.8,1900.3v7M1324.7,1900.3v7M1390.3,1900.3v7M1423.2,1900.3v7M1456,1900.3v7M1488.9,1900.3v7M1554.5,1900.3v7M1587.4,1900.3v7M1620.2,1900.3v7M1653.1,1900.3v7M1718.7,1900.3v7M1751.6,1900.3v7M1784.4,1900.3v7M1817.3,1900.3v7M1882.9,1900.3v7M1915.8,1900.3v7M1948.6,1900.3v7M1981.5,1900.3v7M1176.9,1880h-7M1176.9,1859.6h-7M1176.9,1839.3h-7M1176.9,1819h-7M1176.9,1778.3h-7M1176.9,1758h-7M1176.9,1737.7h-7M1176.9,1717.4h-7M1176.9,1676.7h-7M1176.9,1656.4h-7M1176.9,1636.1h-7M1176.9,1615.7h-7M1176.9,1575.1h-7M1176.9,1554.7h-7M1176.9,1534.4h-7M1176.9,1514.1h-7M1176.9,1473.4h-7M1176.9,1453.1h-7M1176.9,1432.8h-7M1176.9,1412.5h-7M1176.9,1371.8h-7M1176.9,1351.5h-7M1176.9,1331.2h-7M1176.9,1310.8h-7M1176.9,1270.2h-7M1176.9,1249.8h-7M1176.9,1229.5h-7" stroke="#262626" stroke-width="2.6" fill="none"/>
<text x="1193.3" y="1956" font-size="42" text-anchor="middle" fill="#262626">0.5</text>
<text x="1357.5" y="1956" font-size="42" text-anchor="middle" fill="#262626">1.0</text>
<text x="1521.7" y="1956" font-size="42" text-anchor="middle" fill="#262626">1.5</text>
<text x="1685.9" y="1956" font-size="42" text-anchor="middle" fill="#262626">2.0</text>
<text x="1850.1" y="1956" font-size="42" text-anchor="middle" fill="#262626">2.5</text>
<text x="2014.3" y="1956" font-size="42" text-anchor="middle" fill="#262626">3.0</text>
<text x="1152.5" y="1912.1" font-size="42" text-anchor="end" fill="#262626">0.00</text>
<text x="1152.5" y="1810.5" font-size="42" text-anchor="end" fill="#262626">0.02</text>
<text x="1152.5" y="1708.8" font-size="42" text-anchor="end" fill="#262626">0.04</text>
<text x="1152.5" y="1607.2" font-size="42" text-anchor="end" fill="#262626">0.06</text>
<text x="1152.5" y="1505.6" font-size="42" text-anchor="end" fill="#262626">0.08</text>
<text x="1152.5" y="1403.9" font-size="42" text-anchor="end" fill="#262626">0.10</text>
<text x="1152.5" y="1302.3" font-size="42" text-anchor="end" fill="#262626">0.12</text>
<text x="1603" y="1990" font-size="42" text-anchor="middle" fill="#262626">V<tspan font-size="27.7" dy="13">D</tspan><tspan dy="-13"> (V)</tspan></text>
<text transform="translate(1060,1824.5) rotate(-90)" font-size="44" fill="#262626" textLength="546" lengthAdjust="spacingAndGlyphs">ICEO pump velocity (mm·s<tspan font-size="26" dy="-16">-1</tspan><tspan dy="16">)</tspan></text>
<text x="1099" y="1344.5" font-size="49" fill="#1a1a1a" textLength="56" lengthAdjust="spacingAndGlyphs">(F)</text>
<rect x="1215.5" y="1254.1" width="245.8" height="108.1" fill="#fff" stroke="#666" stroke-width="1.6"/>
<path d="M1219,1278H1301" stroke="#111" stroke-width="3.1" fill="none"/>
<rect x="1253.2" y="1271.2" width="13.5" height="13.5" fill="#111"/>
<text x="1310" y="1290" font-size="36" fill="#262626">U<tspan font-size="24.5" dy="9">Pump-FEC</tspan><tspan dy="-9" font-size="1">&#8203;</tspan></text>
<path d="M1219,1330H1301" stroke="#111" stroke-width="3.1" stroke-dasharray="16 14 22 14 16" fill="none"/>
<path d="M1260,1321L1269,1330L1260,1339L1251,1330Z" fill="#111"/>
<text x="1310" y="1342" font-size="36" fill="#262626">U<tspan font-size="24.5" dy="9">Pump-S</tspan><tspan dy="-9" font-size="1">&#8203;</tspan></text></g>
<g><rect x="152.2" y="2028.2" width="856.3" height="685.8" fill="#fff"/>
<path d="M202,2028.2V2714M234.9,2028.2V2714M267.8,2028.2V2714M300.7,2028.2V2714M366.5,2028.2V2714M399.4,2028.2V2714M432.3,2028.2V2714M465.2,2028.2V2714M531,2028.2V2714M563.9,2028.2V2714M596.7,2028.2V2714M629.6,2028.2V2714M695.4,2028.2V2714M728.3,2028.2V2714M761.2,2028.2V2714M794.1,2028.2V2714M859.9,2028.2V2714M892.8,2028.2V2714M925.7,2028.2V2714M958.6,2028.2V2714M152.2,2681.9H1008.5M152.2,2658.5H1008.5M152.2,2635.2H1008.5M152.2,2611.8H1008.5M152.2,2565H1008.5M152.2,2541.7H1008.5M152.2,2518.3H1008.5M152.2,2494.9H1008.5M152.2,2448.2H1008.5M152.2,2424.8H1008.5M152.2,2401.4H1008.5M152.2,2378H1008.5M152.2,2331.3H1008.5M152.2,2307.9H1008.5M152.2,2284.5H1008.5M152.2,2261.2H1008.5M152.2,2214.4H1008.5M152.2,2191H1008.5M152.2,2167.7H1008.5M152.2,2144.3H1008.5M152.2,2097.5H1008.5M152.2,2074.1H1008.5M152.2,2050.8H1008.5" stroke="#f2f2f2" stroke-width="1.2" fill="none" />
<path d="M169.1,2028.2V2714M333.6,2028.2V2714M498.1,2028.2V2714M662.5,2028.2V2714M827,2028.2V2714M991.5,2028.2V2714M152.2,2705.3H1008.5M152.2,2588.4H1008.5M152.2,2471.5H1008.5M152.2,2354.7H1008.5M152.2,2237.8H1008.5M152.2,2120.9H1008.5" stroke="#b2b2b2" stroke-width="1.6" fill="none" stroke-dasharray="4 4"/>
<polyline points="169.1,2686.6 333.6,2632 498.1,2540.5 662.5,2413.1 827,2250.1 991.5,2049" fill="none" stroke="#ee1c25" stroke-width="3.1"/>
<path d="M185.6,2705.3l19,0M223.1,2705.3l19,0M260.6,2705.3l19,0M298.1,2705.3l19,0M350.1,2705.3l19,0M387.6,2705.3l19,0M425.1,2705.3l19,0M462.6,2705.3l19,0M514.5,2705.3l19,0M552,2705.3l19,0M589.5,2705.3l19,0M627,2705.3l19,0M679,2705.3l19,0M716.5,2705.3l19,0M754,2705.3l19,0M791.5,2705.3l19,0M843.5,2705.3l19,0M881,2705.3l19,0M918.5,2705.3l19,0M956,2705.3l19,0" fill="none" stroke="#ee1c25" stroke-width="3.1"/>
<circle cx="169.1" cy="2686.6" r="10.5" fill="#ee1c25"/>
<circle cx="333.6" cy="2632" r="10.5" fill="#ee1c25"/>
<circle cx="498.1" cy="2540.5" r="10.5" fill="#ee1c25"/>
<circle cx="662.5" cy="2413.1" r="10.5" fill="#ee1c25"/>
<circle cx="827" cy="2250.1" r="10.5" fill="#ee1c25"/>
<circle cx="991.5" cy="2049" r="10.5" fill="#ee1c25"/>
<path d="M169.1,2693L180.1,2712.8L158.1,2712.8Z" fill="#ee1c25"/>
<path d="M333.6,2693L344.6,2712.8L322.6,2712.8Z" fill="#ee1c25"/>
<path d="M498.1,2693L509.1,2712.8L487.1,2712.8Z" fill="#ee1c25"/>
<path d="M662.5,2693L673.5,2712.8L651.5,2712.8Z" fill="#ee1c25"/>
<path d="M827,2693L838,2712.8L816,2712.8Z" fill="#ee1c25"/>
<path d="M991.5,2693L1002.5,2712.8L980.5,2712.8Z" fill="#ee1c25"/>
<rect x="152.2" y="2028.2" width="856.3" height="685.8" fill="none" stroke="#262626" stroke-width="2.8"/>
<path d="M169.1,2714v13.5M333.6,2714v13.5M498.1,2714v13.5M662.5,2714v13.5M827,2714v13.5M991.5,2714v13.5M152.2,2705.3h-13.5M152.2,2588.4h-13.5M152.2,2471.5h-13.5M152.2,2354.7h-13.5M152.2,2237.8h-13.5M152.2,2120.9h-13.5M251.3,2714v7M415.8,2714v7M580.3,2714v7M744.8,2714v7M909.3,2714v7M152.2,2681.9h-7M152.2,2658.5h-7M152.2,2635.2h-7M152.2,2611.8h-7M152.2,2565h-7M152.2,2541.7h-7M152.2,2518.3h-7M152.2,2494.9h-7M152.2,2448.2h-7M152.2,2424.8h-7M152.2,2401.4h-7M152.2,2378h-7M152.2,2331.3h-7M152.2,2307.9h-7M152.2,2284.5h-7M152.2,2261.2h-7M152.2,2214.4h-7M152.2,2191h-7M152.2,2167.7h-7M152.2,2144.3h-7M152.2,2097.5h-7M152.2,2074.1h-7M152.2,2050.8h-7" stroke="#262626" stroke-width="2.6" fill="none"/>
<text x="169.1" y="2771" font-size="42" text-anchor="middle" fill="#262626">0.5</text>
<text x="333.6" y="2771" font-size="42" text-anchor="middle" fill="#262626">1.0</text>
<text x="498.1" y="2771" font-size="42" text-anchor="middle" fill="#262626">1.5</text>
<text x="662.5" y="2771" font-size="42" text-anchor="middle" fill="#262626">2.0</text>
<text x="827" y="2771" font-size="42" text-anchor="middle" fill="#262626">2.5</text>
<text x="991.5" y="2771" font-size="42" text-anchor="middle" fill="#262626">3.0</text>
<text x="128" y="2717.1" font-size="42" text-anchor="end" fill="#262626">0</text>
<text x="128" y="2600.2" font-size="42" text-anchor="end" fill="#262626">1</text>
<text x="128" y="2483.3" font-size="42" text-anchor="end" fill="#262626">2</text>
<text x="128" y="2366.5" font-size="42" text-anchor="end" fill="#262626">3</text>
<text x="128" y="2249.6" font-size="42" text-anchor="end" fill="#262626">4</text>
<text x="128" y="2132.7" font-size="42" text-anchor="end" fill="#262626">5</text>
<text x="578" y="2805" font-size="42" text-anchor="middle" fill="#262626">V<tspan font-size="27.7" dy="13">D</tspan><tspan dy="-13"> (V)</tspan></text>
<text transform="translate(96,2651.2) rotate(-90)" font-size="44" fill="#262626" textLength="560" lengthAdjust="spacingAndGlyphs">ICEO stirring velocity (mm·s<tspan font-size="26" dy="-16">-1</tspan><tspan dy="16">)</tspan></text>
<text x="64.8" y="2078.4" font-size="49" fill="#1a1a1a" textLength="66.2" lengthAdjust="spacingAndGlyphs">(G)</text>
<rect x="193" y="2069" width="219" height="108" fill="#fff" stroke="#666" stroke-width="1.6"/>
<path d="M197,2093H279" stroke="#ee1c25" stroke-width="3.1" fill="none"/>
<circle cx="238" cy="2093" r="10.5" fill="#ee1c25"/>
<text x="288" y="2105" font-size="36" fill="#262626">U<tspan font-size="24.5" dy="9">Mix-FEC</tspan><tspan dy="-9" font-size="1">&#8203;</tspan></text>
<path d="M197,2145H279" stroke="#ee1c25" stroke-width="3.1" stroke-dasharray="16 14 22 14 16" fill="none"/>
<path d="M238,2135L247,2151.2L229,2151.2Z" fill="#ee1c25"/>
<text x="288" y="2157" font-size="36" fill="#262626">U<tspan font-size="24.5" dy="9">Mix-S</tspan><tspan dy="-9" font-size="1">&#8203;</tspan></text></g>
<g><rect x="1178.2" y="2027" width="852.5" height="685.2" fill="#fff"/>
<path d="M1227.9,2027V2712.2M1260.6,2027V2712.2M1293.4,2027V2712.2M1326.2,2027V2712.2M1391.7,2027V2712.2M1424.5,2027V2712.2M1457.3,2027V2712.2M1490,2027V2712.2M1555.6,2027V2712.2M1588.4,2027V2712.2M1621.1,2027V2712.2M1653.9,2027V2712.2M1719.5,2027V2712.2M1752.2,2027V2712.2M1785,2027V2712.2M1817.8,2027V2712.2M1883.3,2027V2712.2M1916.1,2027V2712.2M1948.9,2027V2712.2M1981.6,2027V2712.2M1178.2,2682.3H2030.7M1178.2,2667.4H2030.7M1178.2,2652.5H2030.7M1178.2,2637.6H2030.7M1178.2,2607.8H2030.7M1178.2,2592.9H2030.7M1178.2,2578.1H2030.7M1178.2,2563.2H2030.7M1178.2,2533.4H2030.7M1178.2,2518.5H2030.7M1178.2,2503.6H2030.7M1178.2,2488.7H2030.7M1178.2,2458.9H2030.7M1178.2,2444H2030.7M1178.2,2429.1H2030.7M1178.2,2414.2H2030.7M1178.2,2384.4H2030.7M1178.2,2369.5H2030.7M1178.2,2354.7H2030.7M1178.2,2339.8H2030.7M1178.2,2310H2030.7M1178.2,2295.1H2030.7M1178.2,2280.2H2030.7M1178.2,2265.3H2030.7M1178.2,2235.5H2030.7M1178.2,2220.6H2030.7M1178.2,2205.7H2030.7M1178.2,2190.8H2030.7M1178.2,2161H2030.7M1178.2,2146.1H2030.7M1178.2,2131.3H2030.7M1178.2,2116.4H2030.7M1178.2,2086.6H2030.7M1178.2,2071.7H2030.7M1178.2,2056.8H2030.7M1178.2,2041.9H2030.7" stroke="#f2f2f2" stroke-width="1.2" fill="none" />
<path d="M1195.1,2027V2712.2M1359,2027V2712.2M1522.8,2027V2712.2M1686.7,2027V2712.2M1850.5,2027V2712.2M2014.4,2027V2712.2M1178.2,2697.2H2030.7M1178.2,2622.7H2030.7M1178.2,2548.3H2030.7M1178.2,2473.8H2030.7M1178.2,2399.3H2030.7M1178.2,2324.9H2030.7M1178.2,2250.4H2030.7M1178.2,2175.9H2030.7M1178.2,2101.5H2030.7" stroke="#b2b2b2" stroke-width="1.6" fill="none" stroke-dasharray="4 4"/>
<polyline points="1195.1,2079.1 1359,2077.6 1522.8,2074.7 1686.7,2070.2 1850.5,2065.7 2014.4,2059.8" fill="none" stroke="#454545" stroke-width="3.1"/>
<path d="M1211.3,2697.2l19,0M1248.8,2697.2l19,0M1286.3,2697.2l19,0M1323.8,2697.2l19,0M1375.1,2697.2l19,0M1412.6,2697.2l19,0M1450.1,2697.2l19,0M1487.6,2697.2l19,0M1539,2697.2l19,0M1576.5,2697.2l19,0M1614,2697.2l19,0M1651.5,2697.2l19,0M1702.9,2697.2l19,0M1740.4,2697.2l19,0M1777.9,2697.2l19,0M1815.4,2697.2l19,0M1866.7,2697.2l19,0M1904.2,2697.2l19,0M1941.7,2697.2l19,0M1979.2,2697.2l19,0" fill="none" stroke="#f0343a" stroke-width="3.1"/>
<rect x="1185.6" y="2069.6" width="19" height="19" fill="#454545"/>
<rect x="1349.5" y="2068.1" width="19" height="19" fill="#454545"/>
<rect x="1513.3" y="2065.2" width="19" height="19" fill="#454545"/>
<rect x="1677.2" y="2060.7" width="19" height="19" fill="#454545"/>
<rect x="1841" y="2056.2" width="19" height="19" fill="#454545"/>
<rect x="2004.9" y="2050.3" width="19" height="19" fill="#454545"/>
<circle cx="1195.1" cy="2697.2" r="10.5" fill="#f0343a"/>
<circle cx="1359" cy="2697.2" r="10.5" fill="#f0343a"/>
<circle cx="1522.8" cy="2697.2" r="10.5" fill="#f0343a"/>
<circle cx="1686.7" cy="2697.2" r="10.5" fill="#f0343a"/>
<circle cx="1850.5" cy="2697.2" r="10.5" fill="#f0343a"/>
<circle cx="2014.4" cy="2697.2" r="10.5" fill="#f0343a"/>
<rect x="1178.2" y="2027" width="852.5" height="685.2" fill="none" stroke="#262626" stroke-width="2.8"/>
<path d="M1195.1,2712.2v13.5M1359,2712.2v13.5M1522.8,2712.2v13.5M1686.7,2712.2v13.5M1850.5,2712.2v13.5M2014.4,2712.2v13.5M1178.2,2697.2h-13.5M1178.2,2622.7h-13.5M1178.2,2548.3h-13.5M1178.2,2473.8h-13.5M1178.2,2399.3h-13.5M1178.2,2324.9h-13.5M1178.2,2250.4h-13.5M1178.2,2175.9h-13.5M1178.2,2101.5h-13.5M1178.2,2027h-13.5M1277,2712.2v7M1440.9,2712.2v7M1604.8,2712.2v7M1768.6,2712.2v7M1932.5,2712.2v7M1178.2,2682.3h-7M1178.2,2667.4h-7M1178.2,2652.5h-7M1178.2,2637.6h-7M1178.2,2607.8h-7M1178.2,2592.9h-7M1178.2,2578.1h-7M1178.2,2563.2h-7M1178.2,2533.4h-7M1178.2,2518.5h-7M1178.2,2503.6h-7M1178.2,2488.7h-7M1178.2,2458.9h-7M1178.2,2444h-7M1178.2,2429.1h-7M1178.2,2414.2h-7M1178.2,2384.4h-7M1178.2,2369.5h-7M1178.2,2354.7h-7M1178.2,2339.8h-7M1178.2,2310h-7M1178.2,2295.1h-7M1178.2,2280.2h-7M1178.2,2265.3h-7M1178.2,2235.5h-7M1178.2,2220.6h-7M1178.2,2205.7h-7M1178.2,2190.8h-7M1178.2,2161h-7M1178.2,2146.1h-7M1178.2,2131.3h-7M1178.2,2116.4h-7M1178.2,2086.6h-7M1178.2,2071.7h-7M1178.2,2056.8h-7M1178.2,2041.9h-7" stroke="#262626" stroke-width="2.6" fill="none"/>
<text x="1195.1" y="2771" font-size="42" text-anchor="middle" fill="#262626">0.5</text>
<text x="1359" y="2771" font-size="42" text-anchor="middle" fill="#262626">1.0</text>
<text x="1522.8" y="2771" font-size="42" text-anchor="middle" fill="#262626">1.5</text>
<text x="1686.7" y="2771" font-size="42" text-anchor="middle" fill="#262626">2.0</text>
<text x="1850.5" y="2771" font-size="42" text-anchor="middle" fill="#262626">2.5</text>
<text x="2014.4" y="2771" font-size="42" text-anchor="middle" fill="#262626">3.0</text>
<text x="1154" y="2709" font-size="42" text-anchor="end" fill="#262626">0</text>
<text x="1154" y="2634.5" font-size="42" text-anchor="end" fill="#262626">5</text>
<text x="1154" y="2560.1" font-size="42" text-anchor="end" fill="#262626">10</text>
<text x="1154" y="2485.6" font-size="42" text-anchor="end" fill="#262626">15</text>
<text x="1154" y="2411.1" font-size="42" text-anchor="end" fill="#262626">20</text>
<text x="1154" y="2336.7" font-size="42" text-anchor="end" fill="#262626">25</text>
<text x="1154" y="2262.2" font-size="42" text-anchor="end" fill="#262626">30</text>
<text x="1154" y="2187.7" font-size="42" text-anchor="end" fill="#262626">35</text>
<text x="1154" y="2113.3" font-size="42" text-anchor="end" fill="#262626">40</text>
<text x="1154" y="2038.8" font-size="42" text-anchor="end" fill="#262626">45</text>
<text x="1604" y="2805" font-size="42" text-anchor="middle" fill="#262626">V<tspan font-size="27.7" dy="13">D</tspan><tspan dy="-13"> (V)</tspan></text>
<text transform="translate(1102.6,2637.3) rotate(-90)" font-size="44" fill="#262626" textLength="536" lengthAdjust="spacingAndGlyphs">Mixing/pumping velocity ratio</text>
<text x="1056.4" y="2080" font-size="49" fill="#1a1a1a" textLength="63.2" lengthAdjust="spacingAndGlyphs">(H)</text>
<rect x="1646" y="2121" width="363" height="107" fill="#fff" stroke="#666" stroke-width="1.6"/>
<path d="M1650,2146H1732" stroke="#454545" stroke-width="3.1" fill="none"/>
<rect x="1681.5" y="2136.5" width="19" height="19" fill="#454545"/>
<text x="1741" y="2158" font-size="36" fill="#262626">u<tspan font-size="24.5" dy="9">Mix-FEC</tspan><tspan dy="-9" font-size="1">&#8203;</tspan>/u<tspan font-size="24.5" dy="9">Pump-FEC</tspan><tspan dy="-9" font-size="1">&#8203;</tspan></text>
<path d="M1650,2197H1732" stroke="#f0343a" stroke-width="3.1" stroke-dasharray="16 14 22 14 16" fill="none"/>
<circle cx="1691" cy="2197" r="10.5" fill="#f0343a"/>
<text x="1741" y="2209" font-size="36" fill="#262626">u<tspan font-size="24.5" dy="9">Mix-S</tspan><tspan dy="-9" font-size="1">&#8203;</tspan>/u<tspan font-size="24.5" dy="9">Pump-S</tspan><tspan dy="-9" font-size="1">&#8203;</tspan></text></g>
</svg>
</body></html>
